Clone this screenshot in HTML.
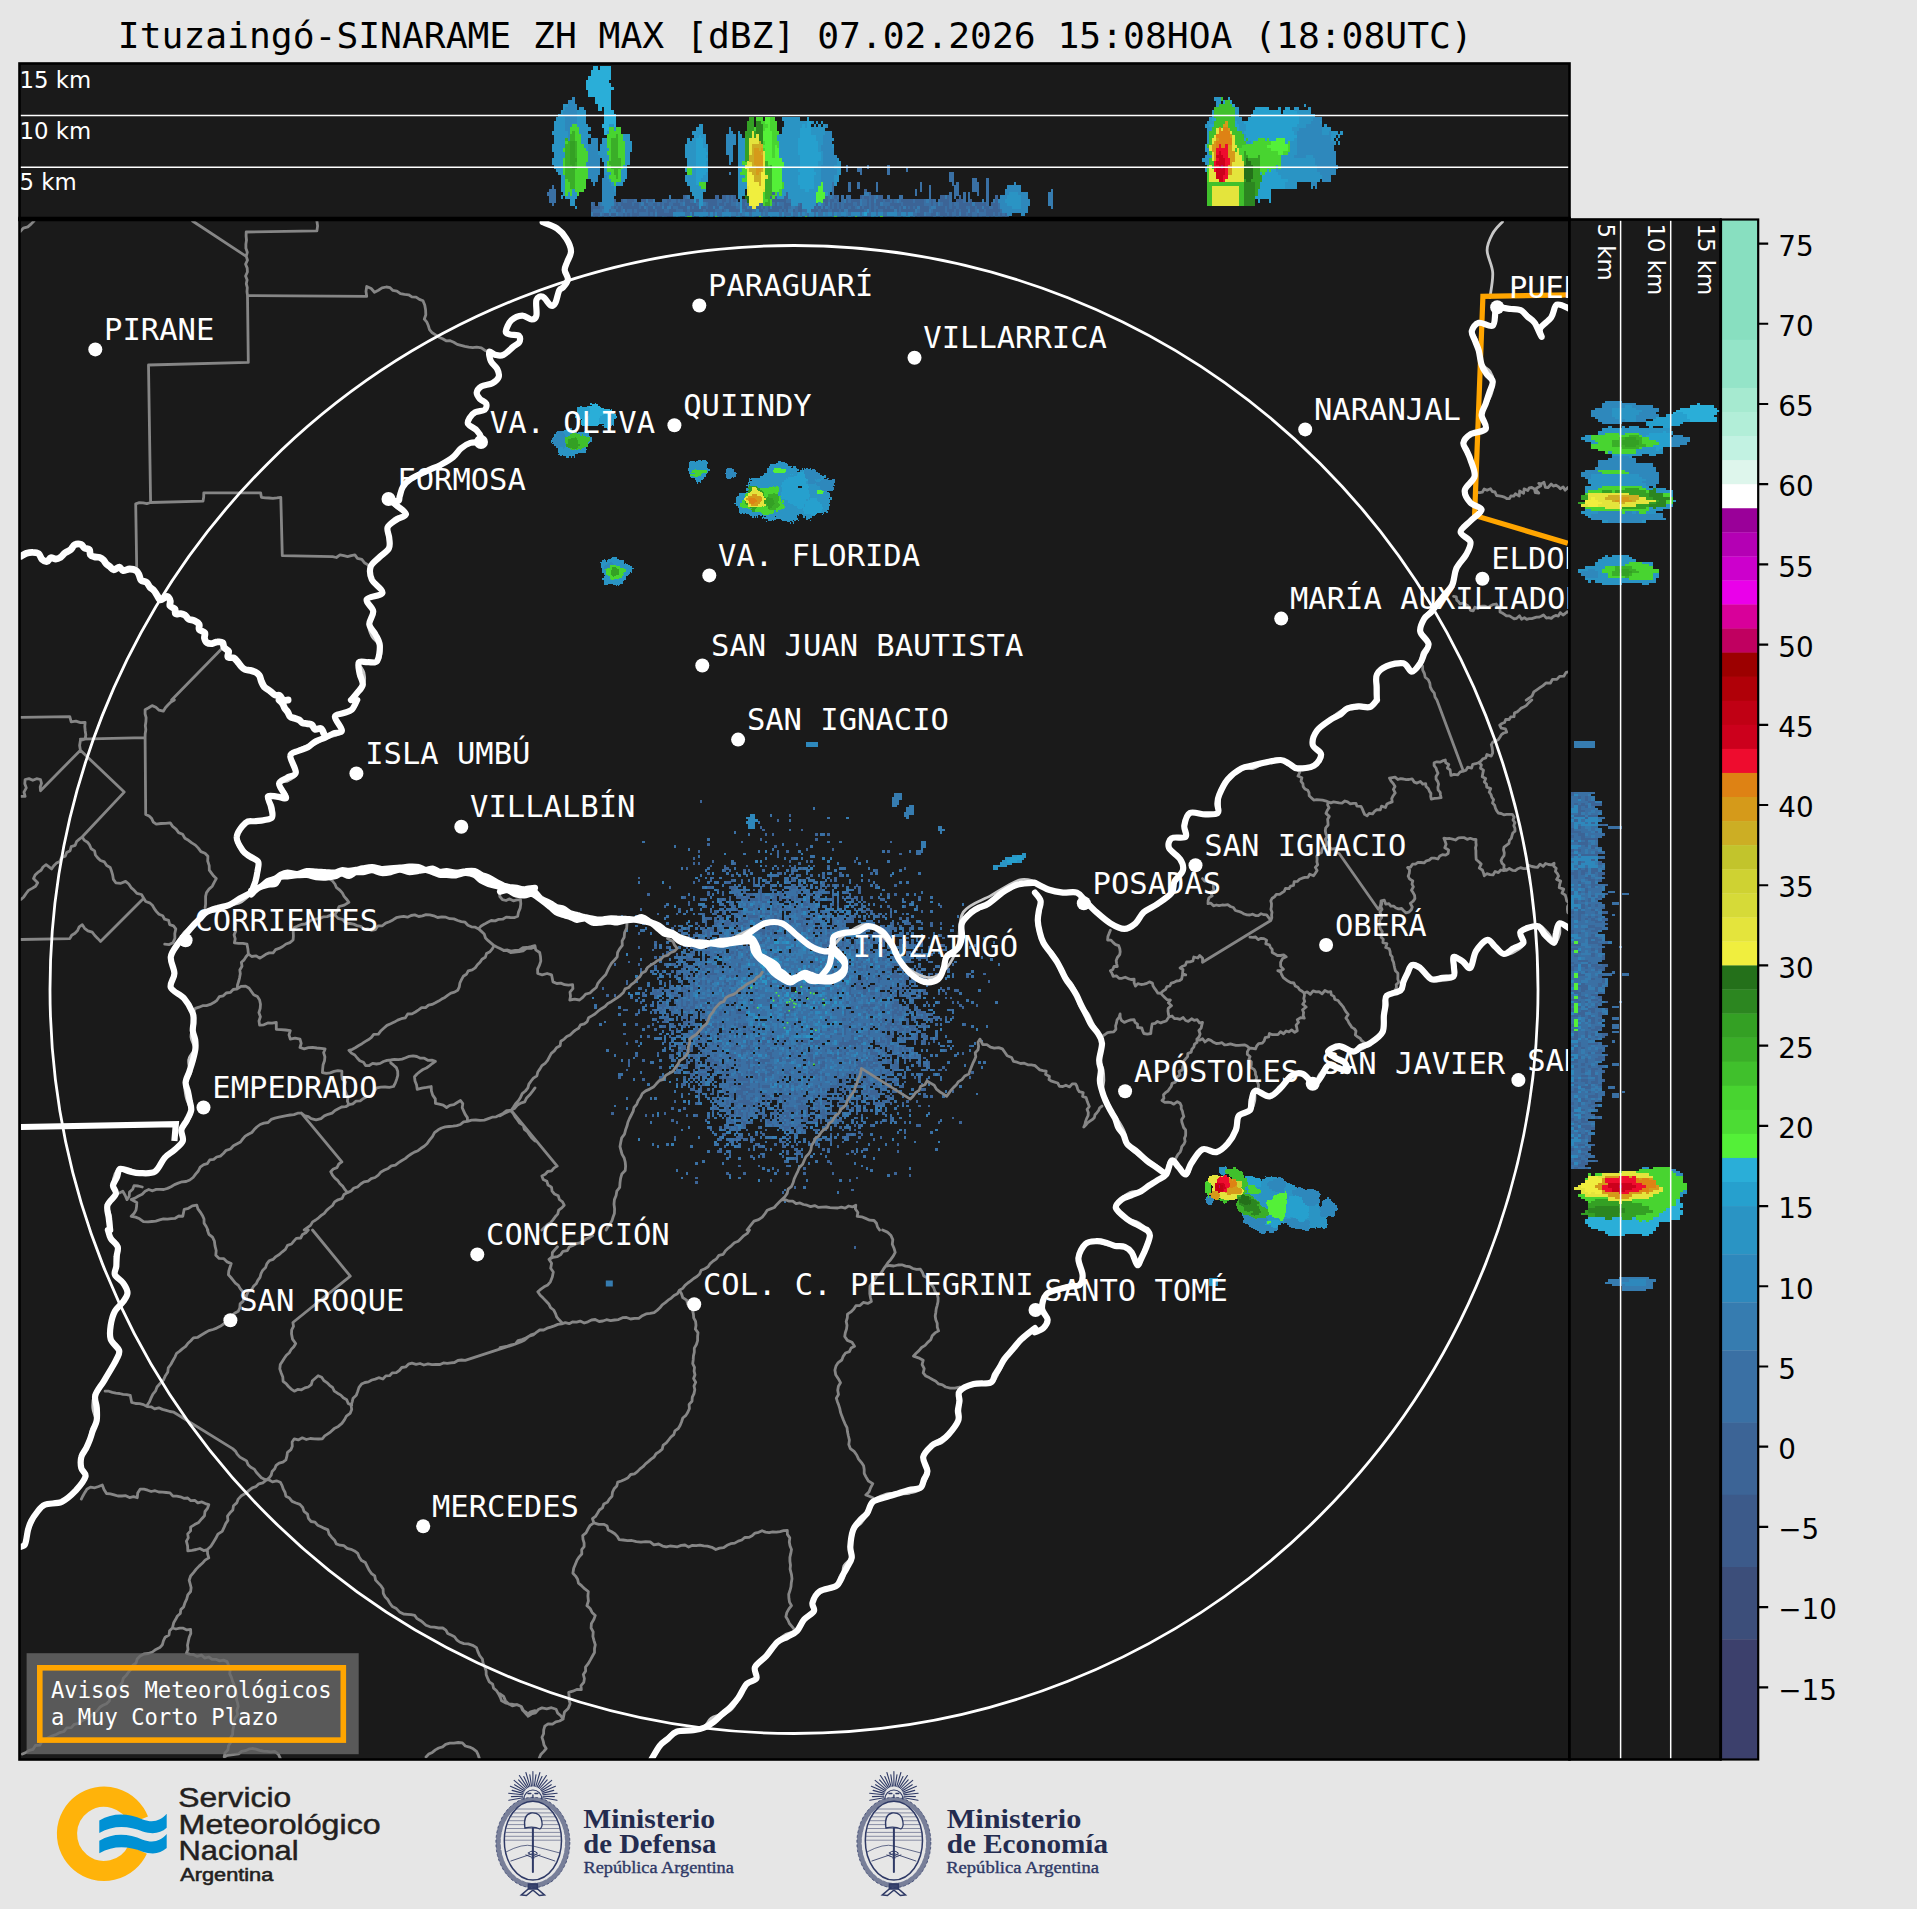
<!DOCTYPE html>
<html lang="es"><head><meta charset="utf-8"><title>Ituzaingó-SINARAME ZH MAX</title>
<style>html,body{margin:0;padding:0;background:#e6e6e6}body{width:1917px;height:1909px}svg{display:block}
.c{font-family:"DejaVu Sans Mono","Liberation Mono",monospace;font-size:30.5px;fill:#fff}.km{font-family:"DejaVu Sans","Liberation Sans",sans-serif;font-size:22.8px;fill:#fff}.tk{font-family:"DejaVu Sans","Liberation Sans",sans-serif;font-size:27.8px;fill:#000}
.ti{font-family:"DejaVu Sans Mono","Liberation Mono",monospace;font-size:36.3px;fill:#000}.lt{font-family:"DejaVu Sans Mono","Liberation Mono",monospace;font-size:22.2px;fill:#fff}
.g{fill:none;stroke:#868686;stroke-width:2.8;stroke-linejoin:round;stroke-linecap:round}
.w{fill:none;stroke:#fff;stroke-width:6.2;stroke-linejoin:round;stroke-linecap:round}
.W{fill:none;stroke:#fff;stroke-width:8;stroke-linejoin:round;stroke-linecap:round}
.lg{fill:none;stroke:#c8c8c8;stroke-width:2.8;stroke-linejoin:round;stroke-linecap:round}
.o{fill:none;stroke:#ffa500;stroke-width:5.2;stroke-linejoin:miter}
</style></head><body>
<svg width="1917" height="1909" viewBox="0 0 1917 1909">
<rect width="1917" height="1909" fill="#e6e6e6"/>
<defs><clipPath id="cm"><rect x="19.5" y="219.5" width="1550" height="1540"/></clipPath>
<clipPath id="ct"><rect x="19.5" y="63.5" width="1550" height="155"/></clipPath>
<clipPath id="cr"><rect x="1570.5" y="219.5" width="150" height="1540"/></clipPath></defs>
<text x="795.3" y="47.6" text-anchor="middle" class="ti">Ituzaingó-SINARAME ZH MAX [dBZ] 07.02.2026 15:08HOA (18:08UTC)</text>
<rect x="19.5" y="63.5" width="1550" height="155" fill="#1a1a1a"/>
<rect x="19.5" y="219.5" width="1550" height="1540" fill="#1a1a1a"/>
<rect x="1570.5" y="219.5" width="150" height="1540" fill="#1a1a1a"/>
<g clip-path="url(#ct)">
<g shape-rendering="crispEdges" fill="none" stroke-width="3.7"><path stroke="#3c6496" d="M864.3 190.5h2.3M772.3 193.9h2.3M786.1 193.9h2.3M868.9 193.9h2.3M682.6 197.3h2.3M714.8 197.3h4.6M721.7 197.3h4.6M728.6 197.3h2.3M733.2 197.3h2.3M770 197.3h2.3M774.6 197.3h2.3M783.8 197.3h4.6M825.2 197.3h2.3M834.4 197.3h2.3M859.7 197.3h2.3M864.3 197.3h4.6M871.2 197.3h2.3M878.1 197.3h4.6M940.2 197.3h4.6M947.1 197.3h2.3M958.6 197.3h2.3M995.4 197.3h2.3M613.6 200.7h2.3M620.5 200.7h2.3M627.4 200.7h6.9M641.2 200.7h4.6M648.1 200.7h4.6M666.5 200.7h4.6M675.7 200.7h2.3M680.3 200.7h2.3M684.9 200.7h4.6M696.4 200.7h2.3M703.3 200.7h13.8M721.7 200.7h4.6M728.6 200.7h2.3M733.2 200.7h2.3M742.4 200.7h4.6M772.3 200.7h13.8M822.9 200.7h4.6M829.8 200.7h4.6M836.7 200.7h2.3M845.9 200.7h2.3M850.5 200.7h9.2M866.6 200.7h2.3M871.2 200.7h2.3M875.8 200.7h6.9M885 200.7h4.6M891.9 200.7h2.3M901.1 200.7h11.5M914.9 200.7h9.2M931 200.7h2.3M940.2 200.7h9.2M956.3 200.7h6.9M970.1 200.7h2.3M995.4 200.7h2.3M592.9 204.1h2.3M615.9 204.1h2.3M620.5 204.1h11.5M634.3 204.1h4.6M643.5 204.1h4.6M652.7 204.1h4.6M659.6 204.1h2.3M664.2 204.1h4.6M673.4 204.1h6.9M684.9 204.1h11.5M707.9 204.1h9.2M719.4 204.1h4.6M726.3 204.1h4.6M742.4 204.1h2.3M747 204.1h2.3M760.8 204.1h2.3M774.6 204.1h2.3M783.8 204.1h6.9M799.9 204.1h2.3M816 204.1h2.3M825.2 204.1h2.3M829.8 204.1h2.3M834.4 204.1h2.3M839 204.1h2.3M843.6 204.1h9.2M857.4 204.1h2.3M866.6 204.1h2.3M871.2 204.1h2.3M875.8 204.1h4.6M889.6 204.1h11.5M903.4 204.1h20.7M931 204.1h2.3M935.6 204.1h2.3M942.5 204.1h6.9M951.7 204.1h2.3M958.6 204.1h13.8M974.7 204.1h11.5M990.8 204.1h6.9M590.6 207.5h9.2M613.6 207.5h2.3M618.2 207.5h2.3M622.8 207.5h16.1M641.2 207.5h2.3M648.1 207.5h4.6M655 207.5h6.9M664.2 207.5h2.3M671.1 207.5h2.3M678 207.5h9.2M689.5 207.5h2.3M694.1 207.5h4.6M701 207.5h4.6M707.9 207.5h4.6M714.8 207.5h4.6M724 207.5h11.5M742.4 207.5h4.6M756.2 207.5h4.6M763.1 207.5h2.3M767.7 207.5h2.3M772.3 207.5h9.2M783.8 207.5h4.6M797.6 207.5h4.6M813.7 207.5h2.3M818.3 207.5h2.3M822.9 207.5h2.3M829.8 207.5h2.3M834.4 207.5h2.3M839 207.5h2.3M843.6 207.5h4.6M850.5 207.5h4.6M859.7 207.5h2.3M864.3 207.5h4.6M871.2 207.5h2.3M878.1 207.5h6.9M887.3 207.5h2.3M894.2 207.5h4.6M901.1 207.5h2.3M905.7 207.5h2.3M910.3 207.5h2.3M914.9 207.5h2.3M919.5 207.5h9.2M935.6 207.5h9.2M947.1 207.5h2.3M951.7 207.5h4.6M958.6 207.5h6.9M970.1 207.5h4.6M977 207.5h4.6M983.9 207.5h4.6M993.1 207.5h4.6M590.6 210.9h2.3M615.9 210.9h4.6M625.1 210.9h2.3M632 210.9h2.3M636.6 210.9h9.2M648.1 210.9h6.9M657.3 210.9h6.9M668.8 210.9h6.9M682.6 210.9h4.6M689.5 210.9h13.8M705.6 210.9h9.2M721.7 210.9h2.3M728.6 210.9h11.5M744.7 210.9h6.9M758.5 210.9h4.6M767.7 210.9h11.5M781.5 210.9h2.3M786.1 210.9h2.3M793 210.9h2.3M797.6 210.9h4.6M811.4 210.9h6.9M820.6 210.9h6.9M832.1 210.9h6.9M841.3 210.9h2.3M848.2 210.9h16.1M871.2 210.9h2.3M875.8 210.9h2.3M882.7 210.9h11.5M896.5 210.9h2.3M901.1 210.9h13.8M919.5 210.9h9.2M933.3 210.9h11.5M947.1 210.9h6.9M956.3 210.9h2.3M960.9 210.9h6.9M970.1 210.9h4.6M979.3 210.9h4.6M986.2 210.9h13.8M592.9 214.3h6.9M604.4 214.3h4.6M611.3 214.3h4.6M622.8 214.3h2.3M627.4 214.3h2.3M632 214.3h6.9M648.1 214.3h2.3M652.7 214.3h2.3M657.3 214.3h16.1M691.8 214.3h2.3M917.2 214.3h6.9M931 214.3h4.6M940.2 214.3h6.9M949.4 214.3h2.3M956.3 214.3h2.3M960.9 214.3h4.6M967.8 214.3h4.6M977 214.3h2.3M986.2 214.3h6.9M995.4 214.3h2.3M1000 214.3h2.3M1004.6 214.3h2.3M590.6 217.7h2.3M595.2 217.7h2.3M602.1 217.7h2.3M609 217.7h2.3M615.9 217.7h4.6M622.8 217.7h2.3M627.4 217.7h2.3M632 217.7h4.6M638.9 217.7h16.1M657.3 217.7h4.6M666.5 217.7h6.9M694.1 217.7h2.3M712.5 217.7h2.3M914.9 217.7h2.3M919.5 217.7h13.8M935.6 217.7h4.6M942.5 217.7h2.3M947.1 217.7h4.6M954 217.7h2.3M958.6 217.7h9.2M970.1 217.7h2.3M977 217.7h2.3M981.6 217.7h4.6M988.5 217.7h2.3M993.1 217.7h2.3M1002.3 217.7h2.3M1006.9 217.7h2.3"/><path stroke="#3a70a4" d="M845.9 166.7h2.3M866.6 166.7h2.3M887.3 166.7h2.3M845.9 170.1h2.3M857.4 170.1h4.6M887.3 170.1h2.3M905.7 170.1h2.3M859.7 173.5h2.3M887.3 173.5h2.3M949.4 173.5h4.6M949.4 176.9h4.6M949.4 180.3h4.6M972.4 180.3h4.6M986.2 180.3h2.3M832.1 183.7h2.3M848.2 183.7h2.3M857.4 183.7h2.3M875.8 183.7h2.3M919.5 183.7h2.3M951.7 183.7h2.3M956.3 183.7h2.3M972.4 183.7h6.9M986.2 183.7h2.3M551.5 187.1h2.3M832.1 187.1h2.3M848.2 187.1h2.3M857.4 187.1h2.3M875.8 187.1h2.3M919.5 187.1h2.3M928.7 187.1h2.3M954 187.1h4.6M972.4 187.1h6.9M986.2 187.1h2.3M549.2 190.5h6.9M832.1 190.5h2.3M848.2 190.5h2.3M875.8 190.5h2.3M914.9 190.5h2.3M919.5 190.5h2.3M928.7 190.5h2.3M954 190.5h4.6M972.4 190.5h6.9M986.2 190.5h2.3M546.9 193.9h9.2M832.1 193.9h2.3M914.9 193.9h2.3M928.7 193.9h2.3M949.4 193.9h2.3M954 193.9h4.6M963.2 193.9h2.3M967.8 193.9h2.3M977 193.9h2.3M986.2 193.9h2.3M549.2 197.3h6.9M684.9 197.3h2.3M726.3 197.3h2.3M730.9 197.3h2.3M827.5 197.3h2.3M832.1 197.3h2.3M836.7 197.3h2.3M841.3 197.3h2.3M845.9 197.3h4.6M862 197.3h2.3M868.9 197.3h2.3M873.5 197.3h2.3M887.3 197.3h2.3M898.8 197.3h4.6M928.7 197.3h2.3M949.4 197.3h2.3M954 197.3h2.3M963.2 197.3h2.3M967.8 197.3h2.3M986.2 197.3h2.3M549.2 200.7h6.9M622.8 200.7h4.6M634.3 200.7h2.3M661.9 200.7h4.6M671.1 200.7h4.6M678 200.7h2.3M682.6 200.7h2.3M689.5 200.7h4.6M717.1 200.7h4.6M726.3 200.7h2.3M730.9 200.7h2.3M735.5 200.7h2.3M786.1 200.7h4.6M827.5 200.7h2.3M834.4 200.7h2.3M841.3 200.7h2.3M848.2 200.7h2.3M862 200.7h4.6M868.9 200.7h2.3M882.7 200.7h2.3M889.6 200.7h2.3M894.2 200.7h2.3M898.8 200.7h2.3M912.6 200.7h2.3M924.1 200.7h2.3M928.7 200.7h2.3M933.3 200.7h2.3M937.9 200.7h2.3M949.4 200.7h2.3M963.2 200.7h2.3M967.8 200.7h2.3M986.2 200.7h2.3M551.5 204.1h2.3M590.6 204.1h2.3M597.5 204.1h2.3M613.6 204.1h2.3M618.2 204.1h2.3M632 204.1h2.3M638.9 204.1h2.3M648.1 204.1h4.6M657.3 204.1h2.3M661.9 204.1h2.3M668.8 204.1h4.6M680.3 204.1h2.3M696.4 204.1h2.3M705.6 204.1h2.3M717.1 204.1h2.3M724 204.1h2.3M730.9 204.1h4.6M737.8 204.1h2.3M744.7 204.1h2.3M758.5 204.1h2.3M772.3 204.1h2.3M779.2 204.1h4.6M797.6 204.1h2.3M822.9 204.1h2.3M832.1 204.1h2.3M836.7 204.1h2.3M841.3 204.1h2.3M852.8 204.1h4.6M862 204.1h4.6M868.9 204.1h2.3M873.5 204.1h2.3M882.7 204.1h6.9M901.1 204.1h2.3M924.1 204.1h6.9M933.3 204.1h2.3M940.2 204.1h2.3M949.4 204.1h2.3M954 204.1h4.6M986.2 204.1h2.3M997.7 204.1h2.3M599.8 207.5h4.6M611.3 207.5h2.3M615.9 207.5h2.3M620.5 207.5h2.3M638.9 207.5h2.3M645.8 207.5h2.3M673.4 207.5h4.6M691.8 207.5h2.3M705.6 207.5h2.3M721.7 207.5h2.3M735.5 207.5h4.6M749.3 207.5h2.3M760.8 207.5h2.3M765.4 207.5h2.3M781.5 207.5h2.3M788.4 207.5h2.3M795.3 207.5h2.3M816 207.5h2.3M827.5 207.5h2.3M832.1 207.5h2.3M836.7 207.5h2.3M841.3 207.5h2.3M848.2 207.5h2.3M855.1 207.5h2.3M862 207.5h2.3M868.9 207.5h2.3M873.5 207.5h4.6M885 207.5h2.3M889.6 207.5h4.6M898.8 207.5h2.3M908 207.5h2.3M912.6 207.5h2.3M928.7 207.5h2.3M944.8 207.5h2.3M949.4 207.5h2.3M956.3 207.5h2.3M965.5 207.5h4.6M974.7 207.5h2.3M988.5 207.5h4.6M997.7 207.5h2.3M592.9 210.9h9.2M609 210.9h2.3M620.5 210.9h2.3M627.4 210.9h4.6M634.3 210.9h2.3M645.8 210.9h2.3M655 210.9h2.3M664.2 210.9h4.6M675.7 210.9h6.9M687.2 210.9h2.3M703.3 210.9h2.3M714.8 210.9h6.9M724 210.9h2.3M742.4 210.9h2.3M751.6 210.9h4.6M763.1 210.9h4.6M779.2 210.9h2.3M783.8 210.9h2.3M795.3 210.9h2.3M802.2 210.9h4.6M818.3 210.9h2.3M827.5 210.9h4.6M839 210.9h2.3M864.3 210.9h2.3M868.9 210.9h2.3M873.5 210.9h2.3M878.1 210.9h4.6M898.8 210.9h2.3M917.2 210.9h2.3M931 210.9h2.3M944.8 210.9h2.3M954 210.9h2.3M958.6 210.9h2.3M974.7 210.9h2.3M983.9 210.9h2.3M1000 210.9h2.3M602.1 214.3h2.3M618.2 214.3h4.6M625.1 214.3h2.3M629.7 214.3h2.3M638.9 214.3h9.2M650.4 214.3h2.3M684.9 214.3h4.6M707.9 214.3h2.3M712.5 214.3h2.3M717.1 214.3h4.6M735.5 214.3h2.3M740.1 214.3h2.3M749.3 214.3h2.3M760.8 214.3h2.3M765.4 214.3h2.3M779.2 214.3h2.3M783.8 214.3h6.9M793 214.3h4.6M799.9 214.3h2.3M806.8 214.3h2.3M813.7 214.3h2.3M818.3 214.3h4.6M832.1 214.3h2.3M848.2 214.3h2.3M859.7 214.3h2.3M866.6 214.3h4.6M875.8 214.3h2.3M882.7 214.3h4.6M896.5 214.3h4.6M905.7 214.3h2.3M912.6 214.3h4.6M926.4 214.3h4.6M937.9 214.3h2.3M947.1 214.3h2.3M951.7 214.3h4.6M965.5 214.3h2.3M972.4 214.3h4.6M979.3 214.3h6.9M993.1 214.3h2.3M997.7 214.3h2.3M1002.3 214.3h2.3M592.9 217.7h2.3M599.8 217.7h2.3M606.7 217.7h2.3M613.6 217.7h2.3M620.5 217.7h2.3M625.1 217.7h2.3M629.7 217.7h2.3M636.6 217.7h2.3M664.2 217.7h2.3M680.3 217.7h4.6M696.4 217.7h2.3M705.6 217.7h2.3M730.9 217.7h4.6M742.4 217.7h2.3M756.2 217.7h2.3M767.7 217.7h2.3M783.8 217.7h2.3M793 217.7h2.3M802.2 217.7h2.3M813.7 217.7h2.3M841.3 217.7h2.3M852.8 217.7h2.3M862 217.7h9.2M878.1 217.7h2.3M882.7 217.7h11.5M901.1 217.7h2.3M910.3 217.7h2.3M917.2 217.7h2.3M944.8 217.7h2.3M951.7 217.7h2.3M967.8 217.7h2.3M979.3 217.7h2.3M990.8 217.7h2.3M997.7 217.7h4.6M1004.6 217.7h2.3"/><path stroke="#367cb0" d="M728.6 173.5h2.3M1050.6 190.5h2.3M827.5 193.9h2.3M864.3 193.9h4.6M1048.3 193.9h4.6M668.8 197.3h2.3M687.2 197.3h2.3M829.8 197.3h2.3M875.8 197.3h2.3M944.8 197.3h2.3M1048.3 197.3h4.6M645.8 200.7h2.3M652.7 200.7h2.3M843.6 200.7h2.3M859.7 200.7h2.3M873.5 200.7h2.3M896.5 200.7h2.3M926.4 200.7h2.3M981.6 200.7h2.3M993.1 200.7h2.3M1048.3 200.7h4.6M599.8 204.1h2.3M641.2 204.1h2.3M682.6 204.1h2.3M703.3 204.1h2.3M735.5 204.1h2.3M776.9 204.1h2.3M820.6 204.1h2.3M827.5 204.1h2.3M859.7 204.1h2.3M880.4 204.1h2.3M937.9 204.1h2.3M972.4 204.1h2.3M1048.3 204.1h4.6M643.5 207.5h2.3M652.7 207.5h2.3M661.9 207.5h2.3M666.5 207.5h4.6M687.2 207.5h2.3M712.5 207.5h2.3M719.4 207.5h2.3M747 207.5h2.3M770 207.5h2.3M790.7 207.5h4.6M820.6 207.5h2.3M825.2 207.5h2.3M857.4 207.5h2.3M903.4 207.5h2.3M917.2 207.5h2.3M931 207.5h4.6M981.6 207.5h2.3M1050.6 207.5h2.3M602.1 210.9h2.3M611.3 210.9h4.6M622.8 210.9h2.3M726.3 210.9h2.3M788.4 210.9h4.6M843.6 210.9h4.6M894.2 210.9h2.3M914.9 210.9h2.3M928.7 210.9h2.3M967.8 210.9h2.3M977 210.9h2.3M590.6 214.3h2.3M599.8 214.3h2.3M609 214.3h2.3M615.9 214.3h2.3M655 214.3h2.3M730.9 214.3h4.6M737.8 214.3h2.3M742.4 214.3h2.3M763.1 214.3h2.3M804.5 214.3h2.3M825.2 214.3h2.3M836.7 214.3h4.6M845.9 214.3h2.3M924.1 214.3h2.3M935.6 214.3h2.3M958.6 214.3h2.3M597.5 217.7h2.3M604.4 217.7h2.3M611.3 217.7h2.3M655 217.7h2.3M661.9 217.7h2.3M744.7 217.7h2.3M829.8 217.7h2.3M845.9 217.7h2.3M933.3 217.7h2.3M940.2 217.7h2.3M956.3 217.7h2.3M972.4 217.7h4.6M986.2 217.7h2.3M995.4 217.7h2.3"/><path stroke="#2e88bc" d="M572.2 98.7h2.3M567.6 102.1h6.9M567.6 105.5h9.2M565.3 108.9h11.5M563 112.3h13.8M563 115.7h13.8M565.3 119.1h11.5M1312.8 119.1h9.2M565.3 122.5h11.5M1310.5 122.5h9.2M565.3 125.9h6.9M825.2 125.9h2.3M1305.9 125.9h16.1M565.3 129.3h4.6M728.6 129.3h2.3M1299 129.3h23M567.6 132.7h2.3M728.6 132.7h4.6M825.2 132.7h6.9M1296.7 132.7h25.3M1328.9 132.7h2.3M567.6 136.1h2.3M726.3 136.1h9.2M822.9 136.1h9.2M1296.7 136.1h34.5M567.6 139.5h2.3M590.6 139.5h6.9M726.3 139.5h9.2M822.9 139.5h9.2M1296.7 139.5h34.5M590.6 142.9h6.9M726.3 142.9h9.2M822.9 142.9h9.2M1296.7 142.9h36.8M588.3 146.3h9.2M726.3 146.3h6.9M820.6 146.3h11.5M1296.7 146.3h36.8M588.3 149.7h9.2M726.3 149.7h6.9M820.6 149.7h13.8M1296.7 149.7h36.8M588.3 153.1h9.2M726.3 153.1h6.9M822.9 153.1h11.5M1296.7 153.1h39.1M588.3 156.5h11.5M728.6 156.5h4.6M822.9 156.5h13.8M1294.4 156.5h11.5M1312.8 156.5h23M588.3 159.9h11.5M728.6 159.9h4.6M822.9 159.9h13.8M1315.1 159.9h20.7M586 163.3h13.8M728.6 163.3h2.3M822.9 163.3h13.8M1315.1 163.3h20.7M586 166.7h13.8M820.6 166.7h13.8M1317.4 166.7h20.7M588.3 170.1h11.5M820.6 170.1h16.1M1317.4 170.1h18.4M588.3 173.5h11.5M820.6 173.5h16.1M1319.7 173.5h16.1M588.3 176.9h9.2M604.4 176.9h2.3M820.6 176.9h13.8M1322 176.9h9.2M590.6 180.3h6.9M602.1 180.3h6.9M820.6 180.3h13.8M1322 180.3h9.2M592.9 183.7h2.3M602.1 183.7h9.2M822.9 183.7h9.2M1013.8 183.7h2.3M1310.5 183.7h6.9M602.1 187.1h11.5M822.9 187.1h9.2M1006.9 187.1h13.8M1315.1 187.1h2.3M602.1 190.5h11.5M822.9 190.5h9.2M1004.6 190.5h16.1M602.1 193.9h13.8M1004.6 193.9h4.6M1018.4 193.9h9.2M602.1 197.3h11.5M1000 197.3h6.9M1020.7 197.3h6.9M602.1 200.7h11.5M997.7 200.7h6.9M1020.7 200.7h9.2M602.1 204.1h11.5M1000 204.1h6.9M1020.7 204.1h9.2M604.4 207.5h6.9M1000 207.5h11.5M1020.7 207.5h6.9M604.4 210.9h4.6M756.2 210.9h2.3M866.6 210.9h2.3M1002.3 210.9h25.3M673.4 214.3h11.5M689.5 214.3h2.3M694.1 214.3h13.8M710.2 214.3h2.3M714.8 214.3h2.3M721.7 214.3h9.2M744.7 214.3h4.6M751.6 214.3h9.2M767.7 214.3h11.5M781.5 214.3h2.3M790.7 214.3h2.3M797.6 214.3h2.3M802.2 214.3h2.3M809.1 214.3h4.6M816 214.3h2.3M822.9 214.3h2.3M827.5 214.3h4.6M834.4 214.3h2.3M841.3 214.3h4.6M850.5 214.3h9.2M862 214.3h2.3M871.2 214.3h4.6M878.1 214.3h4.6M887.3 214.3h9.2M901.1 214.3h4.6M908 214.3h4.6M1006.9 214.3h4.6M1020.7 214.3h4.6M673.4 217.7h2.3M678 217.7h2.3M691.8 217.7h2.3M703.3 217.7h2.3M707.9 217.7h2.3M719.4 217.7h2.3M724 217.7h4.6M740.1 217.7h2.3M747 217.7h4.6M753.9 217.7h2.3M763.1 217.7h4.6M772.3 217.7h4.6M779.2 217.7h2.3M790.7 217.7h2.3M795.3 217.7h2.3M806.8 217.7h2.3M818.3 217.7h11.5M832.1 217.7h2.3M836.7 217.7h4.6M843.6 217.7h2.3M850.5 217.7h2.3M857.4 217.7h4.6M873.5 217.7h2.3M894.2 217.7h6.9M903.4 217.7h2.3M912.6 217.7h2.3"/><path stroke="#26a0ce" d="M1227.7 98.7h2.3M1223.1 102.1h2.3M1230 102.1h2.3M1232.3 105.5h2.3M1255.3 108.9h13.8M1278.3 108.9h2.3M1285.2 108.9h4.6M1253 112.3h27.6M1282.9 112.3h13.8M1250.7 115.7h48.3M806.8 119.1h2.3M1211.6 119.1h4.6M1248.4 119.1h50.6M806.8 122.5h4.6M1234.6 122.5h2.3M1243.8 122.5h55.2M802.2 125.9h2.3M806.8 125.9h4.6M1209.3 125.9h4.6M1234.6 125.9h4.6M1246.1 125.9h50.6M799.9 129.3h11.5M1236.9 129.3h2.3M1246.1 129.3h46M799.9 132.7h11.5M1243.8 132.7h50.6M698.7 136.1h2.3M799.9 136.1h16.1M1246.1 136.1h50.6M696.4 139.5h6.9M797.6 139.5h18.4M1243.8 139.5h2.3M1248.4 139.5h9.2M1264.5 139.5h2.3M1269.1 139.5h6.9M1285.2 139.5h9.2M696.4 142.9h6.9M797.6 142.9h20.7M1250.7 142.9h2.3M1285.2 142.9h2.3M696.4 146.3h6.9M797.6 146.3h20.7M696.4 149.7h9.2M797.6 149.7h20.7M696.4 153.1h11.5M797.6 153.1h23M696.4 156.5h9.2M799.9 156.5h20.7M696.4 159.9h11.5M799.9 159.9h20.7M696.4 163.3h9.2M799.9 163.3h18.4M696.4 166.7h9.2M799.9 166.7h18.4M696.4 170.1h11.5M797.6 170.1h16.1M1266.8 170.1h2.3M1271.4 170.1h4.6M696.4 173.5h9.2M799.9 173.5h16.1M1259.9 173.5h2.3M1264.5 173.5h13.8M696.4 176.9h6.9M797.6 176.9h16.1M1262.2 176.9h18.4M696.4 180.3h4.6M797.6 180.3h16.1M1262.2 180.3h25.3M696.4 183.7h2.3M797.6 183.7h16.1M1259.9 183.7h25.3M799.9 187.1h13.8M1259.9 187.1h25.3M804.5 190.5h4.6M1257.6 190.5h13.8M1257.6 193.9h13.8M1255.3 197.3h16.1M1257.6 200.7h2.3M1269.1 200.7h2.3M864.3 214.3h2.3M675.7 217.7h2.3M684.9 217.7h2.3M698.7 217.7h4.6M710.2 217.7h2.3M717.1 217.7h2.3M721.7 217.7h2.3M728.6 217.7h2.3M735.5 217.7h4.6M751.6 217.7h2.3M760.8 217.7h2.3M770 217.7h2.3M776.9 217.7h2.3M781.5 217.7h2.3M786.1 217.7h4.6M797.6 217.7h4.6M809.1 217.7h4.6M816 217.7h2.3M848.2 217.7h2.3M871.2 217.7h2.3M875.8 217.7h2.3M905.7 217.7h4.6"/><path stroke="#54f038" d="M765.4 119.1h4.6M765.4 122.5h4.6M767.7 125.9h2.3M765.4 129.3h4.6M763.1 132.7h9.2M763.1 136.1h9.2M763.1 139.5h9.2M1276 139.5h9.2M765.4 142.9h6.9M1271.4 142.9h13.8M763.1 146.3h9.2M774.6 146.3h2.3M1266.8 146.3h20.7M765.4 149.7h6.9M774.6 149.7h4.6M1271.4 149.7h16.1M765.4 153.1h6.9M774.6 153.1h4.6M1278.3 153.1h4.6M765.4 156.5h6.9M774.6 156.5h4.6M765.4 159.9h16.1M767.7 163.3h16.1M772.3 166.7h11.5M772.3 170.1h9.2M772.3 173.5h9.2M772.3 176.9h9.2M772.3 180.3h9.2M772.3 183.7h9.2M820.6 183.7h2.3M772.3 187.1h9.2M818.3 187.1h4.6M772.3 190.5h6.9M818.3 190.5h4.6M816 193.9h9.2M816 197.3h9.2M816 200.7h6.9M687.2 217.7h4.6M714.8 217.7h2.3M758.5 217.7h2.3M804.5 217.7h2.3M834.4 217.7h2.3M855.1 217.7h2.3M880.4 217.7h2.3"/><path stroke="#2aaed8" d="M592.9 68.1h4.6M599.8 68.1h11.5M590.6 71.5h20.7M590.6 74.9h20.7M588.3 78.3h23M586 81.7h23M586 85.1h25.3M586 88.5h27.6M588.3 91.9h23M588.3 95.3h23M595.2 98.7h16.1M595.2 102.1h16.1M597.5 105.5h13.8M597.5 108.9h4.6M604.4 108.9h6.9M604.4 112.3h9.2M604.4 115.7h11.5M604.4 119.1h11.5M604.4 122.5h11.5M602.1 125.9h6.9M613.6 125.9h2.3M604.4 129.3h4.6M604.4 132.7h2.3"/><path stroke="#2a94c4" d="M1213.9 98.7h6.9M1216.2 102.1h4.6M563 105.5h4.6M1216.2 105.5h2.3M1303.6 105.5h2.3M563 108.9h2.3M579.1 108.9h4.6M1234.6 108.9h4.6M1294.4 108.9h4.6M1308.2 108.9h2.3M560.7 112.3h2.3M576.8 112.3h9.2M1211.6 112.3h2.3M1234.6 112.3h4.6M1296.7 112.3h13.8M558.4 115.7h4.6M576.8 115.7h9.2M1211.6 115.7h2.3M1234.6 115.7h4.6M1299 115.7h16.1M556.1 119.1h9.2M576.8 119.1h9.2M781.5 119.1h18.4M1209.3 119.1h2.3M1234.6 119.1h6.9M1299 119.1h13.8M553.8 122.5h11.5M576.8 122.5h9.2M783.8 122.5h23M811.4 122.5h2.3M816 122.5h2.3M820.6 122.5h2.3M1207 122.5h6.9M1236.9 122.5h6.9M1299 122.5h11.5M1319.7 122.5h2.3M553.8 125.9h11.5M576.8 125.9h11.5M609 125.9h4.6M698.7 125.9h4.6M783.8 125.9h18.4M804.5 125.9h2.3M813.7 125.9h2.3M818.3 125.9h2.3M822.9 125.9h2.3M1204.7 125.9h4.6M1239.2 125.9h6.9M1296.7 125.9h9.2M1324.3 125.9h2.3M553.8 129.3h11.5M579.1 129.3h11.5M613.6 129.3h2.3M696.4 129.3h6.9M781.5 129.3h18.4M811.4 129.3h13.8M1207 129.3h4.6M1239.2 129.3h6.9M1292.1 129.3h6.9M1322 129.3h9.2M551.5 132.7h16.1M579.1 132.7h9.2M606.7 132.7h2.3M691.8 132.7h11.5M737.8 132.7h2.3M781.5 132.7h18.4M811.4 132.7h13.8M1207 132.7h2.3M1241.5 132.7h2.3M1294.4 132.7h2.3M1322 132.7h6.9M1331.2 132.7h6.9M1340.4 132.7h2.3M553.8 136.1h13.8M581.4 136.1h9.2M622.8 136.1h6.9M694.1 136.1h4.6M701 136.1h4.6M737.8 136.1h4.6M776.9 136.1h23M816 136.1h6.9M1207 136.1h2.3M1243.8 136.1h2.3M1331.2 136.1h4.6M1338.1 136.1h2.3M553.8 139.5h11.5M581.4 139.5h6.9M602.1 139.5h4.6M622.8 139.5h6.9M687.2 139.5h2.3M691.8 139.5h4.6M703.3 139.5h2.3M737.8 139.5h6.9M776.9 139.5h20.7M816 139.5h6.9M832.1 139.5h2.3M1207 139.5h2.3M1294.4 139.5h2.3M1331.2 139.5h2.3M1335.8 139.5h2.3M553.8 142.9h11.5M581.4 142.9h6.9M602.1 142.9h4.6M625.1 142.9h6.9M687.2 142.9h9.2M703.3 142.9h2.3M737.8 142.9h6.9M779.2 142.9h18.4M818.3 142.9h4.6M1207 142.9h2.3M1246.1 142.9h4.6M1289.8 142.9h6.9M1333.5 142.9h2.3M1338.1 142.9h2.3M551.5 146.3h13.8M583.7 146.3h4.6M599.8 146.3h6.9M625.1 146.3h6.9M684.9 146.3h11.5M703.3 146.3h4.6M737.8 146.3h6.9M779.2 146.3h18.4M818.3 146.3h2.3M832.1 146.3h2.3M1204.7 146.3h2.3M1289.8 146.3h6.9M551.5 149.7h11.5M586 149.7h2.3M599.8 149.7h9.2M625.1 149.7h6.9M684.9 149.7h11.5M705.6 149.7h2.3M737.8 149.7h6.9M779.2 149.7h18.4M818.3 149.7h2.3M1204.7 149.7h4.6M1289.8 149.7h6.9M553.8 153.1h11.5M597.5 153.1h9.2M625.1 153.1h4.6M684.9 153.1h11.5M737.8 153.1h6.9M779.2 153.1h18.4M820.6 153.1h2.3M1207 153.1h2.3M1287.5 153.1h9.2M553.8 156.5h11.5M599.8 156.5h9.2M625.1 156.5h4.6M684.9 156.5h11.5M705.6 156.5h2.3M737.8 156.5h6.9M779.2 156.5h20.7M820.6 156.5h2.3M1204.7 156.5h6.9M1280.6 156.5h13.8M1305.9 156.5h6.9M551.5 159.9h11.5M602.1 159.9h6.9M625.1 159.9h4.6M687.2 159.9h9.2M737.8 159.9h6.9M781.5 159.9h18.4M820.6 159.9h2.3M836.7 159.9h2.3M1202.4 159.9h6.9M1280.6 159.9h34.5M551.5 163.3h11.5M604.4 163.3h2.3M625.1 163.3h4.6M687.2 163.3h9.2M705.6 163.3h2.3M737.8 163.3h4.6M783.8 163.3h16.1M818.3 163.3h4.6M836.7 163.3h4.6M1204.7 163.3h4.6M1280.6 163.3h34.5M553.8 166.7h9.2M604.4 166.7h2.3M622.8 166.7h4.6M687.2 166.7h9.2M705.6 166.7h2.3M737.8 166.7h6.9M783.8 166.7h16.1M818.3 166.7h2.3M834.4 166.7h6.9M1276 166.7h2.3M1280.6 166.7h36.8M556.1 170.1h6.9M604.4 170.1h2.3M620.5 170.1h6.9M684.9 170.1h2.3M691.8 170.1h4.6M737.8 170.1h4.6M781.5 170.1h16.1M813.7 170.1h6.9M836.7 170.1h4.6M1204.7 170.1h2.3M1276 170.1h41.4M558.4 173.5h4.6M604.4 173.5h6.9M620.5 173.5h6.9M691.8 173.5h4.6M705.6 173.5h2.3M737.8 173.5h2.3M781.5 173.5h18.4M816 173.5h4.6M836.7 173.5h4.6M1278.3 173.5h41.4M560.7 176.9h4.6M606.7 176.9h2.3M620.5 176.9h6.9M684.9 176.9h11.5M703.3 176.9h4.6M737.8 176.9h6.9M781.5 176.9h16.1M813.7 176.9h6.9M834.4 176.9h4.6M1280.6 176.9h41.4M560.7 180.3h4.6M609 180.3h2.3M620.5 180.3h4.6M684.9 180.3h11.5M701 180.3h6.9M737.8 180.3h4.6M781.5 180.3h16.1M813.7 180.3h6.9M834.4 180.3h4.6M1287.5 180.3h32.2M560.7 183.7h4.6M611.3 183.7h2.3M615.9 183.7h6.9M687.2 183.7h9.2M737.8 183.7h9.2M783.8 183.7h13.8M813.7 183.7h6.9M834.4 183.7h2.3M1285.2 183.7h11.5M560.7 187.1h4.6M613.6 187.1h2.3M689.5 187.1h11.5M737.8 187.1h9.2M783.8 187.1h16.1M813.7 187.1h4.6M1285.2 187.1h11.5M1310.5 187.1h2.3M560.7 190.5h4.6M572.2 190.5h2.3M613.6 190.5h2.3M689.5 190.5h16.1M737.8 190.5h6.9M781.5 190.5h23M809.1 190.5h9.2M563 193.9h2.3M567.6 193.9h2.3M572.2 193.9h4.6M691.8 193.9h11.5M737.8 193.9h6.9M776.9 193.9h2.3M781.5 193.9h4.6M788.4 193.9h27.6M825.2 193.9h2.3M1009.2 193.9h9.2M560.7 197.3h2.3M565.3 197.3h11.5M694.1 197.3h9.2M737.8 197.3h4.6M776.9 197.3h6.9M788.4 197.3h27.6M1006.9 197.3h13.8M569.9 200.7h4.6M694.1 200.7h2.3M698.7 200.7h4.6M740.1 200.7h2.3M790.7 200.7h25.3M1004.6 200.7h16.1M569.9 204.1h4.6M698.7 204.1h4.6M740.1 204.1h2.3M790.7 204.1h6.9M802.2 204.1h13.8M818.3 204.1h2.3M1006.9 204.1h13.8M574.5 207.5h2.3M698.7 207.5h2.3M740.1 207.5h2.3M802.2 207.5h11.5M1011.5 207.5h9.2M740.1 210.9h2.3M806.8 210.9h4.6"/><path stroke="#48d430" d="M756.2 119.1h6.9M770 119.1h4.6M760.8 122.5h4.6M770 122.5h6.9M572.2 125.9h4.6M763.1 125.9h4.6M770 125.9h6.9M569.9 129.3h9.2M609 129.3h4.6M615.9 129.3h4.6M753.9 129.3h2.3M763.1 129.3h2.3M770 129.3h6.9M569.9 132.7h2.3M574.5 132.7h4.6M609 132.7h11.5M772.3 132.7h6.9M574.5 136.1h6.9M606.7 136.1h9.2M618.2 136.1h4.6M772.3 136.1h4.6M574.5 139.5h6.9M606.7 139.5h4.6M618.2 139.5h4.6M772.3 139.5h4.6M1257.6 139.5h6.9M1266.8 139.5h2.3M565.3 142.9h2.3M576.8 142.9h4.6M606.7 142.9h4.6M618.2 142.9h6.9M763.1 142.9h2.3M772.3 142.9h6.9M1253 142.9h18.4M1287.5 142.9h2.3M576.8 146.3h6.9M606.7 146.3h4.6M618.2 146.3h6.9M772.3 146.3h2.3M776.9 146.3h2.3M1241.5 146.3h25.3M1287.5 146.3h2.3M563 149.7h2.3M576.8 149.7h9.2M609 149.7h2.3M618.2 149.7h6.9M763.1 149.7h2.3M772.3 149.7h2.3M1239.2 149.7h32.2M1287.5 149.7h2.3M576.8 153.1h11.5M606.7 153.1h4.6M618.2 153.1h6.9M772.3 153.1h2.3M1239.2 153.1h4.6M1246.1 153.1h32.2M1282.9 153.1h4.6M576.8 156.5h11.5M609 156.5h2.3M618.2 156.5h6.9M772.3 156.5h2.3M1241.5 156.5h2.3M1248.4 156.5h9.2M1259.9 156.5h20.7M563 159.9h2.3M576.8 159.9h11.5M609 159.9h2.3M620.5 159.9h4.6M1241.5 159.9h2.3M1259.9 159.9h20.7M563 163.3h2.3M576.8 163.3h9.2M606.7 163.3h2.3M620.5 163.3h4.6M742.4 163.3h4.6M1259.9 163.3h20.7M563 166.7h2.3M576.8 166.7h9.2M606.7 166.7h4.6M620.5 166.7h2.3M767.7 166.7h2.3M1207 166.7h2.3M1259.9 166.7h16.1M1278.3 166.7h2.3M563 170.1h2.3M574.5 170.1h13.8M606.7 170.1h6.9M618.2 170.1h2.3M687.2 170.1h4.6M742.4 170.1h4.6M1207 170.1h2.3M1259.9 170.1h6.9M1269.1 170.1h2.3M563 173.5h2.3M574.5 173.5h13.8M611.3 173.5h2.3M618.2 173.5h2.3M687.2 173.5h4.6M740.1 173.5h6.9M1207 173.5h2.3M1262.2 173.5h2.3M574.5 176.9h13.8M609 176.9h6.9M618.2 176.9h2.3M744.7 176.9h2.3M1207 176.9h2.3M565.3 180.3h2.3M574.5 180.3h11.5M611.3 180.3h9.2M742.4 180.3h4.6M1207 180.3h2.3M565.3 183.7h4.6M574.5 183.7h11.5M613.6 183.7h2.3M698.7 183.7h6.9M781.5 183.7h2.3M565.3 187.1h4.6M574.5 187.1h11.5M701 187.1h4.6M781.5 187.1h2.3M565.3 190.5h6.9M574.5 190.5h9.2M779.2 190.5h2.3M565.3 193.9h2.3M569.9 193.9h2.3M576.8 193.9h2.3M763.1 193.9h2.3M774.6 193.9h2.3M779.2 193.9h2.3M763.1 197.3h2.3M772.3 197.3h2.3M763.1 200.7h4.6M770 200.7h2.3M763.1 204.1h2.3M770 204.1h2.3"/><path stroke="#3aae28" d="M572.2 132.7h2.3M569.9 136.1h4.6M615.9 136.1h2.3M565.3 139.5h2.3M569.9 139.5h4.6M611.3 139.5h6.9M567.6 142.9h2.3M574.5 142.9h2.3M611.3 142.9h6.9M565.3 146.3h4.6M574.5 146.3h2.3M611.3 146.3h6.9M565.3 149.7h4.6M574.5 149.7h2.3M611.3 149.7h6.9M565.3 153.1h4.6M574.5 153.1h2.3M611.3 153.1h6.9M565.3 156.5h4.6M574.5 156.5h2.3M611.3 156.5h6.9M565.3 159.9h4.6M611.3 159.9h9.2M565.3 163.3h4.6M574.5 163.3h2.3M609 163.3h11.5M765.4 163.3h2.3M565.3 166.7h6.9M574.5 166.7h2.3M611.3 166.7h9.2M765.4 166.7h2.3M770 166.7h2.3M565.3 170.1h9.2M613.6 170.1h4.6M765.4 170.1h6.9M565.3 173.5h9.2M613.6 173.5h4.6M765.4 173.5h6.9M565.3 176.9h9.2M615.9 176.9h2.3M767.7 176.9h4.6M567.6 180.3h6.9M765.4 180.3h6.9M569.9 183.7h4.6M765.4 183.7h6.9M569.9 187.1h4.6M765.4 187.1h6.9M765.4 190.5h6.9M765.4 193.9h6.9M765.4 197.3h4.6M767.7 200.7h2.3M765.4 204.1h4.6"/><path stroke="#34a024" d="M749.3 119.1h4.6M747 122.5h6.9M747 125.9h6.9M747 129.3h6.9M744.7 132.7h6.9M753.9 132.7h2.3M744.7 136.1h6.9M753.9 136.1h2.3M744.7 139.5h4.6M569.9 142.9h4.6M744.7 142.9h4.6M569.9 146.3h4.6M744.7 146.3h4.6M569.9 149.7h4.6M744.7 149.7h4.6M569.9 153.1h4.6M744.7 153.1h4.6M1243.8 153.1h2.3M569.9 156.5h4.6M744.7 156.5h4.6M1243.8 156.5h4.6M1257.6 156.5h2.3M569.9 159.9h6.9M744.7 159.9h4.6M1243.8 159.9h2.3M1248.4 159.9h11.5M569.9 163.3h4.6M1243.8 163.3h2.3M1250.7 163.3h9.2M572.2 166.7h2.3M1253 166.7h6.9M1253 170.1h6.9M1253 173.5h6.9M1253 176.9h9.2M1243.8 180.3h2.3M1250.7 180.3h11.5M1255.3 183.7h4.6M1255.3 187.1h4.6M1255.3 190.5h2.3M1255.3 193.9h2.3"/><path stroke="#2c8620" d="M756.2 122.5h4.6M756.2 125.9h6.9M756.2 129.3h6.9M756.2 132.7h6.9M758.5 136.1h4.6M758.5 139.5h4.6M760.8 142.9h2.3M1243.8 183.7h11.5M1243.8 187.1h11.5M1243.8 190.5h11.5M1243.8 193.9h11.5M1243.8 197.3h11.5M1243.8 200.7h11.5M1243.8 204.1h11.5"/><path stroke="#24701a" d="M1246.1 159.9h2.3M1246.1 163.3h4.6M1243.8 166.7h9.2M1243.8 170.1h9.2M1243.8 173.5h9.2M1243.8 176.9h9.2M1246.1 180.3h4.6M744.7 197.3h4.6M747 200.7h2.3"/><path stroke="#e4e43c" d="M1216.2 129.3h2.3M1220.8 129.3h2.3M751.6 132.7h2.3M1216.2 132.7h2.3M1230 132.7h2.3M751.6 136.1h2.3M756.2 136.1h2.3M1213.9 136.1h2.3M1232.3 136.1h2.3M749.3 139.5h9.2M1211.6 139.5h4.6M1232.3 139.5h2.3M749.3 142.9h9.2M1211.6 142.9h2.3M1232.3 142.9h2.3M749.3 146.3h2.3M1209.3 146.3h2.3M1232.3 146.3h4.6M749.3 149.7h2.3M1209.3 149.7h2.3M1232.3 149.7h2.3M1236.9 149.7h2.3M749.3 153.1h2.3M763.1 153.1h2.3M1211.6 153.1h2.3M1234.6 153.1h4.6M763.1 156.5h2.3M1211.6 156.5h2.3M1234.6 156.5h6.9M763.1 159.9h2.3M1211.6 159.9h2.3M1234.6 159.9h6.9M747 163.3h4.6M763.1 163.3h2.3M1232.3 163.3h11.5M744.7 166.7h4.6M763.1 166.7h2.3M1209.3 166.7h2.3M1232.3 166.7h11.5M747 170.1h2.3M763.1 170.1h2.3M1209.3 170.1h4.6M1232.3 170.1h11.5M1209.3 173.5h6.9M1232.3 173.5h11.5M765.4 176.9h2.3M1209.3 176.9h6.9M1227.7 176.9h16.1M1209.3 180.3h9.2M1225.4 180.3h18.4M747 187.1h2.3M1211.6 187.1h27.6M747 190.5h2.3M763.1 190.5h2.3M1211.6 190.5h27.6M747 193.9h2.3M1211.6 193.9h27.6M1211.6 197.3h27.6M1211.6 200.7h27.6M1211.6 204.1h27.6M751.6 207.5h4.6"/><path stroke="#f0ee3e" d="M749.3 166.7h2.3M747 173.5h4.6M760.8 173.5h4.6M747 176.9h6.9M760.8 176.9h4.6M747 180.3h6.9M760.8 180.3h4.6M747 183.7h11.5M760.8 183.7h4.6M749.3 187.1h16.1M749.3 190.5h13.8M749.3 193.9h13.8M749.3 197.3h13.8M749.3 200.7h13.8M749.3 204.1h9.2"/><path stroke="#ccae24" d="M758.5 142.9h2.3M751.6 146.3h11.5M751.6 149.7h2.3M758.5 149.7h2.3M751.6 153.1h2.3M760.8 153.1h2.3M749.3 156.5h4.6M749.3 159.9h4.6M751.6 163.3h2.3M751.6 166.7h4.6M749.3 170.1h6.9M760.8 170.1h2.3M751.6 173.5h4.6M758.5 173.5h2.3M753.9 176.9h6.9M753.9 180.3h6.9M758.5 183.7h2.3"/><path stroke="#d59a1a" d="M1225.4 122.5h2.3M1223.1 125.9h4.6M1227.7 129.3h2.3M1230 136.1h2.3M1216.2 139.5h2.3M1213.9 142.9h2.3M1211.6 146.3h4.6M1227.7 146.3h4.6M753.9 149.7h4.6M760.8 149.7h2.3M1211.6 149.7h4.6M1227.7 149.7h4.6M753.9 153.1h6.9M1213.9 153.1h2.3M1227.7 153.1h6.9M753.9 156.5h9.2M1213.9 156.5h2.3M1227.7 156.5h6.9M753.9 159.9h9.2M1213.9 159.9h2.3M1230 159.9h4.6M753.9 163.3h9.2M1230 163.3h2.3M756.2 166.7h6.9M1227.7 166.7h4.6M756.2 170.1h4.6M1227.7 170.1h4.6M756.2 173.5h2.3M1227.7 173.5h4.6"/><path stroke="#40c02c" d="M1220.8 98.7h2.3M1225.4 102.1h4.6M1218.5 105.5h13.8M1213.9 108.9h20.7M1213.9 112.3h20.7M1213.9 115.7h20.7M1216.2 119.1h18.4M1213.9 122.5h11.5M1227.7 122.5h6.9M1213.9 125.9h9.2M1227.7 125.9h6.9M1211.6 129.3h4.6M1230 129.3h6.9M1209.3 132.7h6.9M1232.3 132.7h9.2M1209.3 136.1h4.6M1234.6 136.1h9.2M1209.3 139.5h2.3M1234.6 139.5h9.2M1246.1 139.5h2.3M1209.3 142.9h2.3M1234.6 142.9h11.5M1207 146.3h2.3M1236.9 146.3h4.6M1234.6 149.7h2.3M1209.3 153.1h2.3M1209.3 159.9h2.3M1209.3 163.3h4.6M1211.6 166.7h2.3M1207 183.7h36.8M1207 187.1h4.6M1239.2 187.1h4.6M1207 190.5h4.6M1239.2 190.5h4.6M1207 193.9h4.6M1239.2 193.9h4.6M1207 197.3h4.6M1239.2 197.3h4.6M1207 200.7h4.6M1239.2 200.7h4.6M1207 204.1h4.6M1239.2 204.1h4.6"/><path stroke="#de8214" d="M1218.5 129.3h2.3M1223.1 129.3h4.6M1218.5 132.7h11.5M1216.2 136.1h13.8M1218.5 139.5h13.8M1216.2 142.9h16.1M1216.2 146.3h2.3M1220.8 146.3h4.6"/><path stroke="#ee0c2e" d="M1218.5 146.3h2.3M1225.4 146.3h2.3M1216.2 149.7h11.5M1216.2 153.1h2.3M1220.8 153.1h6.9M1223.1 156.5h4.6M1216.2 159.9h2.3M1225.4 159.9h4.6M1213.9 163.3h2.3M1225.4 163.3h4.6M1213.9 166.7h4.6M1225.4 166.7h2.3M1213.9 170.1h2.3M1225.4 170.1h2.3M1225.4 173.5h2.3M1223.1 176.9h4.6M1223.1 180.3h2.3"/><path stroke="#cc001c" d="M1218.5 153.1h2.3M1216.2 156.5h6.9M1218.5 159.9h6.9M1216.2 163.3h9.2M1218.5 166.7h2.3M1223.1 166.7h2.3M1216.2 170.1h9.2M1216.2 173.5h9.2M1216.2 176.9h6.9M1218.5 180.3h4.6"/><path stroke="#c00060" d="M1220.8 166.7h2.3"/></g>
<path d="M19.5 115.5H1569.5 M19.5 167.2H1569.5" stroke="#fff" stroke-width="1.5" fill="none"/>
</g>
<text class="km" x="19.5" y="87.9">15 km</text><text class="km" x="19.5" y="138.8">10 km</text><text class="km" x="19.5" y="190">5 km</text>
<g clip-path="url(#cm)">
<g shape-rendering="crispEdges" fill="none" stroke-width="2.7"><path stroke="#3a70a4" d="M812.8 808.4h2.4M769.6 815.6h2.4M827.2 818h2.4M788.8 820.4h2.4M757.6 822.8h2.4M788.8 830h2.4M733.6 832.4h2.4M748 834.8h2.4M820 834.8h4.8M707.2 839.6h2.4M642.4 842h2.4M764.8 842h2.4M827.2 842h2.4M839.2 842h2.4M781.6 844.4h2.4M673.6 846.8h2.4M810.4 846.8h2.4M688 849.2h2.4M772 849.2h2.4M757.6 851.6h2.4M798.4 851.6h2.4M882.4 851.6h2.4M908.8 851.6h2.4M916 851.6h7.2M743.2 854h2.4M769.6 854h2.4M916 854h4.8M697.6 856.4h2.4M810.4 856.4h4.8M764.8 858.8h2.4M784 858.8h2.4M793.6 858.8h4.8M800.8 858.8h2.4M856 858.8h2.4M731.2 861.2h2.4M865.6 861.2h2.4M887.2 861.2h2.4M731.2 863.6h2.4M836.8 863.6h2.4M858.4 863.6h2.4M774.4 866h2.4M808 866h2.4M680.8 868.4h2.4M707.2 868.4h2.4M733.6 868.4h2.4M772 868.4h2.4M793.6 868.4h2.4M798.4 868.4h2.4M803.2 868.4h4.8M827.2 868.4h2.4M839.2 868.4h7.2M868 868.4h2.4M704.8 870.8h2.4M721.6 870.8h2.4M786.4 870.8h2.4M791.2 870.8h2.4M796 870.8h2.4M805.6 870.8h4.8M834.4 870.8h2.4M872.8 870.8h2.4M899.2 870.8h2.4M726.4 873.2h2.4M736 873.2h2.4M743.2 873.2h2.4M750.4 873.2h2.4M784 873.2h2.4M805.6 873.2h2.4M822.4 873.2h2.4M827.2 873.2h4.8M875.2 873.2h2.4M918.4 873.2h2.4M700 875.6h2.4M738.4 875.6h2.4M745.6 875.6h2.4M767.2 875.6h12M788.8 875.6h2.4M796 875.6h2.4M817.6 875.6h2.4M841.6 875.6h2.4M846.4 875.6h2.4M889.6 875.6h2.4M704.8 878h2.4M709.6 878h2.4M719.2 878h2.4M752.8 878h2.4M757.6 878h2.4M784 878h4.8M793.6 878h4.8M808 878h2.4M822.4 878h2.4M827.2 878h2.4M733.6 880.4h2.4M748 880.4h2.4M757.6 880.4h2.4M784 880.4h4.8M803.2 880.4h2.4M808 880.4h7.2M824.8 880.4h2.4M848.8 880.4h2.4M860.8 880.4h2.4M637.6 882.8h2.4M707.2 882.8h2.4M714.4 882.8h4.8M724 882.8h2.4M740.8 882.8h2.4M757.6 882.8h2.4M767.2 882.8h2.4M786.4 882.8h4.8M798.4 882.8h2.4M812.8 882.8h4.8M848.8 882.8h2.4M872.8 882.8h2.4M899.2 882.8h2.4M906.4 882.8h2.4M721.6 885.2h2.4M733.6 885.2h2.4M738.4 885.2h2.4M755.2 885.2h4.8M772 885.2h4.8M779.2 885.2h2.4M791.2 885.2h2.4M798.4 885.2h2.4M810.4 885.2h2.4M822.4 885.2h2.4M834.4 885.2h2.4M870.4 885.2h2.4M702.4 887.6h2.4M712 887.6h2.4M736 887.6h2.4M743.2 887.6h2.4M760 887.6h2.4M769.6 887.6h2.4M784 887.6h7.2M796 887.6h2.4M803.2 887.6h2.4M810.4 887.6h2.4M815.2 887.6h2.4M834.4 887.6h2.4M846.4 887.6h2.4M875.2 887.6h2.4M733.6 890h14.4M772 890h2.4M781.6 890h2.4M791.2 890h7.2M800.8 890h4.8M808 890h2.4M822.4 890h2.4M832 890h2.4M848.8 890h4.8M882.4 890h2.4M716.8 892.4h2.4M731.2 892.4h9.6M757.6 892.4h2.4M772 892.4h2.4M784 892.4h12M798.4 892.4h2.4M803.2 892.4h7.2M817.6 892.4h9.6M832 892.4h2.4M841.6 892.4h4.8M920.8 892.4h2.4M688 894.8h2.4M712 894.8h2.4M733.6 894.8h2.4M738.4 894.8h2.4M752.8 894.8h7.2M762.4 894.8h2.4M769.6 894.8h4.8M776.8 894.8h2.4M781.6 894.8h2.4M786.4 894.8h12M800.8 894.8h2.4M805.6 894.8h4.8M815.2 894.8h4.8M832 894.8h4.8M848.8 894.8h2.4M880 894.8h2.4M906.4 894.8h2.4M913.6 894.8h2.4M680.8 897.2h2.4M692.8 897.2h2.4M709.6 897.2h2.4M743.2 897.2h2.4M755.2 897.2h4.8M762.4 897.2h2.4M772 897.2h2.4M781.6 897.2h4.8M788.8 897.2h2.4M793.6 897.2h2.4M805.6 897.2h2.4M812.8 897.2h4.8M824.8 897.2h2.4M836.8 897.2h2.4M846.4 897.2h2.4M877.6 897.2h2.4M887.2 897.2h2.4M930.4 897.2h2.4M704.8 899.6h2.4M721.6 899.6h2.4M740.8 899.6h2.4M745.6 899.6h2.4M757.6 899.6h2.4M762.4 899.6h7.2M793.6 899.6h2.4M798.4 899.6h2.4M805.6 899.6h4.8M815.2 899.6h2.4M820 899.6h2.4M829.6 899.6h2.4M836.8 899.6h2.4M844 899.6h2.4M901.6 899.6h2.4M918.4 899.6h2.4M712 902h2.4M719.2 902h2.4M728.8 902h4.8M736 902h4.8M743.2 902h9.6M755.2 902h2.4M760 902h2.4M769.6 902h9.6M786.4 902h2.4M798.4 902h2.4M805.6 902h4.8M832 902h2.4M836.8 902h2.4M846.4 902h2.4M851.2 902h2.4M858.4 902h2.4M884.8 902h2.4M901.6 902h4.8M911.2 902h2.4M666.4 904.4h2.4M697.6 904.4h2.4M719.2 904.4h4.8M731.2 904.4h2.4M740.8 904.4h2.4M748 904.4h2.4M755.2 904.4h7.2M764.8 904.4h4.8M772 904.4h4.8M779.2 904.4h2.4M793.6 904.4h2.4M798.4 904.4h2.4M808 904.4h7.2M848.8 904.4h2.4M856 904.4h2.4M860.8 904.4h2.4M868 904.4h2.4M872.8 904.4h2.4M908.8 904.4h2.4M937.6 904.4h2.4M961.6 904.4h2.4M702.4 906.8h2.4M712 906.8h2.4M731.2 906.8h2.4M740.8 906.8h4.8M748 906.8h4.8M755.2 906.8h2.4M760 906.8h2.4M764.8 906.8h4.8M774.4 906.8h2.4M779.2 906.8h2.4M786.4 906.8h2.4M791.2 906.8h2.4M796 906.8h4.8M803.2 906.8h2.4M808 906.8h7.2M817.6 906.8h2.4M822.4 906.8h4.8M836.8 906.8h2.4M851.2 906.8h2.4M863.2 906.8h2.4M880 906.8h2.4M916 906.8h2.4M690.4 909.2h2.4M700 909.2h2.4M709.6 909.2h2.4M719.2 909.2h4.8M726.4 909.2h9.6M752.8 909.2h4.8M764.8 909.2h2.4M776.8 909.2h4.8M786.4 909.2h14.4M810.4 909.2h2.4M815.2 909.2h2.4M829.6 909.2h2.4M839.2 909.2h2.4M844 909.2h2.4M858.4 909.2h4.8M916 909.2h2.4M678.4 911.6h2.4M685.6 911.6h2.4M716.8 911.6h2.4M724 911.6h2.4M728.8 911.6h2.4M740.8 911.6h2.4M755.2 911.6h2.4M764.8 911.6h4.8M772 911.6h4.8M791.2 911.6h4.8M798.4 911.6h4.8M805.6 911.6h4.8M822.4 911.6h7.2M834.4 911.6h2.4M839.2 911.6h2.4M860.8 911.6h2.4M889.6 911.6h2.4M894.4 911.6h2.4M930.4 911.6h2.4M683.2 914h2.4M692.8 914h2.4M700 914h2.4M712 914h2.4M724 914h2.4M731.2 914h7.2M740.8 914h2.4M748 914h4.8M755.2 914h4.8M762.4 914h2.4M776.8 914h4.8M784 914h2.4M788.8 914h4.8M796 914h4.8M805.6 914h2.4M810.4 914h7.2M827.2 914h2.4M836.8 914h2.4M848.8 914h2.4M853.6 914h4.8M870.4 914h2.4M880 914h2.4M884.8 914h2.4M906.4 914h2.4M620.8 916.4h2.4M635.2 916.4h2.4M666.4 916.4h2.4M702.4 916.4h2.4M716.8 916.4h2.4M726.4 916.4h4.8M733.6 916.4h9.6M745.6 916.4h2.4M757.6 916.4h2.4M764.8 916.4h2.4M769.6 916.4h4.8M776.8 916.4h4.8M786.4 916.4h4.8M796 916.4h4.8M803.2 916.4h9.6M815.2 916.4h2.4M822.4 916.4h4.8M839.2 916.4h4.8M848.8 916.4h4.8M858.4 916.4h2.4M868 916.4h2.4M872.8 916.4h4.8M911.2 916.4h2.4M956.8 916.4h2.4M664 918.8h2.4M702.4 918.8h2.4M719.2 918.8h2.4M743.2 918.8h2.4M750.4 918.8h9.6M767.2 918.8h7.2M776.8 918.8h2.4M784 918.8h4.8M791.2 918.8h2.4M798.4 918.8h4.8M815.2 918.8h2.4M820 918.8h2.4M827.2 918.8h2.4M832 918.8h4.8M839.2 918.8h4.8M846.4 918.8h4.8M872.8 918.8h2.4M702.4 921.2h2.4M714.4 921.2h2.4M719.2 921.2h2.4M724 921.2h2.4M728.8 921.2h2.4M733.6 921.2h2.4M738.4 921.2h4.8M748 921.2h2.4M752.8 921.2h16.8M772 921.2h2.4M776.8 921.2h2.4M781.6 921.2h4.8M803.2 921.2h7.2M815.2 921.2h4.8M822.4 921.2h2.4M834.4 921.2h2.4M839.2 921.2h2.4M844 921.2h2.4M858.4 921.2h2.4M865.6 921.2h7.2M892 921.2h2.4M901.6 921.2h7.2M916 921.2h4.8M642.4 923.6h2.4M666.4 923.6h2.4M685.6 923.6h2.4M716.8 923.6h4.8M731.2 923.6h2.4M736 923.6h2.4M743.2 923.6h7.2M755.2 923.6h7.2M764.8 923.6h24M791.2 923.6h4.8M803.2 923.6h2.4M808 923.6h4.8M820 923.6h2.4M834.4 923.6h12M863.2 923.6h2.4M870.4 923.6h4.8M904 923.6h2.4M635.2 926h2.4M659.2 926h2.4M678.4 926h4.8M688 926h2.4M712 926h7.2M721.6 926h2.4M728.8 926h7.2M738.4 926h2.4M745.6 926h4.8M772 926h4.8M779.2 926h12M793.6 926h2.4M798.4 926h2.4M808 926h4.8M817.6 926h2.4M824.8 926h4.8M836.8 926h4.8M844 926h2.4M858.4 926h4.8M868 926h2.4M880 926h2.4M889.6 926h2.4M952 926h2.4M644.8 928.4h2.4M661.6 928.4h4.8M680.8 928.4h2.4M688 928.4h2.4M695.2 928.4h2.4M700 928.4h2.4M712 928.4h2.4M716.8 928.4h7.2M743.2 928.4h2.4M752.8 928.4h2.4M757.6 928.4h2.4M764.8 928.4h2.4M769.6 928.4h7.2M781.6 928.4h12M796 928.4h7.2M805.6 928.4h4.8M817.6 928.4h2.4M822.4 928.4h4.8M834.4 928.4h2.4M839.2 928.4h9.6M860.8 928.4h2.4M868 928.4h7.2M880 928.4h2.4M884.8 928.4h4.8M901.6 928.4h2.4M911.2 928.4h2.4M918.4 928.4h4.8M940 928.4h2.4M640 930.8h4.8M666.4 930.8h2.4M702.4 930.8h4.8M709.6 930.8h2.4M719.2 930.8h2.4M724 930.8h2.4M728.8 930.8h4.8M740.8 930.8h16.8M764.8 930.8h7.2M774.4 930.8h2.4M781.6 930.8h2.4M788.8 930.8h14.4M805.6 930.8h2.4M810.4 930.8h2.4M815.2 930.8h2.4M820 930.8h4.8M829.6 930.8h7.2M846.4 930.8h4.8M853.6 930.8h2.4M858.4 930.8h4.8M865.6 930.8h4.8M882.4 930.8h9.6M894.4 930.8h2.4M901.6 930.8h2.4M949.6 930.8h2.4M649.6 933.2h2.4M668.8 933.2h2.4M676 933.2h2.4M683.2 933.2h4.8M704.8 933.2h2.4M712 933.2h7.2M728.8 933.2h2.4M733.6 933.2h2.4M750.4 933.2h12M764.8 933.2h2.4M781.6 933.2h2.4M786.4 933.2h4.8M805.6 933.2h2.4M810.4 933.2h2.4M815.2 933.2h2.4M822.4 933.2h2.4M827.2 933.2h4.8M846.4 933.2h2.4M858.4 933.2h7.2M877.6 933.2h4.8M899.2 933.2h2.4M906.4 933.2h2.4M911.2 933.2h2.4M932.8 933.2h2.4M695.2 935.6h2.4M700 935.6h2.4M709.6 935.6h2.4M719.2 935.6h7.2M728.8 935.6h2.4M736 935.6h2.4M750.4 935.6h2.4M760 935.6h4.8M767.2 935.6h16.8M791.2 935.6h7.2M803.2 935.6h2.4M808 935.6h4.8M817.6 935.6h2.4M822.4 935.6h4.8M839.2 935.6h7.2M858.4 935.6h2.4M872.8 935.6h4.8M882.4 935.6h9.6M894.4 935.6h2.4M899.2 935.6h2.4M937.6 935.6h2.4M690.4 938h4.8M700 938h4.8M719.2 938h2.4M724 938h2.4M728.8 938h2.4M738.4 938h4.8M748 938h7.2M762.4 938h2.4M774.4 938h4.8M784 938h4.8M791.2 938h4.8M803.2 938h2.4M815.2 938h2.4M820 938h9.6M832 938h4.8M839.2 938h2.4M844 938h2.4M851.2 938h2.4M858.4 938h7.2M870.4 938h2.4M875.2 938h2.4M906.4 938h2.4M916 938h2.4M983.2 938h2.4M680.8 940.4h2.4M688 940.4h2.4M692.8 940.4h2.4M697.6 940.4h2.4M702.4 940.4h2.4M724 940.4h2.4M728.8 940.4h4.8M740.8 940.4h9.6M755.2 940.4h4.8M764.8 940.4h2.4M769.6 940.4h4.8M781.6 940.4h2.4M786.4 940.4h7.2M796 940.4h2.4M800.8 940.4h2.4M805.6 940.4h2.4M810.4 940.4h2.4M817.6 940.4h2.4M822.4 940.4h2.4M827.2 940.4h2.4M832 940.4h4.8M853.6 940.4h2.4M858.4 940.4h2.4M865.6 940.4h4.8M875.2 940.4h7.2M884.8 940.4h2.4M899.2 940.4h2.4M904 940.4h2.4M911.2 940.4h2.4M916 940.4h2.4M666.4 942.8h2.4M695.2 942.8h2.4M714.4 942.8h2.4M731.2 942.8h2.4M736 942.8h9.6M757.6 942.8h2.4M762.4 942.8h2.4M767.2 942.8h7.2M791.2 942.8h4.8M800.8 942.8h4.8M808 942.8h7.2M817.6 942.8h2.4M822.4 942.8h4.8M829.6 942.8h2.4M836.8 942.8h4.8M844 942.8h4.8M865.6 942.8h2.4M875.2 942.8h2.4M882.4 942.8h2.4M887.2 942.8h2.4M904 942.8h2.4M992.8 942.8h2.4M654.4 945.2h2.4M659.2 945.2h2.4M700 945.2h2.4M704.8 945.2h7.2M721.6 945.2h2.4M726.4 945.2h2.4M738.4 945.2h4.8M755.2 945.2h4.8M764.8 945.2h4.8M774.4 945.2h16.8M803.2 945.2h2.4M808 945.2h2.4M812.8 945.2h7.2M827.2 945.2h4.8M836.8 945.2h4.8M844 945.2h4.8M851.2 945.2h2.4M856 945.2h2.4M868 945.2h2.4M877.6 945.2h7.2M906.4 945.2h2.4M911.2 945.2h2.4M920.8 945.2h2.4M940 945.2h2.4M659.2 947.6h2.4M668.8 947.6h2.4M678.4 947.6h2.4M692.8 947.6h2.4M712 947.6h4.8M719.2 947.6h7.2M728.8 947.6h7.2M738.4 947.6h2.4M743.2 947.6h2.4M748 947.6h2.4M752.8 947.6h2.4M757.6 947.6h9.6M774.4 947.6h2.4M779.2 947.6h7.2M791.2 947.6h9.6M808 947.6h2.4M822.4 947.6h4.8M829.6 947.6h2.4M841.6 947.6h4.8M848.8 947.6h2.4M856 947.6h7.2M865.6 947.6h7.2M877.6 947.6h4.8M887.2 947.6h2.4M894.4 947.6h9.6M906.4 947.6h7.2M944.8 947.6h2.4M968.8 947.6h2.4M673.6 950h2.4M683.2 950h2.4M688 950h2.4M695.2 950h2.4M700 950h26.4M728.8 950h7.2M743.2 950h7.2M755.2 950h2.4M760 950h2.4M764.8 950h2.4M781.6 950h2.4M786.4 950h2.4M791.2 950h7.2M805.6 950h4.8M815.2 950h4.8M822.4 950h7.2M832 950h16.8M858.4 950h2.4M863.2 950h2.4M872.8 950h4.8M880 950h7.2M892 950h4.8M899.2 950h7.2M916 950h2.4M920.8 950h2.4M928 950h2.4M944.8 950h2.4M683.2 952.4h2.4M692.8 952.4h2.4M697.6 952.4h2.4M702.4 952.4h2.4M709.6 952.4h4.8M716.8 952.4h2.4M728.8 952.4h2.4M733.6 952.4h2.4M740.8 952.4h4.8M752.8 952.4h4.8M760 952.4h2.4M767.2 952.4h4.8M776.8 952.4h2.4M781.6 952.4h2.4M786.4 952.4h2.4M791.2 952.4h2.4M796 952.4h2.4M805.6 952.4h2.4M812.8 952.4h4.8M820 952.4h16.8M839.2 952.4h2.4M846.4 952.4h2.4M851.2 952.4h4.8M865.6 952.4h4.8M875.2 952.4h2.4M882.4 952.4h2.4M887.2 952.4h2.4M894.4 952.4h2.4M899.2 952.4h2.4M908.8 952.4h2.4M913.6 952.4h2.4M928 952.4h2.4M932.8 952.4h2.4M937.6 952.4h2.4M666.4 954.8h2.4M685.6 954.8h7.2M697.6 954.8h2.4M707.2 954.8h7.2M721.6 954.8h7.2M731.2 954.8h4.8M743.2 954.8h2.4M748 954.8h2.4M755.2 954.8h4.8M762.4 954.8h7.2M772 954.8h2.4M776.8 954.8h2.4M781.6 954.8h4.8M788.8 954.8h2.4M793.6 954.8h2.4M803.2 954.8h9.6M815.2 954.8h12M832 954.8h4.8M839.2 954.8h2.4M851.2 954.8h12M868 954.8h7.2M880 954.8h2.4M884.8 954.8h2.4M894.4 954.8h4.8M906.4 954.8h2.4M911.2 954.8h4.8M923.2 954.8h2.4M930.4 954.8h2.4M944.8 954.8h2.4M659.2 957.2h2.4M673.6 957.2h12M688 957.2h4.8M702.4 957.2h2.4M712 957.2h2.4M721.6 957.2h2.4M726.4 957.2h2.4M731.2 957.2h2.4M736 957.2h2.4M743.2 957.2h4.8M752.8 957.2h2.4M772 957.2h2.4M779.2 957.2h2.4M786.4 957.2h2.4M791.2 957.2h4.8M798.4 957.2h2.4M803.2 957.2h4.8M812.8 957.2h2.4M817.6 957.2h2.4M829.6 957.2h4.8M836.8 957.2h7.2M853.6 957.2h2.4M860.8 957.2h2.4M868 957.2h7.2M877.6 957.2h7.2M889.6 957.2h4.8M899.2 957.2h2.4M904 957.2h2.4M908.8 957.2h4.8M916 957.2h2.4M980.8 957.2h2.4M640 959.6h2.4M668.8 959.6h2.4M678.4 959.6h4.8M695.2 959.6h2.4M702.4 959.6h2.4M707.2 959.6h7.2M721.6 959.6h2.4M728.8 959.6h12M743.2 959.6h2.4M750.4 959.6h12M764.8 959.6h2.4M769.6 959.6h2.4M779.2 959.6h4.8M788.8 959.6h2.4M796 959.6h9.6M808 959.6h7.2M817.6 959.6h4.8M824.8 959.6h4.8M832 959.6h14.4M853.6 959.6h2.4M858.4 959.6h7.2M880 959.6h2.4M884.8 959.6h2.4M892 959.6h4.8M899.2 959.6h2.4M904 959.6h7.2M925.6 959.6h2.4M990.4 959.6h2.4M659.2 962h2.4M676 962h4.8M683.2 962h2.4M695.2 962h12M712 962h2.4M721.6 962h7.2M731.2 962h16.8M750.4 962h7.2M767.2 962h9.6M781.6 962h12M798.4 962h2.4M803.2 962h4.8M815.2 962h4.8M822.4 962h4.8M829.6 962h2.4M834.4 962h2.4M844 962h4.8M851.2 962h4.8M858.4 962h2.4M865.6 962h2.4M872.8 962h2.4M877.6 962h7.2M887.2 962h4.8M896.8 962h9.6M908.8 962h2.4M930.4 962h2.4M954.4 962h2.4M649.6 964.4h2.4M666.4 964.4h2.4M678.4 964.4h2.4M683.2 964.4h4.8M695.2 964.4h2.4M700 964.4h4.8M721.6 964.4h2.4M728.8 964.4h7.2M740.8 964.4h4.8M755.2 964.4h2.4M762.4 964.4h2.4M769.6 964.4h9.6M781.6 964.4h2.4M788.8 964.4h28.8M820 964.4h4.8M827.2 964.4h12M841.6 964.4h7.2M856 964.4h2.4M860.8 964.4h9.6M875.2 964.4h12M889.6 964.4h2.4M896.8 964.4h7.2M997.6 964.4h2.4M666.4 966.8h2.4M676 966.8h2.4M685.6 966.8h7.2M697.6 966.8h2.4M702.4 966.8h2.4M724 966.8h4.8M731.2 966.8h7.2M748 966.8h12M767.2 966.8h4.8M774.4 966.8h16.8M793.6 966.8h2.4M798.4 966.8h4.8M805.6 966.8h2.4M810.4 966.8h2.4M815.2 966.8h2.4M822.4 966.8h4.8M839.2 966.8h9.6M851.2 966.8h2.4M856 966.8h2.4M860.8 966.8h2.4M868 966.8h2.4M872.8 966.8h2.4M887.2 966.8h7.2M899.2 966.8h7.2M913.6 966.8h2.4M935.2 966.8h4.8M654.4 969.2h2.4M683.2 969.2h2.4M692.8 969.2h2.4M700 969.2h2.4M704.8 969.2h2.4M709.6 969.2h2.4M714.4 969.2h9.6M726.4 969.2h4.8M736 969.2h4.8M743.2 969.2h4.8M750.4 969.2h4.8M757.6 969.2h4.8M764.8 969.2h4.8M781.6 969.2h2.4M786.4 969.2h2.4M791.2 969.2h7.2M800.8 969.2h2.4M805.6 969.2h2.4M810.4 969.2h4.8M820 969.2h2.4M824.8 969.2h2.4M829.6 969.2h2.4M836.8 969.2h4.8M844 969.2h2.4M851.2 969.2h7.2M863.2 969.2h2.4M868 969.2h7.2M877.6 969.2h9.6M908.8 969.2h4.8M920.8 969.2h4.8M640 971.6h2.4M649.6 971.6h2.4M656.8 971.6h2.4M678.4 971.6h12M692.8 971.6h2.4M697.6 971.6h4.8M704.8 971.6h2.4M709.6 971.6h2.4M719.2 971.6h2.4M724 971.6h4.8M731.2 971.6h7.2M740.8 971.6h7.2M750.4 971.6h4.8M757.6 971.6h4.8M764.8 971.6h2.4M769.6 971.6h7.2M779.2 971.6h2.4M788.8 971.6h2.4M793.6 971.6h7.2M810.4 971.6h4.8M817.6 971.6h2.4M829.6 971.6h2.4M836.8 971.6h2.4M848.8 971.6h2.4M858.4 971.6h2.4M863.2 971.6h2.4M868 971.6h7.2M880 971.6h2.4M884.8 971.6h2.4M889.6 971.6h2.4M901.6 971.6h2.4M908.8 971.6h2.4M947.2 971.6h2.4M971.2 971.6h2.4M640 974h2.4M652 974h2.4M659.2 974h2.4M668.8 974h2.4M683.2 974h2.4M688 974h2.4M702.4 974h2.4M707.2 974h2.4M716.8 974h28.8M748 974h2.4M752.8 974h2.4M757.6 974h2.4M762.4 974h2.4M772 974h7.2M793.6 974h2.4M798.4 974h2.4M815.2 974h4.8M822.4 974h7.2M832 974h4.8M844 974h14.4M860.8 974h4.8M870.4 974h4.8M877.6 974h4.8M884.8 974h2.4M906.4 974h9.6M918.4 974h4.8M928 974h2.4M940 974h2.4M952 974h2.4M966.4 974h2.4M661.6 976.4h2.4M668.8 976.4h2.4M673.6 976.4h2.4M685.6 976.4h2.4M702.4 976.4h4.8M709.6 976.4h12M728.8 976.4h2.4M733.6 976.4h2.4M738.4 976.4h9.6M750.4 976.4h2.4M755.2 976.4h4.8M767.2 976.4h2.4M774.4 976.4h4.8M781.6 976.4h2.4M791.2 976.4h2.4M796 976.4h2.4M808 976.4h4.8M817.6 976.4h2.4M822.4 976.4h2.4M832 976.4h2.4M836.8 976.4h9.6M853.6 976.4h2.4M865.6 976.4h7.2M880 976.4h7.2M901.6 976.4h2.4M906.4 976.4h2.4M923.2 976.4h2.4M952 976.4h2.4M971.2 976.4h2.4M676 978.8h2.4M688 978.8h2.4M692.8 978.8h9.6M704.8 978.8h12M724 978.8h2.4M738.4 978.8h2.4M745.6 978.8h2.4M752.8 978.8h2.4M757.6 978.8h2.4M762.4 978.8h4.8M769.6 978.8h7.2M779.2 978.8h2.4M786.4 978.8h4.8M796 978.8h2.4M800.8 978.8h2.4M805.6 978.8h4.8M815.2 978.8h7.2M824.8 978.8h2.4M829.6 978.8h4.8M839.2 978.8h2.4M844 978.8h4.8M851.2 978.8h7.2M870.4 978.8h7.2M882.4 978.8h4.8M894.4 978.8h2.4M901.6 978.8h2.4M918.4 978.8h4.8M944.8 978.8h2.4M635.2 981.2h2.4M659.2 981.2h2.4M668.8 981.2h2.4M678.4 981.2h4.8M688 981.2h4.8M695.2 981.2h2.4M702.4 981.2h2.4M709.6 981.2h2.4M714.4 981.2h9.6M728.8 981.2h4.8M736 981.2h2.4M743.2 981.2h4.8M755.2 981.2h2.4M767.2 981.2h4.8M776.8 981.2h2.4M784 981.2h2.4M788.8 981.2h2.4M798.4 981.2h2.4M805.6 981.2h2.4M812.8 981.2h7.2M829.6 981.2h2.4M836.8 981.2h2.4M851.2 981.2h7.2M863.2 981.2h2.4M868 981.2h9.6M880 981.2h19.2M901.6 981.2h2.4M908.8 981.2h7.2M918.4 981.2h2.4M928 981.2h2.4M935.2 981.2h2.4M647.2 983.6h2.4M659.2 983.6h2.4M690.4 983.6h2.4M702.4 983.6h2.4M707.2 983.6h2.4M719.2 983.6h2.4M724 983.6h2.4M731.2 983.6h2.4M748 983.6h2.4M757.6 983.6h7.2M767.2 983.6h2.4M772 983.6h9.6M784 983.6h2.4M791.2 983.6h2.4M796 983.6h2.4M800.8 983.6h2.4M805.6 983.6h4.8M812.8 983.6h2.4M817.6 983.6h12M839.2 983.6h4.8M848.8 983.6h4.8M858.4 983.6h2.4M863.2 983.6h7.2M875.2 983.6h16.8M894.4 983.6h2.4M901.6 983.6h4.8M908.8 983.6h2.4M923.2 983.6h2.4M647.2 986h2.4M671.2 986h2.4M678.4 986h2.4M683.2 986h2.4M688 986h4.8M695.2 986h2.4M700 986h14.4M716.8 986h2.4M721.6 986h2.4M726.4 986h4.8M733.6 986h2.4M738.4 986h2.4M748 986h2.4M752.8 986h2.4M764.8 986h4.8M784 986h4.8M793.6 986h19.2M815.2 986h9.6M829.6 986h4.8M841.6 986h9.6M853.6 986h2.4M860.8 986h7.2M877.6 986h2.4M882.4 986h2.4M887.2 986h2.4M894.4 986h2.4M899.2 986h2.4M911.2 986h7.2M925.6 986h2.4M637.6 988.4h2.4M652 988.4h2.4M668.8 988.4h9.6M685.6 988.4h2.4M702.4 988.4h2.4M707.2 988.4h2.4M714.4 988.4h2.4M721.6 988.4h7.2M736 988.4h2.4M740.8 988.4h2.4M745.6 988.4h2.4M750.4 988.4h4.8M757.6 988.4h2.4M762.4 988.4h2.4M769.6 988.4h2.4M774.4 988.4h4.8M788.8 988.4h2.4M800.8 988.4h2.4M824.8 988.4h2.4M834.4 988.4h2.4M839.2 988.4h2.4M846.4 988.4h2.4M851.2 988.4h2.4M865.6 988.4h4.8M880 988.4h2.4M884.8 988.4h4.8M899.2 988.4h2.4M644.8 990.8h2.4M652 990.8h2.4M656.8 990.8h2.4M666.4 990.8h2.4M676 990.8h4.8M683.2 990.8h2.4M690.4 990.8h2.4M700 990.8h7.2M709.6 990.8h9.6M724 990.8h4.8M733.6 990.8h9.6M745.6 990.8h4.8M752.8 990.8h2.4M757.6 990.8h7.2M774.4 990.8h2.4M779.2 990.8h2.4M786.4 990.8h2.4M796 990.8h4.8M803.2 990.8h2.4M808 990.8h9.6M822.4 990.8h7.2M832 990.8h4.8M839.2 990.8h2.4M846.4 990.8h2.4M851.2 990.8h12M870.4 990.8h4.8M877.6 990.8h2.4M884.8 990.8h2.4M889.6 990.8h2.4M906.4 990.8h2.4M911.2 990.8h4.8M920.8 990.8h2.4M978.4 990.8h2.4M649.6 993.2h2.4M666.4 993.2h4.8M673.6 993.2h4.8M685.6 993.2h2.4M690.4 993.2h2.4M700 993.2h2.4M704.8 993.2h7.2M719.2 993.2h2.4M726.4 993.2h7.2M736 993.2h2.4M740.8 993.2h4.8M752.8 993.2h2.4M757.6 993.2h16.8M781.6 993.2h4.8M788.8 993.2h4.8M796 993.2h2.4M803.2 993.2h7.2M812.8 993.2h2.4M817.6 993.2h4.8M827.2 993.2h9.6M844 993.2h2.4M851.2 993.2h7.2M860.8 993.2h2.4M865.6 993.2h4.8M875.2 993.2h4.8M882.4 993.2h4.8M899.2 993.2h2.4M904 993.2h2.4M908.8 993.2h7.2M925.6 993.2h2.4M959.2 993.2h2.4M644.8 995.6h2.4M666.4 995.6h2.4M671.2 995.6h2.4M678.4 995.6h2.4M685.6 995.6h2.4M690.4 995.6h2.4M700 995.6h7.2M709.6 995.6h2.4M714.4 995.6h7.2M724 995.6h4.8M738.4 995.6h2.4M745.6 995.6h2.4M750.4 995.6h9.6M764.8 995.6h7.2M774.4 995.6h4.8M781.6 995.6h2.4M788.8 995.6h2.4M793.6 995.6h2.4M800.8 995.6h9.6M812.8 995.6h2.4M824.8 995.6h4.8M832 995.6h2.4M836.8 995.6h2.4M844 995.6h2.4M865.6 995.6h14.4M882.4 995.6h4.8M894.4 995.6h2.4M901.6 995.6h9.6M637.6 998h2.4M654.4 998h2.4M661.6 998h2.4M671.2 998h2.4M680.8 998h2.4M685.6 998h2.4M690.4 998h2.4M697.6 998h2.4M704.8 998h2.4M709.6 998h2.4M716.8 998h7.2M726.4 998h9.6M743.2 998h2.4M748 998h2.4M752.8 998h2.4M762.4 998h4.8M776.8 998h2.4M784 998h4.8M791.2 998h2.4M796 998h9.6M808 998h2.4M812.8 998h2.4M817.6 998h7.2M827.2 998h4.8M836.8 998h2.4M844 998h2.4M848.8 998h4.8M858.4 998h9.6M870.4 998h2.4M875.2 998h2.4M880 998h4.8M889.6 998h4.8M908.8 998h2.4M913.6 998h4.8M932.8 998h2.4M635.2 1000.4h2.4M642.4 1000.4h2.4M659.2 1000.4h2.4M666.4 1000.4h2.4M673.6 1000.4h2.4M678.4 1000.4h2.4M683.2 1000.4h4.8M690.4 1000.4h2.4M695.2 1000.4h4.8M707.2 1000.4h4.8M714.4 1000.4h4.8M721.6 1000.4h14.4M738.4 1000.4h4.8M755.2 1000.4h12M769.6 1000.4h2.4M774.4 1000.4h2.4M781.6 1000.4h2.4M788.8 1000.4h4.8M803.2 1000.4h4.8M810.4 1000.4h2.4M817.6 1000.4h2.4M824.8 1000.4h4.8M832 1000.4h2.4M836.8 1000.4h4.8M844 1000.4h2.4M848.8 1000.4h4.8M856 1000.4h4.8M863.2 1000.4h2.4M877.6 1000.4h2.4M892 1000.4h4.8M901.6 1000.4h2.4M911.2 1000.4h2.4M966.4 1000.4h2.4M652 1002.8h2.4M656.8 1002.8h2.4M661.6 1002.8h2.4M676 1002.8h4.8M683.2 1002.8h2.4M690.4 1002.8h2.4M697.6 1002.8h7.2M714.4 1002.8h7.2M724 1002.8h4.8M731.2 1002.8h2.4M748 1002.8h2.4M755.2 1002.8h14.4M772 1002.8h4.8M784 1002.8h2.4M788.8 1002.8h9.6M800.8 1002.8h2.4M805.6 1002.8h4.8M815.2 1002.8h2.4M820 1002.8h2.4M829.6 1002.8h4.8M836.8 1002.8h2.4M841.6 1002.8h4.8M851.2 1002.8h7.2M863.2 1002.8h2.4M870.4 1002.8h7.2M880 1002.8h4.8M889.6 1002.8h4.8M904 1002.8h2.4M908.8 1002.8h4.8M971.2 1002.8h2.4M995.2 1002.8h2.4M594.4 1005.2h2.4M644.8 1005.2h2.4M652 1005.2h2.4M656.8 1005.2h2.4M666.4 1005.2h2.4M678.4 1005.2h2.4M683.2 1005.2h2.4M688 1005.2h4.8M695.2 1005.2h4.8M707.2 1005.2h2.4M712 1005.2h2.4M719.2 1005.2h2.4M724 1005.2h2.4M728.8 1005.2h2.4M738.4 1005.2h2.4M748 1005.2h9.6M762.4 1005.2h7.2M776.8 1005.2h4.8M784 1005.2h2.4M788.8 1005.2h4.8M800.8 1005.2h2.4M810.4 1005.2h12M824.8 1005.2h7.2M844 1005.2h2.4M848.8 1005.2h14.4M868 1005.2h2.4M875.2 1005.2h4.8M887.2 1005.2h4.8M899.2 1005.2h2.4M923.2 1005.2h2.4M928 1005.2h2.4M932.8 1005.2h2.4M594.4 1007.6h2.4M618.4 1007.6h2.4M642.4 1007.6h2.4M656.8 1007.6h4.8M664 1007.6h7.2M673.6 1007.6h2.4M678.4 1007.6h4.8M685.6 1007.6h4.8M697.6 1007.6h4.8M709.6 1007.6h9.6M721.6 1007.6h12M738.4 1007.6h2.4M750.4 1007.6h2.4M755.2 1007.6h2.4M760 1007.6h2.4M772 1007.6h4.8M781.6 1007.6h16.8M800.8 1007.6h7.2M820 1007.6h2.4M824.8 1007.6h4.8M832 1007.6h4.8M839.2 1007.6h2.4M853.6 1007.6h2.4M858.4 1007.6h2.4M863.2 1007.6h4.8M870.4 1007.6h2.4M877.6 1007.6h2.4M887.2 1007.6h4.8M894.4 1007.6h2.4M899.2 1007.6h2.4M904 1007.6h4.8M916 1007.6h2.4M642.4 1010h4.8M654.4 1010h4.8M661.6 1010h4.8M673.6 1010h2.4M690.4 1010h4.8M697.6 1010h2.4M704.8 1010h2.4M712 1010h9.6M724 1010h7.2M733.6 1010h2.4M740.8 1010h7.2M750.4 1010h9.6M762.4 1010h2.4M772 1010h4.8M781.6 1010h9.6M793.6 1010h2.4M800.8 1010h2.4M805.6 1010h4.8M812.8 1010h14.4M829.6 1010h2.4M834.4 1010h7.2M846.4 1010h2.4M851.2 1010h14.4M868 1010h2.4M875.2 1010h2.4M882.4 1010h4.8M892 1010h2.4M899.2 1010h2.4M904 1010h2.4M908.8 1010h2.4M913.6 1010h2.4M928 1010h2.4M947.2 1010h2.4M952 1010h2.4M637.6 1012.4h2.4M649.6 1012.4h2.4M659.2 1012.4h4.8M671.2 1012.4h9.6M685.6 1012.4h2.4M692.8 1012.4h4.8M700 1012.4h2.4M704.8 1012.4h2.4M716.8 1012.4h2.4M721.6 1012.4h2.4M731.2 1012.4h4.8M750.4 1012.4h7.2M760 1012.4h7.2M769.6 1012.4h4.8M779.2 1012.4h4.8M788.8 1012.4h4.8M798.4 1012.4h2.4M803.2 1012.4h7.2M812.8 1012.4h2.4M822.4 1012.4h2.4M829.6 1012.4h12M846.4 1012.4h2.4M853.6 1012.4h9.6M865.6 1012.4h2.4M870.4 1012.4h4.8M877.6 1012.4h2.4M884.8 1012.4h2.4M889.6 1012.4h2.4M896.8 1012.4h2.4M901.6 1012.4h4.8M908.8 1012.4h4.8M916 1012.4h2.4M923.2 1012.4h2.4M952 1012.4h2.4M618.4 1014.8h2.4M661.6 1014.8h2.4M678.4 1014.8h2.4M685.6 1014.8h2.4M695.2 1014.8h2.4M700 1014.8h2.4M704.8 1014.8h7.2M714.4 1014.8h4.8M721.6 1014.8h7.2M731.2 1014.8h14.4M755.2 1014.8h2.4M760 1014.8h7.2M772 1014.8h4.8M788.8 1014.8h2.4M796 1014.8h12M810.4 1014.8h4.8M817.6 1014.8h7.2M832 1014.8h9.6M846.4 1014.8h12M860.8 1014.8h2.4M870.4 1014.8h7.2M882.4 1014.8h9.6M894.4 1014.8h2.4M901.6 1014.8h2.4M906.4 1014.8h2.4M916 1014.8h4.8M925.6 1014.8h4.8M659.2 1017.2h4.8M666.4 1017.2h2.4M676 1017.2h2.4M680.8 1017.2h2.4M690.4 1017.2h2.4M695.2 1017.2h2.4M700 1017.2h4.8M707.2 1017.2h2.4M712 1017.2h2.4M716.8 1017.2h21.6M740.8 1017.2h7.2M750.4 1017.2h2.4M757.6 1017.2h2.4M774.4 1017.2h2.4M781.6 1017.2h2.4M786.4 1017.2h7.2M798.4 1017.2h4.8M805.6 1017.2h7.2M824.8 1017.2h2.4M836.8 1017.2h16.8M856 1017.2h4.8M863.2 1017.2h2.4M868 1017.2h2.4M877.6 1017.2h2.4M882.4 1017.2h7.2M894.4 1017.2h7.2M913.6 1017.2h2.4M920.8 1017.2h2.4M925.6 1017.2h2.4M937.6 1017.2h2.4M652 1019.6h2.4M671.2 1019.6h2.4M676 1019.6h2.4M692.8 1019.6h2.4M700 1019.6h2.4M704.8 1019.6h16.8M724 1019.6h2.4M728.8 1019.6h4.8M736 1019.6h9.6M752.8 1019.6h2.4M769.6 1019.6h7.2M779.2 1019.6h2.4M784 1019.6h2.4M800.8 1019.6h2.4M805.6 1019.6h2.4M812.8 1019.6h4.8M820 1019.6h2.4M827.2 1019.6h14.4M846.4 1019.6h2.4M858.4 1019.6h12M880 1019.6h2.4M887.2 1019.6h4.8M894.4 1019.6h4.8M904 1019.6h2.4M913.6 1019.6h2.4M923.2 1019.6h2.4M935.2 1019.6h2.4M944.8 1019.6h2.4M604 1022h2.4M656.8 1022h2.4M666.4 1022h2.4M690.4 1022h2.4M709.6 1022h2.4M714.4 1022h2.4M719.2 1022h2.4M724 1022h12M738.4 1022h9.6M755.2 1022h2.4M762.4 1022h2.4M767.2 1022h2.4M772 1022h9.6M786.4 1022h12M805.6 1022h2.4M810.4 1022h2.4M815.2 1022h2.4M820 1022h12M841.6 1022h7.2M853.6 1022h16.8M872.8 1022h4.8M884.8 1022h4.8M899.2 1022h2.4M916 1022h2.4M944.8 1022h4.8M599.2 1024.4h2.4M623.2 1024.4h2.4M668.8 1024.4h2.4M678.4 1024.4h2.4M685.6 1024.4h2.4M692.8 1024.4h7.2M704.8 1024.4h2.4M716.8 1024.4h2.4M721.6 1024.4h2.4M726.4 1024.4h7.2M736 1024.4h2.4M740.8 1024.4h2.4M752.8 1024.4h4.8M760 1024.4h2.4M764.8 1024.4h7.2M776.8 1024.4h2.4M784 1024.4h2.4M788.8 1024.4h4.8M796 1024.4h4.8M803.2 1024.4h2.4M808 1024.4h4.8M822.4 1024.4h2.4M841.6 1024.4h7.2M851.2 1024.4h7.2M860.8 1024.4h2.4M868 1024.4h2.4M872.8 1024.4h4.8M882.4 1024.4h2.4M896.8 1024.4h4.8M940 1024.4h2.4M961.6 1024.4h2.4M659.2 1026.8h2.4M668.8 1026.8h4.8M680.8 1026.8h2.4M688 1026.8h2.4M695.2 1026.8h2.4M702.4 1026.8h4.8M709.6 1026.8h2.4M716.8 1026.8h4.8M726.4 1026.8h4.8M736 1026.8h2.4M745.6 1026.8h7.2M757.6 1026.8h2.4M762.4 1026.8h2.4M769.6 1026.8h4.8M776.8 1026.8h2.4M781.6 1026.8h7.2M798.4 1026.8h2.4M810.4 1026.8h7.2M820 1026.8h2.4M829.6 1026.8h4.8M836.8 1026.8h2.4M841.6 1026.8h2.4M856 1026.8h7.2M865.6 1026.8h4.8M875.2 1026.8h9.6M889.6 1026.8h2.4M894.4 1026.8h2.4M901.6 1026.8h4.8M918.4 1026.8h2.4M923.2 1026.8h2.4M971.2 1026.8h2.4M985.6 1026.8h2.4M642.4 1029.2h2.4M668.8 1029.2h2.4M700 1029.2h4.8M709.6 1029.2h2.4M714.4 1029.2h4.8M724 1029.2h4.8M733.6 1029.2h2.4M740.8 1029.2h7.2M755.2 1029.2h2.4M760 1029.2h2.4M772 1029.2h2.4M776.8 1029.2h7.2M786.4 1029.2h2.4M791.2 1029.2h2.4M796 1029.2h2.4M800.8 1029.2h2.4M805.6 1029.2h4.8M815.2 1029.2h2.4M820 1029.2h2.4M829.6 1029.2h7.2M839.2 1029.2h2.4M846.4 1029.2h2.4M858.4 1029.2h2.4M868 1029.2h2.4M872.8 1029.2h2.4M880 1029.2h7.2M889.6 1029.2h2.4M894.4 1029.2h4.8M904 1029.2h2.4M908.8 1029.2h2.4M913.6 1029.2h2.4M923.2 1029.2h2.4M661.6 1031.6h2.4M676 1031.6h4.8M700 1031.6h4.8M707.2 1031.6h2.4M712 1031.6h7.2M726.4 1031.6h2.4M736 1031.6h7.2M745.6 1031.6h4.8M755.2 1031.6h2.4M762.4 1031.6h2.4M767.2 1031.6h4.8M774.4 1031.6h12M788.8 1031.6h7.2M798.4 1031.6h2.4M803.2 1031.6h7.2M822.4 1031.6h12M836.8 1031.6h4.8M846.4 1031.6h4.8M863.2 1031.6h4.8M870.4 1031.6h4.8M877.6 1031.6h2.4M884.8 1031.6h2.4M889.6 1031.6h2.4M904 1031.6h2.4M908.8 1031.6h2.4M916 1031.6h4.8M935.2 1031.6h2.4M659.2 1034h2.4M671.2 1034h2.4M683.2 1034h4.8M690.4 1034h4.8M712 1034h4.8M719.2 1034h2.4M724 1034h7.2M733.6 1034h2.4M745.6 1034h4.8M752.8 1034h2.4M767.2 1034h4.8M774.4 1034h7.2M788.8 1034h7.2M798.4 1034h2.4M805.6 1034h2.4M815.2 1034h4.8M824.8 1034h4.8M834.4 1034h2.4M846.4 1034h12M860.8 1034h7.2M870.4 1034h16.8M892 1034h2.4M896.8 1034h2.4M901.6 1034h4.8M913.6 1034h4.8M935.2 1034h2.4M640 1036.4h2.4M664 1036.4h2.4M676 1036.4h4.8M683.2 1036.4h16.8M709.6 1036.4h4.8M721.6 1036.4h2.4M726.4 1036.4h2.4M731.2 1036.4h2.4M743.2 1036.4h2.4M748 1036.4h2.4M752.8 1036.4h2.4M762.4 1036.4h7.2M772 1036.4h4.8M784 1036.4h2.4M788.8 1036.4h2.4M812.8 1036.4h4.8M820 1036.4h4.8M832 1036.4h9.6M844 1036.4h7.2M853.6 1036.4h4.8M868 1036.4h16.8M904 1036.4h2.4M911.2 1036.4h4.8M920.8 1036.4h2.4M925.6 1036.4h2.4M935.2 1036.4h2.4M944.8 1036.4h2.4M654.4 1038.8h7.2M671.2 1038.8h2.4M680.8 1038.8h2.4M688 1038.8h2.4M692.8 1038.8h2.4M700 1038.8h4.8M719.2 1038.8h4.8M726.4 1038.8h24M760 1038.8h2.4M764.8 1038.8h2.4M769.6 1038.8h2.4M774.4 1038.8h2.4M779.2 1038.8h7.2M793.6 1038.8h2.4M798.4 1038.8h12M820 1038.8h21.6M844 1038.8h7.2M863.2 1038.8h2.4M868 1038.8h2.4M875.2 1038.8h2.4M882.4 1038.8h4.8M899.2 1038.8h2.4M904 1038.8h2.4M908.8 1038.8h7.2M923.2 1038.8h2.4M671.2 1041.2h2.4M683.2 1041.2h2.4M702.4 1041.2h2.4M712 1041.2h2.4M721.6 1041.2h7.2M733.6 1041.2h9.6M748 1041.2h2.4M752.8 1041.2h4.8M769.6 1041.2h2.4M779.2 1041.2h2.4M786.4 1041.2h4.8M793.6 1041.2h2.4M798.4 1041.2h2.4M820 1041.2h7.2M829.6 1041.2h4.8M836.8 1041.2h4.8M846.4 1041.2h2.4M858.4 1041.2h2.4M863.2 1041.2h4.8M870.4 1041.2h2.4M875.2 1041.2h2.4M884.8 1041.2h2.4M889.6 1041.2h2.4M896.8 1041.2h9.6M947.2 1041.2h4.8M980.8 1041.2h2.4M661.6 1043.6h2.4M668.8 1043.6h2.4M676 1043.6h4.8M690.4 1043.6h2.4M695.2 1043.6h2.4M702.4 1043.6h2.4M709.6 1043.6h2.4M714.4 1043.6h2.4M724 1043.6h2.4M728.8 1043.6h7.2M740.8 1043.6h4.8M748 1043.6h2.4M760 1043.6h2.4M764.8 1043.6h9.6M776.8 1043.6h2.4M784 1043.6h2.4M788.8 1043.6h2.4M796 1043.6h2.4M800.8 1043.6h2.4M805.6 1043.6h2.4M812.8 1043.6h2.4M817.6 1043.6h4.8M829.6 1043.6h2.4M836.8 1043.6h2.4M856 1043.6h2.4M865.6 1043.6h4.8M880 1043.6h7.2M894.4 1043.6h4.8M920.8 1043.6h2.4M937.6 1043.6h2.4M973.6 1043.6h2.4M637.6 1046h2.4M673.6 1046h2.4M690.4 1046h2.4M695.2 1046h2.4M709.6 1046h7.2M719.2 1046h4.8M726.4 1046h2.4M731.2 1046h2.4M745.6 1046h2.4M750.4 1046h2.4M755.2 1046h12M769.6 1046h7.2M779.2 1046h2.4M784 1046h9.6M798.4 1046h2.4M803.2 1046h7.2M817.6 1046h4.8M824.8 1046h14.4M841.6 1046h2.4M851.2 1046h2.4M856 1046h4.8M863.2 1046h4.8M880 1046h4.8M887.2 1046h2.4M894.4 1046h2.4M899.2 1046h2.4M940 1046h4.8M947.2 1046h2.4M952 1046h2.4M971.2 1046h2.4M664 1048.4h2.4M688 1048.4h2.4M700 1048.4h2.4M704.8 1048.4h2.4M709.6 1048.4h9.6M724 1048.4h7.2M736 1048.4h4.8M743.2 1048.4h2.4M750.4 1048.4h2.4M760 1048.4h7.2M784 1048.4h4.8M793.6 1048.4h2.4M798.4 1048.4h2.4M803.2 1048.4h2.4M812.8 1048.4h2.4M822.4 1048.4h7.2M841.6 1048.4h2.4M848.8 1048.4h2.4M856 1048.4h4.8M863.2 1048.4h4.8M875.2 1048.4h2.4M882.4 1048.4h2.4M889.6 1048.4h2.4M894.4 1048.4h4.8M901.6 1048.4h2.4M906.4 1048.4h4.8M949.6 1048.4h2.4M606.4 1050.8h2.4M661.6 1050.8h4.8M702.4 1050.8h9.6M716.8 1050.8h4.8M728.8 1050.8h12M745.6 1050.8h4.8M755.2 1050.8h2.4M760 1050.8h4.8M767.2 1050.8h4.8M774.4 1050.8h7.2M784 1050.8h2.4M791.2 1050.8h4.8M798.4 1050.8h4.8M812.8 1050.8h4.8M820 1050.8h4.8M834.4 1050.8h2.4M841.6 1050.8h4.8M853.6 1050.8h7.2M865.6 1050.8h4.8M872.8 1050.8h2.4M880 1050.8h2.4M887.2 1050.8h2.4M894.4 1050.8h4.8M901.6 1050.8h4.8M920.8 1050.8h2.4M925.6 1050.8h2.4M942.4 1050.8h2.4M968.8 1050.8h2.4M635.2 1053.2h2.4M683.2 1053.2h2.4M697.6 1053.2h2.4M704.8 1053.2h2.4M709.6 1053.2h16.8M731.2 1053.2h2.4M736 1053.2h4.8M743.2 1053.2h2.4M748 1053.2h2.4M757.6 1053.2h9.6M772 1053.2h7.2M781.6 1053.2h4.8M793.6 1053.2h7.2M805.6 1053.2h9.6M817.6 1053.2h2.4M822.4 1053.2h4.8M834.4 1053.2h2.4M839.2 1053.2h4.8M848.8 1053.2h7.2M858.4 1053.2h7.2M880 1053.2h4.8M892 1053.2h4.8M899.2 1053.2h2.4M904 1053.2h2.4M908.8 1053.2h2.4M913.6 1053.2h2.4M956.8 1053.2h2.4M973.6 1053.2h2.4M613.6 1055.6h2.4M656.8 1055.6h2.4M683.2 1055.6h2.4M695.2 1055.6h7.2M704.8 1055.6h2.4M709.6 1055.6h4.8M716.8 1055.6h2.4M721.6 1055.6h9.6M736 1055.6h2.4M740.8 1055.6h2.4M745.6 1055.6h4.8M755.2 1055.6h2.4M762.4 1055.6h2.4M767.2 1055.6h2.4M772 1055.6h9.6M784 1055.6h4.8M791.2 1055.6h7.2M800.8 1055.6h7.2M815.2 1055.6h4.8M822.4 1055.6h4.8M832 1055.6h2.4M836.8 1055.6h2.4M841.6 1055.6h9.6M856 1055.6h7.2M865.6 1055.6h9.6M887.2 1055.6h2.4M911.2 1055.6h2.4M916 1055.6h4.8M930.4 1055.6h2.4M935.2 1055.6h2.4M954.4 1055.6h2.4M632.8 1058h2.4M683.2 1058h2.4M688 1058h2.4M707.2 1058h2.4M712 1058h7.2M721.6 1058h7.2M733.6 1058h7.2M757.6 1058h4.8M764.8 1058h4.8M774.4 1058h4.8M784 1058h2.4M788.8 1058h4.8M796 1058h7.2M805.6 1058h4.8M824.8 1058h7.2M841.6 1058h4.8M848.8 1058h7.2M863.2 1058h2.4M870.4 1058h2.4M875.2 1058h7.2M889.6 1058h2.4M901.6 1058h4.8M908.8 1058h12M620.8 1060.4h2.4M659.2 1060.4h2.4M671.2 1060.4h2.4M678.4 1060.4h2.4M697.6 1060.4h2.4M714.4 1060.4h4.8M724 1060.4h2.4M728.8 1060.4h4.8M736 1060.4h2.4M740.8 1060.4h4.8M750.4 1060.4h2.4M757.6 1060.4h2.4M769.6 1060.4h4.8M781.6 1060.4h4.8M791.2 1060.4h2.4M796 1060.4h7.2M808 1060.4h2.4M812.8 1060.4h2.4M817.6 1060.4h7.2M827.2 1060.4h2.4M832 1060.4h12M851.2 1060.4h4.8M868 1060.4h4.8M882.4 1060.4h4.8M918.4 1060.4h2.4M925.6 1060.4h2.4M649.6 1062.8h4.8M688 1062.8h2.4M700 1062.8h2.4M704.8 1062.8h2.4M712 1062.8h2.4M719.2 1062.8h2.4M724 1062.8h9.6M736 1062.8h9.6M750.4 1062.8h2.4M760 1062.8h2.4M767.2 1062.8h7.2M776.8 1062.8h2.4M786.4 1062.8h2.4M796 1062.8h12M810.4 1062.8h4.8M820 1062.8h2.4M824.8 1062.8h7.2M834.4 1062.8h4.8M846.4 1062.8h2.4M860.8 1062.8h2.4M865.6 1062.8h2.4M875.2 1062.8h4.8M882.4 1062.8h4.8M896.8 1062.8h2.4M904 1062.8h2.4M918.4 1062.8h2.4M923.2 1062.8h4.8M947.2 1062.8h2.4M978.4 1062.8h2.4M983.2 1062.8h2.4M678.4 1065.2h2.4M697.6 1065.2h2.4M702.4 1065.2h4.8M709.6 1065.2h2.4M719.2 1065.2h7.2M728.8 1065.2h4.8M736 1065.2h2.4M740.8 1065.2h7.2M755.2 1065.2h2.4M760 1065.2h7.2M772 1065.2h9.6M784 1065.2h12M800.8 1065.2h2.4M805.6 1065.2h2.4M810.4 1065.2h2.4M815.2 1065.2h4.8M827.2 1065.2h7.2M836.8 1065.2h16.8M856 1065.2h2.4M865.6 1065.2h2.4M870.4 1065.2h2.4M877.6 1065.2h4.8M889.6 1065.2h2.4M911.2 1065.2h2.4M925.6 1065.2h2.4M964 1065.2h2.4M683.2 1067.6h4.8M697.6 1067.6h2.4M704.8 1067.6h2.4M714.4 1067.6h2.4M721.6 1067.6h4.8M733.6 1067.6h14.4M750.4 1067.6h2.4M755.2 1067.6h2.4M760 1067.6h4.8M767.2 1067.6h4.8M776.8 1067.6h16.8M798.4 1067.6h2.4M810.4 1067.6h9.6M822.4 1067.6h2.4M827.2 1067.6h2.4M834.4 1067.6h7.2M844 1067.6h4.8M851.2 1067.6h4.8M858.4 1067.6h2.4M863.2 1067.6h7.2M872.8 1067.6h12M889.6 1067.6h2.4M906.4 1067.6h2.4M925.6 1067.6h4.8M980.8 1067.6h2.4M676 1070h4.8M697.6 1070h2.4M716.8 1070h2.4M728.8 1070h7.2M738.4 1070h9.6M750.4 1070h2.4M755.2 1070h2.4M760 1070h2.4M764.8 1070h2.4M774.4 1070h7.2M784 1070h4.8M791.2 1070h14.4M808 1070h2.4M812.8 1070h2.4M820 1070h2.4M824.8 1070h9.6M836.8 1070h2.4M841.6 1070h2.4M848.8 1070h2.4M863.2 1070h7.2M877.6 1070h2.4M882.4 1070h7.2M894.4 1070h9.6M906.4 1070h2.4M920.8 1070h4.8M930.4 1070h4.8M640 1072.4h2.4M668.8 1072.4h2.4M673.6 1072.4h2.4M678.4 1072.4h2.4M685.6 1072.4h2.4M700 1072.4h7.2M714.4 1072.4h2.4M719.2 1072.4h4.8M728.8 1072.4h4.8M740.8 1072.4h4.8M748 1072.4h2.4M757.6 1072.4h7.2M767.2 1072.4h2.4M774.4 1072.4h2.4M779.2 1072.4h2.4M788.8 1072.4h2.4M793.6 1072.4h4.8M800.8 1072.4h2.4M810.4 1072.4h2.4M817.6 1072.4h2.4M822.4 1072.4h14.4M839.2 1072.4h12M853.6 1072.4h9.6M865.6 1072.4h14.4M882.4 1072.4h4.8M889.6 1072.4h2.4M904 1072.4h2.4M618.4 1074.8h4.8M661.6 1074.8h2.4M692.8 1074.8h2.4M712 1074.8h4.8M724 1074.8h2.4M733.6 1074.8h4.8M743.2 1074.8h9.6M764.8 1074.8h2.4M774.4 1074.8h9.6M786.4 1074.8h2.4M791.2 1074.8h12M805.6 1074.8h4.8M815.2 1074.8h2.4M820 1074.8h2.4M829.6 1074.8h7.2M839.2 1074.8h2.4M844 1074.8h2.4M858.4 1074.8h4.8M865.6 1074.8h2.4M870.4 1074.8h9.6M887.2 1074.8h4.8M896.8 1074.8h4.8M911.2 1074.8h2.4M916 1074.8h4.8M697.6 1077.2h2.4M702.4 1077.2h4.8M712 1077.2h2.4M721.6 1077.2h2.4M728.8 1077.2h9.6M743.2 1077.2h2.4M748 1077.2h2.4M752.8 1077.2h2.4M757.6 1077.2h4.8M764.8 1077.2h7.2M774.4 1077.2h4.8M781.6 1077.2h2.4M786.4 1077.2h2.4M791.2 1077.2h9.6M808 1077.2h2.4M815.2 1077.2h4.8M822.4 1077.2h2.4M827.2 1077.2h7.2M836.8 1077.2h7.2M846.4 1077.2h2.4M851.2 1077.2h2.4M856 1077.2h2.4M868 1077.2h7.2M882.4 1077.2h4.8M894.4 1077.2h2.4M904 1077.2h2.4M918.4 1077.2h2.4M928 1077.2h2.4M940 1077.2h2.4M632.8 1079.6h2.4M661.6 1079.6h2.4M676 1079.6h2.4M683.2 1079.6h2.4M688 1079.6h2.4M692.8 1079.6h2.4M697.6 1079.6h2.4M702.4 1079.6h2.4M707.2 1079.6h2.4M712 1079.6h2.4M736 1079.6h2.4M752.8 1079.6h9.6M767.2 1079.6h2.4M772 1079.6h9.6M784 1079.6h2.4M796 1079.6h2.4M803.2 1079.6h4.8M812.8 1079.6h4.8M822.4 1079.6h2.4M827.2 1079.6h9.6M848.8 1079.6h2.4M856 1079.6h4.8M868 1079.6h2.4M872.8 1079.6h4.8M894.4 1079.6h4.8M940 1079.6h2.4M683.2 1082h2.4M695.2 1082h2.4M709.6 1082h2.4M714.4 1082h2.4M721.6 1082h2.4M726.4 1082h9.6M738.4 1082h9.6M757.6 1082h7.2M767.2 1082h9.6M779.2 1082h2.4M784 1082h2.4M793.6 1082h7.2M803.2 1082h2.4M810.4 1082h14.4M832 1082h4.8M846.4 1082h2.4M856 1082h4.8M863.2 1082h2.4M870.4 1082h4.8M877.6 1082h4.8M892 1082h2.4M918.4 1082h2.4M647.2 1084.4h2.4M676 1084.4h2.4M688 1084.4h2.4M697.6 1084.4h2.4M712 1084.4h2.4M719.2 1084.4h9.6M750.4 1084.4h7.2M760 1084.4h9.6M776.8 1084.4h9.6M791.2 1084.4h2.4M798.4 1084.4h2.4M803.2 1084.4h2.4M808 1084.4h2.4M812.8 1084.4h7.2M822.4 1084.4h7.2M832 1084.4h4.8M839.2 1084.4h2.4M844 1084.4h2.4M863.2 1084.4h4.8M875.2 1084.4h4.8M887.2 1084.4h4.8M901.6 1084.4h2.4M928 1084.4h2.4M680.8 1086.8h2.4M688 1086.8h2.4M714.4 1086.8h2.4M719.2 1086.8h9.6M731.2 1086.8h7.2M745.6 1086.8h12M760 1086.8h2.4M784 1086.8h2.4M793.6 1086.8h2.4M800.8 1086.8h7.2M810.4 1086.8h4.8M820 1086.8h9.6M836.8 1086.8h2.4M846.4 1086.8h2.4M868 1086.8h2.4M872.8 1086.8h2.4M877.6 1086.8h4.8M884.8 1086.8h2.4M889.6 1086.8h2.4M959.2 1086.8h2.4M697.6 1089.2h2.4M712 1089.2h2.4M721.6 1089.2h2.4M726.4 1089.2h7.2M736 1089.2h4.8M750.4 1089.2h2.4M755.2 1089.2h4.8M762.4 1089.2h16.8M781.6 1089.2h2.4M786.4 1089.2h4.8M793.6 1089.2h2.4M798.4 1089.2h2.4M803.2 1089.2h2.4M812.8 1089.2h4.8M824.8 1089.2h2.4M841.6 1089.2h2.4M848.8 1089.2h2.4M853.6 1089.2h2.4M868 1089.2h2.4M872.8 1089.2h2.4M880 1089.2h7.2M894.4 1089.2h2.4M911.2 1089.2h2.4M673.6 1091.6h2.4M697.6 1091.6h2.4M721.6 1091.6h2.4M728.8 1091.6h7.2M743.2 1091.6h2.4M755.2 1091.6h2.4M767.2 1091.6h7.2M776.8 1091.6h12M791.2 1091.6h2.4M796 1091.6h4.8M803.2 1091.6h2.4M815.2 1091.6h4.8M822.4 1091.6h2.4M853.6 1091.6h4.8M860.8 1091.6h2.4M868 1091.6h2.4M887.2 1091.6h2.4M899.2 1091.6h2.4M944.8 1091.6h2.4M688 1094h2.4M702.4 1094h4.8M724 1094h2.4M743.2 1094h2.4M748 1094h12M767.2 1094h4.8M784 1094h2.4M791.2 1094h2.4M798.4 1094h7.2M810.4 1094h7.2M820 1094h7.2M829.6 1094h9.6M844 1094h2.4M863.2 1094h4.8M877.6 1094h7.2M911.2 1094h2.4M918.4 1094h2.4M976 1094h2.4M680.8 1096.4h2.4M704.8 1096.4h2.4M716.8 1096.4h2.4M728.8 1096.4h2.4M738.4 1096.4h2.4M745.6 1096.4h7.2M755.2 1096.4h7.2M779.2 1096.4h2.4M788.8 1096.4h14.4M805.6 1096.4h7.2M815.2 1096.4h2.4M820 1096.4h2.4M832 1096.4h2.4M836.8 1096.4h2.4M846.4 1096.4h4.8M856 1096.4h2.4M863.2 1096.4h2.4M870.4 1096.4h4.8M877.6 1096.4h2.4M901.6 1096.4h2.4M925.6 1096.4h2.4M942.4 1096.4h2.4M625.6 1098.8h2.4M649.6 1098.8h2.4M654.4 1098.8h2.4M697.6 1098.8h2.4M707.2 1098.8h2.4M712 1098.8h2.4M719.2 1098.8h4.8M726.4 1098.8h7.2M736 1098.8h7.2M745.6 1098.8h4.8M752.8 1098.8h2.4M757.6 1098.8h2.4M762.4 1098.8h2.4M767.2 1098.8h2.4M772 1098.8h2.4M779.2 1098.8h2.4M784 1098.8h4.8M791.2 1098.8h2.4M796 1098.8h2.4M805.6 1098.8h4.8M817.6 1098.8h2.4M832 1098.8h2.4M836.8 1098.8h7.2M848.8 1098.8h9.6M875.2 1098.8h2.4M889.6 1098.8h4.8M908.8 1098.8h2.4M697.6 1101.2h2.4M709.6 1101.2h2.4M714.4 1101.2h2.4M719.2 1101.2h2.4M724 1101.2h2.4M728.8 1101.2h2.4M733.6 1101.2h4.8M750.4 1101.2h4.8M760 1101.2h2.4M786.4 1101.2h9.6M800.8 1101.2h7.2M817.6 1101.2h2.4M829.6 1101.2h2.4M844 1101.2h2.4M848.8 1101.2h2.4M860.8 1101.2h2.4M872.8 1101.2h2.4M884.8 1101.2h2.4M894.4 1101.2h2.4M688 1103.6h2.4M697.6 1103.6h2.4M712 1103.6h2.4M716.8 1103.6h9.6M728.8 1103.6h2.4M738.4 1103.6h4.8M752.8 1103.6h2.4M760 1103.6h4.8M776.8 1103.6h2.4M784 1103.6h2.4M788.8 1103.6h12M803.2 1103.6h2.4M812.8 1103.6h4.8M824.8 1103.6h2.4M829.6 1103.6h2.4M851.2 1103.6h2.4M856 1103.6h2.4M872.8 1103.6h2.4M882.4 1103.6h2.4M613.6 1106h2.4M712 1106h2.4M719.2 1106h4.8M726.4 1106h4.8M736 1106h4.8M748 1106h2.4M774.4 1106h4.8M781.6 1106h12M796 1106h2.4M805.6 1106h4.8M812.8 1106h2.4M820 1106h4.8M836.8 1106h2.4M841.6 1106h2.4M846.4 1106h2.4M856 1106h4.8M875.2 1106h9.6M896.8 1106h2.4M901.6 1106h2.4M906.4 1106h2.4M625.6 1108.4h2.4M709.6 1108.4h4.8M716.8 1108.4h2.4M724 1108.4h2.4M733.6 1108.4h2.4M738.4 1108.4h2.4M745.6 1108.4h2.4M750.4 1108.4h2.4M755.2 1108.4h2.4M762.4 1108.4h2.4M767.2 1108.4h2.4M784 1108.4h2.4M793.6 1108.4h4.8M815.2 1108.4h2.4M820 1108.4h4.8M827.2 1108.4h2.4M839.2 1108.4h2.4M856 1108.4h2.4M884.8 1108.4h2.4M894.4 1108.4h2.4M678.4 1110.8h2.4M719.2 1110.8h7.2M728.8 1110.8h2.4M736 1110.8h2.4M743.2 1110.8h4.8M750.4 1110.8h2.4M755.2 1110.8h2.4M762.4 1110.8h2.4M779.2 1110.8h2.4M784 1110.8h4.8M796 1110.8h4.8M820 1110.8h2.4M824.8 1110.8h2.4M829.6 1110.8h2.4M848.8 1110.8h4.8M856 1110.8h4.8M870.4 1110.8h2.4M875.2 1110.8h2.4M884.8 1110.8h2.4M707.2 1113.2h2.4M712 1113.2h2.4M716.8 1113.2h2.4M726.4 1113.2h4.8M736 1113.2h2.4M743.2 1113.2h2.4M748 1113.2h7.2M762.4 1113.2h2.4M769.6 1113.2h2.4M776.8 1113.2h2.4M781.6 1113.2h2.4M788.8 1113.2h2.4M793.6 1113.2h2.4M810.4 1113.2h4.8M824.8 1113.2h2.4M834.4 1113.2h2.4M841.6 1113.2h2.4M846.4 1113.2h4.8M875.2 1113.2h2.4M896.8 1113.2h2.4M928 1113.2h2.4M656.8 1115.6h2.4M692.8 1115.6h2.4M707.2 1115.6h2.4M712 1115.6h2.4M719.2 1115.6h2.4M733.6 1115.6h7.2M743.2 1115.6h2.4M748 1115.6h9.6M769.6 1115.6h2.4M774.4 1115.6h2.4M779.2 1115.6h2.4M788.8 1115.6h2.4M793.6 1115.6h7.2M805.6 1115.6h4.8M815.2 1115.6h2.4M820 1115.6h2.4M841.6 1115.6h4.8M884.8 1115.6h2.4M889.6 1115.6h2.4M714.4 1118h2.4M721.6 1118h2.4M740.8 1118h4.8M748 1118h2.4M752.8 1118h2.4M762.4 1118h2.4M776.8 1118h2.4M781.6 1118h2.4M815.2 1118h7.2M824.8 1118h2.4M839.2 1118h2.4M844 1118h2.4M853.6 1118h2.4M865.6 1118h2.4M892 1118h2.4M899.2 1118h2.4M726.4 1120.4h2.4M731.2 1120.4h2.4M736 1120.4h4.8M743.2 1120.4h4.8M764.8 1120.4h2.4M772 1120.4h4.8M779.2 1120.4h2.4M786.4 1120.4h2.4M793.6 1120.4h9.6M824.8 1120.4h2.4M829.6 1120.4h2.4M834.4 1120.4h2.4M851.2 1120.4h2.4M860.8 1120.4h2.4M882.4 1120.4h2.4M892 1120.4h2.4M940 1120.4h2.4M649.6 1122.8h2.4M726.4 1122.8h4.8M733.6 1122.8h2.4M740.8 1122.8h2.4M745.6 1122.8h4.8M764.8 1122.8h2.4M772 1122.8h4.8M786.4 1122.8h4.8M793.6 1122.8h7.2M805.6 1122.8h9.6M827.2 1122.8h2.4M832 1122.8h7.2M841.6 1122.8h2.4M851.2 1122.8h2.4M856 1122.8h2.4M863.2 1122.8h2.4M875.2 1122.8h2.4M894.4 1122.8h2.4M908.8 1122.8h2.4M724 1125.2h4.8M740.8 1125.2h2.4M764.8 1125.2h7.2M774.4 1125.2h7.2M784 1125.2h4.8M791.2 1125.2h7.2M803.2 1125.2h2.4M846.4 1125.2h2.4M860.8 1125.2h2.4M872.8 1125.2h2.4M688 1127.6h2.4M707.2 1127.6h4.8M726.4 1127.6h2.4M731.2 1127.6h4.8M740.8 1127.6h4.8M760 1127.6h2.4M779.2 1127.6h4.8M788.8 1127.6h2.4M793.6 1127.6h2.4M798.4 1127.6h2.4M822.4 1127.6h2.4M829.6 1127.6h2.4M844 1127.6h7.2M858.4 1127.6h2.4M680.8 1130h2.4M721.6 1130h4.8M728.8 1130h7.2M738.4 1130h2.4M786.4 1130h4.8M796 1130h7.2M812.8 1130h2.4M817.6 1130h2.4M822.4 1130h2.4M829.6 1130h2.4M899.2 1130h2.4M904 1130h2.4M712 1132.4h2.4M736 1132.4h2.4M791.2 1132.4h2.4M803.2 1132.4h2.4M815.2 1132.4h2.4M896.8 1132.4h2.4M930.4 1132.4h2.4M714.4 1134.8h2.4M738.4 1134.8h4.8M748 1134.8h2.4M786.4 1134.8h2.4M793.6 1134.8h4.8M817.6 1134.8h2.4M836.8 1134.8h2.4M851.2 1134.8h2.4M870.4 1134.8h2.4M697.6 1137.2h2.4M719.2 1137.2h2.4M760 1137.2h2.4M764.8 1137.2h7.2M784 1137.2h2.4M793.6 1137.2h2.4M815.2 1137.2h2.4M822.4 1137.2h2.4M829.6 1137.2h2.4M834.4 1137.2h2.4M844 1137.2h2.4M904 1137.2h2.4M673.6 1139.6h2.4M716.8 1139.6h2.4M726.4 1139.6h7.2M736 1139.6h4.8M750.4 1139.6h2.4M779.2 1139.6h2.4M786.4 1139.6h2.4M793.6 1139.6h2.4M803.2 1139.6h2.4M815.2 1139.6h7.2M827.2 1139.6h2.4M844 1139.6h4.8M731.2 1142h2.4M764.8 1142h2.4M793.6 1142h2.4M798.4 1142h2.4M803.2 1142h2.4M815.2 1142h2.4M913.6 1142h2.4M652 1144.4h2.4M666.4 1144.4h2.4M714.4 1144.4h4.8M731.2 1144.4h2.4M738.4 1144.4h2.4M757.6 1144.4h2.4M786.4 1144.4h2.4M808 1144.4h2.4M817.6 1144.4h2.4M829.6 1144.4h2.4M868 1144.4h2.4M884.8 1144.4h2.4M656.8 1146.8h2.4M690.4 1146.8h2.4M736 1146.8h4.8M752.8 1146.8h2.4M762.4 1146.8h2.4M817.6 1146.8h2.4M719.2 1149.2h2.4M752.8 1149.2h2.4M769.6 1149.2h2.4M796 1149.2h2.4M800.8 1149.2h2.4M856 1149.2h2.4M865.6 1149.2h2.4M877.6 1149.2h2.4M935.2 1149.2h2.4M707.2 1151.6h2.4M726.4 1151.6h4.8M781.6 1151.6h2.4M827.2 1151.6h2.4M856 1151.6h2.4M860.8 1151.6h2.4M724 1154h2.4M762.4 1154h2.4M793.6 1154h4.8M820 1154h2.4M728.8 1156.4h2.4M757.6 1156.4h2.4M800.8 1156.4h2.4M810.4 1156.4h2.4M824.8 1156.4h2.4M863.2 1156.4h2.4M726.4 1158.8h2.4M738.4 1158.8h2.4M752.8 1158.8h2.4M788.8 1158.8h4.8M796 1158.8h2.4M872.8 1158.8h2.4M702.4 1161.2h2.4M786.4 1161.2h2.4M815.2 1161.2h2.4M695.2 1163.6h2.4M721.6 1163.6h2.4M808 1163.6h2.4M853.6 1163.6h2.4M788.8 1166h2.4M860.8 1166h2.4M762.4 1168.4h2.4M772 1168.4h2.4M865.6 1168.4h2.4M908.8 1168.4h2.4M676 1170.8h2.4M767.2 1170.8h2.4M870.4 1170.8h2.4M685.6 1173.2h2.4M774.4 1173.2h2.4M728.8 1175.6h2.4M887.2 1175.6h2.4M680.8 1178h2.4M738.4 1178h2.4M805.6 1180.4h2.4M839.2 1180.4h2.4M803.2 1187.6h2.4M784 1190h2.4M836.8 1192.4h2.4M784 1202h2.4"/><path stroke="#367cb0" d="M894.4 794h7.2M894.4 796.4h7.2M892 798.8h9.6M892 801.2h7.2M892 803.6h7.2M892 806h4.8M908.8 806h4.8M906.4 808.4h7.2M906.4 810.8h7.2M904 813.2h9.6M904 815.6h4.8M846.4 818h2.4M906.4 818h2.4M937.6 827.6h4.8M937.6 830h7.2M940 832.4h2.4M920.8 842h4.8M920.8 844.4h4.8M920.8 846.8h4.8M920.8 849.2h2.4M764.8 851.6h2.4M724 854h2.4M800.8 854h2.4M822.4 858.8h2.4M829.6 858.8h2.4M755.2 861.2h2.4M760 861.2h2.4M827.2 861.2h2.4M760 866h2.4M810.4 868.4h2.4M712 873.2h2.4M769.6 873.2h2.4M892 873.2h2.4M860.8 875.6h2.4M695.2 878h2.4M762.4 880.4h2.4M798.4 880.4h2.4M661.6 882.8h2.4M776.8 882.8h2.4M784 882.8h2.4M803.2 882.8h2.4M820 882.8h2.4M704.8 887.6h2.4M877.6 887.6h2.4M714.4 890h2.4M748 890h2.4M805.6 890h2.4M846.4 890h2.4M728.8 892.4h2.4M776.8 892.4h2.4M812.8 892.4h2.4M836.8 892.4h2.4M740.8 894.8h2.4M764.8 894.8h4.8M836.8 894.8h2.4M769.6 897.2h2.4M786.4 897.2h2.4M803.2 897.2h2.4M808 897.2h2.4M817.6 897.2h2.4M716.8 899.6h2.4M822.4 899.6h4.8M716.8 902h2.4M726.4 902h2.4M740.8 902h2.4M752.8 902h2.4M757.6 902h2.4M788.8 902h2.4M793.6 902h4.8M812.8 902h2.4M848.8 902h2.4M930.4 902h2.4M700 904.4h4.8M738.4 904.4h2.4M743.2 904.4h2.4M752.8 904.4h2.4M762.4 904.4h2.4M776.8 904.4h2.4M781.6 904.4h2.4M788.8 904.4h2.4M815.2 904.4h2.4M829.6 904.4h2.4M911.2 904.4h2.4M673.6 906.8h2.4M738.4 906.8h2.4M762.4 906.8h2.4M784 906.8h2.4M788.8 906.8h2.4M800.8 906.8h2.4M805.6 906.8h2.4M815.2 906.8h2.4M901.6 906.8h2.4M745.6 909.2h2.4M762.4 909.2h2.4M769.6 909.2h2.4M812.8 909.2h2.4M824.8 909.2h4.8M832 909.2h2.4M836.8 909.2h2.4M913.6 909.2h2.4M743.2 911.6h12M757.6 911.6h2.4M762.4 911.6h2.4M769.6 911.6h2.4M779.2 911.6h2.4M784 911.6h2.4M815.2 911.6h2.4M846.4 911.6h4.8M856 911.6h2.4M743.2 914h2.4M769.6 914h2.4M774.4 914h2.4M793.6 914h2.4M800.8 914h2.4M829.6 914h2.4M846.4 914h2.4M762.4 916.4h2.4M767.2 916.4h2.4M784 916.4h2.4M791.2 916.4h4.8M827.2 916.4h2.4M832 916.4h2.4M836.8 916.4h2.4M844 916.4h2.4M863.2 916.4h2.4M738.4 918.8h2.4M745.6 918.8h2.4M764.8 918.8h2.4M793.6 918.8h4.8M812.8 918.8h2.4M817.6 918.8h2.4M884.8 918.8h2.4M688 921.2h2.4M721.6 921.2h2.4M774.4 921.2h2.4M786.4 921.2h2.4M793.6 921.2h2.4M810.4 921.2h2.4M820 921.2h2.4M827.2 921.2h2.4M836.8 921.2h2.4M750.4 923.6h2.4M796 923.6h4.8M822.4 923.6h4.8M860.8 923.6h2.4M690.4 926h2.4M719.2 926h2.4M740.8 926h2.4M752.8 926h2.4M791.2 926h2.4M796 926h2.4M822.4 926h2.4M887.2 926h2.4M683.2 928.4h2.4M707.2 928.4h2.4M731.2 928.4h2.4M745.6 928.4h7.2M760 928.4h2.4M779.2 928.4h2.4M793.6 928.4h2.4M810.4 928.4h2.4M829.6 928.4h2.4M899.2 928.4h2.4M625.6 930.8h2.4M721.6 930.8h2.4M726.4 930.8h2.4M733.6 930.8h2.4M786.4 930.8h2.4M824.8 930.8h2.4M836.8 930.8h7.2M856 930.8h2.4M877.6 930.8h2.4M709.6 933.2h2.4M724 933.2h4.8M736 933.2h4.8M769.6 933.2h2.4M803.2 933.2h2.4M817.6 933.2h2.4M824.8 933.2h2.4M841.6 933.2h2.4M853.6 933.2h2.4M884.8 933.2h2.4M697.6 935.6h2.4M702.4 935.6h4.8M726.4 935.6h2.4M755.2 935.6h4.8M764.8 935.6h2.4M786.4 935.6h4.8M798.4 935.6h4.8M805.6 935.6h2.4M812.8 935.6h2.4M829.6 935.6h2.4M836.8 935.6h2.4M846.4 935.6h9.6M865.6 935.6h2.4M896.8 935.6h2.4M920.8 935.6h2.4M712 938h4.8M733.6 938h2.4M743.2 938h2.4M755.2 938h7.2M772 938h2.4M781.6 938h2.4M788.8 938h2.4M798.4 938h2.4M808 938h4.8M817.6 938h2.4M829.6 938h2.4M865.6 938h2.4M877.6 938h2.4M668.8 940.4h2.4M683.2 940.4h2.4M721.6 940.4h2.4M738.4 940.4h2.4M752.8 940.4h2.4M760 940.4h2.4M767.2 940.4h2.4M776.8 940.4h4.8M784 940.4h2.4M798.4 940.4h2.4M803.2 940.4h2.4M815.2 940.4h2.4M824.8 940.4h2.4M836.8 940.4h4.8M846.4 940.4h2.4M856 940.4h2.4M680.8 942.8h2.4M702.4 942.8h2.4M709.6 942.8h2.4M728.8 942.8h2.4M745.6 942.8h4.8M752.8 942.8h2.4M764.8 942.8h2.4M779.2 942.8h2.4M788.8 942.8h2.4M796 942.8h2.4M815.2 942.8h2.4M820 942.8h2.4M848.8 942.8h2.4M856 942.8h4.8M863.2 942.8h2.4M868 942.8h2.4M918.4 942.8h2.4M712 945.2h4.8M731.2 945.2h7.2M752.8 945.2h2.4M760 945.2h4.8M769.6 945.2h4.8M798.4 945.2h4.8M820 945.2h2.4M860.8 945.2h2.4M870.4 945.2h2.4M887.2 945.2h2.4M901.6 945.2h2.4M918.4 945.2h2.4M697.6 947.6h2.4M709.6 947.6h2.4M716.8 947.6h2.4M726.4 947.6h2.4M740.8 947.6h2.4M767.2 947.6h7.2M800.8 947.6h2.4M805.6 947.6h2.4M810.4 947.6h7.2M820 947.6h2.4M851.2 947.6h2.4M668.8 950h2.4M697.6 950h2.4M736 950h2.4M750.4 950h4.8M774.4 950h2.4M784 950h2.4M798.4 950h4.8M829.6 950h2.4M848.8 950h2.4M868 950h2.4M680.8 952.4h2.4M714.4 952.4h2.4M719.2 952.4h2.4M724 952.4h2.4M738.4 952.4h2.4M745.6 952.4h2.4M750.4 952.4h2.4M757.6 952.4h2.4M772 952.4h2.4M784 952.4h2.4M793.6 952.4h2.4M798.4 952.4h7.2M808 952.4h2.4M817.6 952.4h2.4M836.8 952.4h2.4M848.8 952.4h2.4M858.4 952.4h2.4M877.6 952.4h4.8M889.6 952.4h2.4M625.6 954.8h2.4M702.4 954.8h2.4M738.4 954.8h2.4M752.8 954.8h2.4M760 954.8h2.4M769.6 954.8h2.4M779.2 954.8h2.4M786.4 954.8h2.4M791.2 954.8h2.4M796 954.8h7.2M812.8 954.8h2.4M829.6 954.8h2.4M836.8 954.8h2.4M846.4 954.8h2.4M875.2 954.8h4.8M887.2 954.8h2.4M916 954.8h2.4M925.6 954.8h2.4M714.4 957.2h2.4M724 957.2h2.4M738.4 957.2h4.8M750.4 957.2h2.4M757.6 957.2h2.4M762.4 957.2h4.8M769.6 957.2h2.4M774.4 957.2h4.8M781.6 957.2h2.4M788.8 957.2h2.4M796 957.2h2.4M800.8 957.2h2.4M808 957.2h4.8M815.2 957.2h2.4M820 957.2h9.6M846.4 957.2h7.2M858.4 957.2h2.4M875.2 957.2h2.4M901.6 957.2h2.4M918.4 957.2h2.4M697.6 959.6h2.4M716.8 959.6h2.4M724 959.6h4.8M745.6 959.6h4.8M762.4 959.6h2.4M767.2 959.6h2.4M784 959.6h2.4M791.2 959.6h4.8M805.6 959.6h2.4M829.6 959.6h2.4M846.4 959.6h2.4M872.8 959.6h4.8M887.2 959.6h2.4M901.6 959.6h2.4M680.8 962h2.4M709.6 962h2.4M714.4 962h2.4M728.8 962h2.4M748 962h2.4M757.6 962h9.6M793.6 962h4.8M808 962h2.4M827.2 962h2.4M832 962h2.4M839.2 962h4.8M856 962h2.4M863.2 962h2.4M868 962h2.4M884.8 962h2.4M892 962h4.8M944.8 962h2.4M668.8 964.4h2.4M692.8 964.4h2.4M697.6 964.4h2.4M712 964.4h4.8M736 964.4h2.4M745.6 964.4h2.4M750.4 964.4h2.4M757.6 964.4h2.4M764.8 964.4h4.8M779.2 964.4h2.4M784 964.4h4.8M839.2 964.4h2.4M887.2 964.4h2.4M918.4 964.4h2.4M673.6 966.8h2.4M716.8 966.8h2.4M740.8 966.8h7.2M764.8 966.8h2.4M772 966.8h2.4M791.2 966.8h2.4M796 966.8h2.4M812.8 966.8h2.4M817.6 966.8h2.4M829.6 966.8h2.4M836.8 966.8h2.4M858.4 966.8h2.4M863.2 966.8h2.4M875.2 966.8h2.4M884.8 966.8h2.4M688 969.2h2.4M707.2 969.2h2.4M724 969.2h2.4M731.2 969.2h2.4M740.8 969.2h2.4M755.2 969.2h2.4M772 969.2h9.6M788.8 969.2h2.4M817.6 969.2h2.4M832 969.2h4.8M841.6 969.2h2.4M848.8 969.2h2.4M875.2 969.2h2.4M896.8 969.2h2.4M664 971.6h2.4M702.4 971.6h2.4M714.4 971.6h4.8M728.8 971.6h2.4M748 971.6h2.4M755.2 971.6h2.4M762.4 971.6h2.4M767.2 971.6h2.4M781.6 971.6h7.2M791.2 971.6h2.4M803.2 971.6h7.2M815.2 971.6h2.4M820 971.6h7.2M834.4 971.6h2.4M839.2 971.6h2.4M844 971.6h4.8M851.2 971.6h2.4M856 971.6h2.4M860.8 971.6h2.4M865.6 971.6h2.4M877.6 971.6h2.4M887.2 971.6h2.4M654.4 974h2.4M697.6 974h2.4M745.6 974h2.4M764.8 974h2.4M784 974h2.4M820 974h2.4M829.6 974h2.4M836.8 974h4.8M858.4 974h2.4M865.6 974h2.4M875.2 974h2.4M889.6 974h2.4M899.2 974h2.4M904 974h2.4M635.2 976.4h2.4M659.2 976.4h2.4M695.2 976.4h2.4M721.6 976.4h4.8M752.8 976.4h2.4M769.6 976.4h4.8M779.2 976.4h2.4M800.8 976.4h2.4M805.6 976.4h2.4M812.8 976.4h4.8M824.8 976.4h2.4M829.6 976.4h2.4M834.4 976.4h2.4M848.8 976.4h4.8M856 976.4h2.4M863.2 976.4h2.4M872.8 976.4h2.4M887.2 976.4h2.4M940 976.4h2.4M947.2 976.4h2.4M678.4 978.8h2.4M685.6 978.8h2.4M702.4 978.8h2.4M721.6 978.8h2.4M726.4 978.8h2.4M731.2 978.8h2.4M736 978.8h2.4M740.8 978.8h2.4M750.4 978.8h2.4M781.6 978.8h2.4M798.4 978.8h2.4M803.2 978.8h2.4M810.4 978.8h4.8M822.4 978.8h2.4M827.2 978.8h2.4M834.4 978.8h4.8M841.6 978.8h2.4M899.2 978.8h2.4M928 978.8h4.8M697.6 981.2h2.4M707.2 981.2h2.4M726.4 981.2h2.4M738.4 981.2h2.4M748 981.2h7.2M757.6 981.2h4.8M779.2 981.2h2.4M791.2 981.2h7.2M800.8 981.2h2.4M824.8 981.2h2.4M834.4 981.2h2.4M839.2 981.2h2.4M848.8 981.2h2.4M695.2 983.6h2.4M712 983.6h4.8M721.6 983.6h2.4M728.8 983.6h2.4M736 983.6h7.2M745.6 983.6h2.4M750.4 983.6h2.4M781.6 983.6h2.4M786.4 983.6h4.8M793.6 983.6h2.4M798.4 983.6h2.4M803.2 983.6h2.4M810.4 983.6h2.4M829.6 983.6h2.4M834.4 983.6h4.8M892 983.6h2.4M899.2 983.6h2.4M664 986h2.4M676 986h2.4M685.6 986h2.4M714.4 986h2.4M736 986h2.4M743.2 986h4.8M755.2 986h9.6M772 986h4.8M788.8 986h2.4M834.4 986h2.4M839.2 986h2.4M880 986h2.4M892 986h2.4M678.4 988.4h2.4M690.4 988.4h2.4M700 988.4h2.4M712 988.4h2.4M719.2 988.4h2.4M728.8 988.4h7.2M743.2 988.4h2.4M760 988.4h2.4M764.8 988.4h4.8M772 988.4h2.4M803.2 988.4h4.8M810.4 988.4h7.2M820 988.4h2.4M832 988.4h2.4M836.8 988.4h2.4M841.6 988.4h4.8M853.6 988.4h2.4M875.2 988.4h4.8M695.2 990.8h2.4M707.2 990.8h2.4M731.2 990.8h2.4M743.2 990.8h2.4M750.4 990.8h2.4M767.2 990.8h7.2M776.8 990.8h2.4M781.6 990.8h4.8M788.8 990.8h2.4M800.8 990.8h2.4M817.6 990.8h4.8M829.6 990.8h2.4M844 990.8h2.4M894.4 990.8h2.4M918.4 990.8h2.4M937.6 990.8h2.4M628 993.2h2.4M635.2 993.2h4.8M661.6 993.2h2.4M692.8 993.2h4.8M702.4 993.2h2.4M714.4 993.2h4.8M733.6 993.2h2.4M748 993.2h2.4M755.2 993.2h2.4M774.4 993.2h7.2M793.6 993.2h2.4M810.4 993.2h2.4M824.8 993.2h2.4M839.2 993.2h2.4M858.4 993.2h2.4M892 993.2h2.4M630.4 995.6h2.4M656.8 995.6h4.8M668.8 995.6h2.4M692.8 995.6h2.4M707.2 995.6h2.4M712 995.6h2.4M736 995.6h2.4M740.8 995.6h4.8M748 995.6h2.4M760 995.6h4.8M772 995.6h2.4M779.2 995.6h2.4M796 995.6h2.4M810.4 995.6h2.4M815.2 995.6h2.4M822.4 995.6h2.4M829.6 995.6h2.4M834.4 995.6h2.4M841.6 995.6h2.4M846.4 995.6h4.8M853.6 995.6h2.4M863.2 995.6h2.4M889.6 995.6h2.4M918.4 995.6h2.4M592 998h2.4M656.8 998h2.4M668.8 998h2.4M683.2 998h2.4M695.2 998h2.4M700 998h4.8M724 998h2.4M738.4 998h2.4M745.6 998h2.4M750.4 998h2.4M755.2 998h2.4M760 998h2.4M767.2 998h2.4M779.2 998h2.4M810.4 998h2.4M815.2 998h2.4M832 998h2.4M841.6 998h2.4M846.4 998h2.4M856 998h2.4M923.2 998h2.4M676 1000.4h2.4M688 1000.4h2.4M743.2 1000.4h4.8M800.8 1000.4h2.4M808 1000.4h2.4M812.8 1000.4h4.8M820 1000.4h4.8M834.4 1000.4h2.4M841.6 1000.4h2.4M846.4 1000.4h2.4M860.8 1000.4h2.4M865.6 1000.4h2.4M887.2 1000.4h2.4M896.8 1000.4h2.4M908.8 1000.4h2.4M666.4 1002.8h2.4M709.6 1002.8h4.8M738.4 1002.8h4.8M745.6 1002.8h2.4M776.8 1002.8h2.4M781.6 1002.8h2.4M786.4 1002.8h2.4M798.4 1002.8h2.4M810.4 1002.8h2.4M848.8 1002.8h2.4M858.4 1002.8h4.8M865.6 1002.8h2.4M877.6 1002.8h2.4M884.8 1002.8h4.8M935.2 1002.8h2.4M721.6 1005.2h2.4M736 1005.2h2.4M743.2 1005.2h4.8M781.6 1005.2h2.4M793.6 1005.2h4.8M803.2 1005.2h2.4M808 1005.2h2.4M834.4 1005.2h9.6M846.4 1005.2h2.4M880 1005.2h2.4M695.2 1007.6h2.4M702.4 1007.6h2.4M707.2 1007.6h2.4M719.2 1007.6h2.4M743.2 1007.6h2.4M748 1007.6h2.4M762.4 1007.6h7.2M776.8 1007.6h4.8M798.4 1007.6h2.4M808 1007.6h2.4M822.4 1007.6h2.4M829.6 1007.6h2.4M844 1007.6h2.4M872.8 1007.6h4.8M884.8 1007.6h2.4M676 1010h2.4M731.2 1010h2.4M748 1010h2.4M760 1010h2.4M764.8 1010h7.2M776.8 1010h2.4M796 1010h4.8M803.2 1010h2.4M827.2 1010h2.4M841.6 1010h2.4M848.8 1010h2.4M872.8 1010h2.4M877.6 1010h2.4M889.6 1010h2.4M930.4 1010h2.4M664 1012.4h2.4M683.2 1012.4h2.4M690.4 1012.4h2.4M707.2 1012.4h9.6M726.4 1012.4h2.4M757.6 1012.4h2.4M767.2 1012.4h2.4M774.4 1012.4h4.8M784 1012.4h2.4M793.6 1012.4h4.8M800.8 1012.4h2.4M810.4 1012.4h2.4M820 1012.4h2.4M827.2 1012.4h2.4M863.2 1012.4h2.4M880 1012.4h2.4M932.8 1012.4h2.4M712 1014.8h2.4M767.2 1014.8h2.4M776.8 1014.8h2.4M781.6 1014.8h2.4M791.2 1014.8h2.4M808 1014.8h2.4M815.2 1014.8h2.4M824.8 1014.8h7.2M841.6 1014.8h2.4M865.6 1014.8h4.8M880 1014.8h2.4M904 1014.8h2.4M911.2 1014.8h2.4M920.8 1014.8h2.4M748 1017.2h2.4M760 1017.2h9.6M779.2 1017.2h2.4M793.6 1017.2h4.8M812.8 1017.2h7.2M822.4 1017.2h2.4M832 1017.2h4.8M853.6 1017.2h2.4M860.8 1017.2h2.4M875.2 1017.2h2.4M880 1017.2h2.4M889.6 1017.2h2.4M901.6 1017.2h2.4M668.8 1019.6h2.4M721.6 1019.6h2.4M726.4 1019.6h2.4M745.6 1019.6h7.2M757.6 1019.6h2.4M767.2 1019.6h2.4M781.6 1019.6h2.4M786.4 1019.6h9.6M803.2 1019.6h2.4M808 1019.6h4.8M817.6 1019.6h2.4M822.4 1019.6h2.4M851.2 1019.6h2.4M872.8 1019.6h2.4M877.6 1019.6h2.4M899.2 1019.6h4.8M928 1019.6h2.4M949.6 1019.6h2.4M707.2 1022h2.4M712 1022h2.4M716.8 1022h2.4M736 1022h2.4M748 1022h2.4M752.8 1022h2.4M757.6 1022h4.8M764.8 1022h2.4M769.6 1022h2.4M784 1022h2.4M800.8 1022h2.4M808 1022h2.4M812.8 1022h2.4M832 1022h2.4M836.8 1022h4.8M848.8 1022h2.4M880 1022h2.4M925.6 1022h2.4M748 1024.4h2.4M772 1024.4h4.8M779.2 1024.4h2.4M786.4 1024.4h2.4M805.6 1024.4h2.4M812.8 1024.4h2.4M817.6 1024.4h4.8M824.8 1024.4h2.4M834.4 1024.4h4.8M858.4 1024.4h2.4M865.6 1024.4h2.4M877.6 1024.4h2.4M884.8 1024.4h2.4M892 1024.4h2.4M916 1024.4h2.4M712 1026.8h2.4M721.6 1026.8h2.4M731.2 1026.8h4.8M755.2 1026.8h2.4M767.2 1026.8h2.4M774.4 1026.8h2.4M779.2 1026.8h2.4M788.8 1026.8h2.4M793.6 1026.8h4.8M803.2 1026.8h2.4M808 1026.8h2.4M817.6 1026.8h2.4M827.2 1026.8h2.4M834.4 1026.8h2.4M839.2 1026.8h2.4M851.2 1026.8h4.8M863.2 1026.8h2.4M906.4 1026.8h2.4M928 1026.8h2.4M680.8 1029.2h2.4M692.8 1029.2h2.4M707.2 1029.2h2.4M738.4 1029.2h2.4M750.4 1029.2h4.8M764.8 1029.2h4.8M774.4 1029.2h2.4M784 1029.2h2.4M793.6 1029.2h2.4M798.4 1029.2h2.4M812.8 1029.2h2.4M822.4 1029.2h4.8M841.6 1029.2h2.4M848.8 1029.2h2.4M863.2 1029.2h4.8M877.6 1029.2h2.4M892 1029.2h2.4M940 1029.2h2.4M976 1029.2h2.4M690.4 1031.6h2.4M731.2 1031.6h2.4M757.6 1031.6h4.8M764.8 1031.6h2.4M796 1031.6h2.4M815.2 1031.6h2.4M841.6 1031.6h2.4M853.6 1031.6h2.4M860.8 1031.6h2.4M875.2 1031.6h2.4M901.6 1031.6h2.4M666.4 1034h2.4M704.8 1034h2.4M709.6 1034h2.4M721.6 1034h2.4M738.4 1034h4.8M750.4 1034h2.4M755.2 1034h2.4M760 1034h2.4M764.8 1034h2.4M772 1034h2.4M781.6 1034h4.8M800.8 1034h4.8M808 1034h2.4M822.4 1034h2.4M829.6 1034h4.8M841.6 1034h2.4M908.8 1034h4.8M714.4 1036.4h2.4M728.8 1036.4h2.4M738.4 1036.4h2.4M750.4 1036.4h2.4M757.6 1036.4h2.4M779.2 1036.4h2.4M786.4 1036.4h2.4M791.2 1036.4h2.4M800.8 1036.4h2.4M824.8 1036.4h4.8M841.6 1036.4h2.4M860.8 1036.4h2.4M865.6 1036.4h2.4M664 1038.8h2.4M673.6 1038.8h2.4M683.2 1038.8h2.4M695.2 1038.8h2.4M707.2 1038.8h2.4M714.4 1038.8h2.4M724 1038.8h2.4M750.4 1038.8h4.8M788.8 1038.8h4.8M796 1038.8h2.4M812.8 1038.8h2.4M817.6 1038.8h2.4M856 1038.8h2.4M870.4 1038.8h2.4M877.6 1038.8h2.4M896.8 1038.8h2.4M932.8 1038.8h2.4M692.8 1041.2h2.4M714.4 1041.2h4.8M774.4 1041.2h2.4M791.2 1041.2h2.4M808 1041.2h2.4M844 1041.2h2.4M877.6 1041.2h2.4M640 1043.6h2.4M673.6 1043.6h2.4M680.8 1043.6h2.4M692.8 1043.6h2.4M707.2 1043.6h2.4M721.6 1043.6h2.4M738.4 1043.6h2.4M752.8 1043.6h4.8M786.4 1043.6h2.4M791.2 1043.6h4.8M803.2 1043.6h2.4M808 1043.6h2.4M827.2 1043.6h2.4M832 1043.6h2.4M860.8 1043.6h2.4M889.6 1043.6h4.8M724 1046h2.4M728.8 1046h2.4M743.2 1046h2.4M752.8 1046h2.4M767.2 1046h2.4M776.8 1046h2.4M796 1046h2.4M800.8 1046h2.4M868 1046h4.8M896.8 1046h2.4M668.8 1048.4h2.4M678.4 1048.4h2.4M721.6 1048.4h2.4M740.8 1048.4h2.4M769.6 1048.4h7.2M779.2 1048.4h2.4M791.2 1048.4h2.4M800.8 1048.4h2.4M805.6 1048.4h2.4M810.4 1048.4h2.4M815.2 1048.4h2.4M820 1048.4h2.4M839.2 1048.4h2.4M846.4 1048.4h2.4M911.2 1048.4h2.4M724 1050.8h2.4M752.8 1050.8h2.4M781.6 1050.8h2.4M786.4 1050.8h2.4M796 1050.8h2.4M805.6 1050.8h2.4M817.6 1050.8h2.4M827.2 1050.8h4.8M836.8 1050.8h2.4M848.8 1050.8h4.8M863.2 1050.8h2.4M875.2 1050.8h4.8M908.8 1050.8h2.4M940 1050.8h2.4M678.4 1053.2h2.4M745.6 1053.2h2.4M750.4 1053.2h2.4M755.2 1053.2h2.4M779.2 1053.2h2.4M786.4 1053.2h4.8M820 1053.2h2.4M827.2 1053.2h2.4M832 1053.2h2.4M846.4 1053.2h2.4M868 1053.2h2.4M877.6 1053.2h2.4M896.8 1053.2h2.4M911.2 1053.2h2.4M916 1053.2h2.4M678.4 1055.6h2.4M688 1055.6h2.4M719.2 1055.6h2.4M743.2 1055.6h2.4M752.8 1055.6h2.4M812.8 1055.6h2.4M851.2 1055.6h2.4M863.2 1055.6h2.4M882.4 1055.6h2.4M901.6 1055.6h2.4M908.8 1055.6h2.4M676 1058h2.4M697.6 1058h2.4M743.2 1058h2.4M748 1058h2.4M762.4 1058h2.4M781.6 1058h2.4M803.2 1058h2.4M812.8 1058h2.4M839.2 1058h2.4M846.4 1058h2.4M858.4 1058h2.4M896.8 1058h2.4M695.2 1060.4h2.4M719.2 1060.4h2.4M726.4 1060.4h2.4M745.6 1060.4h2.4M774.4 1060.4h2.4M793.6 1060.4h2.4M824.8 1060.4h2.4M829.6 1060.4h2.4M848.8 1060.4h2.4M863.2 1060.4h2.4M889.6 1060.4h2.4M896.8 1060.4h2.4M764.8 1062.8h2.4M774.4 1062.8h2.4M779.2 1062.8h7.2M788.8 1062.8h2.4M793.6 1062.8h2.4M832 1062.8h2.4M841.6 1062.8h4.8M853.6 1062.8h2.4M872.8 1062.8h2.4M671.2 1065.2h2.4M680.8 1065.2h2.4M700 1065.2h2.4M750.4 1065.2h4.8M781.6 1065.2h2.4M796 1065.2h2.4M808 1065.2h2.4M824.8 1065.2h2.4M834.4 1065.2h2.4M853.6 1065.2h2.4M668.8 1067.6h2.4M774.4 1067.6h2.4M796 1067.6h2.4M805.6 1067.6h2.4M824.8 1067.6h2.4M832 1067.6h2.4M841.6 1067.6h2.4M724 1070h2.4M748 1070h2.4M757.6 1070h2.4M762.4 1070h2.4M772 1070h2.4M805.6 1070h2.4M822.4 1070h2.4M834.4 1070h2.4M844 1070h4.8M851.2 1070h2.4M856 1070h2.4M870.4 1070h2.4M875.2 1070h2.4M683.2 1072.4h2.4M695.2 1072.4h2.4M716.8 1072.4h2.4M733.6 1072.4h2.4M738.4 1072.4h2.4M764.8 1072.4h2.4M776.8 1072.4h2.4M781.6 1072.4h2.4M791.2 1072.4h2.4M803.2 1072.4h4.8M820 1072.4h2.4M707.2 1074.8h2.4M731.2 1074.8h2.4M740.8 1074.8h2.4M757.6 1074.8h2.4M772 1074.8h2.4M784 1074.8h2.4M824.8 1074.8h4.8M841.6 1074.8h2.4M892 1074.8h2.4M935.2 1074.8h2.4M709.6 1077.2h2.4M772 1077.2h2.4M805.6 1077.2h2.4M820 1077.2h2.4M858.4 1077.2h4.8M880 1077.2h2.4M664 1079.6h2.4M750.4 1079.6h2.4M769.6 1079.6h2.4M786.4 1079.6h2.4M791.2 1079.6h2.4M810.4 1079.6h2.4M820 1079.6h2.4M853.6 1079.6h2.4M870.4 1079.6h2.4M668.8 1082h2.4M685.6 1082h2.4M700 1082h2.4M704.8 1082h4.8M750.4 1082h2.4M755.2 1082h2.4M764.8 1082h2.4M788.8 1082h2.4M800.8 1082h2.4M805.6 1082h2.4M824.8 1082h4.8M704.8 1084.4h4.8M740.8 1084.4h2.4M769.6 1084.4h2.4M786.4 1084.4h2.4M800.8 1084.4h2.4M810.4 1084.4h2.4M829.6 1084.4h2.4M880 1084.4h2.4M896.8 1084.4h2.4M676 1086.8h2.4M769.6 1086.8h2.4M774.4 1086.8h2.4M786.4 1086.8h2.4M791.2 1086.8h2.4M796 1086.8h4.8M817.6 1086.8h2.4M851.2 1086.8h2.4M860.8 1086.8h4.8M733.6 1089.2h2.4M760 1089.2h2.4M784 1089.2h2.4M796 1089.2h2.4M805.6 1089.2h2.4M820 1089.2h2.4M863.2 1089.2h2.4M870.4 1089.2h2.4M719.2 1091.6h2.4M745.6 1091.6h2.4M762.4 1091.6h4.8M774.4 1091.6h2.4M808 1091.6h7.2M820 1091.6h2.4M824.8 1091.6h2.4M848.8 1091.6h2.4M776.8 1094h2.4M786.4 1094h2.4M851.2 1094h2.4M908.8 1094h2.4M695.2 1096.4h2.4M769.6 1096.4h4.8M851.2 1096.4h2.4M858.4 1096.4h2.4M724 1098.8h2.4M755.2 1098.8h2.4M793.6 1098.8h2.4M810.4 1098.8h2.4M820 1098.8h2.4M827.2 1098.8h2.4M865.6 1098.8h2.4M872.8 1098.8h2.4M683.2 1101.2h2.4M688 1101.2h2.4M755.2 1101.2h2.4M779.2 1101.2h2.4M810.4 1101.2h2.4M820 1101.2h2.4M863.2 1101.2h2.4M877.6 1101.2h2.4M700 1103.6h2.4M767.2 1103.6h2.4M820 1103.6h2.4M740.8 1106h2.4M760 1106h2.4M793.6 1106h2.4M829.6 1106h2.4M731.2 1108.4h2.4M752.8 1108.4h2.4M769.6 1108.4h4.8M812.8 1108.4h2.4M824.8 1108.4h2.4M863.2 1108.4h2.4M875.2 1108.4h2.4M880 1108.4h2.4M740.8 1110.8h2.4M803.2 1110.8h2.4M877.6 1110.8h2.4M656.8 1113.2h2.4M796 1113.2h2.4M803.2 1113.2h2.4M844 1113.2h2.4M784 1115.6h2.4M791.2 1115.6h2.4M803.2 1115.6h2.4M817.6 1115.6h2.4M846.4 1115.6h2.4M908.8 1115.6h2.4M925.6 1115.6h2.4M728.8 1118h2.4M733.6 1118h2.4M755.2 1118h2.4M791.2 1118h2.4M829.6 1118h2.4M860.8 1118h2.4M733.6 1120.4h2.4M750.4 1120.4h2.4M784 1120.4h2.4M707.2 1122.8h2.4M781.6 1122.8h2.4M791.2 1122.8h2.4M815.2 1122.8h2.4M889.6 1122.8h2.4M736 1125.2h4.8M815.2 1125.2h2.4M738.4 1127.6h2.4M810.4 1127.6h2.4M719.2 1130h2.4M776.8 1130h2.4M781.6 1130h2.4M935.2 1130h2.4M726.4 1132.4h4.8M755.2 1132.4h2.4M784 1132.4h2.4M788.8 1132.4h2.4M798.4 1132.4h2.4M733.6 1134.8h2.4M721.6 1137.2h2.4M772 1137.2h4.8M781.6 1137.2h2.4M796 1137.2h2.4M824.8 1137.2h2.4M637.6 1139.6h2.4M892 1139.6h2.4M714.4 1142h2.4M788.8 1142h2.4M937.6 1142h2.4M671.2 1144.4h2.4M726.4 1144.4h2.4M733.6 1146.8h2.4M779.2 1154h2.4M812.8 1154h2.4M786.4 1158.8h2.4M798.4 1166h2.4M728.8 1178h2.4M757.6 1180.4h2.4"/><path stroke="#2e88bc" d="M805.6 743.6h12M805.6 746h12M750.4 815.6h4.8M745.6 818h9.6M748 820.4h9.6M745.6 822.8h9.6M748 825.2h7.2M748 827.6h7.2M803.2 899.6h2.4M767.2 902h2.4M750.4 904.4h2.4M800.8 904.4h2.4M817.6 904.4h2.4M769.6 906.8h2.4M846.4 906.8h2.4M743.2 909.2h2.4M760 909.2h2.4M803.2 911.6h2.4M841.6 911.6h2.4M752.8 914h2.4M803.2 914h2.4M760 916.4h2.4M817.6 916.4h4.8M726.4 918.8h2.4M750.4 921.2h2.4M769.6 921.2h2.4M752.8 923.6h2.4M812.8 926h2.4M728.8 928.4h2.4M740.8 928.4h2.4M776.8 930.8h4.8M808 930.8h2.4M748 933.2h2.4M793.6 933.2h4.8M800.8 933.2h2.4M832 933.2h4.8M752.8 935.6h2.4M767.2 938h2.4M779.2 938h2.4M796 938h2.4M709.6 940.4h4.8M704.8 942.8h2.4M716.8 942.8h2.4M781.6 942.8h4.8M798.4 942.8h2.4M716.8 945.2h2.4M791.2 945.2h2.4M796 945.2h2.4M776.8 947.6h2.4M786.4 947.6h4.8M803.2 947.6h2.4M817.6 947.6h2.4M832 947.6h2.4M762.4 950h2.4M772 950h2.4M779.2 950h2.4M803.2 950h2.4M860.8 950h2.4M762.4 952.4h4.8M774.4 952.4h2.4M810.4 952.4h2.4M844 952.4h2.4M740.8 954.8h2.4M750.4 954.8h2.4M848.8 954.8h2.4M716.8 957.2h2.4M728.8 957.2h2.4M760 957.2h2.4M719.2 959.6h2.4M776.8 959.6h2.4M786.4 959.6h2.4M822.4 959.6h2.4M851.2 959.6h2.4M865.6 959.6h4.8M707.2 962h2.4M776.8 962h4.8M875.2 962h2.4M752.8 964.4h2.4M760 964.4h2.4M851.2 964.4h2.4M870.4 964.4h2.4M760 966.8h2.4M803.2 966.8h2.4M808 966.8h2.4M820 966.8h2.4M832 966.8h2.4M877.6 966.8h2.4M695.2 969.2h2.4M762.4 969.2h2.4M769.6 969.2h2.4M784 969.2h2.4M803.2 969.2h2.4M815.2 969.2h2.4M822.4 969.2h2.4M800.8 971.6h2.4M827.2 971.6h2.4M755.2 974h2.4M767.2 974h4.8M781.6 974h2.4M791.2 974h2.4M803.2 974h2.4M812.8 974h2.4M762.4 976.4h2.4M784 976.4h7.2M798.4 976.4h2.4M803.2 976.4h2.4M827.2 976.4h2.4M719.2 978.8h2.4M728.8 978.8h2.4M733.6 978.8h2.4M743.2 978.8h2.4M748 978.8h2.4M755.2 978.8h2.4M767.2 978.8h2.4M784 978.8h2.4M791.2 978.8h4.8M848.8 978.8h2.4M865.6 978.8h2.4M889.6 978.8h2.4M772 981.2h4.8M808 981.2h2.4M844 981.2h2.4M716.8 983.6h2.4M743.2 983.6h2.4M755.2 983.6h2.4M815.2 983.6h2.4M846.4 983.6h2.4M697.6 986h2.4M824.8 986h4.8M836.8 986h2.4M738.4 988.4h2.4M755.2 988.4h2.4M781.6 988.4h2.4M796 988.4h2.4M817.6 988.4h2.4M822.4 988.4h2.4M829.6 988.4h2.4M697.6 990.8h2.4M719.2 990.8h2.4M764.8 990.8h2.4M805.6 990.8h2.4M841.6 990.8h2.4M868 990.8h2.4M875.2 990.8h2.4M721.6 993.2h2.4M822.4 993.2h2.4M846.4 993.2h2.4M695.2 995.6h2.4M721.6 995.6h2.4M784 995.6h2.4M791.2 995.6h2.4M817.6 995.6h2.4M839.2 995.6h2.4M860.8 995.6h2.4M740.8 998h2.4M757.6 998h2.4M772 998h2.4M781.6 998h2.4M788.8 998h2.4M793.6 998h2.4M824.8 998h2.4M834.4 998h2.4M887.2 998h2.4M772 1000.4h2.4M779.2 1000.4h2.4M784 1000.4h4.8M796 1000.4h2.4M870.4 1000.4h4.8M880 1000.4h2.4M704.8 1002.8h2.4M743.2 1002.8h2.4M750.4 1002.8h2.4M769.6 1002.8h2.4M779.2 1002.8h2.4M817.6 1002.8h2.4M827.2 1002.8h2.4M839.2 1002.8h2.4M868 1002.8h2.4M700 1005.2h2.4M716.8 1005.2h2.4M757.6 1005.2h2.4M772 1005.2h2.4M805.6 1005.2h2.4M822.4 1005.2h2.4M832 1005.2h2.4M884.8 1005.2h2.4M736 1007.6h2.4M740.8 1007.6h2.4M757.6 1007.6h2.4M815.2 1007.6h2.4M841.6 1007.6h2.4M856 1007.6h2.4M779.2 1010h2.4M745.6 1012.4h2.4M815.2 1012.4h4.8M841.6 1012.4h2.4M887.2 1012.4h2.4M748 1014.8h7.2M779.2 1014.8h2.4M786.4 1014.8h2.4M793.6 1014.8h2.4M858.4 1014.8h2.4M877.6 1014.8h2.4M709.6 1017.2h2.4M752.8 1017.2h2.4M772 1017.2h2.4M776.8 1017.2h2.4M803.2 1017.2h2.4M829.6 1017.2h2.4M865.6 1017.2h2.4M872.8 1017.2h2.4M750.4 1022h2.4M803.2 1022h2.4M700 1024.4h2.4M707.2 1024.4h4.8M750.4 1024.4h2.4M757.6 1024.4h2.4M781.6 1024.4h2.4M800.8 1024.4h2.4M815.2 1024.4h2.4M829.6 1024.4h2.4M870.4 1024.4h2.4M700 1026.8h2.4M764.8 1026.8h2.4M822.4 1026.8h4.8M721.6 1029.2h2.4M788.8 1029.2h2.4M803.2 1029.2h2.4M817.6 1029.2h2.4M704.8 1031.6h2.4M817.6 1031.6h2.4M834.4 1031.6h2.4M858.4 1031.6h2.4M762.4 1034h2.4M786.4 1034h2.4M812.8 1034h2.4M820 1034h2.4M733.6 1036.4h2.4M745.6 1036.4h2.4M755.2 1036.4h2.4M776.8 1036.4h2.4M781.6 1036.4h2.4M793.6 1036.4h7.2M803.2 1036.4h2.4M810.4 1036.4h2.4M817.6 1036.4h2.4M858.4 1036.4h2.4M709.6 1038.8h2.4M762.4 1038.8h2.4M815.2 1038.8h2.4M853.6 1038.8h2.4M719.2 1041.2h2.4M743.2 1041.2h2.4M760 1041.2h2.4M767.2 1041.2h2.4M810.4 1041.2h2.4M834.4 1041.2h2.4M726.4 1043.6h2.4M824.8 1043.6h2.4M834.4 1043.6h2.4M863.2 1043.6h2.4M740.8 1046h2.4M810.4 1046h2.4M815.2 1046h2.4M848.8 1046h2.4M755.2 1048.4h2.4M781.6 1048.4h2.4M726.4 1050.8h2.4M733.6 1053.2h2.4M803.2 1053.2h2.4M815.2 1053.2h2.4M829.6 1053.2h2.4M836.8 1053.2h2.4M856 1053.2h2.4M738.4 1055.6h2.4M757.6 1055.6h4.8M764.8 1055.6h2.4M853.6 1055.6h2.4M740.8 1058h2.4M750.4 1058h2.4M786.4 1058h2.4M836.8 1058h2.4M865.6 1058h2.4M755.2 1060.4h2.4M776.8 1060.4h2.4M860.8 1060.4h2.4M791.2 1062.8h2.4M808 1062.8h2.4M817.6 1062.8h2.4M848.8 1062.8h2.4M757.6 1065.2h2.4M798.4 1065.2h2.4M803.2 1067.6h2.4M829.6 1067.6h2.4M839.2 1070h2.4M755.2 1072.4h2.4M800.8 1077.2h2.4M812.8 1077.2h2.4M764.8 1079.6h2.4M800.8 1079.6h2.4M774.4 1084.4h2.4M772 1086.8h2.4M779.2 1086.8h2.4M808 1086.8h2.4M791.2 1089.2h2.4M800.8 1089.2h2.4"/><path stroke="#2a94c4" d="M1021.6 854h4.8M1012 856.4h4.8M1021.6 856.4h4.8M1004.8 858.8h4.8M1021.6 858.8h2.4M1002.4 861.2h4.8M1016.8 861.2h4.8M1000 863.6h12M992.8 866h14.4M992.8 868.4h4.8M805.6 938h2.4M774.4 942.8h4.8M786.4 942.8h2.4M810.4 945.2h2.4M757.6 950h2.4M776.8 950h2.4M834.4 957.2h2.4M772 959.6h4.8M815.2 959.6h2.4M820 962h2.4M836.8 962h2.4M748 964.4h2.4M824.8 964.4h2.4M762.4 966.8h2.4M798.4 969.2h2.4M779.2 974h2.4M808 974h2.4M760 976.4h2.4M760 978.8h2.4M776.8 978.8h2.4M740.8 981.2h2.4M762.4 981.2h4.8M803.2 981.2h2.4M827.2 981.2h2.4M846.4 981.2h2.4M764.8 983.6h2.4M740.8 986h2.4M750.4 986h2.4M776.8 986h2.4M786.4 993.2h2.4M800.8 993.2h2.4M786.4 995.6h2.4M820 995.6h2.4M812.8 1002.8h2.4M824.8 1002.8h2.4M834.4 1002.8h2.4M760 1005.2h2.4M774.4 1005.2h2.4M798.4 1005.2h2.4M810.4 1007.6h2.4M748 1012.4h2.4M824.8 1012.4h2.4M769.6 1014.8h2.4M755.2 1017.2h2.4M820 1017.2h2.4M796 1019.6h2.4M817.6 1022h2.4M834.4 1022h2.4M762.4 1024.4h2.4M805.6 1026.8h2.4M786.4 1031.6h2.4M810.4 1031.6h2.4M805.6 1036.4h4.8M776.8 1038.8h2.4"/><path stroke="#3c6496" d="M700 801.2h2.4M788.8 815.6h2.4M776.8 820.4h2.4M760 827.6h2.4M762.4 830h2.4M800.8 830h2.4M764.8 834.8h2.4M772 834.8h2.4M815.2 834.8h2.4M827.2 834.8h2.4M760 839.6h2.4M815.2 839.6h2.4M740.8 842h2.4M889.6 842h2.4M707.2 844.4h2.4M796 844.4h2.4M774.4 846.8h2.4M805.6 849.2h2.4M832 849.2h2.4M697.6 851.6h2.4M776.8 851.6h2.4M786.4 851.6h2.4M887.2 851.6h2.4M776.8 854h2.4M899.2 854h2.4M776.8 856.4h2.4M692.8 858.8h2.4M791.2 858.8h2.4M712 861.2h2.4M788.8 861.2h2.4M805.6 861.2h2.4M810.4 861.2h2.4M853.6 861.2h2.4M692.8 863.6h2.4M697.6 863.6h2.4M733.6 863.6h2.4M798.4 863.6h2.4M709.6 866h2.4M724 866h2.4M745.6 866h2.4M764.8 866h2.4M781.6 866h2.4M788.8 866h2.4M793.6 866h2.4M812.8 866h2.4M827.2 866h2.4M685.6 868.4h2.4M724 868.4h4.8M776.8 868.4h2.4M791.2 868.4h2.4M800.8 868.4h2.4M904 868.4h2.4M724 870.8h2.4M728.8 870.8h2.4M743.2 870.8h2.4M748 870.8h2.4M762.4 870.8h2.4M793.6 870.8h2.4M875.2 870.8h2.4M707.2 873.2h2.4M776.8 873.2h4.8M791.2 873.2h2.4M839.2 873.2h2.4M870.4 873.2h2.4M731.2 875.6h2.4M798.4 875.6h2.4M810.4 875.6h2.4M822.4 875.6h2.4M839.2 875.6h2.4M637.6 878h2.4M712 878h2.4M760 878h2.4M769.6 878h2.4M791.2 878h2.4M805.6 878h2.4M834.4 878h2.4M697.6 880.4h2.4M709.6 880.4h2.4M731.2 880.4h2.4M740.8 880.4h2.4M752.8 880.4h2.4M764.8 880.4h2.4M769.6 880.4h2.4M791.2 880.4h4.8M800.8 880.4h2.4M829.6 880.4h2.4M834.4 880.4h2.4M868 880.4h2.4M692.8 882.8h2.4M726.4 882.8h4.8M752.8 882.8h2.4M764.8 882.8h2.4M822.4 882.8h2.4M752.8 885.2h2.4M762.4 885.2h2.4M769.6 885.2h2.4M793.6 885.2h2.4M800.8 885.2h2.4M805.6 885.2h2.4M820 885.2h2.4M827.2 885.2h2.4M832 885.2h2.4M836.8 885.2h2.4M841.6 885.2h2.4M856 885.2h2.4M875.2 885.2h2.4M894.4 885.2h2.4M668.8 887.6h2.4M707.2 887.6h4.8M728.8 887.6h7.2M791.2 887.6h4.8M800.8 887.6h2.4M820 887.6h2.4M824.8 887.6h2.4M853.6 887.6h2.4M858.4 887.6h2.4M716.8 890h2.4M731.2 890h2.4M752.8 890h2.4M757.6 890h4.8M769.6 890h2.4M774.4 890h2.4M788.8 890h2.4M798.4 890h2.4M817.6 890h4.8M858.4 890h2.4M707.2 892.4h2.4M721.6 892.4h2.4M743.2 892.4h2.4M760 892.4h2.4M779.2 892.4h2.4M796 892.4h2.4M815.2 892.4h2.4M827.2 892.4h2.4M846.4 892.4h2.4M858.4 892.4h2.4M647.2 894.8h2.4M707.2 894.8h2.4M721.6 894.8h2.4M736 894.8h2.4M745.6 894.8h7.2M760 894.8h2.4M774.4 894.8h2.4M779.2 894.8h2.4M810.4 894.8h2.4M820 894.8h2.4M887.2 894.8h2.4M894.4 894.8h2.4M683.2 897.2h2.4M728.8 897.2h2.4M736 897.2h7.2M745.6 897.2h4.8M760 897.2h2.4M764.8 897.2h4.8M774.4 897.2h2.4M779.2 897.2h2.4M791.2 897.2h2.4M796 897.2h2.4M832 897.2h2.4M841.6 897.2h2.4M848.8 897.2h2.4M853.6 897.2h4.8M860.8 897.2h2.4M870.4 897.2h2.4M918.4 897.2h2.4M692.8 899.6h2.4M700 899.6h4.8M719.2 899.6h2.4M724 899.6h2.4M728.8 899.6h2.4M743.2 899.6h2.4M750.4 899.6h7.2M760 899.6h2.4M772 899.6h4.8M779.2 899.6h2.4M786.4 899.6h2.4M791.2 899.6h2.4M796 899.6h2.4M800.8 899.6h2.4M817.6 899.6h2.4M827.2 899.6h2.4M832 899.6h2.4M851.2 899.6h2.4M856 899.6h2.4M860.8 899.6h2.4M880 899.6h4.8M688 902h2.4M762.4 902h4.8M784 902h2.4M803.2 902h2.4M817.6 902h2.4M863.2 902h2.4M688 904.4h2.4M728.8 904.4h2.4M745.6 904.4h2.4M791.2 904.4h2.4M803.2 904.4h4.8M832 904.4h2.4M836.8 904.4h2.4M853.6 904.4h2.4M664 906.8h2.4M704.8 906.8h2.4M724 906.8h2.4M733.6 906.8h2.4M745.6 906.8h2.4M752.8 906.8h2.4M757.6 906.8h2.4M772 906.8h2.4M776.8 906.8h2.4M829.6 906.8h2.4M844 906.8h2.4M860.8 906.8h2.4M887.2 906.8h2.4M904 906.8h2.4M940 906.8h2.4M640 909.2h2.4M678.4 909.2h2.4M736 909.2h2.4M748 909.2h4.8M772 909.2h4.8M781.6 909.2h4.8M800.8 909.2h7.2M853.6 909.2h2.4M865.6 909.2h4.8M889.6 909.2h2.4M709.6 911.6h2.4M714.4 911.6h2.4M721.6 911.6h2.4M738.4 911.6h2.4M760 911.6h2.4M776.8 911.6h2.4M796 911.6h2.4M820 911.6h2.4M863.2 911.6h2.4M870.4 911.6h2.4M920.8 911.6h2.4M656.8 914h2.4M676 914h2.4M697.6 914h2.4M702.4 914h2.4M714.4 914h2.4M721.6 914h2.4M738.4 914h2.4M745.6 914h2.4M760 914h2.4M764.8 914h4.8M772 914h2.4M817.6 914h2.4M822.4 914h2.4M844 914h2.4M865.6 914h2.4M872.8 914h2.4M877.6 914h2.4M889.6 914h2.4M901.6 914h2.4M719.2 916.4h2.4M748 916.4h9.6M774.4 916.4h2.4M800.8 916.4h2.4M829.6 916.4h2.4M853.6 916.4h2.4M877.6 916.4h2.4M882.4 916.4h2.4M889.6 916.4h2.4M704.8 918.8h7.2M714.4 918.8h2.4M721.6 918.8h2.4M733.6 918.8h2.4M740.8 918.8h2.4M748 918.8h2.4M762.4 918.8h2.4M774.4 918.8h2.4M779.2 918.8h2.4M803.2 918.8h2.4M810.4 918.8h2.4M824.8 918.8h2.4M836.8 918.8h2.4M851.2 918.8h2.4M863.2 918.8h2.4M899.2 918.8h2.4M906.4 918.8h2.4M704.8 921.2h2.4M716.8 921.2h2.4M726.4 921.2h2.4M743.2 921.2h4.8M779.2 921.2h2.4M788.8 921.2h4.8M796 921.2h7.2M812.8 921.2h2.4M832 921.2h2.4M841.6 921.2h2.4M846.4 921.2h7.2M877.6 921.2h2.4M695.2 923.6h2.4M704.8 923.6h2.4M714.4 923.6h2.4M724 923.6h7.2M733.6 923.6h2.4M738.4 923.6h4.8M762.4 923.6h2.4M788.8 923.6h2.4M800.8 923.6h2.4M812.8 923.6h2.4M832 923.6h2.4M889.6 923.6h4.8M896.8 923.6h2.4M906.4 923.6h4.8M920.8 923.6h2.4M930.4 923.6h2.4M940 923.6h2.4M673.6 926h2.4M697.6 926h2.4M704.8 926h2.4M724 926h4.8M743.2 926h2.4M755.2 926h2.4M760 926h2.4M764.8 926h7.2M776.8 926h2.4M800.8 926h7.2M815.2 926h2.4M820 926h2.4M829.6 926h4.8M841.6 926h2.4M863.2 926h4.8M882.4 926h2.4M892 926h2.4M899.2 926h2.4M911.2 926h2.4M930.4 926h2.4M656.8 928.4h2.4M671.2 928.4h2.4M685.6 928.4h2.4M702.4 928.4h2.4M709.6 928.4h2.4M736 928.4h4.8M755.2 928.4h2.4M767.2 928.4h2.4M776.8 928.4h2.4M803.2 928.4h2.4M812.8 928.4h2.4M836.8 928.4h2.4M882.4 928.4h2.4M889.6 928.4h7.2M908.8 928.4h2.4M656.8 930.8h2.4M678.4 930.8h4.8M688 930.8h2.4M707.2 930.8h2.4M712 930.8h2.4M716.8 930.8h2.4M736 930.8h2.4M757.6 930.8h7.2M772 930.8h2.4M803.2 930.8h2.4M812.8 930.8h2.4M817.6 930.8h2.4M827.2 930.8h2.4M851.2 930.8h2.4M863.2 930.8h2.4M875.2 930.8h2.4M880 930.8h2.4M908.8 930.8h2.4M952 930.8h2.4M637.6 933.2h2.4M661.6 933.2h2.4M680.8 933.2h2.4M695.2 933.2h2.4M702.4 933.2h2.4M707.2 933.2h2.4M721.6 933.2h2.4M740.8 933.2h7.2M762.4 933.2h2.4M767.2 933.2h2.4M772 933.2h2.4M776.8 933.2h4.8M791.2 933.2h2.4M798.4 933.2h2.4M808 933.2h2.4M836.8 933.2h2.4M844 933.2h2.4M848.8 933.2h4.8M872.8 933.2h4.8M882.4 933.2h2.4M887.2 933.2h4.8M901.6 933.2h2.4M680.8 935.6h2.4M688 935.6h2.4M692.8 935.6h2.4M707.2 935.6h2.4M731.2 935.6h2.4M738.4 935.6h9.6M784 935.6h2.4M820 935.6h2.4M827.2 935.6h2.4M832 935.6h4.8M856 935.6h2.4M863.2 935.6h2.4M868 935.6h4.8M940 935.6h2.4M688 938h2.4M697.6 938h2.4M707.2 938h2.4M721.6 938h2.4M726.4 938h2.4M736 938h2.4M745.6 938h2.4M764.8 938h2.4M769.6 938h2.4M812.8 938h2.4M836.8 938h2.4M880 938h4.8M928 938h2.4M942.4 938h2.4M685.6 940.4h2.4M695.2 940.4h2.4M704.8 940.4h2.4M736 940.4h2.4M750.4 940.4h2.4M762.4 940.4h2.4M808 940.4h2.4M812.8 940.4h2.4M820 940.4h2.4M829.6 940.4h2.4M844 940.4h2.4M848.8 940.4h2.4M863.2 940.4h2.4M870.4 940.4h2.4M882.4 940.4h2.4M887.2 940.4h2.4M654.4 942.8h2.4M692.8 942.8h2.4M707.2 942.8h2.4M712 942.8h2.4M724 942.8h4.8M733.6 942.8h2.4M755.2 942.8h2.4M760 942.8h2.4M805.6 942.8h2.4M827.2 942.8h2.4M832 942.8h2.4M841.6 942.8h2.4M853.6 942.8h2.4M860.8 942.8h2.4M870.4 942.8h4.8M889.6 942.8h2.4M899.2 942.8h2.4M906.4 942.8h2.4M911.2 942.8h2.4M920.8 942.8h2.4M683.2 945.2h4.8M690.4 945.2h2.4M702.4 945.2h2.4M719.2 945.2h2.4M745.6 945.2h2.4M750.4 945.2h2.4M793.6 945.2h2.4M822.4 945.2h4.8M832 945.2h2.4M841.6 945.2h2.4M848.8 945.2h2.4M853.6 945.2h2.4M858.4 945.2h2.4M863.2 945.2h4.8M899.2 945.2h2.4M904 945.2h2.4M908.8 945.2h2.4M913.6 945.2h2.4M942.4 945.2h2.4M973.6 945.2h2.4M637.6 947.6h2.4M654.4 947.6h2.4M666.4 947.6h2.4M685.6 947.6h2.4M690.4 947.6h2.4M695.2 947.6h2.4M700 947.6h4.8M707.2 947.6h2.4M736 947.6h2.4M745.6 947.6h2.4M750.4 947.6h2.4M755.2 947.6h2.4M834.4 947.6h2.4M839.2 947.6h2.4M853.6 947.6h2.4M863.2 947.6h2.4M892 947.6h2.4M928 947.6h2.4M652 950h2.4M671.2 950h2.4M692.8 950h2.4M738.4 950h4.8M767.2 950h2.4M851.2 950h4.8M865.6 950h2.4M877.6 950h2.4M889.6 950h2.4M935.2 950h2.4M942.4 950h2.4M666.4 952.4h2.4M690.4 952.4h2.4M704.8 952.4h4.8M721.6 952.4h2.4M731.2 952.4h2.4M736 952.4h2.4M748 952.4h2.4M863.2 952.4h2.4M870.4 952.4h2.4M884.8 952.4h2.4M892 952.4h2.4M896.8 952.4h2.4M901.6 952.4h2.4M906.4 952.4h2.4M920.8 952.4h2.4M947.2 952.4h2.4M661.6 954.8h2.4M676 954.8h2.4M680.8 954.8h2.4M692.8 954.8h2.4M714.4 954.8h2.4M719.2 954.8h2.4M728.8 954.8h2.4M736 954.8h2.4M745.6 954.8h2.4M774.4 954.8h2.4M827.2 954.8h2.4M863.2 954.8h2.4M882.4 954.8h2.4M918.4 954.8h2.4M928 954.8h2.4M654.4 957.2h2.4M685.6 957.2h2.4M709.6 957.2h2.4M733.6 957.2h2.4M748 957.2h2.4M767.2 957.2h2.4M784 957.2h2.4M856 957.2h2.4M863.2 957.2h4.8M884.8 957.2h2.4M894.4 957.2h2.4M906.4 957.2h2.4M920.8 957.2h7.2M659.2 959.6h2.4M685.6 959.6h9.6M740.8 959.6h2.4M856 959.6h2.4M870.4 959.6h2.4M877.6 959.6h2.4M882.4 959.6h2.4M896.8 959.6h2.4M918.4 959.6h2.4M628 962h2.4M812.8 962h2.4M848.8 962h2.4M860.8 962h2.4M870.4 962h2.4M906.4 962h2.4M911.2 962h2.4M928 962h2.4M613.6 964.4h2.4M637.6 964.4h2.4M664 964.4h2.4M671.2 964.4h4.8M707.2 964.4h4.8M726.4 964.4h2.4M738.4 964.4h2.4M817.6 964.4h2.4M853.6 964.4h2.4M858.4 964.4h2.4M872.8 964.4h2.4M892 964.4h4.8M952 964.4h2.4M654.4 966.8h2.4M683.2 966.8h2.4M692.8 966.8h2.4M700 966.8h2.4M704.8 966.8h12M719.2 966.8h2.4M738.4 966.8h2.4M827.2 966.8h2.4M848.8 966.8h2.4M853.6 966.8h2.4M865.6 966.8h2.4M880 966.8h4.8M918.4 966.8h2.4M640 969.2h2.4M644.8 969.2h2.4M680.8 969.2h2.4M690.4 969.2h2.4M702.4 969.2h2.4M712 969.2h2.4M733.6 969.2h2.4M808 969.2h2.4M846.4 969.2h2.4M858.4 969.2h4.8M865.6 969.2h2.4M887.2 969.2h4.8M899.2 969.2h2.4M904 969.2h2.4M916 969.2h2.4M932.8 969.2h2.4M942.4 969.2h2.4M947.2 969.2h2.4M652 971.6h2.4M661.6 971.6h2.4M671.2 971.6h2.4M676 971.6h2.4M712 971.6h2.4M738.4 971.6h2.4M832 971.6h2.4M875.2 971.6h2.4M894.4 971.6h2.4M906.4 971.6h2.4M916 971.6h4.8M666.4 974h2.4M676 974h4.8M685.6 974h2.4M690.4 974h2.4M695.2 974h2.4M700 974h2.4M709.6 974h7.2M786.4 974h2.4M800.8 974h2.4M810.4 974h2.4M882.4 974h2.4M887.2 974h2.4M892 974h7.2M901.6 974h2.4M916 974h2.4M930.4 974h2.4M935.2 974h2.4M968.8 974h2.4M983.2 974h2.4M676 976.4h2.4M683.2 976.4h2.4M690.4 976.4h2.4M697.6 976.4h4.8M707.2 976.4h2.4M726.4 976.4h2.4M731.2 976.4h2.4M764.8 976.4h2.4M846.4 976.4h2.4M860.8 976.4h2.4M875.2 976.4h2.4M889.6 976.4h12M904 976.4h2.4M913.6 976.4h4.8M928 976.4h2.4M937.6 976.4h2.4M966.4 976.4h2.4M656.8 978.8h2.4M683.2 978.8h2.4M690.4 978.8h2.4M716.8 978.8h2.4M860.8 978.8h4.8M868 978.8h2.4M877.6 978.8h4.8M892 978.8h2.4M896.8 978.8h2.4M904 978.8h4.8M911.2 978.8h7.2M923.2 978.8h2.4M625.6 981.2h2.4M700 981.2h2.4M704.8 981.2h2.4M712 981.2h2.4M724 981.2h2.4M733.6 981.2h2.4M786.4 981.2h2.4M810.4 981.2h2.4M832 981.2h2.4M858.4 981.2h4.8M865.6 981.2h2.4M877.6 981.2h2.4M899.2 981.2h2.4M904 981.2h2.4M920.8 981.2h4.8M988 981.2h2.4M625.6 983.6h2.4M664 983.6h2.4M668.8 983.6h2.4M680.8 983.6h2.4M692.8 983.6h2.4M697.6 983.6h4.8M704.8 983.6h2.4M709.6 983.6h2.4M726.4 983.6h2.4M733.6 983.6h2.4M769.6 983.6h2.4M844 983.6h2.4M856 983.6h2.4M913.6 983.6h2.4M668.8 986h2.4M692.8 986h2.4M719.2 986h2.4M724 986h2.4M731.2 986h2.4M779.2 986h2.4M791.2 986h2.4M812.8 986h2.4M856 986h4.8M870.4 986h7.2M884.8 986h2.4M889.6 986h2.4M901.6 986h7.2M601.6 988.4h2.4M640 988.4h2.4M659.2 988.4h4.8M680.8 988.4h4.8M688 988.4h2.4M692.8 988.4h4.8M704.8 988.4h2.4M709.6 988.4h2.4M716.8 988.4h2.4M784 988.4h2.4M798.4 988.4h2.4M827.2 988.4h2.4M848.8 988.4h2.4M856 988.4h7.2M870.4 988.4h4.8M882.4 988.4h2.4M892 988.4h7.2M904 988.4h2.4M908.8 988.4h2.4M940 988.4h2.4M947.2 988.4h2.4M654.4 990.8h2.4M659.2 990.8h2.4M664 990.8h2.4M668.8 990.8h2.4M673.6 990.8h2.4M680.8 990.8h2.4M685.6 990.8h2.4M692.8 990.8h2.4M721.6 990.8h2.4M728.8 990.8h2.4M755.2 990.8h2.4M836.8 990.8h2.4M848.8 990.8h2.4M863.2 990.8h4.8M892 990.8h2.4M899.2 990.8h4.8M916 990.8h2.4M923.2 990.8h2.4M942.4 990.8h2.4M954.4 990.8h4.8M642.4 993.2h2.4M652 993.2h9.6M671.2 993.2h2.4M683.2 993.2h2.4M688 993.2h2.4M724 993.2h2.4M848.8 993.2h2.4M863.2 993.2h2.4M870.4 993.2h4.8M880 993.2h2.4M887.2 993.2h2.4M894.4 993.2h2.4M906.4 993.2h2.4M918.4 993.2h2.4M923.2 993.2h2.4M937.6 993.2h2.4M944.8 993.2h2.4M606.4 995.6h2.4M613.6 995.6h2.4M642.4 995.6h2.4M654.4 995.6h2.4M673.6 995.6h4.8M683.2 995.6h2.4M688 995.6h2.4M697.6 995.6h2.4M728.8 995.6h7.2M798.4 995.6h2.4M851.2 995.6h2.4M856 995.6h4.8M880 995.6h2.4M887.2 995.6h2.4M892 995.6h2.4M899.2 995.6h2.4M916 995.6h2.4M630.4 998h2.4M678.4 998h2.4M688 998h2.4M692.8 998h2.4M707.2 998h2.4M712 998h4.8M736 998h2.4M774.4 998h2.4M853.6 998h2.4M868 998h2.4M877.6 998h2.4M884.8 998h2.4M906.4 998h2.4M911.2 998h2.4M918.4 998h2.4M944.8 998h2.4M949.6 998h2.4M668.8 1000.4h2.4M680.8 1000.4h2.4M692.8 1000.4h2.4M700 1000.4h7.2M712 1000.4h2.4M719.2 1000.4h2.4M736 1000.4h2.4M748 1000.4h2.4M752.8 1000.4h2.4M767.2 1000.4h2.4M776.8 1000.4h2.4M853.6 1000.4h2.4M868 1000.4h2.4M875.2 1000.4h2.4M640 1002.8h2.4M664 1002.8h2.4M673.6 1002.8h2.4M680.8 1002.8h2.4M685.6 1002.8h4.8M692.8 1002.8h4.8M721.6 1002.8h2.4M728.8 1002.8h2.4M736 1002.8h2.4M752.8 1002.8h2.4M846.4 1002.8h2.4M894.4 1002.8h4.8M925.6 1002.8h2.4M937.6 1002.8h2.4M952 1002.8h2.4M956.8 1002.8h2.4M649.6 1005.2h2.4M659.2 1005.2h7.2M676 1005.2h2.4M680.8 1005.2h2.4M685.6 1005.2h2.4M692.8 1005.2h2.4M702.4 1005.2h4.8M709.6 1005.2h2.4M714.4 1005.2h2.4M733.6 1005.2h2.4M863.2 1005.2h4.8M870.4 1005.2h4.8M882.4 1005.2h2.4M892 1005.2h7.2M906.4 1005.2h2.4M913.6 1005.2h2.4M959.2 1005.2h2.4M976 1005.2h2.4M661.6 1007.6h2.4M671.2 1007.6h2.4M676 1007.6h2.4M683.2 1007.6h2.4M690.4 1007.6h4.8M704.8 1007.6h2.4M733.6 1007.6h2.4M752.8 1007.6h2.4M817.6 1007.6h2.4M851.2 1007.6h2.4M860.8 1007.6h2.4M868 1007.6h2.4M880 1007.6h4.8M892 1007.6h2.4M896.8 1007.6h2.4M901.6 1007.6h2.4M913.6 1007.6h2.4M961.6 1007.6h2.4M623.2 1010h4.8M637.6 1010h2.4M652 1010h2.4M659.2 1010h2.4M668.8 1010h4.8M678.4 1010h2.4M683.2 1010h7.2M702.4 1010h2.4M707.2 1010h4.8M721.6 1010h2.4M736 1010h2.4M791.2 1010h2.4M810.4 1010h2.4M844 1010h2.4M865.6 1010h2.4M870.4 1010h2.4M880 1010h2.4M887.2 1010h2.4M894.4 1010h4.8M901.6 1010h2.4M906.4 1010h2.4M916 1010h4.8M949.6 1010h2.4M654.4 1012.4h2.4M688 1012.4h2.4M719.2 1012.4h2.4M728.8 1012.4h2.4M736 1012.4h9.6M786.4 1012.4h2.4M844 1012.4h2.4M848.8 1012.4h2.4M868 1012.4h2.4M875.2 1012.4h2.4M892 1012.4h4.8M899.2 1012.4h2.4M918.4 1012.4h4.8M635.2 1014.8h2.4M666.4 1014.8h2.4M671.2 1014.8h2.4M683.2 1014.8h2.4M692.8 1014.8h2.4M702.4 1014.8h2.4M719.2 1014.8h2.4M728.8 1014.8h2.4M784 1014.8h2.4M844 1014.8h2.4M863.2 1014.8h2.4M892 1014.8h2.4M896.8 1014.8h4.8M923.2 1014.8h2.4M930.4 1014.8h2.4M664 1017.2h2.4M683.2 1017.2h4.8M692.8 1017.2h2.4M704.8 1017.2h2.4M714.4 1017.2h2.4M738.4 1017.2h2.4M784 1017.2h2.4M827.2 1017.2h2.4M892 1017.2h2.4M904 1017.2h2.4M911.2 1017.2h2.4M916 1017.2h4.8M923.2 1017.2h2.4M932.8 1017.2h4.8M944.8 1017.2h2.4M952 1017.2h2.4M654.4 1019.6h2.4M664 1019.6h4.8M680.8 1019.6h2.4M685.6 1019.6h2.4M690.4 1019.6h2.4M733.6 1019.6h2.4M798.4 1019.6h2.4M841.6 1019.6h4.8M848.8 1019.6h2.4M853.6 1019.6h4.8M870.4 1019.6h2.4M875.2 1019.6h2.4M882.4 1019.6h2.4M906.4 1019.6h2.4M911.2 1019.6h2.4M925.6 1019.6h2.4M930.4 1019.6h2.4M940 1019.6h2.4M661.6 1022h4.8M683.2 1022h7.2M692.8 1022h2.4M851.2 1022h2.4M870.4 1022h2.4M877.6 1022h2.4M882.4 1022h2.4M889.6 1022h2.4M894.4 1022h4.8M906.4 1022h2.4M913.6 1022h2.4M930.4 1022h2.4M635.2 1024.4h2.4M652 1024.4h2.4M671.2 1024.4h2.4M683.2 1024.4h2.4M690.4 1024.4h2.4M712 1024.4h4.8M719.2 1024.4h2.4M724 1024.4h2.4M733.6 1024.4h2.4M738.4 1024.4h2.4M743.2 1024.4h4.8M848.8 1024.4h2.4M863.2 1024.4h2.4M880 1024.4h2.4M887.2 1024.4h4.8M894.4 1024.4h2.4M906.4 1024.4h2.4M920.8 1024.4h4.8M935.2 1024.4h2.4M964 1024.4h2.4M647.2 1026.8h2.4M661.6 1026.8h4.8M673.6 1026.8h2.4M683.2 1026.8h2.4M707.2 1026.8h2.4M714.4 1026.8h2.4M724 1026.8h2.4M738.4 1026.8h4.8M760 1026.8h2.4M791.2 1026.8h2.4M844 1026.8h4.8M870.4 1026.8h2.4M884.8 1026.8h4.8M892 1026.8h2.4M896.8 1026.8h4.8M908.8 1026.8h7.2M920.8 1026.8h2.4M925.6 1026.8h2.4M654.4 1029.2h2.4M676 1029.2h2.4M695.2 1029.2h4.8M704.8 1029.2h2.4M712 1029.2h2.4M728.8 1029.2h2.4M748 1029.2h2.4M769.6 1029.2h2.4M827.2 1029.2h2.4M836.8 1029.2h2.4M844 1029.2h2.4M851.2 1029.2h7.2M887.2 1029.2h2.4M899.2 1029.2h4.8M906.4 1029.2h2.4M911.2 1029.2h2.4M916 1029.2h2.4M671.2 1031.6h2.4M688 1031.6h2.4M692.8 1031.6h4.8M709.6 1031.6h2.4M721.6 1031.6h4.8M733.6 1031.6h2.4M743.2 1031.6h2.4M750.4 1031.6h2.4M800.8 1031.6h2.4M812.8 1031.6h2.4M820 1031.6h2.4M844 1031.6h2.4M851.2 1031.6h2.4M868 1031.6h2.4M880 1031.6h2.4M892 1031.6h2.4M896.8 1031.6h4.8M906.4 1031.6h2.4M623.2 1034h2.4M680.8 1034h2.4M688 1034h2.4M695.2 1034h2.4M700 1034h4.8M707.2 1034h2.4M731.2 1034h2.4M836.8 1034h4.8M844 1034h2.4M858.4 1034h2.4M868 1034h2.4M889.6 1034h2.4M920.8 1034h4.8M647.2 1036.4h2.4M668.8 1036.4h2.4M702.4 1036.4h4.8M716.8 1036.4h4.8M724 1036.4h2.4M736 1036.4h2.4M740.8 1036.4h2.4M760 1036.4h2.4M769.6 1036.4h2.4M829.6 1036.4h2.4M851.2 1036.4h2.4M863.2 1036.4h2.4M884.8 1036.4h9.6M899.2 1036.4h2.4M916 1036.4h2.4M923.2 1036.4h2.4M690.4 1038.8h2.4M704.8 1038.8h2.4M712 1038.8h2.4M755.2 1038.8h4.8M767.2 1038.8h2.4M786.4 1038.8h2.4M841.6 1038.8h2.4M851.2 1038.8h2.4M858.4 1038.8h4.8M865.6 1038.8h2.4M872.8 1038.8h2.4M880 1038.8h2.4M887.2 1038.8h4.8M901.6 1038.8h2.4M906.4 1038.8h2.4M916 1038.8h2.4M925.6 1038.8h2.4M930.4 1038.8h2.4M935.2 1038.8h2.4M635.2 1041.2h2.4M664 1041.2h2.4M695.2 1041.2h7.2M704.8 1041.2h2.4M731.2 1041.2h2.4M745.6 1041.2h2.4M750.4 1041.2h2.4M762.4 1041.2h4.8M772 1041.2h2.4M781.6 1041.2h2.4M803.2 1041.2h4.8M812.8 1041.2h7.2M841.6 1041.2h2.4M848.8 1041.2h9.6M860.8 1041.2h2.4M868 1041.2h2.4M880 1041.2h4.8M887.2 1041.2h2.4M913.6 1041.2h2.4M920.8 1041.2h4.8M932.8 1041.2h2.4M625.6 1043.6h2.4M685.6 1043.6h4.8M712 1043.6h2.4M716.8 1043.6h4.8M745.6 1043.6h2.4M750.4 1043.6h2.4M757.6 1043.6h2.4M762.4 1043.6h2.4M779.2 1043.6h2.4M798.4 1043.6h2.4M810.4 1043.6h2.4M815.2 1043.6h2.4M839.2 1043.6h16.8M858.4 1043.6h2.4M875.2 1043.6h4.8M887.2 1043.6h2.4M913.6 1043.6h2.4M923.2 1043.6h2.4M928 1043.6h2.4M668.8 1046h4.8M678.4 1046h7.2M697.6 1046h2.4M702.4 1046h2.4M707.2 1046h2.4M733.6 1046h7.2M748 1046h2.4M781.6 1046h2.4M793.6 1046h2.4M812.8 1046h2.4M822.4 1046h2.4M839.2 1046h2.4M844 1046h4.8M853.6 1046h2.4M860.8 1046h2.4M884.8 1046h2.4M889.6 1046h4.8M901.6 1046h4.8M968.8 1046h2.4M680.8 1048.4h4.8M690.4 1048.4h2.4M697.6 1048.4h2.4M707.2 1048.4h2.4M719.2 1048.4h2.4M731.2 1048.4h4.8M745.6 1048.4h4.8M752.8 1048.4h2.4M767.2 1048.4h2.4M776.8 1048.4h2.4M796 1048.4h2.4M829.6 1048.4h7.2M851.2 1048.4h2.4M860.8 1048.4h2.4M870.4 1048.4h2.4M877.6 1048.4h2.4M887.2 1048.4h2.4M892 1048.4h2.4M899.2 1048.4h2.4M904 1048.4h2.4M671.2 1050.8h2.4M678.4 1050.8h4.8M685.6 1050.8h2.4M690.4 1050.8h2.4M700 1050.8h2.4M740.8 1050.8h4.8M750.4 1050.8h2.4M757.6 1050.8h2.4M764.8 1050.8h2.4M772 1050.8h2.4M788.8 1050.8h2.4M803.2 1050.8h2.4M810.4 1050.8h2.4M824.8 1050.8h2.4M832 1050.8h2.4M839.2 1050.8h2.4M846.4 1050.8h2.4M860.8 1050.8h2.4M870.4 1050.8h2.4M882.4 1050.8h2.4M892 1050.8h2.4M899.2 1050.8h2.4M906.4 1050.8h2.4M911.2 1050.8h2.4M944.8 1050.8h2.4M656.8 1053.2h2.4M676 1053.2h2.4M702.4 1053.2h2.4M707.2 1053.2h2.4M728.8 1053.2h2.4M740.8 1053.2h2.4M767.2 1053.2h4.8M791.2 1053.2h2.4M844 1053.2h2.4M865.6 1053.2h2.4M870.4 1053.2h7.2M884.8 1053.2h2.4M961.6 1053.2h2.4M635.2 1055.6h2.4M668.8 1055.6h4.8M685.6 1055.6h2.4M690.4 1055.6h4.8M702.4 1055.6h2.4M714.4 1055.6h2.4M731.2 1055.6h4.8M750.4 1055.6h2.4M769.6 1055.6h2.4M781.6 1055.6h2.4M808 1055.6h4.8M820 1055.6h2.4M827.2 1055.6h4.8M834.4 1055.6h2.4M839.2 1055.6h2.4M875.2 1055.6h2.4M880 1055.6h2.4M884.8 1055.6h2.4M889.6 1055.6h2.4M896.8 1055.6h4.8M904 1055.6h4.8M913.6 1055.6h2.4M668.8 1058h4.8M692.8 1058h4.8M709.6 1058h2.4M719.2 1058h2.4M731.2 1058h2.4M745.6 1058h2.4M752.8 1058h4.8M769.6 1058h4.8M779.2 1058h2.4M793.6 1058h2.4M810.4 1058h2.4M815.2 1058h9.6M832 1058h4.8M856 1058h2.4M860.8 1058h2.4M868 1058h2.4M872.8 1058h2.4M884.8 1058h2.4M906.4 1058h2.4M923.2 1058h2.4M628 1060.4h2.4M642.4 1060.4h2.4M673.6 1060.4h2.4M685.6 1060.4h2.4M690.4 1060.4h2.4M704.8 1060.4h9.6M738.4 1060.4h2.4M748 1060.4h2.4M752.8 1060.4h2.4M760 1060.4h9.6M779.2 1060.4h2.4M786.4 1060.4h4.8M805.6 1060.4h2.4M810.4 1060.4h2.4M815.2 1060.4h2.4M844 1060.4h4.8M858.4 1060.4h2.4M865.6 1060.4h2.4M872.8 1060.4h4.8M887.2 1060.4h2.4M894.4 1060.4h2.4M904 1060.4h2.4M908.8 1060.4h2.4M628 1062.8h2.4M685.6 1062.8h2.4M695.2 1062.8h2.4M709.6 1062.8h2.4M714.4 1062.8h4.8M733.6 1062.8h2.4M745.6 1062.8h4.8M752.8 1062.8h4.8M762.4 1062.8h2.4M815.2 1062.8h2.4M822.4 1062.8h2.4M851.2 1062.8h2.4M856 1062.8h4.8M863.2 1062.8h2.4M868 1062.8h4.8M880 1062.8h2.4M887.2 1062.8h4.8M894.4 1062.8h2.4M916 1062.8h2.4M928 1062.8h2.4M628 1065.2h2.4M676 1065.2h2.4M683.2 1065.2h4.8M695.2 1065.2h2.4M712 1065.2h2.4M716.8 1065.2h2.4M726.4 1065.2h2.4M738.4 1065.2h2.4M748 1065.2h2.4M767.2 1065.2h4.8M820 1065.2h4.8M858.4 1065.2h7.2M868 1065.2h2.4M872.8 1065.2h4.8M892 1065.2h7.2M918.4 1065.2h2.4M923.2 1065.2h2.4M928 1065.2h2.4M659.2 1067.6h2.4M676 1067.6h2.4M680.8 1067.6h2.4M695.2 1067.6h2.4M707.2 1067.6h2.4M712 1067.6h2.4M716.8 1067.6h4.8M726.4 1067.6h4.8M748 1067.6h2.4M752.8 1067.6h2.4M757.6 1067.6h2.4M764.8 1067.6h2.4M772 1067.6h2.4M800.8 1067.6h2.4M808 1067.6h2.4M820 1067.6h2.4M848.8 1067.6h2.4M856 1067.6h2.4M860.8 1067.6h2.4M870.4 1067.6h2.4M892 1067.6h7.2M942.4 1067.6h2.4M625.6 1070h2.4M680.8 1070h2.4M692.8 1070h2.4M700 1070h12M714.4 1070h2.4M719.2 1070h2.4M752.8 1070h2.4M767.2 1070h4.8M788.8 1070h2.4M810.4 1070h2.4M815.2 1070h4.8M853.6 1070h2.4M858.4 1070h4.8M872.8 1070h2.4M880 1070h2.4M892 1070h2.4M908.8 1070h2.4M925.6 1070h2.4M937.6 1070h4.8M944.8 1070h2.4M676 1072.4h2.4M688 1072.4h2.4M692.8 1072.4h2.4M697.6 1072.4h2.4M724 1072.4h4.8M736 1072.4h2.4M745.6 1072.4h2.4M750.4 1072.4h4.8M769.6 1072.4h4.8M784 1072.4h4.8M808 1072.4h2.4M812.8 1072.4h4.8M836.8 1072.4h2.4M851.2 1072.4h2.4M863.2 1072.4h2.4M880 1072.4h2.4M887.2 1072.4h2.4M892 1072.4h2.4M971.2 1072.4h2.4M690.4 1074.8h2.4M697.6 1074.8h9.6M721.6 1074.8h2.4M728.8 1074.8h2.4M738.4 1074.8h2.4M752.8 1074.8h4.8M760 1074.8h4.8M767.2 1074.8h4.8M788.8 1074.8h2.4M803.2 1074.8h2.4M810.4 1074.8h4.8M817.6 1074.8h2.4M822.4 1074.8h2.4M836.8 1074.8h2.4M846.4 1074.8h2.4M851.2 1074.8h2.4M856 1074.8h2.4M863.2 1074.8h2.4M868 1074.8h2.4M880 1074.8h2.4M884.8 1074.8h2.4M904 1074.8h2.4M920.8 1074.8h2.4M932.8 1074.8h2.4M937.6 1074.8h2.4M618.4 1077.2h2.4M659.2 1077.2h4.8M683.2 1077.2h2.4M690.4 1077.2h2.4M695.2 1077.2h2.4M719.2 1077.2h2.4M724 1077.2h4.8M738.4 1077.2h4.8M755.2 1077.2h2.4M762.4 1077.2h2.4M779.2 1077.2h2.4M824.8 1077.2h2.4M844 1077.2h2.4M865.6 1077.2h2.4M901.6 1077.2h2.4M913.6 1077.2h2.4M968.8 1077.2h2.4M642.4 1079.6h2.4M709.6 1079.6h2.4M721.6 1079.6h2.4M726.4 1079.6h7.2M738.4 1079.6h12M762.4 1079.6h2.4M793.6 1079.6h2.4M817.6 1079.6h2.4M824.8 1079.6h2.4M836.8 1079.6h2.4M841.6 1079.6h4.8M860.8 1079.6h7.2M877.6 1079.6h2.4M884.8 1079.6h9.6M918.4 1079.6h2.4M925.6 1079.6h2.4M690.4 1082h2.4M702.4 1082h2.4M736 1082h2.4M748 1082h2.4M752.8 1082h2.4M781.6 1082h2.4M791.2 1082h2.4M808 1082h2.4M829.6 1082h2.4M836.8 1082h2.4M841.6 1082h4.8M848.8 1082h2.4M865.6 1082h4.8M875.2 1082h2.4M884.8 1082h2.4M894.4 1082h4.8M904 1082h2.4M680.8 1084.4h4.8M702.4 1084.4h2.4M728.8 1084.4h4.8M736 1084.4h2.4M743.2 1084.4h7.2M757.6 1084.4h2.4M772 1084.4h2.4M788.8 1084.4h2.4M793.6 1084.4h4.8M820 1084.4h2.4M836.8 1084.4h2.4M841.6 1084.4h2.4M853.6 1084.4h4.8M860.8 1084.4h2.4M868 1084.4h4.8M894.4 1084.4h2.4M920.8 1084.4h2.4M692.8 1086.8h2.4M700 1086.8h2.4M728.8 1086.8h2.4M738.4 1086.8h7.2M757.6 1086.8h2.4M762.4 1086.8h7.2M776.8 1086.8h2.4M781.6 1086.8h2.4M788.8 1086.8h2.4M815.2 1086.8h2.4M829.6 1086.8h7.2M841.6 1086.8h4.8M848.8 1086.8h2.4M853.6 1086.8h7.2M865.6 1086.8h2.4M875.2 1086.8h2.4M882.4 1086.8h2.4M887.2 1086.8h2.4M899.2 1086.8h4.8M690.4 1089.2h4.8M700 1089.2h2.4M707.2 1089.2h2.4M724 1089.2h2.4M740.8 1089.2h9.6M752.8 1089.2h2.4M779.2 1089.2h2.4M808 1089.2h4.8M817.6 1089.2h2.4M822.4 1089.2h2.4M827.2 1089.2h2.4M834.4 1089.2h2.4M839.2 1089.2h2.4M846.4 1089.2h2.4M865.6 1089.2h2.4M920.8 1089.2h4.8M695.2 1091.6h2.4M700 1091.6h2.4M712 1091.6h2.4M716.8 1091.6h2.4M724 1091.6h2.4M736 1091.6h7.2M748 1091.6h7.2M757.6 1091.6h2.4M788.8 1091.6h2.4M793.6 1091.6h2.4M800.8 1091.6h2.4M834.4 1091.6h2.4M841.6 1091.6h4.8M851.2 1091.6h2.4M863.2 1091.6h4.8M870.4 1091.6h7.2M880 1091.6h2.4M892 1091.6h4.8M952 1091.6h2.4M680.8 1094h2.4M697.6 1094h2.4M709.6 1094h4.8M716.8 1094h2.4M726.4 1094h7.2M736 1094h7.2M745.6 1094h2.4M760 1094h7.2M772 1094h2.4M781.6 1094h2.4M793.6 1094h4.8M808 1094h2.4M817.6 1094h2.4M827.2 1094h2.4M839.2 1094h2.4M848.8 1094h2.4M860.8 1094h2.4M868 1094h9.6M889.6 1094h2.4M901.6 1094h2.4M923.2 1094h2.4M697.6 1096.4h2.4M721.6 1096.4h2.4M731.2 1096.4h2.4M736 1096.4h2.4M740.8 1096.4h4.8M752.8 1096.4h2.4M764.8 1096.4h4.8M781.6 1096.4h7.2M812.8 1096.4h2.4M822.4 1096.4h4.8M841.6 1096.4h2.4M868 1096.4h2.4M875.2 1096.4h2.4M884.8 1096.4h4.8M892 1096.4h2.4M923.2 1096.4h2.4M930.4 1096.4h2.4M714.4 1098.8h2.4M743.2 1098.8h2.4M750.4 1098.8h2.4M760 1098.8h2.4M764.8 1098.8h2.4M769.6 1098.8h2.4M774.4 1098.8h4.8M781.6 1098.8h2.4M788.8 1098.8h2.4M798.4 1098.8h7.2M812.8 1098.8h2.4M829.6 1098.8h2.4M834.4 1098.8h2.4M846.4 1098.8h2.4M858.4 1098.8h2.4M863.2 1098.8h2.4M868 1098.8h4.8M887.2 1098.8h2.4M673.6 1101.2h2.4M716.8 1101.2h2.4M726.4 1101.2h2.4M731.2 1101.2h2.4M738.4 1101.2h12M757.6 1101.2h2.4M764.8 1101.2h2.4M769.6 1101.2h2.4M776.8 1101.2h2.4M781.6 1101.2h2.4M796 1101.2h4.8M815.2 1101.2h2.4M822.4 1101.2h4.8M839.2 1101.2h4.8M856 1101.2h2.4M882.4 1101.2h2.4M887.2 1101.2h2.4M906.4 1101.2h2.4M916 1101.2h2.4M695.2 1103.6h2.4M726.4 1103.6h2.4M733.6 1103.6h4.8M743.2 1103.6h9.6M755.2 1103.6h2.4M764.8 1103.6h2.4M781.6 1103.6h2.4M786.4 1103.6h2.4M800.8 1103.6h2.4M817.6 1103.6h2.4M822.4 1103.6h2.4M827.2 1103.6h2.4M836.8 1103.6h2.4M865.6 1103.6h4.8M875.2 1103.6h7.2M889.6 1103.6h2.4M901.6 1103.6h2.4M714.4 1106h2.4M724 1106h2.4M733.6 1106h2.4M745.6 1106h2.4M750.4 1106h2.4M755.2 1106h4.8M764.8 1106h4.8M798.4 1106h7.2M815.2 1106h4.8M832 1106h2.4M839.2 1106h2.4M853.6 1106h2.4M863.2 1106h2.4M918.4 1106h2.4M928 1106h2.4M671.2 1108.4h2.4M683.2 1108.4h2.4M714.4 1108.4h2.4M726.4 1108.4h2.4M736 1108.4h2.4M740.8 1108.4h4.8M748 1108.4h2.4M776.8 1108.4h2.4M781.6 1108.4h2.4M786.4 1108.4h7.2M798.4 1108.4h9.6M810.4 1108.4h2.4M817.6 1108.4h2.4M829.6 1108.4h2.4M846.4 1108.4h2.4M851.2 1108.4h2.4M858.4 1108.4h2.4M712 1110.8h2.4M726.4 1110.8h2.4M733.6 1110.8h2.4M738.4 1110.8h2.4M748 1110.8h2.4M752.8 1110.8h2.4M757.6 1110.8h2.4M774.4 1110.8h2.4M788.8 1110.8h7.2M805.6 1110.8h2.4M815.2 1110.8h2.4M822.4 1110.8h2.4M839.2 1110.8h2.4M863.2 1110.8h4.8M880 1110.8h2.4M908.8 1110.8h2.4M611.2 1113.2h2.4M664 1113.2h2.4M733.6 1113.2h2.4M738.4 1113.2h4.8M745.6 1113.2h2.4M757.6 1113.2h4.8M772 1113.2h4.8M784 1113.2h4.8M798.4 1113.2h2.4M805.6 1113.2h2.4M820 1113.2h4.8M827.2 1113.2h7.2M856 1113.2h2.4M882.4 1113.2h2.4M644.8 1115.6h2.4M652 1115.6h2.4M685.6 1115.6h2.4M695.2 1115.6h2.4M724 1115.6h2.4M728.8 1115.6h4.8M740.8 1115.6h2.4M745.6 1115.6h2.4M762.4 1115.6h4.8M781.6 1115.6h2.4M786.4 1115.6h2.4M800.8 1115.6h2.4M822.4 1115.6h4.8M834.4 1115.6h4.8M860.8 1115.6h2.4M707.2 1118h2.4M726.4 1118h2.4M745.6 1118h2.4M769.6 1118h2.4M774.4 1118h2.4M779.2 1118h2.4M784 1118h7.2M793.6 1118h7.2M803.2 1118h4.8M810.4 1118h2.4M822.4 1118h2.4M832 1118h4.8M856 1118h2.4M889.6 1118h2.4M952 1118h2.4M671.2 1120.4h2.4M704.8 1120.4h2.4M728.8 1120.4h2.4M740.8 1120.4h2.4M760 1120.4h2.4M767.2 1120.4h2.4M781.6 1120.4h2.4M788.8 1120.4h2.4M803.2 1120.4h4.8M812.8 1120.4h4.8M820 1120.4h2.4M827.2 1120.4h2.4M836.8 1120.4h4.8M884.8 1120.4h2.4M889.6 1120.4h2.4M676 1122.8h2.4M731.2 1122.8h2.4M743.2 1122.8h2.4M750.4 1122.8h2.4M767.2 1122.8h4.8M776.8 1122.8h2.4M784 1122.8h2.4M820 1122.8h2.4M829.6 1122.8h2.4M880 1122.8h2.4M904 1122.8h2.4M937.6 1122.8h2.4M959.2 1122.8h2.4M733.6 1125.2h2.4M743.2 1125.2h2.4M772 1125.2h2.4M781.6 1125.2h2.4M788.8 1125.2h2.4M798.4 1125.2h4.8M824.8 1125.2h2.4M834.4 1125.2h2.4M853.6 1125.2h2.4M858.4 1125.2h2.4M870.4 1125.2h2.4M916 1125.2h4.8M719.2 1127.6h2.4M724 1127.6h2.4M728.8 1127.6h2.4M736 1127.6h2.4M757.6 1127.6h2.4M784 1127.6h4.8M796 1127.6h2.4M800.8 1127.6h2.4M805.6 1127.6h2.4M824.8 1127.6h2.4M839.2 1127.6h2.4M709.6 1130h2.4M736 1130h2.4M745.6 1130h2.4M764.8 1130h2.4M784 1130h2.4M791.2 1130h2.4M803.2 1130h2.4M815.2 1130h2.4M824.8 1130h2.4M841.6 1130h2.4M848.8 1130h2.4M853.6 1130h2.4M760 1132.4h2.4M796 1132.4h2.4M800.8 1132.4h2.4M858.4 1132.4h2.4M904 1132.4h2.4M721.6 1134.8h4.8M755.2 1134.8h2.4M762.4 1134.8h2.4M829.6 1134.8h2.4M846.4 1134.8h4.8M853.6 1134.8h2.4M860.8 1134.8h2.4M673.6 1137.2h2.4M736 1137.2h7.2M750.4 1137.2h2.4M788.8 1137.2h2.4M841.6 1137.2h2.4M846.4 1137.2h2.4M858.4 1137.2h2.4M880 1137.2h2.4M719.2 1139.6h2.4M733.6 1139.6h2.4M743.2 1139.6h4.8M752.8 1139.6h2.4M812.8 1139.6h2.4M824.8 1139.6h2.4M829.6 1139.6h2.4M872.8 1139.6h2.4M728.8 1142h2.4M736 1142h2.4M750.4 1142h2.4M779.2 1142h7.2M808 1142h2.4M829.6 1142h2.4M841.6 1142h2.4M856 1142h2.4M755.2 1144.4h2.4M774.4 1144.4h2.4M781.6 1144.4h2.4M796 1144.4h2.4M810.4 1144.4h2.4M815.2 1144.4h2.4M896.8 1144.4h2.4M724 1146.8h2.4M757.6 1146.8h4.8M781.6 1146.8h4.8M791.2 1146.8h2.4M836.8 1146.8h2.4M748 1149.2h2.4M764.8 1149.2h2.4M793.6 1149.2h2.4M822.4 1149.2h2.4M827.2 1149.2h2.4M863.2 1149.2h2.4M716.8 1151.6h4.8M786.4 1151.6h2.4M796 1151.6h4.8M851.2 1151.6h2.4M896.8 1151.6h2.4M728.8 1154h2.4M760 1154h2.4M786.4 1154h2.4M798.4 1154h4.8M846.4 1154h2.4M853.6 1154h2.4M750.4 1156.4h2.4M762.4 1156.4h2.4M781.6 1156.4h2.4M796 1156.4h2.4M793.6 1158.8h2.4M784 1161.2h2.4M796 1161.2h2.4M827.2 1161.2h2.4M829.6 1163.6h2.4M738.4 1166h2.4M757.6 1166h2.4M786.4 1166h2.4M803.2 1168.4h2.4M776.8 1170.8h2.4M726.4 1173.2h2.4M743.2 1173.2h2.4M786.4 1173.2h2.4M803.2 1173.2h2.4M832 1173.2h2.4M894.4 1173.2h2.4M908.8 1175.6h2.4M695.2 1178h2.4M856 1178h2.4M769.6 1180.4h2.4M848.8 1180.4h2.4M695.2 1182.8h2.4M793.6 1187.6h2.4M851.2 1190h2.4M781.6 1192.4h2.4M853.6 1247.6h2.4"/><path stroke="#26a0ce" d="M1016.8 856.4h4.8M1009.6 858.8h12M1007.2 861.2h9.6"/></g><path fill="#54f038" d="M795 991h1.6v1.6h-1.6zM813.1 992.8h1.6v1.6h-1.6zM777.9 994.9h1.6v1.6h-1.6zM789.6 998.4h1.6v1.6h-1.6zM822.6 998.7h1.6v1.6h-1.6zM775.6 992h1.6v1.6h-1.6zM750.6 986.8h1.6v1.6h-1.6zM793.4 1006.3h1.6v1.6h-1.6zM783.7 1026.9h1.6v1.6h-1.6zM771.7 965.3h1.6v1.6h-1.6zM777.7 963.9h1.6v1.6h-1.6zM788.4 1010h1.6v1.6h-1.6zM786.7 1022h1.6v1.6h-1.6zM807 998h1.6v1.6h-1.6zM793.2 1002.6h1.6v1.6h-1.6zM823.7 1004h1.6v1.6h-1.6zM786.2 1001.6h1.6v1.6h-1.6zM772.8 999.8h1.6v1.6h-1.6zM809.8 992.1h1.6v1.6h-1.6zM815 1029.4h1.6v1.6h-1.6zM791.6 999.9h1.6v1.6h-1.6zM788.7 1001h1.6v1.6h-1.6zM756.9 1006.9h1.6v1.6h-1.6zM800.5 986.1h1.6v1.6h-1.6zM813.1 1063.6h1.6v1.6h-1.6zM795 1003.2h1.6v1.6h-1.6z"/><g shape-rendering="crispEdges" fill="none" stroke-width="1.5"><path stroke="#2aaed8" d="M590.4 404h1.2M595.2 404h1.2M591.6 405.2h6M589.2 406.4h10.8M589.2 407.6h12M590.4 408.8h13.2M590.4 410h19.2M610.8 410h1.2M590.4 411.2h20.4M590.4 412.4h22.8M590.4 413.6h14.4M606 413.6h8.4M576 414.8h2.4M589.2 414.8h14.4M607.2 414.8h1.2M614.4 414.8h1.2M576 416h3.6M588 416h14.4M614.4 416h1.2M574.8 417.2h4.8M586.8 417.2h13.2M615.6 417.2h1.2M578.4 418.4h3.6M585.6 418.4h13.2M578.4 419.6h2.4M582 419.6h2.4M585.6 419.6h13.2M580.8 420.8h18M613.2 420.8h1.2M580.8 422h18M580.8 423.2h21.6M580.8 424.4h18M582 425.6h15.6"/><path stroke="#26a0ce" d="M579.6 406.4h2.4M586.8 406.4h2.4M577.2 407.6h12M577.2 408.8h13.2M577.2 410h13.2M577.2 411.2h13.2M576 412.4h14.4M576 413.6h14.4M604.8 413.6h1.2M578.4 414.8h10.8M603.6 414.8h3.6M608.4 414.8h6M579.6 416h8.4M602.4 416h12M579.6 417.2h7.2M600 417.2h15.6M582 418.4h3.6M598.8 418.4h16.8M584.4 419.6h1.2M598.8 419.6h15.6M598.8 420.8h14.4M598.8 422h15.6M602.4 423.2h12M603.6 424.4h10.8M602.4 425.6h9.6M613.2 425.6h1.2M603.6 426.8h7.2M607.2 428h2.4M802.8 471.2h1.2M798 472.4h6M798 473.6h6M789.6 474.8h1.2M792 474.8h1.2M796.8 474.8h8.4M794.4 476h10.8M788.4 477.2h16.8M786 478.4h1.2M788.4 478.4h18M786 479.6h21.6M783.6 480.8h24M782.4 482h24M782.4 483.2h24M782.4 484.4h25.2M781.2 485.6h26.4M781.2 486.8h16.8M801.6 486.8h7.2M782.4 488h14.4M802.8 488h6M782.4 489.2h25.2M782.4 490.4h26.4M782.4 491.6h26.4M781.2 492.8h27.6M780 494h30M781.2 495.2h28.8M781.2 496.4h28.8M781.2 497.6h27.6M781.2 498.8h27.6M810 498.8h7.2M784.8 500h21.6M807.6 500h9.6M788.4 501.2h30M788.4 502.4h31.2M789.6 503.6h30M793.2 504.8h10.8M805.2 504.8h16.8M794.4 506h9.6M805.2 506h16.8M796.8 507.2h26.4M798 508.4h3.6M802.8 508.4h20.4M802.8 509.6h19.2M802.8 510.8h19.2M804 512h16.8M804 513.2h13.2M811.2 514.4h4.8M813.6 515.6h1.2"/><path stroke="#2a94c4" d="M567.6 428h1.2M566.4 429.2h6M564 430.4h9.6M562.8 431.6h12M584.4 431.6h1.2M562.8 432.8h14.4M578.4 432.8h9.6M564 434h8.4M577.2 434h12M554.4 435.2h1.2M565.2 435.2h4.8M579.6 435.2h2.4M583.2 435.2h6M554.4 436.4h1.2M566.4 436.4h1.2M585.6 436.4h4.8M553.2 437.6h1.2M590.4 437.6h1.2M590.4 438.8h1.2M590.4 440h1.2M550.8 441.2h2.4M589.2 441.2h2.4M550.8 442.4h1.2M588 442.4h2.4M552 443.6h1.2M588 443.6h1.2M565.2 446h1.2M560.4 447.2h2.4M565.2 447.2h2.4M584.4 447.2h1.2M558 448.4h4.8M564 448.4h6M582 448.4h3.6M558 449.6h13.2M574.8 449.6h1.2M578.4 449.6h1.2M580.8 449.6h6M558 450.8h27.6M558 452h27.6M559.2 453.2h19.2M558 454.4h16.8M560.4 455.6h1.2M562.8 455.6h12M566.4 456.8h2.4M571.2 456.8h1.2M573.6 456.8h1.2M698.4 460.4h2.4M702 460.4h3.6M690 461.6h4.8M696 461.6h10.8M777.6 461.6h3.6M688.8 462.8h19.2M777.6 462.8h7.2M690 464h16.8M776.4 464h10.8M688.8 465.2h18M770.4 465.2h18M688.8 466.4h18M769.2 466.4h22.8M793.2 466.4h2.4M688.8 467.6h18M769.2 467.6h21.6M793.2 467.6h2.4M687.6 468.8h20.4M766.8 468.8h7.2M781.2 468.8h15.6M801.6 468.8h1.2M804 468.8h1.2M806.4 468.8h1.2M810 468.8h1.2M687.6 470h7.2M696 470h14.4M768 470h6M786 470h8.4M796.8 470h2.4M804 470h1.2M808.8 470h2.4M688.8 471.2h3.6M706.8 471.2h1.2M766.8 471.2h6M786 471.2h10.8M800.4 471.2h2.4M688.8 472.4h2.4M706.8 472.4h1.2M766.8 472.4h7.2M784.8 472.4h13.2M688.8 473.6h6M702 473.6h4.8M764.4 473.6h33.6M700.8 474.8h4.8M764.4 474.8h25.2M790.8 474.8h1.2M793.2 474.8h3.6M690 476h3.6M698.4 476h7.2M763.2 476h31.2M819.6 476h2.4M824.4 476h1.2M691.2 477.2h13.2M759.6 477.2h28.8M820.8 477.2h4.8M694.8 478.4h9.6M748.8 478.4h1.2M751.2 478.4h34.8M787.2 478.4h1.2M820.8 478.4h3.6M694.8 479.6h8.4M748.8 479.6h37.2M814.8 479.6h1.2M817.2 479.6h6M696 480.8h4.8M748.8 480.8h1.2M752.4 480.8h31.2M814.8 480.8h6M697.2 482h1.2M699.6 482h1.2M748.8 482h33.6M806.4 482h1.2M816 482h3.6M697.2 483.2h1.2M747.6 483.2h1.2M750 483.2h32.4M806.4 483.2h1.2M814.8 483.2h1.2M747.6 484.4h34.8M807.6 484.4h8.4M746.4 485.6h2.4M750 485.6h31.2M807.6 485.6h9.6M747.6 486.8h1.2M757.2 486.8h15.6M774 486.8h2.4M777.6 486.8h3.6M808.8 486.8h10.8M758.4 488h10.8M776.4 488h1.2M778.8 488h3.6M808.8 488h10.8M746.4 489.2h2.4M778.8 489.2h3.6M807.6 489.2h13.2M746.4 490.4h1.2M778.8 490.4h3.6M808.8 490.4h8.4M822 490.4h1.2M826.8 490.4h1.2M778.8 491.6h3.6M808.8 491.6h8.4M824.4 491.6h2.4M746.4 492.8h1.2M777.6 492.8h3.6M808.8 492.8h8.4M823.2 492.8h6M739.2 494h7.2M777.6 494h2.4M810 494h20.4M739.2 495.2h6M777.6 495.2h3.6M810 495.2h20.4M736.8 496.4h8.4M810 496.4h20.4M735.6 497.6h9.6M780 497.6h1.2M808.8 497.6h22.8M735.6 498.8h8.4M808.8 498.8h1.2M817.2 498.8h12M830.4 498.8h1.2M735.6 500h9.6M781.2 500h3.6M806.4 500h1.2M817.2 500h13.2M735.6 501.2h6M781.2 501.2h1.2M783.6 501.2h4.8M818.4 501.2h12M735.6 502.4h6M783.6 502.4h4.8M819.6 502.4h10.8M734.4 503.6h6M782.4 503.6h7.2M819.6 503.6h9.6M735.6 504.8h4.8M783.6 504.8h9.6M804 504.8h1.2M822 504.8h8.4M738 506h2.4M783.6 506h10.8M804 506h1.2M822 506h7.2M738 507.2h3.6M784.8 507.2h12M823.2 507.2h6M739.2 508.4h8.4M750 508.4h1.2M783.6 508.4h14.4M801.6 508.4h1.2M823.2 508.4h6M739.2 509.6h10.8M781.2 509.6h21.6M822 509.6h7.2M739.2 510.8h13.2M774 510.8h2.4M777.6 510.8h25.2M822 510.8h4.8M739.2 512h21.6M774 512h30M820.8 512h3.6M825.6 512h2.4M740.4 513.2h1.2M742.8 513.2h2.4M746.4 513.2h15.6M772.8 513.2h31.2M823.2 513.2h1.2M748.8 514.4h14.4M769.2 514.4h30M801.6 514.4h9.6M822 514.4h1.2M750 515.6h8.4M759.6 515.6h2.4M763.2 515.6h33.6M798 515.6h1.2M802.8 515.6h10.8M752.4 516.8h1.2M754.8 516.8h1.2M757.2 516.8h1.2M763.2 516.8h1.2M765.6 516.8h9.6M776.4 516.8h20.4M802.8 516.8h2.4M806.4 516.8h6M762 518h1.2M764.4 518h32.4M806.4 518h3.6M768 519.2h8.4M781.2 519.2h16.8M806.4 519.2h1.2M768 520.4h3.6M772.8 520.4h1.2M782.4 520.4h10.8M794.4 520.4h1.2M798 520.4h1.2M810 520.4h1.2M765.6 521.6h1.2M787.2 521.6h2.4M792 521.6h2.4M789.6 522.8h1.2M793.2 522.8h1.2M612 557.6h4.8M610.8 558.8h6M603.6 560h1.2M608.4 560h10.8M602.4 561.2h3.6M607.2 561.2h16.8M600 562.4h9.6M612 562.4h12M601.2 563.6h7.2M613.2 563.6h10.8M625.2 563.6h1.2M601.2 564.8h6M614.4 564.8h13.2M601.2 566h3.6M615.6 566h14.4M601.2 567.2h2.4M620.4 567.2h12M602.4 568.4h1.2M624 568.4h9.6M602.4 569.6h2.4M626.4 569.6h6M602.4 570.8h2.4M626.4 570.8h6M602.4 572h3.6M624 572h6M631.2 572h1.2M603.6 573.2h2.4M622.8 573.2h7.2M603.6 574.4h2.4M624 574.4h4.8M604.8 575.6h3.6M622.8 575.6h4.8M603.6 576.8h6M621.6 576.8h4.8M604.8 578h4.8M619.2 578h7.2M602.4 579.2h8.4M614.4 579.2h12M603.6 580.4h20.4M603.6 581.6h19.2M603.6 582.8h19.2M603.6 584h4.8M613.2 584h7.2M615.6 585.2h1.2M618 585.2h1.2"/><path stroke="#2e88bc" d="M556.8 431.6h6M555.6 432.8h7.2M555.6 434h8.4M555.6 435.2h9.6M555.6 436.4h10.8M554.4 437.6h10.8M552 438.8h13.2M552 440h13.2M553.2 441.2h12M553.2 442.4h12M553.2 443.6h13.2M554.4 444.8h12M555.6 446h9.6M555.6 447.2h4.8M562.8 447.2h2.4M562.8 448.4h1.2M727.2 468.8h4.8M726 470h8.4M805.2 470h3.6M812.4 470h2.4M726 471.2h8.4M804 471.2h12M726 472.4h9.6M804 472.4h14.4M724.8 473.6h12M804 473.6h15.6M726 474.8h9.6M805.2 474.8h14.4M726 476h9.6M805.2 476h14.4M726 477.2h6M733.2 477.2h1.2M805.2 477.2h15.6M727.2 478.4h3.6M806.4 478.4h14.4M826.8 478.4h2.4M807.6 479.6h7.2M816 479.6h1.2M823.2 479.6h4.8M831.6 479.6h3.6M807.6 480.8h7.2M820.8 480.8h14.4M807.6 482h8.4M819.6 482h15.6M807.6 483.2h7.2M816 483.2h18M816 484.4h18M817.2 485.6h18M819.6 486.8h13.2M819.6 488h14.4M820.8 489.2h13.2M823.2 490.4h3.6M828 490.4h4.8M609.6 562.4h2.4M608.4 563.6h4.8M607.2 564.8h7.2M604.8 566h4.8M603.6 567.2h6M603.6 568.4h3.6M604.8 570.8h1.2"/><path stroke="#40c02c" d="M572.4 434h4.8M570 435.2h9.6M582 435.2h1.2M567.6 436.4h18M565.2 437.6h9.6M576 437.6h14.4M565.2 438.8h6M577.2 438.8h13.2M565.2 440h2.4M577.2 440h13.2M565.2 441.2h2.4M578.4 441.2h10.8M565.2 442.4h2.4M578.4 442.4h9.6M566.4 443.6h1.2M578.4 443.6h9.6M579.6 444.8h8.4M578.4 446h9.6M578.4 447.2h6M570 448.4h2.4M577.2 448.4h4.8M571.2 449.6h3.6M576 449.6h2.4M579.6 449.6h1.2"/><path stroke="#34a024" d="M574.8 437.6h1.2M571.2 438.8h6M567.6 440h9.6M567.6 441.2h10.8M567.6 442.4h10.8M567.6 443.6h10.8M566.4 444.8h13.2M566.4 446h12M567.6 447.2h10.8M572.4 448.4h4.8M748.8 485.6h1.2M748.8 486.8h8.4M747.6 488h4.8M756 488h2.4M748.8 489.2h3.6M757.2 489.2h2.4M747.6 490.4h4.8M758.4 490.4h3.6M747.6 491.6h3.6M759.6 491.6h3.6M747.6 492.8h2.4M762 492.8h2.4M763.2 494h1.2M763.2 495.2h1.2M764.4 497.6h1.2M766.8 497.6h2.4M765.6 498.8h7.2M764.4 500h9.6M745.2 501.2h1.2M764.4 501.2h9.6M745.2 502.4h1.2M764.4 502.4h9.6M745.2 503.6h2.4M764.4 503.6h1.2M766.8 503.6h8.4M746.4 504.8h1.2M766.8 504.8h7.2M762 506h1.2M766.8 506h6M750 507.2h7.2M768 507.2h3.6M752.4 508.4h3.6M768 508.4h2.4M751.2 509.6h3.6M752.4 510.8h2.4M612 567.2h3.6M612 568.4h4.8M612 569.6h7.2M610.8 570.8h8.4M610.8 572h8.4M610.8 573.2h8.4M610.8 574.4h8.4M612 575.6h3.6M613.2 576.8h1.2"/><path stroke="#48d430" d="M694.8 470h1.2M692.4 471.2h14.4M691.2 472.4h15.6M694.8 473.6h7.2M690 474.8h10.8M693.6 476h4.8M772.8 486.8h1.2M776.4 486.8h1.2M769.2 488h7.2M777.6 488h1.2M759.6 489.2h19.2M762 490.4h16.8M763.2 491.6h15.6M764.4 492.8h13.2M746.4 494h1.2M764.4 494h8.4M775.2 494h2.4M745.2 495.2h2.4M764.4 495.2h3.6M745.2 496.4h1.2M764.4 496.4h3.6M778.8 496.4h2.4M765.6 497.6h1.2M778.8 497.6h1.2M778.8 498.8h2.4M778.8 500h2.4M741.6 501.2h3.6M777.6 501.2h3.6M782.4 501.2h1.2M741.6 502.4h3.6M777.6 502.4h6M740.4 503.6h4.8M778.8 503.6h3.6M740.4 504.8h6M780 504.8h3.6M740.4 506h7.2M764.4 506h1.2M778.8 506h4.8M741.6 507.2h8.4M757.2 507.2h10.8M777.6 507.2h7.2M747.6 508.4h2.4M751.2 508.4h1.2M756 508.4h12M776.4 508.4h7.2M750 509.6h1.2M754.8 509.6h14.4M776.4 509.6h4.8M754.8 510.8h19.2M776.4 510.8h1.2M760.8 512h13.2M762 513.2h10.8M763.2 514.4h6M609.6 566h6M609.6 567.2h2.4M615.6 567.2h4.8M607.2 568.4h4.8M616.8 568.4h7.2M604.8 569.6h7.2M619.2 569.6h7.2M606 570.8h4.8M619.2 570.8h7.2M606 572h4.8M619.2 572h4.8M606 573.2h4.8M619.2 573.2h3.6M606 574.4h4.8M619.2 574.4h4.8M608.4 575.6h3.6M615.6 575.6h7.2M609.6 576.8h3.6M614.4 576.8h7.2M609.6 578h9.6M610.8 579.2h3.6"/><path stroke="#54f038" d="M774 468.8h7.2M774 470h12M772.8 471.2h13.2M774 472.4h10.8M817.2 490.4h4.8M817.2 491.6h7.2M817.2 492.8h6"/><path stroke="#3aae28" d="M772.8 494h2.4M768 495.2h9.6M768 496.4h10.8M769.2 497.6h9.6M772.8 498.8h6M774 500h4.8M774 501.2h3.6M774 502.4h3.6M765.6 503.6h1.2M775.2 503.6h3.6M765.6 504.8h1.2M774 504.8h6M765.6 506h1.2M772.8 506h6M771.6 507.2h6M770.4 508.4h6M769.2 509.6h7.2"/><path stroke="#e4e43c" d="M752.4 488h3.6M752.4 489.2h4.8M752.4 490.4h6M751.2 491.6h8.4M750 492.8h12M747.6 494h15.6M747.6 495.2h4.8M757.2 495.2h6M746.4 496.4h1.2M760.8 496.4h3.6M745.2 497.6h2.4M762 497.6h2.4M744 498.8h2.4M762 498.8h3.6M745.2 500h2.4M762 500h2.4M746.4 501.2h2.4M760.8 501.2h3.6M746.4 502.4h2.4M759.6 502.4h4.8M747.6 503.6h1.2M759.6 503.6h4.8M747.6 504.8h3.6M758.4 504.8h7.2M747.6 506h14.4M763.2 506h1.2"/><path stroke="#d59a1a" d="M752.4 495.2h4.8M747.6 496.4h13.2M747.6 497.6h14.4M746.4 498.8h2.4M754.8 498.8h7.2M747.6 500h2.4M756 500h6M757.2 501.2h3.6M754.8 502.4h4.8M748.8 503.6h2.4M753.6 503.6h6M751.2 504.8h7.2"/><path stroke="#de8214" d="M748.8 498.8h6M750 500h6M748.8 501.2h8.4M748.8 502.4h6M751.2 503.6h2.4"/></g><g shape-rendering="crispEdges" fill="none" stroke-width="1.5"><path stroke="#2a94c4" d="M1225 1167h1.2M1219 1168.2h8.4M1219 1169.4h7.2M1219 1170.6h6M1219 1171.8h6M1220.2 1173h6M1221.4 1174.2h3.6M1222.6 1175.4h1.2M1264.6 1176.6h1.2M1270.6 1176.6h1.2M1265.8 1177.8h10.8M1264.6 1179h12M1262.2 1180.2h10.8M1261 1181.4h8.4M1261 1182.6h7.2M1286.2 1182.6h1.2M1261 1183.8h6M1286.2 1183.8h3.6M1247.8 1185h1.2M1261 1185h6M1286.2 1185h6M1246.6 1186.2h1.2M1261 1186.2h8.4M1286.2 1186.2h8.4M1245.4 1187.4h2.4M1256.2 1187.4h13.2M1285 1187.4h12M1245.4 1188.6h2.4M1257.4 1188.6h12M1283.8 1188.6h13.2M1245.4 1189.8h3.6M1259.8 1189.8h12M1283.8 1189.8h12M1246.6 1191h1.2M1261 1191h14.4M1283.8 1191h8.4M1246.6 1192.2h1.2M1261 1192.2h19.2M1283.8 1192.2h1.2M1286.2 1192.2h6M1245.4 1193.4h4.8M1258.6 1193.4h20.4M1287.4 1193.4h4.8M1250.2 1194.6h26.4M1287.4 1194.6h6M1251.4 1195.8h22.8M1287.4 1195.8h6M1252.6 1197h20.4M1287.4 1197h1.2M1253.8 1198.2h19.2M1287.4 1198.2h1.2M1256.2 1199.4h15.6M1286.2 1199.4h1.2M1257.4 1200.6h9.6M1258.6 1201.8h8.4M1259.8 1203h6M1259.8 1204.2h7.2M1316.2 1204.2h2.4M1261 1205.4h6M1315 1205.4h3.6M1262.2 1206.6h6M1309 1206.6h9.6M1264.6 1207.8h3.6M1309 1207.8h9.6M1265.8 1209h2.4M1309 1209h10.8M1309 1210.2h10.8M1309 1211.4h12M1307.8 1212.6h12M1309 1213.8h10.8M1268.2 1215h3.6M1309 1215h10.8M1265.8 1216.2h6M1307.8 1216.2h13.2M1267 1217.4h7.2M1283.8 1217.4h3.6M1289.8 1217.4h3.6M1309 1217.4h18M1267 1218.6h12M1283.8 1218.6h7.2M1306.6 1218.6h19.2M1268.2 1219.8h12M1282.6 1219.8h1.2M1305.4 1219.8h21.6M1279 1221h4.8M1309 1221h18M1280.2 1222.2h6M1310.2 1222.2h16.8M1280.2 1223.4h1.2M1282.6 1223.4h1.2M1310.2 1223.4h16.8M1309 1224.6h19.2M1310.2 1225.8h16.8M1307.8 1227h8.4M1317.4 1227h3.6M1322.2 1227h1.2M1324.6 1227h2.4M1309 1228.2h1.2M1315 1228.2h1.2M1323.4 1228.2h1.2"/><path stroke="#2e88bc" d="M1277.8 1177.8h3.6M1276.6 1179h6M1273 1180.2h10.8M1269.4 1181.4h16.8M1268.2 1182.6h18M1267 1183.8h19.2M1267 1185h19.2M1269.4 1186.2h16.8M1269.4 1187.4h15.6M1298.2 1187.4h2.4M1269.4 1188.6h14.4M1297 1188.6h6M1271.8 1189.8h12M1295.8 1189.8h9.6M1306.6 1189.8h7.2M1275.4 1191h8.4M1292.2 1191h24M1280.2 1192.2h3.6M1292.2 1192.2h26.4M1292.2 1193.4h27.6M1293.4 1194.6h27.6M1293.4 1195.8h1.2M1295.8 1195.8h24M1207 1197h1.2M1209.4 1197h1.2M1299.4 1197h19.2M1205.8 1198.2h7.2M1301.8 1198.2h16.8M1327 1198.2h2.4M1204.6 1199.4h9.6M1301.8 1199.4h18M1324.6 1199.4h6M1205.8 1200.6h8.4M1303 1200.6h16.8M1323.4 1200.6h7.2M1205.8 1201.8h7.2M1303 1201.8h16.8M1322.2 1201.8h9.6M1207 1203h4.8M1303 1203h15.6M1322.2 1203h10.8M1208.2 1204.2h3.6M1305.4 1204.2h10.8M1322.2 1204.2h13.2M1306.6 1205.4h8.4M1322.2 1205.4h14.4M1318.6 1206.6h1.2M1321 1206.6h15.6M1318.6 1207.8h18M1319.8 1209h18M1319.8 1210.2h16.8M1321 1211.4h14.4M1319.8 1212.6h15.6M1241.8 1213.8h1.2M1319.8 1213.8h15.6M1241.8 1215h7.2M1319.8 1215h15.6M1243 1216.2h8.4M1321 1216.2h7.2M1330.6 1216.2h3.6M1243 1217.4h9.6M1265.8 1217.4h1.2M1244.2 1218.6h10.8M1257.4 1218.6h9.6M1291 1218.6h4.8M1244.2 1219.8h24M1283.8 1219.8h14.4M1243 1221h25.2M1283.8 1221h15.6M1304.2 1221h4.8M1243 1222.2h22.8M1286.2 1222.2h24M1245.4 1223.4h20.4M1287.4 1223.4h22.8M1247.8 1224.6h16.8M1287.4 1224.6h21.6M1249 1225.8h21.6M1288.6 1225.8h21.6M1251.4 1227h21.6M1276.6 1227h1.2M1291 1227h16.8M1252.6 1228.2h25.2M1294.6 1228.2h14.4M1255 1229.4h22.8M1301.8 1229.4h7.2M1257.4 1230.6h19.2M1305.4 1230.6h3.6M1258.6 1231.8h7.2M1269.4 1231.8h4.8M1261 1233h3.6"/><path stroke="#26a0ce" d="M1245.4 1176.6h7.2M1245.4 1177.8h9.6M1246.6 1179h13.2M1246.6 1180.2h14.4M1246.6 1181.4h14.4M1247.8 1182.6h13.2M1247.8 1183.8h13.2M1249 1185h12M1255 1186.2h6M1294.6 1195.8h1.2M1288.6 1197h10.8M1288.6 1198.2h13.2M1287.4 1199.4h14.4M1287.4 1200.6h15.6M1287.4 1201.8h15.6M1287.4 1203h15.6M1286.2 1204.2h19.2M1286.2 1205.4h20.4M1286.2 1206.6h22.8M1286.2 1207.8h22.8M1286.2 1209h22.8M1286.2 1210.2h22.8M1286.2 1211.4h22.8M1286.2 1212.6h21.6M1285 1213.8h24M1285 1215h24M1285 1216.2h22.8M1287.4 1217.4h2.4M1293.4 1217.4h15.6M1295.8 1218.6h10.8M1298.2 1219.8h7.2M1268.2 1221h10.8M1299.4 1221h4.8M1265.8 1222.2h1.2M1270.6 1222.2h9.6M1265.8 1223.4h1.2M1269.4 1223.4h10.8M1264.6 1224.6h16.8M1270.6 1225.8h7.2M1273 1227h3.6"/><path stroke="#54f038" d="M1285 1192.2h1.2M1279 1193.4h8.4M1276.6 1194.6h10.8M1274.2 1195.8h13.2M1273 1197h14.4M1273 1198.2h14.4M1271.8 1199.4h14.4M1267 1200.6h20.4M1267 1201.8h20.4M1265.8 1203h21.6M1267 1204.2h19.2M1267 1205.4h19.2M1268.2 1206.6h18M1268.2 1207.8h18M1268.2 1209h18M1268.2 1210.2h18M1268.2 1211.4h18M1269.4 1212.6h16.8M1269.4 1213.8h15.6M1271.8 1215h13.2M1271.8 1216.2h13.2M1274.2 1217.4h9.6M1279 1218.6h4.8M1280.2 1219.8h2.4M1267 1222.2h3.6M1267 1223.4h2.4"/><path stroke="#48d430" d="M1205.8 1181.4h2.4M1204.6 1182.6h4.8M1204.6 1183.8h6M1204.6 1185h6M1204.6 1186.2h6M1247.8 1186.2h7.2M1204.6 1187.4h6M1247.8 1187.4h8.4M1204.6 1188.6h6M1247.8 1188.6h9.6M1204.6 1189.8h6M1249 1189.8h10.8M1204.6 1191h6M1247.8 1191h13.2M1204.6 1192.2h6M1247.8 1192.2h13.2M1207 1193.4h2.4M1250.2 1193.4h8.4M1207 1194.6h2.4M1208.2 1195.8h1.2M1208.2 1197h1.2"/><path stroke="#3aae28" d="M1244.2 1194.6h6M1237 1195.8h3.6M1245.4 1195.8h6M1235.8 1197h4.8M1249 1197h3.6M1237 1198.2h1.2M1251.4 1198.2h2.4M1253.8 1199.4h2.4M1238.2 1200.6h1.2M1256.2 1200.6h1.2M1237 1201.8h2.4M1257.4 1201.8h1.2M1237 1203h2.4M1258.6 1203h1.2M1235.8 1204.2h3.6M1257.4 1204.2h2.4M1235.8 1205.4h4.8M1257.4 1205.4h3.6M1237 1206.6h6M1258.6 1206.6h3.6M1237 1207.8h7.2M1258.6 1207.8h6M1238.2 1209h6M1258.6 1209h7.2M1238.2 1210.2h6M1259.8 1210.2h8.4M1239.4 1211.4h7.2M1250.2 1211.4h2.4M1261 1211.4h7.2M1240.6 1212.6h12M1261 1212.6h8.4M1243 1213.8h8.4M1258.6 1213.8h10.8M1249 1215h4.8M1255 1215h13.2M1251.4 1216.2h14.4M1252.6 1217.4h13.2M1255 1218.6h2.4"/><path stroke="#2c8620" d="M1241.8 1194.6h2.4M1238.2 1198.2h2.4M1249 1198.2h2.4M1238.2 1199.4h1.2M1249 1199.4h4.8M1251.4 1200.6h4.8M1251.4 1201.8h6M1239.4 1203h2.4M1251.4 1203h7.2M1239.4 1204.2h4.8M1247.8 1204.2h1.2M1250.2 1204.2h7.2M1240.6 1205.4h16.8M1243 1206.6h15.6M1244.2 1207.8h14.4M1244.2 1209h14.4M1244.2 1210.2h15.6M1246.6 1211.4h3.6M1252.6 1211.4h8.4M1252.6 1212.6h8.4M1251.4 1213.8h7.2M1253.8 1215h1.2"/><path stroke="#24701a" d="M1240.6 1195.8h4.8M1240.6 1197h8.4M1240.6 1198.2h8.4M1239.4 1199.4h9.6M1239.4 1200.6h12M1239.4 1201.8h12M1241.8 1203h9.6M1244.2 1204.2h3.6M1249 1204.2h1.2"/><path stroke="#40c02c" d="M1233.4 1168.2h2.4M1226.2 1169.4h12M1225 1170.6h14.4M1225 1171.8h16.8M1226.2 1173h16.8M1228.6 1174.2h14.4M1228.6 1175.4h15.6M1229.8 1176.6h14.4M1232.2 1177.8h12M1234.6 1179h12M1235.8 1180.2h10.8M1241.8 1181.4h4.8M1241.8 1182.6h6M1241.8 1183.8h6M1241.8 1185h6M1241.8 1186.2h4.8M1240.6 1187.4h4.8M1241.8 1188.6h3.6M1243 1189.8h2.4M1244.2 1191h2.4M1243 1192.2h3.6M1243 1193.4h2.4M1220.2 1198.2h1.2M1217.8 1199.4h6M1220.2 1200.6h8.4M1222.6 1201.8h4.8M1223.8 1203h1.2"/><path stroke="#e4e43c" d="M1211.8 1175.4h6M1209.4 1176.6h10.8M1221.4 1176.6h1.2M1209.4 1177.8h9.6M1228.6 1177.8h1.2M1208.2 1179h9.6M1208.2 1180.2h8.4M1208.2 1181.4h8.4M1209.4 1182.6h7.2M1210.6 1183.8h4.8M1211.8 1185h3.6M1213 1186.2h2.4M1213 1187.4h2.4M1211.8 1188.6h3.6M1240.6 1188.6h1.2M1211.8 1189.8h3.6M1241.8 1189.8h1.2M1211.8 1191h3.6M1241.8 1191h2.4M1220.2 1192.2h4.8M1241.8 1192.2h1.2M1219 1193.4h8.4M1240.6 1193.4h2.4M1220.2 1194.6h7.2M1231 1194.6h10.8M1220.2 1195.8h16.8M1219 1197h16.8M1221.4 1198.2h15.6M1223.8 1199.4h10.8"/><path stroke="#cfd232" d="M1235.8 1181.4h6M1237 1182.6h4.8M1237 1183.8h4.8M1237 1185h4.8M1237 1186.2h4.8M1238.2 1187.4h2.4"/><path stroke="#d59a1a" d="M1228.6 1179h1.2M1232.2 1180.2h1.2M1235.8 1185h1.2M1234.6 1186.2h2.4M1228.6 1187.4h1.2M1233.4 1187.4h4.8M1227.4 1188.6h13.2M1227.4 1189.8h14.4M1215.4 1191h2.4M1227.4 1191h14.4M1211.8 1192.2h6M1225 1192.2h16.8M1209.4 1193.4h9.6M1227.4 1193.4h13.2M1209.4 1194.6h10.8M1227.4 1194.6h3.6M1210.6 1195.8h9.6M1210.6 1197h8.4M1213 1198.2h6M1215.4 1199.4h2.4"/><path stroke="#de8214" d="M1229.8 1179h1.2M1228.6 1180.2h3.6M1233.4 1180.2h2.4M1228.6 1181.4h7.2M1228.6 1182.6h8.4M1229.8 1183.8h7.2M1229.8 1185h6M1229.8 1186.2h4.8M1229.8 1187.4h3.6"/><path stroke="#ee0c2e" d="M1223.8 1175.4h3.6M1220.2 1176.6h1.2M1222.6 1176.6h4.8M1219 1177.8h9.6M1217.8 1179h10.8M1216.6 1180.2h12M1216.6 1181.4h12M1217.8 1182.6h10.8M1223.8 1183.8h6M1225 1185h4.8M1225 1186.2h4.8M1226.2 1187.4h2.4M1226.2 1188.6h1.2M1223.8 1189.8h3.6M1222.6 1191h4.8"/><path stroke="#cc001c" d="M1216.6 1182.6h1.2M1215.4 1183.8h8.4M1215.4 1185h2.4M1221.4 1185h3.6M1222.6 1186.2h2.4M1222.6 1187.4h3.6M1215.4 1188.6h1.2M1222.6 1188.6h3.6M1215.4 1189.8h1.2M1222.6 1189.8h1.2M1217.8 1191h4.8M1217.8 1192.2h2.4"/><path stroke="#c00014" d="M1217.8 1185h3.6M1215.4 1186.2h3.6M1220.2 1186.2h2.4M1215.4 1187.4h3.6M1220.2 1187.4h2.4M1216.6 1188.6h6M1216.6 1189.8h6"/><path stroke="#c00060" d="M1219 1186.2h1.2M1219 1187.4h1.2"/></g><rect x="605.8" y="1280.5" width="7" height="6" fill="#367cb0"/><rect x="1209" y="1278" width="9" height="8" fill="#2a94c4"/>
<path class="g" d="M20.4 231.4 L23.3 228.1 L27.8 226.9 L31 224.1 L34 221 M192.5 221 L246.2 256.3 M316.9 221 L317.6 225.9 L316.9 230.9 L246.2 232 L246.1 236 L246.5 240.1 L245.9 244.1 L245.9 248.2 L247.3 252.3 L246.2 256.3 L247.5 260.2 L245.6 264.2 L247.2 268.1 L247.4 272 L245.6 276 L247.1 279.9 L246.3 283.8 L247.3 287.7 L247 291.7 L247.5 295.6 L248.3 362.4 L148.5 365 L150.6 502.5 L146.9 503.7 L143.1 502.8 L139.3 502.6 L135.7 503.8 L136.7 566.7 M247.5 295.6 L366.7 296.4 L366 291.4 L366.7 286.4 L371.2 288.5 L374.5 292.2 L378.4 290.2 L382 287.9 L386.3 287 L390.1 287.7 L392.9 290.4 L396.9 291.2 L400.4 293.6 L404.5 294.4 L408.6 294.8 L411.9 296.9 L416.1 297.2 L419.4 299.4 L423 300.8 L424.8 305.3 L425.6 310 L425.8 314.7 L424.3 319.2 L426.9 322.2 L428.4 325.8 L429.5 329.6 L432.2 332.8 L435.6 334.9 L438.9 337.2 L442.6 338.8 L446.1 340.8 L450.2 340.7 L453.8 342.3 L457.2 344.4 L461 345.4 L464.8 346.4 L468.7 347.2 L472.7 347.7 L476.7 347.2 L481.4 347.8 L485.3 350.6 L489.8 351.9 M150.6 502.5 L203 501.2 L203.7 497 L203.8 492.8 L260.6 492.8 L261.4 497.3 L265.3 497.9 L269.1 498 L273 498.4 L276.9 497.9 L280.8 497.3 L282.3 555.7 L332.6 556.7 L336.4 557.5 L340 554.9 L343.8 555.7 L347.6 556.6 L351.2 555.6 L354.9 554.9 L357.4 558.3 L361.8 559.4 L364.4 562.7 L367.9 564.9 L370.6 568 M223.9 646.6 L171.6 700 M1420.2 663.3 L1422.6 666.2 L1422.7 670.2 L1424.4 673.5 L1425.2 677.2 L1428.3 679.8 L1429.8 683.1 L1430.3 687 L1432 690.3 L1434.3 693.2 L1435 697 L1436.9 700.1 M1570 671.7 L1566.1 672.4 L1563.8 676.2 L1559.6 676.4 L1556.9 679.4 L1552.5 679.3 L1550.3 683.2 L1545.9 683 L1543 685.6 L1539.9 687.7 L1536.8 689.8 L1533.8 691.9 L1532.2 695.8 L1529.3 698 L1526.2 700.1 M20.9 717.3 L69.8 716.7 L71.2 721.8 L75.9 721.1 L80.5 722.6 L85.1 722.3 L84.8 726.5 L85.2 730.7 L85.8 734.9 L85.1 739.1 L80.4 740.5 L79.6 745.4 L80.4 750.2 M80.4 739.1 L145.1 737.7 M174.4 700 L170.9 702 L168.1 704.8 L165.4 707.7 L163.3 711.2 L159.1 710.2 L155.9 707.2 L152.1 705.6 L148.7 707.8 L145.1 709.8 L145.1 713.8 L146.1 717.7 L145.9 721.7 L145.3 725.7 L145.8 729.7 L145.2 733.7 L145.1 737.7 L145.7 814.4 L149.1 816 L151.7 818.6 L153.3 822.1 L156.3 824.2 L160.9 823.5 L165.6 823.3 L170.2 822.8 L172.6 826.4 L176.1 829.1 L178.6 832.6 L182.6 834.2 L184.9 838.2 L188.5 840.3 L191.8 842.9 L195.4 845.1 L198.3 848.1 L200.9 851.6 L205 853.2 L207.9 856.3 L207.7 861 L209.2 865.6 L209.3 870.2 L211.5 873.2 L213.7 876.1 L216.3 878.6 L214.2 882.4 L212.3 886.2 L209 889.1 L206.5 892.6 L205.6 896.4 L205.6 900.2 L205.6 904.1 L205.1 907.9 M80.4 750.2 L124.2 792.1 L82.3 836.8 L79.4 839.1 L76.6 841.5 L75.2 845.3 L71.2 846.6 L70.1 850.7 L66.7 852.5 L65.2 856.2 L61.4 857.7 L59.9 861.4 L56.4 863.1 L53.8 865.8 L51.6 868.9 L46.1 864.7 L43 867 L41.1 870.3 L37.8 872.4 L35.1 875 L33.5 878.6 L37.7 882.8 L35.6 886.3 L32.1 888.4 L28.5 890.4 L26.1 893.5 L23.8 896.9 L20.9 899.6 M80.4 750.2 L40.5 790.7 L40.2 787 L41.5 783.3 L40.5 779.5 L36.6 778.7 L32.8 780.3 L29 778.6 L25.1 779.5 L24.8 783.7 L26.3 787.9 L24 792.1 L25.1 796.3 L20.9 796.3 M82.3 836.8 L84.1 840.1 L87.5 842.2 L89.7 845.2 L91.2 848.8 L94.6 850.9 L95.4 855 L97.7 857.9 L100.5 860.5 L104.4 861.9 L106.7 865.5 L110.2 867.5 L111.6 871.3 L112.7 875.2 L113.4 879.4 L115.8 882.8 L120.9 883.3 L125.6 881.4 L128.8 884 L131.1 887.6 L134.2 890.3 L136.9 893.4 L141.5 894.5 L143.7 898.2 L145.7 901.5 L149.6 902.8 L152.4 905.2 L154.3 908.6 L156.5 911.6 L159 914.3 L162.7 915.8 L164.6 919.2 L168.6 920.3 L169.7 924.6 L173.5 925.9 L175.8 928.9 L174.8 933.5 L174.9 938.3 L173 942.8 L169 944.6 L164.7 944.2 M143.7 898.2 L100.5 941.4 L97.7 938.4 L94.8 935.5 L92.2 932.2 L87.9 930.8 L84.6 928.3 L82.3 924.7 L79.2 926.9 L77.6 930.5 L75 933.3 L71.7 935.3 L69.8 938.6 L20.9 939.5 M329.3 878.6 L332.5 881 L334.9 884 L336.5 887.7 L339.7 890 L342.3 892.9 L344.1 896.4 L346.6 899.2 L348.9 902.3 L344.3 905.1 L339.1 906.5 L337.3 910.8 L334.9 914.9 L338.1 918.4 L342.9 919.7 L346.1 923.3 L349.9 923.5 L353.6 924.1 L357 925.6 L360.7 926.3 L363.7 929.4 L367.7 928.8 L371.2 930.3 L375.3 929.6 L378 925.8 L382.4 925.8 L385.6 923.1 L389.4 921.7 L392.9 919.9 L396.3 917.7 L400 916.8 L403.7 916.4 L407.5 917.2 L411.1 915.5 L414.8 914.9 L418.7 916.5 L422.4 915.9 L426 914.6 L429.8 914.9 L433.8 915.8 L437.6 917.5 L441.9 916.8 L445.9 917.2 L449.8 918.7 L453.9 918.9 L457.7 920.5 L461.3 921.6 L465.1 922.2 L467.9 925.3 L471.4 926.8 L475.3 927.2 L478.6 928.9 L481.4 931.4 L484.2 934 L485.5 938 L488.2 940.7 L491.1 943.1 L494 945.6 L492.3 948.9 L490 951.7 L486.5 953.5 L485.3 957.3 L482 959.3 L480 962.3 L477.4 964.8 L475.2 967.9 L472.2 969.9 L468.2 970.9 L466.4 974.3 L463.3 976.3 L461.5 979.6 L459.9 983 L459.3 986.9 L457.7 990.3 L454.5 992.1 L450.9 993.1 L447.9 995.1 L444.9 997.4 L441.7 999.1 L438.6 1001.1 L435.4 1002.8 L432.1 1004.4 L428.5 1005.2 L425.6 1007.6 L421.6 1007.6 L418.6 1009.8 L415.4 1012 L412 1013.9 L407.7 1014 L405.2 1017.9 L401.3 1018.7 L397.7 1020.1 L394.3 1022.1 L390.7 1023.8 L387 1025.4 L384 1028 L381 1030.7 L378.4 1034.1 L373.7 1034.4 L371.2 1037.7 L368.2 1039.8 L365 1041.6 L362 1043.7 L358.8 1045.5 L355.7 1047.5 L352.5 1049.3 L348.9 1050.3 L351.4 1053.1 L354.8 1055 L357.2 1058 L359.8 1060.8 L363.5 1062.3 L365.6 1065.6 L369.3 1065.5 L372.6 1063.3 L376.5 1064 L380.2 1063.4 L383.5 1061.5 L387 1060.4 L390.7 1060 L394.5 1059.4 L398.4 1059.6 L402.1 1059.1 L405.7 1057.8 L409.3 1056.3 L413.1 1055.8 L416.8 1056.5 L420.4 1058.2 L424.3 1058.2 L427.8 1060.3 L431.8 1060.1 L435.4 1061.4 L432.3 1063.5 L429.4 1065.8 L426.4 1068 L422.9 1069.5 L419.9 1071.6 L417 1074 L414.5 1076.8 L415 1081 L416.6 1085.1 L417.2 1089.3 L421.8 1088.1 L426.5 1087.4 L431.2 1086.5 L431.4 1090.9 L432.7 1095.1 L435.3 1098.9 L435.4 1103.3 L439.3 1104.1 L443.2 1105.1 L446.6 1107.5 L449.8 1105.3 L453.9 1104.7 L457.2 1102.5 L460.5 1100.5 L462.8 1103.6 L462.2 1107.7 L463.7 1111.1 L465.2 1114.4 L467.4 1117.6 L467.5 1121.4 M235.8 923.3 L235.4 927.2 L235.7 931.1 L234.1 934.9 L235.2 938.9 L234.4 942.8 L238.6 943.3 L242.9 943.4 L247 944.2 L247.9 949.1 L248.4 954 L251.7 956.5 L256.2 955.8 L259.6 958.2 L262.8 956.4 L265.8 954.3 L269.2 952.9 L273.1 952.8 L275.6 949.6 L279.1 948.4 L282.7 946.5 L286 944 L289.9 942.6 L293.1 940 L293.4 935.8 L293.2 931.6 L294.4 927.5 L297.9 925.9 L301.3 924.5 L305.2 924 L308.5 922 L311.6 919.8 L315.4 919.1 L319.4 918.7 L323.1 916.9 L327.1 916.6 L330.9 915.1 L334.9 914.9 M248.4 954 L246 956.7 L244.1 959.9 L241.4 962.3 L242 966.3 L239.8 969.9 L240.3 973.8 L239.6 977.6 L238.7 981.3 L237.5 985 L237.2 988.9 L233.2 989.5 L230.3 992.4 L226.2 993 L223.3 995.8 L219.3 996.7 L216.9 1000.3 L213.8 1002.6 L210.3 1004.4 L206.5 1005.6 L202.6 1005.7 L199 1007.2 L195.4 1008.4 L192.6 1012.6 M237.2 988.9 L241 986.3 L245.6 986.1 L249.1 988.2 L251.4 991.5 L253.7 994.8 L257.4 996.6 L259.6 1000 L260.5 1004.2 L260.2 1008.4 L258.9 1012.6 L260.4 1016.8 L259 1021 L259.6 1025.1 L263.8 1024.8 L267.8 1022.9 L272.1 1023.1 L276.3 1022.4 L276.3 1029.3 L281 1029.7 L285.6 1030 L290.3 1030.7 L289 1034.9 L290.3 1039.1 L295.1 1038.1 L300 1039.1 L301.2 1043.3 L300 1047.5 L304.2 1048.8 L308.4 1047.7 L312.6 1047.4 L316.8 1048 L321 1048.3 L325.1 1048.9 L323.6 1052.7 L324.9 1056.9 L324.5 1060.8 L323.1 1064.7 L322.7 1068.6 L322.4 1072.6 L326.3 1073.4 L330.2 1072.9 L334.1 1071.4 L337.9 1070.7 L341.9 1071.2 L341.8 1075.1 L342.2 1078.9 L345.4 1082.1 L344.4 1086.2 L344.9 1090 L346.2 1093.6 L348 1097.1 L347.4 1101.1 L348.9 1104.7 L352.8 1103.8 L356 1101.2 L360.2 1100.8 L363.5 1098.4 L367.1 1096.6 L371.2 1096.3 L373.6 1091.9 L376.8 1087.9 L380.9 1087.2 L385.1 1087 L389.4 1087.3 L393.5 1086.5 L395.4 1082.9 L396.7 1079.2 L397.8 1075.3 L397.7 1071.2 L396.3 1067.6 L393.6 1065.2 L390.7 1062.8 M478.6 928.9 L481.2 925.9 L484.5 924.1 L487.8 922.2 L491.2 920.5 L495.2 920.9 L498.8 919.3 L502.7 919.2 L506.2 917.1 L510.2 917.5 L514.1 917.7 L517.7 916.3 L518.5 912.1 L520.2 908.1 L520.8 903.9 L520.5 899.6 L516.9 899.9 L513.3 900.8 L509.6 898.9 L506 900.5 L502.4 899.6 L499.8 896.5 L499.6 892.6 M494 945.6 L497.3 947.2 L500.6 948.7 L503.7 950.5 L507.6 950.7 L510.7 952.6 L514.9 952 L519.1 951.7 L523.1 950.8 L526.8 948.1 L531.1 948.3 L535 947 M535 1087.9 L532.4 1091.4 L529.7 1094.8 L526.6 1097.9 L524.7 1101.9 L520.7 1103.1 L517.2 1105.3 L514.4 1108.5 L510.7 1110.3 L506.6 1110.6 L503.4 1113.2 L499.8 1114.9 L496.2 1116.8 L492.1 1117.2 L488.4 1118.6 L484.3 1120.1 L480.1 1120.3 L475.8 1120 L471.6 1120.2 L467.5 1121.4 L463.6 1121.9 L460.4 1124.5 L456.8 1125.6 L453 1126.2 L449.1 1126.5 L445.3 1126.9 L441.6 1128 L438.2 1129.8 L434.5 1132.6 L432.4 1136.6 L429.5 1140.1 L427 1143.8 L424.2 1146.3 L421 1148.3 L418 1150.7 L414.4 1152.1 L411.2 1154 L408.1 1156.2 L405.2 1158.6 L401.9 1160.5 L398.6 1162.7 L395.4 1165.1 L391.3 1165.9 L388.2 1168.4 L384.5 1170.1 L381 1171.9 L378.3 1175.1 L375.1 1177.5 L371.2 1178.6 L368.1 1181.1 L363.9 1181.8 L360.7 1184 L357.8 1186.8 L353.9 1188 L351.1 1191 L347.5 1192.6 L343.9 1194.5 L342.1 1198.5 L338 1199.8 L334.6 1201.9 L332.5 1205.5 L329.3 1208 L326.6 1210.4 L324.3 1213.3 L321.3 1215.4 L318.6 1217.8 L315.7 1220 L312.6 1221.9 L310.5 1225.4 L307.4 1227.7 L304.2 1230 M510.7 1110.3 L513.1 1113.4 L515.1 1116.8 L517.5 1119.9 L519.7 1123.1 L523.3 1125.3 L524.4 1129.4 L527.6 1131.9 L529.7 1135.2 L532.1 1138.3 L535 1141 M348.9 1104.7 L345.7 1106.7 L341.6 1107 L338.3 1108.7 L335 1110.5 L332.1 1113.1 L328.1 1114.3 L324.3 1115.9 L321 1118.6 L316.1 1119.9 L311.2 1118.6 L308.1 1116.5 L304.4 1115.5 L301.4 1113.1 L297.6 1113.2 L294 1114.6 L290.2 1115 L286.5 1115.7 L282.8 1116.4 L279.1 1117.2 L275 1118.1 L271.2 1119.4 L268.1 1122.5 L263.9 1123.1 L260.1 1124.5 L256.8 1127 L254.2 1129.6 L251.8 1132.5 L248.4 1134.2 L245.2 1136.1 L242.8 1138.9 L240.5 1142 L237.2 1143.8 L233.4 1145.8 L230.5 1149 L226.2 1150.3 L223.3 1153.5 L220.4 1156.1 L216.6 1157 L213.7 1159.4 L209.7 1159.9 L207.4 1163.6 L203.7 1164.7 L200.2 1167.1 L198.3 1171 L195.6 1174.1 L193.1 1177.5 L189.8 1180 L186.1 1181.5 L182 1181.8 L178.2 1183.1 L174.5 1184.6 L171.1 1186.8 L167.5 1188.4 L163.8 1189.5 L160 1189.3 L156.2 1189.4 L152.6 1190.8 L148.7 1189.5 L145.1 1191.2 L142.2 1194.2 L138.5 1196 L135 1198.1 L131.2 1199.6 L136.8 1202.4 L136.6 1206.3 L136 1210.1 L134 1213.5 L131.2 1216.3 L135.6 1217.1 L139.6 1218.8 L143.4 1221.6 L147.9 1221.9 L151.8 1221.5 L155.8 1221.1 L159.6 1219.9 L163.4 1218.9 L167.5 1219.1 L171.3 1218.6 L175.2 1218.3 L178.8 1216 L182.8 1216.3 L184.2 1209.3 L188.5 1208.3 L192.3 1205.9 L196.8 1205.2 L197.9 1208.9 L200.3 1212.1 L202.4 1215.4 L204 1219 L204.1 1223.2 L206.2 1226.5 L207.9 1230 M301.4 1113.1 L341.9 1161.9 L338.8 1164 L337 1167.6 L333.3 1169 L330.7 1171.7 L332.5 1175.2 L334.9 1178.2 L337.9 1180.7 L340 1183.8 L342.9 1186.4 L345 1189.7 L347.5 1192.6 M115.8 1194 L119.4 1192.9 L122.8 1191.2 L125.1 1195.3 L127 1199.6 L129.2 1196.3 L129.5 1192.1 L132.7 1189.3 L134 1185.6 L138.2 1186 L142.3 1187 M500 948.4 L503.5 950.3 L507.5 950 L511.2 951.2 L515.2 950.5 L519.3 950.2 L522.9 947.7 L527 947.5 L531 946.7 L534.9 945.6 L535.7 949.8 L539.7 952.5 L540.5 956.8 L540.8 961.1 L539.5 965.2 L537.6 969.2 L537.7 973.5 L542.2 974.8 L547.1 973.5 L551.6 974.9 L553 981.9 L556.8 983.5 L560.8 983.1 L564.6 984.7 L568.5 985.2 L572.6 984.7 L572.9 988.7 L570 992.1 L570.5 996.2 L569.8 1000 L574.7 999.2 L579.5 1000 L582.8 997.4 L585.6 994.2 L590 993 L593 990.1 L596.3 987.5 L597.7 983.6 L600.2 980.4 L603 977.4 L605.8 974.5 L607.5 970.7 L609.4 966.9 L611.5 963.2 L614.5 960 L617.2 956.8 L617.6 952.5 L619.6 948.8 L622.3 945.4 L622.1 940.9 L624.2 937.2 L624.6 932.5 L626.7 928.1 L627 923.3 M500 1115.9 L503.6 1113.7 L507.4 1112 L511.2 1110.3 L513.5 1107 L515.6 1103.7 L518.4 1100.7 L520.5 1097.4 L522.2 1093.6 L525.4 1091 L527.9 1087.9 L528.9 1084.1 L531.1 1081 L533.4 1078.1 L536.9 1075.8 L537.8 1072 L540 1068.9 L541.9 1065.6 L545.1 1063.3 L547.6 1060.4 L549.4 1056.9 L551.3 1053.4 L554.3 1050.9 L556.5 1047.7 L560.1 1045.7 L560.8 1041.3 L564.2 1039.1 L566.8 1036.6 L570.1 1034.9 L572.7 1032.4 L575.4 1030.1 L578.6 1028.2 L580.5 1024.9 L584.3 1023.8 L587.2 1021.6 L588.6 1017.7 L591.8 1015.9 L594.9 1014 L598 1011.2 L601.4 1008.7 L605 1006.5 L607.9 1003.4 L611.6 1001.4 L614.7 999.3 L617.8 997.4 L620.7 995.1 L623.4 992.5 L625.1 988.9 L628.8 987.5 L631.2 984.7 L634.4 982.4 L636.9 979.3 L639.9 976.6 L642 973.1 L645.6 971.2 L647.5 967.5 L650.7 965.1 L654.1 963.3 L657.1 960.7 L660.8 959.4 L663.5 956.3 L667.5 955.4 L670.4 952.7 L674.4 951.3 L677.2 948.4 L674.6 945.2 L673 941.4 L667.5 938.6 M511.2 1110.3 L557.2 1166.1 L554.1 1167.9 L551.6 1170.8 L547.7 1171.5 L545.2 1174.3 L541.9 1175.9 L543.2 1179.5 L546.9 1181.3 L548 1185 L551.5 1187.1 L552.1 1191.2 L554.5 1194 L558.3 1195.8 L559.4 1199.5 L562.5 1201.8 L564.2 1205.2 L561.8 1207.9 L558.7 1210.2 L557.7 1214.1 L555.2 1216.8 L553 1219.8 L550.7 1222.6 L547.4 1224.7 L544.7 1227.4 L541.9 1230 M762.3 972.1 L760.3 975.4 L756.9 977.2 L754.6 980.2 L751.2 981.9 L746.7 984.2 L742.8 987.5 L739.3 989.5 L736.4 992.6 L732.9 994.7 L728.9 995.8 L725.7 997.9 L723.9 1001.5 L720.1 1002.9 L717.5 1005.6 L714.9 1008.4 L712.8 1012.2 L709.9 1015.6 L708.4 1019.8 L706.5 1023.8 L703.6 1026.2 L701.1 1029.1 L698.6 1031.9 L696 1034.7 L692.7 1036.7 L689.8 1039.1 L689.6 1043.3 L688.2 1047.4 L688.4 1051.7 L686.3 1055.3 L683.5 1058.3 L679.8 1060.7 L677.9 1064.5 L675.3 1067.7 L673 1071.2 L669.4 1073.3 L665.7 1075.4 L663.4 1079.3 L659.2 1080.7 L656.3 1083.8 L653.4 1087.1 L649.7 1089.1 L645.7 1090.9 L642.3 1093.5 L640.6 1097.2 L638.2 1100.5 L636.7 1104.3 L634 1107.5 L633.1 1111.4 L631.3 1115 L629.5 1118.5 L627.9 1122.2 L627 1126.1 L625.6 1129.8 L624.5 1134.1 L621.7 1137.8 L620.8 1142.1 L620 1146.6 L621 1150.5 L622.1 1154.4 L624.2 1158 L625.2 1162 L625.6 1166.1 L625.2 1170.6 L621.8 1174.1 L620.6 1178.4 L620 1182.8 L619.7 1187.4 L616.8 1191.1 L616.1 1195.5 L614.4 1199.6 L614 1204.2 L614.6 1208.9 L614.4 1213.5 L613.1 1217 L612 1220.6 L610.1 1223.8 L607.9 1226.8 L606.1 1230 M1035 1065.6 L1031.4 1064.9 L1027.8 1064.8 L1024.3 1063.2 L1020.6 1063.5 L1017.1 1062.2 L1013.5 1061.4 L1011.6 1057.5 L1007.2 1055.8 L1004.8 1052.3 L1002.4 1048.9 L998.6 1047.6 L994.3 1048.2 L990.5 1047.2 L986.9 1044.7 L982.8 1044.7 L980 1039.1 L978 1042.3 L978.6 1046.2 L978 1049.8 L975.2 1052.8 L975.8 1056.7 L974.5 1060 L972.8 1063.4 L971.4 1066.9 L970 1070.4 L968.9 1074 L964.7 1076 L961.9 1079.6 L958.5 1081.6 L956.4 1084.8 L953.6 1087.4 L951.1 1090.2 L948.8 1093.3 L946.6 1096.3 L943.2 1093.9 L939.6 1091.7 L936.4 1089.1 L934.2 1085.2 L930.6 1083.1 L927 1081 L924.9 1084.7 L920.7 1086.3 L919.1 1090.4 L915.5 1092.7 L913.1 1096.2 L910.3 1099.1 L861.4 1068.4 L860.8 1072.3 L859.8 1076.1 L857.8 1079.5 L857 1083.4 L855.3 1086.9 L854.5 1090.7 L851.9 1094 L849.6 1097.3 L847.4 1100.7 L846.1 1104.7 L843.5 1107.3 L840.5 1109.5 L839.1 1113.1 L836 1115.2 L833.8 1118.1 L832.1 1121.4 L828.8 1123.7 L827.2 1127.7 L823.6 1129.7 L820.9 1132.6 L818.9 1136.1 L815.4 1138.2 L813.8 1142 L811.6 1145.6 L810.9 1149.9 L809 1153.6 L805.9 1156.7 L804.2 1160.5 L802.6 1164.3 L799.4 1167.4 L797.8 1171.3 L796 1175 L794.2 1178.8 L793.1 1182.8 L791.4 1186.6 L788.1 1189.2 L787.2 1193.4 L784.9 1196.7 L781.9 1199.6 L779.3 1202.1 L776.7 1204.7 L774.3 1207.5 L770.7 1208.9 L767.2 1210.3 L765.1 1213.5 L762.3 1217.1 L758.6 1219.6 L754 1221.1 L751.2 1224.7 L747 1230 M781.9 1199.6 L785.6 1199.8 L789.1 1201.2 L792.8 1201.1 L796.1 1203.6 L800 1202.9 L803.4 1204.5 L807 1205.2 L810.7 1206.6 L814.7 1205.6 L818.4 1207.4 L822.3 1207.1 L826.2 1207 L830 1207.6 L833.8 1207.8 L837.7 1208 L841.3 1207.1 L845.2 1208.1 L848.6 1206 L852.4 1206.9 L855.8 1205.2 L855.4 1209 L857.9 1212.5 L857.2 1216.3 L861.6 1216.8 L865.6 1218.4 L869.6 1220.2 L874 1220.5 L876.5 1223.3 L877.5 1227 L879.6 1230 M207.4 1230 L208.9 1234.3 L212.5 1237.2 L214.4 1241.2 L215 1245.9 L216.2 1250.5 L215.8 1255.2 L219.1 1258.4 L223.9 1258.7 L227.2 1261.9 L231.2 1263.6 L230 1267.3 L228.8 1271 L228.4 1274.8 L230.9 1277.5 L233.2 1280.3 L235.4 1283.1 L238.4 1285.4 L240.2 1288.6 L242.5 1291.3 L243.8 1294.9 L246.6 1297.3 M308.3 1230 L305.8 1232.7 L302.5 1234.4 L300.7 1238 L296.3 1238.4 L293.8 1241.1 L291.5 1244 L287.5 1245.4 L285.4 1249.3 L282.3 1251.8 L279.3 1254.5 L275.9 1256.6 L273 1259.4 L269.1 1260.8 L266.8 1263.9 L265.6 1267.5 L262.8 1270.2 L261 1273.6 L260 1277.4 L257.8 1280.4 L256.2 1283.8 L253.5 1286.3 L251.7 1289.6 L248.2 1291.4 L246.8 1295 L243.8 1297.3 L243.2 1301.1 L240.1 1303.9 L239.8 1307.8 L238.2 1311.3 L234.6 1313.3 L231.8 1316 L229.8 1319.7 L226.3 1321.3 L223.4 1324.2 L220.2 1326.3 L216.7 1328.1 L213 1329.5 L208.8 1330.6 L205.1 1332.8 L201.4 1335 L197.8 1337.3 L193.4 1337.9 L190.8 1340.7 L188 1343.2 L185.7 1346.4 L182.6 1348.6 L179.7 1351.1 L176.6 1353.3 L174.9 1357.1 L172.8 1360.8 L170.8 1364.5 L168.3 1367.9 L167.7 1372.2 L165.4 1375.7 L163.4 1380.1 L160.1 1383.5 L157 1387 L155.6 1390.9 L152.9 1394.1 L151.1 1397.9 L149.5 1401.7 L147.1 1405.2 M312.5 1230 L350.3 1276.2 L292.9 1322.5 L293.5 1326.4 L291.7 1329.9 L291.5 1333.7 L292.5 1339.1 L295.7 1343.5 L293.8 1346.7 L291.2 1349.4 L289.3 1352.7 L286.4 1355.2 L284.3 1358.2 L282.3 1361.4 L280.3 1364.5 L279.8 1368.9 L281.2 1373 L282.8 1377.1 L283.1 1381.3 L286.1 1383.6 L288.5 1386.5 L291.2 1389.1 L294.3 1391.2 L297.6 1389.4 L301.5 1389.8 L304.8 1387.9 L308.3 1387 L311.3 1384.6 L312.4 1380.7 L315.3 1378.2 L318.1 1375.7 L321.7 1377.3 L323.8 1380.5 L326.9 1382.6 L329.6 1385.3 L332.6 1387.5 L334.3 1391.1 L337.5 1393.2 L340.8 1395.1 L343.3 1397.8 L346.7 1399.7 L348.2 1403.5 L351.7 1405.2 M105.1 1391.2 L108.8 1391.2 L112.3 1392.4 L115.9 1393.1 L119.5 1393.5 L123.1 1394.4 L126.7 1394.7 L130.3 1395.4 L131.7 1402.4 L135.6 1403.5 L139.6 1403.7 L143.5 1404.6 L147.1 1406.6 L151.1 1406.8 L154.6 1408.9 L158.8 1407.8 L162.4 1409.4 L166.2 1410.4 L169.9 1411.5 L173.8 1412.2 L232.6 1448.6 L235.4 1451.1 L237.4 1454.4 L239.9 1457.1 L243.2 1459 L246.6 1460.9 L248.1 1464.7 L250.8 1467.2 L254.2 1469.1 L256.3 1472.3 L258.8 1475 L261.4 1477.7 L264.9 1479.4 M535 1333.7 L530.9 1334.8 L527.6 1337.4 L524.4 1340.2 L520.7 1342 L516.8 1343.5 L512.9 1344.9 L465.2 1360.3 L461.5 1360 L457.9 1360.5 L454.5 1362.5 L450.9 1362.9 L447.2 1363.4 L443.5 1362.9 L440 1364.5 L436 1364.5 L432 1364.6 L428 1363.9 L423.9 1365 L420 1363.5 L416 1364.3 L412 1363.1 L408.4 1364.2 L405.7 1366.9 L401.8 1367.5 L399.3 1370.5 L396.3 1372.6 L392.2 1372.9 L389.6 1375.7 L385.8 1375.9 L382.9 1379 L378.7 1377.7 L375.3 1379.1 L371.8 1380 L368.5 1381.9 L364.9 1382.5 L361.5 1384.1 L359 1387.4 L357.7 1391.4 L356.3 1395.3 L353.1 1398.2 L352.2 1401.8 L351.1 1405.5 L351.7 1409.4 L350.1 1413.4 L346.4 1416.1 L344.4 1419.9 L341.9 1423.4 L338.3 1426.4 L334.2 1428.6 L330.7 1431.8 L327.8 1433.9 L324.7 1435.9 L322.3 1438.8 L318.3 1439 L314.3 1438.9 L310.3 1438.5 L306.3 1439.5 L302.3 1437.8 L298.3 1439.9 L294.3 1438.8 L292.1 1442 L292.3 1446.2 L290.9 1449.6 L287.5 1452.3 L286.9 1456.2 L285.9 1459.8 L282.9 1462.1 L279.1 1463.1 L276.1 1465.4 L274.7 1468.8 L272.1 1471.5 L271.2 1475.1 L269.1 1478 L265.9 1480.3 L262.8 1482.8 L258.9 1483.8 L256 1486.6 L252.2 1487.8 L248.7 1490.6 L245.4 1493.6 L241.4 1495.8 L238.2 1499.1 L236.7 1502.9 L233.5 1505.8 L232.8 1510.1 L229.8 1513.1 L227.5 1516.2 L227.9 1520.4 L225.7 1523.6 L224.2 1527.1 L222.2 1531.4 L217.9 1534.1 L215.8 1538.3 L213.4 1542.3 L210.9 1546.3 L207.4 1549.5 L207.6 1553.8 L208.8 1557.9 L205.1 1560.1 L202.3 1563.3 L199.1 1566.1 L196.2 1569.1 L193.5 1572.6 L190.6 1576 L189.2 1580.3 L190.2 1584 L191.1 1587.7 L190.6 1591.5 L187.8 1594.9 L186.7 1599.1 L184.9 1602.9 L183.6 1607 L180.8 1609.6 L180.3 1613.5 L177.4 1616 L175.7 1619.3 L173.8 1622.4 L172.4 1628 M81.3 1499.1 L83 1495.7 L84.9 1492.4 L86.9 1489.2 L90.4 1487.1 L94.8 1487.8 L98.6 1486.5 L102.3 1485 L104 1489.4 L106.5 1493.5 L110.4 1493.9 L114.2 1494.9 L117.9 1496 L121.9 1496 L125.8 1495.7 L129.5 1497.6 L133.5 1496.7 L137.3 1497.7 L137.7 1493.1 L140.1 1489.2 L143.9 1489.1 L147.6 1490.2 L151.2 1491.5 L155.1 1490.7 L158.8 1492 L162.6 1492.1 L166.3 1492.5 L170 1492.9 L172.9 1496.1 L176.7 1496.1 L180.4 1496.8 L183.8 1498.3 L187.7 1498 L190.8 1500.7 L194.7 1500.3 L197.8 1502.9 L201.9 1501.9 L205.3 1503.6 L208.8 1504.7 L207.5 1508.4 L205 1511.5 L204.5 1515.7 L201.8 1518.7 L198.7 1522.4 L194.6 1524.6 L190.6 1527.1 L190.6 1530.9 L187.7 1533.9 L188.3 1537.9 L186.4 1541.1 L187.6 1545.9 L187.8 1550.9 L192 1550.3 L196.2 1549.5 L199.9 1548.5 L203.7 1550.6 L207.4 1549.5 M264.9 1479.4 L268.8 1479.8 L272.4 1481.9 L276.5 1480.8 L280.3 1482.2 L282.1 1485.6 L283.3 1489.2 L285.1 1492.5 L285.9 1496.3 L289.5 1498.1 L292.1 1501.4 L296 1503 L299.9 1504.4 L302.7 1507.5 L304 1511.4 L307.5 1514.1 L308.4 1518.3 L311.1 1521.5 L315 1522.2 L317.6 1525.2 L321.1 1526.7 L324.4 1528.4 L327.9 1529.9 L329 1534 L331.6 1537.2 L334.6 1540.2 L336.3 1543.9 L340 1545.2 L344 1545.7 L347.1 1548.4 L351 1549.3 L354.5 1550.9 L357.8 1553.4 L359.3 1557.3 L361.6 1560.6 L365.4 1562.6 L367.2 1566.3 L369 1570 L371.3 1573.3 L374.7 1575.9 L375.6 1580.1 L378.4 1583.1 L381.1 1585.9 L383.1 1589.1 L383.3 1593.3 L385 1596.7 L387.7 1599.5 L389.6 1602.8 L392.3 1606.5 L396.4 1608.6 L399.5 1611.9 L403.6 1614 L407.3 1614.3 L411.1 1614.7 L414.8 1615.4 L416.9 1618.6 L420.3 1620.4 L423.2 1622.7 L426 1625.2 L430.1 1626.8 L434.3 1627.2 L438.5 1628 L442.8 1628 L445.9 1630.1 L447.7 1633.5 L451.1 1635.1 L454.5 1636.7 L456.7 1639.8 L459.6 1642 L463.8 1643.6 L468.3 1643.9 L472.6 1645.3 L476.5 1647.6 L477.9 1651.6 L479.6 1655.5 L482.4 1659 L483.1 1663.3 L484.9 1667.2 L486.1 1670.9 L486.2 1674.8 L487.7 1678.4 L489.3 1681.9 L492.6 1684.2 L493.6 1688.1 L496.6 1690.7 L498.6 1693.9 L500.3 1697.3 L501.7 1700.9 L505.3 1702.9 L509.3 1703.8 L513.4 1704.5 L517.5 1704.9 L521.3 1706.5 L523.6 1711 L526.9 1714.9 L530.5 1711.8 L535 1710.7 M172.4 1628 L176 1629 L179.7 1628.1 L183.3 1628.2 L186.9 1629.9 L190.6 1629.4 L190.8 1633.5 L189.2 1637.3 L188.3 1641.3 L187.5 1645.2 L188 1649.4 L186.4 1653.2 L190 1654.3 L193.8 1654.7 L197.3 1656.4 L201.4 1655.1 L204.6 1658.1 L208.7 1657 L212.1 1659.3 L215.9 1659.3 L219.5 1660.9 L223.5 1660.1 L227 1661.6 L228.6 1665.4 L230.3 1669.2 L229.7 1673.6 L231.4 1677.3 L232.6 1681.2 L234.1 1684.7 L235 1688.3 L236 1691.8 L236.6 1695.5 L236.5 1699.3 L237.6 1702.8 L238.2 1706.5 L236.9 1710.4 L237.7 1714.7 L235 1718.3 L233.8 1722.2 L233.6 1726.4 L232.8 1730.4 L232.6 1734.5 L230.4 1737.9 L230.8 1742.3 L228.5 1745.7 L228 1749.8 L225 1752.9 L224.2 1756.9 M172.4 1628 L169.6 1630.8 L169 1635.1 L165.2 1637.2 L163.5 1640.7 L162.4 1644.7 L159.8 1647.6 L155.9 1649.4 L152.4 1652 L148.3 1653.5 L143.9 1654 L140.1 1656 L137.2 1658.9 L136.1 1663 L132.7 1665.5 L131 1669.3 L128.4 1672.3 L126.1 1675.6 L123.3 1678.3 L122.3 1682.2 L120.2 1685.4 L117.6 1688.2 L114.2 1690.5 L113.2 1694.4 L110.2 1696.9 L109.3 1701 L106.5 1703.7 L103 1705.3 L99.8 1707.3 L97.4 1710.5 L94.5 1713 L91.5 1715.4 L88.3 1717.5 L85 1719.3 L81.5 1720.9 L78.5 1723.3 L74.3 1724.3 L71.3 1727.6 L66.8 1727.9 L63.9 1731.5 L59.8 1732.6 L56.1 1734.5 L52.4 1735.9 L48.8 1737.5 L45.4 1739.5 L42 1741.4 L39.8 1745.2 L35.4 1745.5 L33.1 1749.3 L29.2 1750.3 L26 1752.4 L22.4 1754.1 M426 1756.9 L428.8 1754.1 L432.3 1752.4 L435.4 1749.9 L438.7 1748 L442.6 1746.8 L445.6 1744.3 L449.8 1743.1 L454 1743.2 L458.2 1742.5 L462.4 1742.9 L465.3 1746 L469.5 1747.1 L473.2 1748.8 L476.5 1751.3 L478.1 1754.7 L479.3 1758.3 M224.2 1756.9 L227.6 1755.3 L231.3 1754.9 L234.9 1754.3 L238.6 1753.8 L241.6 1751.3 L245.3 1750.7 L248.6 1749.2 L252.2 1748.5 L256 1749.1 L259.6 1750.3 L263.3 1751.1 L267.1 1751.4 L270.8 1751.9 L274.7 1751.3 L278.3 1754.1 L280.3 1758.3 M749.4 1230 L747.3 1233.4 L743.9 1235.6 L741 1238.4 L738.2 1241.2 L734.4 1242.8 L731.5 1245.6 L728.4 1248.1 L725.5 1250.8 L723.2 1254.3 L718.9 1255.4 L716.5 1258.8 L713.2 1261 L710.2 1263.6 L708.1 1266.8 L704.9 1268.8 L701.2 1270.2 L699.6 1274 L696.9 1276.5 L693.7 1278.5 L690.8 1280.9 L687.8 1283 L685 1285.4 L682.7 1288.4 L679.4 1290.3 L677.4 1293.7 L674 1295.5 L671.3 1298.1 L668.1 1300.2 L665.3 1302.6 L662.2 1304.8 L659.9 1307.8 L657.1 1310.4 L654.1 1312.7 L650.1 1313.4 L646 1313.9 L642.3 1315.7 L638.8 1318.3 L634.5 1318.3 L630.6 1319 L626.5 1317.5 L622.5 1317.7 L618.5 1319.6 L614.5 1320 L610.6 1320.7 L606.5 1319.7 L602.9 1321 L599.1 1321.5 L595.2 1319.5 L591.5 1320 L587.9 1321.8 L584.2 1323 L580.2 1321.1 L576.6 1322.2 L572.8 1321.8 L569.2 1323.7 L565.3 1322.6 L561.7 1323.9 L557.8 1324.4 L554.3 1325.9 L550.7 1327.1 L547.1 1328.2 L543.7 1330 L539.7 1330 L536.4 1332.3 L533.3 1335 L529.3 1336.1 L525.8 1338 L522 1339.5 L518 1340.5 L515.3 1344.1 L511.2 1344.9 L507.5 1346.1 L503.8 1346.9 L500 1347.7 M679.4 1290.3 L681.5 1293.8 L682.8 1297.7 L686.6 1300.2 L687.8 1304.3 L689.9 1307.4 L692.5 1310.3 L693.4 1314.1 L693.7 1317.9 L695.6 1321.4 L696 1325.2 L695.4 1329.2 L698 1332.6 L697.6 1336.5 L697.6 1340.6 L696.4 1344.5 L694.3 1348.1 L694.3 1352.2 L693.4 1356.1 L693.2 1359.9 L692.7 1363.6 L694.5 1367.3 L694.1 1371.1 L695 1374.8 L693.6 1378.6 L695.7 1382.2 L694 1386 L694.8 1389.8 L694 1393.6 L692.3 1397.2 L692 1401.2 L689.1 1404.4 L689.4 1408.6 L687.8 1412.2 L685.9 1415.4 L682.8 1418 L681.6 1421.7 L680.2 1425.2 L678.3 1428.5 L674.9 1430.8 L673.8 1434.6 L670.9 1437 L668.6 1440 L666.3 1442.9 L663.2 1445.1 L662.2 1449.2 L659.3 1451.6 L656 1453.7 L654.1 1457 L651.1 1459.1 L648.3 1461.6 L645.5 1463.9 L643 1466.7 L640 1468.9 L637.4 1471.6 L634.5 1473.8 L630.7 1474.5 L628.1 1477.7 L624.7 1479.4 L621.3 1481 L617.7 1482.2 L616.8 1486 L614.1 1488.8 L612.5 1492.2 L612 1496.2 L609.3 1499.1 L607.4 1502.3 L603.8 1504 L602.5 1507.8 L599.4 1510 L597.5 1513.2 L595.5 1516.4 L592.5 1518.7 L593.9 1522.9 L590.2 1525.3 L588 1529 L586 1532.8 L582.7 1535.5 L583 1539.3 L584.1 1542.9 L584.1 1546.7 L581.7 1549.7 L581.8 1554 L579.2 1556.9 L577.1 1560 L575.7 1563.5 L573.7 1568.3 L572.9 1573.3 L575.6 1576.1 L577.6 1579.3 L578.5 1583.1 L581.8 1585.9 L584.9 1588.9 L588.3 1591.5 L587.9 1596.2 L588.4 1601 L586.9 1605.6 L590.1 1608.5 L592.1 1612.4 L595.3 1615.4 L593.8 1619.6 L591.4 1623.4 L591.1 1628 L593.2 1631.9 L592.9 1636.5 L594 1640.6 L595.3 1644.8 L594.5 1648.6 L594.5 1652.5 L592.5 1656 L590.4 1659.9 L588.2 1663.7 L585.5 1667.2 L585.6 1671.1 L583.3 1674.5 L584.4 1678.6 L583.8 1682.4 L581 1685.7 L581.3 1689.6 L576.8 1689.5 L572.8 1691.2 L568.7 1692.4 L569.1 1696.2 L569.1 1700 L570.1 1703.7 L568.2 1708.5 L564.5 1712.1 L563.1 1719.1 L559.6 1721 L555.8 1721.9 L552.5 1724.2 L548.1 1723.8 L544.8 1726.1 L543.7 1729.8 L543.6 1733.7 L542 1737.3 L543.2 1741.1 L544 1745.1 L546.2 1748.5 L543.6 1751.6 L540.8 1754.5 L539.2 1758.3 M557.5 1246.8 L554.9 1249.6 L552.4 1252.5 L552.1 1256.9 L549 1259.4 L551.6 1263.2 L550.7 1268.2 L553.3 1272 L552.3 1277.1 L550.4 1281.8 L547.8 1284.9 L544.1 1286.8 L540.9 1289.1 L537.8 1291.7 L540.2 1295.2 L543.2 1298.1 L546.2 1301.2 L549 1304.3 L550.6 1307.7 L553.7 1310 L555.4 1313.3 L556.7 1317 L559.1 1319.8 L561.7 1322.5 M549 1259.4 L553 1257.3 L557.5 1256.6 L560.7 1254.6 L563 1251.3 L567.3 1250.7 L569.3 1247 L572.9 1245.4 L576.1 1243.7 L579.7 1242.8 L583.1 1241.4 L586 1239.1 L589.4 1237.6 L592.5 1235.6 M593.9 1522.9 L598.7 1524.3 L603.7 1524.3 L607.1 1526 L608.2 1530 L611.7 1531.7 L614.8 1533.7 L617.3 1536.4 L619.1 1539.7 L623.3 1540 L627.5 1540.6 L631.7 1540.5 L636.3 1541.7 L641 1542.1 L645.7 1541.7 L650.2 1541.8 L653.9 1544.8 L658.6 1544 L662.6 1546.1 L666.3 1546.9 L670 1546 L673.8 1546.3 L677.5 1546.8 L681.2 1545.4 L685 1545 L688.7 1547.1 L692.5 1545.3 L696.2 1545.6 L699.9 1545.1 L703.7 1545.9 L707.4 1546.1 L711.8 1547.3 L715.8 1549.5 L719.5 1548.1 L723.7 1547.7 L727 1545.3 L730.7 1543.7 L734.7 1543.1 L738.2 1541.1 L741.8 1540 L744.7 1537.5 L748.8 1537.4 L752.1 1535.8 L755 1533.1 L758.7 1532.3 L762.1 1530.7 L765.5 1532.1 L769.1 1532.7 L772.7 1531.9 L776.4 1532.2 L780 1531.6 L783.6 1530.7 L787.3 1530.4 L787.4 1534.4 L789.8 1537.9 L789.3 1542 L790 1545.8 L791.5 1549.5 L790.8 1553.4 L789.9 1557.3 L789.9 1561.2 L790.5 1565.2 L790.1 1569.1 L791.5 1574.7 L792 1578.8 L791.3 1582.7 L791 1586.7 L790 1590.5 L788.7 1594.3 L788.9 1598.3 L789.5 1602.1 L791.5 1605.6 L788.9 1608.9 L786.8 1612.6 L785.9 1616.8 L787.9 1620 L789.4 1623.5 L791.9 1626.4 L794.3 1629.4 M882.6 1230 L887.3 1232.1 L891 1235.6 L892.8 1239.6 L892.3 1244.2 L894 1248.2 L895.2 1252.4 L893.2 1256.2 L890.6 1259.7 L887.7 1262.9 L885.4 1266.4 L889.5 1265.5 L893.8 1266 L898 1265 L901.9 1264.8 L905.5 1266.1 L909.3 1266.6 L912.8 1268.5 L916.5 1269.4 L920.4 1269.2 L922.5 1272.4 L923.8 1276.1 L927.6 1278.1 L928.4 1282.1 L931.4 1284.7 L933.7 1287.7 L935 1291.4 L937.2 1294.5 L938.1 1298.1 L938 1301.7 L937.2 1305.3 L936.2 1308.9 L935.8 1312.5 L935.2 1316 L935.8 1319.7 L937.2 1323.3 L937.3 1327.3 L938.6 1330.9 L935 1332.9 L932.2 1335.7 L930.7 1339.8 L927.7 1342.4 L925.1 1345.4 L921.6 1347.5 L919 1350.6 L916.1 1353.2 L913.4 1356.1 L918.5 1357.8 L923.2 1360.3 L922.1 1364.5 L924.2 1368.7 L923.2 1372.9 L925.8 1376 L929.2 1377.6 L932.5 1379.5 L935.8 1381.2 L938.6 1383.9 L942.5 1384.9 L945.6 1387 L950.3 1388.1 L955 1388.1 L959.6 1387 M885.4 1266.4 L883 1269.9 L880.8 1273.5 L876.9 1275.6 L874.8 1279.3 L872.5 1282.7 L870 1286.1 L869.8 1290 L869.8 1293.8 L870.5 1297.7 L871.4 1301.5 L867.7 1303.4 L863.3 1302.4 L860 1305.5 L855.9 1305.7 L853.8 1309.1 L850.9 1311.9 L847.5 1314.1 L847.3 1317.8 L846.2 1321.5 L847 1325.4 L846.5 1329.1 L845.3 1332.8 L844.7 1336.5 L847.4 1340.4 L852 1342.3 L854.5 1346.3 L851.1 1348 L849.4 1351.7 L845.5 1353 L843.3 1356.1 L841.8 1360 L838.2 1362.6 L836 1366 L834.9 1370.1 L835.7 1374.8 L838.3 1378.7 L840.5 1382.7 L838.4 1386.3 L837.7 1390.3 L838.5 1394.6 L836.3 1398.2 L837.4 1401.7 L838.7 1405.1 L839.8 1408.6 L840.5 1412.2 L841.9 1416.1 L843.4 1420 L845 1423.8 L847 1427.6 L847.5 1431.8 L848.4 1436 L849.4 1440.1 L848.8 1444.6 L850.3 1448.6 L854.1 1451.4 L856.7 1455 L858.6 1459.2 L861.5 1462.6 L863.6 1465.8 L864.2 1469.5 L864.2 1473.3 L865.8 1476.6 L868.4 1481 L872.8 1483.6 L870.7 1487.6 L869.1 1491.7 L865.8 1494.9 L869.3 1496.2 L872.8 1497.7 M500 1693.8 L503.6 1696.4 L505.4 1700.6 L508.4 1703.7 L512.3 1705.8 L517 1704.6 L521 1706.5 L522.6 1710.2 L526.4 1712.5 L528 1716.3 L531.4 1714 L535.5 1712.9 L538.3 1709.5 L542 1707.9 L546.7 1708.8 L551.5 1707.7 L556.1 1709.3 L557.7 1713.1 L560.8 1715.8 L563.1 1719.1 M1297.3 769.8 L1299.9 772 L1298 776 L1301.9 777.7 L1301 781.3 L1302.9 783.7 L1303.2 786.7 L1304.9 788.9 L1307.8 790.3 L1309 792.7 L1309.2 795.8 L1311.3 797.7 L1313.7 800.1 L1316.7 799.7 L1319.6 799.9 L1322.6 800.1 L1325.3 800.8 L1328.1 801.9 L1330.8 802.8 L1333.6 801.9 L1336.4 802.4 L1339.2 802.9 L1342 803.1 L1344.9 801 L1347.6 801.8 L1350.3 803.8 L1353.2 803.4 L1356 803.3 L1356.9 806.2 L1361 806.3 L1362.3 808.9 L1363.4 811.6 L1364.6 814.4 L1367.1 815.8 L1369.1 813.4 L1372.6 813.9 L1374.5 811.3 L1376.8 809.6 L1380.3 809.9 L1381.5 806.1 L1385.5 807.5 L1386.9 804 L1389.5 802.8 L1392.2 801.9 L1391.7 798.6 L1393.2 795.7 L1395.2 792.9 L1393.4 789.4 L1395 786.5 L1393.3 783.6 L1391.1 781.1 L1389.5 778.1 L1392.3 777.6 L1395.1 777.1 L1397.8 779.5 L1400.6 778.6 L1403.4 779 L1406.2 779.7 L1409 779.5 L1412.1 778.8 L1414.3 782.1 L1417 783.1 L1420.4 781.4 L1422.7 784.2 L1425.7 783.7 L1426 786.5 L1428.3 788.6 L1429.3 791.1 L1430.9 793.4 L1430.7 796.4 L1431.3 799.1 L1434.5 798.4 L1437.8 798.1 L1441.1 797.7 L1440.5 795 L1440.2 792.3 L1438.1 789.9 L1437.9 787.2 L1438.6 784.2 L1437.8 781.6 L1436.1 779.1 L1436 776.4 L1438 773.2 L1436.8 770.6 L1436 768 L1434.1 765.6 L1434.1 762.8 L1436.8 761.8 L1439.9 762.2 L1442.5 760.9 L1445.3 760 L1445.7 762.7 L1448.8 764.5 L1447.3 768 L1450.1 769.8 L1450.5 772.6 L1450.9 775.4 L1454 774.4 L1457.7 774.9 L1460.2 771.9 L1463.4 771.2 L1466.1 770.1 L1467.7 767.2 L1471.6 768.1 L1472.7 764.3 L1475.7 763.7 L1478.4 762.7 L1480.9 761.2 L1482.8 758.9 L1485.7 758 L1486.9 754.5 L1491.2 756.1 L1492.7 753 L1492.5 750.2 L1492.1 747.4 L1491.3 744.7 L1492.9 742.1 L1495.7 741 L1498.2 739.7 L1499.9 737.2 L1501.4 734.6 L1503.7 733 L1506.7 732.1 L1505.4 728.8 L1501.2 728.2 L1499.7 725.1 L1501.9 723.5 L1504.6 722.5 L1505.7 719.4 L1509.2 719.5 L1510.7 716.9 L1514 716.7 L1514.5 712.8 L1517.2 711.9 L1519.3 710 L1521.3 708.1 L1523.8 707 L1526.2 705.6 L1528.8 702.6 L1531.8 700 M1436.9 700 L1463.4 771.2 M1478.8 762.8 L1481.4 764.8 L1480.5 768.2 L1483.5 770.1 L1482.8 773.4 L1482.2 776.7 L1485.7 778.4 L1484.3 782 L1486.5 784.1 L1486.7 787.1 L1490.7 788.6 L1489.2 792.2 L1491 794.5 L1491.8 797.3 L1493.6 799.6 L1492.5 803.1 L1494.7 805.3 L1495.4 808.1 L1496.6 810.6 L1498.3 813 L1501.1 813.5 L1503.8 814.8 L1506.6 814.3 L1509.4 814.4 L1512.3 814.4 L1514.1 817 L1513 820 L1514.9 822.6 L1513.8 825.6 L1514.9 828.3 L1515 831.2 L1512.8 833 L1512 835.7 L1511.3 838.4 L1509.4 840.4 L1509 843.4 L1506.7 845.1 L1504 847.1 L1503.5 849.8 L1504.3 852.9 L1504 855.7 L1502.2 858 L1501.1 860.5 L1502 863.2 L1504.1 865.3 L1503.8 868.6 L1506.7 870.2 M1328.1 801.9 L1327.6 804.8 L1329 807.7 L1327.2 810.5 L1326 813.4 L1329.3 816.4 L1327.6 819.2 L1327.9 822.1 L1328.1 825 L1325.7 827.8 L1325.3 830.7 L1325.8 833.6 L1327.2 836.6 L1325.3 839.4 L1326.7 842.3 L1326.3 845.5 L1323.4 847 L1321.9 849.4 L1321.5 852.6 L1318.3 853.9 L1316.9 856.3 L1317.1 859.1 L1316.9 861.9 L1317.7 864.8 L1315.3 867.4 L1317.1 870.4 L1315.5 873 L1313.6 875.8 L1309.7 874.2 L1308 877.3 L1304.9 877.4 L1302.2 878.2 L1299.5 879.3 L1297.3 881.4 L1294.2 881.6 L1293.5 885.5 L1290.6 886.1 L1289 888.7 L1285.5 888.3 L1284.2 891.4 L1281.9 892.8 L1279.6 894.4 L1276.3 894.4 L1274.6 896.7 L1272.2 898.2 L1270.8 900.9 L1271.5 903.7 L1271.4 906.5 L1270.9 909.3 L1272 912.2 L1271.6 914.9 L1271.8 917.7 L1270.8 920.5 M1326.7 842.3 L1329.4 843.4 L1329.7 847.3 L1331.8 849.2 L1336.2 848.4 L1336.2 852.6 L1339.2 853.5 L1378.3 909.3 L1380 906.8 L1380.8 904 L1381.1 900.9 L1384.3 900.2 L1385.7 904.1 L1388.9 903.6 L1390.8 906.1 L1393.7 906.2 L1395.9 908 L1398.5 908.9 L1401.6 908.5 L1403.7 910.7 L1405.8 912.8 L1409 912.1 L1411.3 909.8 L1412.3 907 L1410.3 903.3 L1413.2 901.1 L1414.9 898.6 L1414.6 895.4 L1413.2 892.8 L1411.5 890.2 L1413.4 886.8 L1412 884.1 L1412.8 881 L1409.5 878.8 L1408.2 876.2 L1409.3 873 L1409.6 869.9 L1407.6 867.5 L1410.5 867.1 L1412.5 864.2 L1415.5 864.1 L1417.9 862.4 L1421 862.5 L1424.1 862.9 L1426.4 860.8 L1429.2 860.1 L1431.5 858.1 L1434.6 858.2 L1437.9 859 L1439.8 855.9 L1442.4 854.7 L1445.6 855.1 L1448.1 853.5 L1448.6 850 L1444.8 847.8 L1446.1 844.2 L1445.1 841.1 L1443.9 838.2 L1446.8 838.7 L1449.7 838.5 L1452.6 839.2 L1455.5 840 L1458.5 837.9 L1461.4 837.6 L1464.4 837.7 L1467.2 839.4 L1470.2 838.3 L1473.1 839.3 L1476 839.5 L1475.9 842.3 L1476.2 845.1 L1475.5 847.9 L1475.9 850.7 L1475.9 853.5 L1476 856.3 L1476.2 859.5 L1478.8 861.7 L1481.2 864 L1479.3 868.1 L1482.4 870 L1483.5 872.9 L1484.3 875.8 L1486.8 873.7 L1490 874.7 L1493 874.9 L1495.1 871.5 L1498.4 872.6 L1500.7 870 L1503.8 870.7 L1506.7 870.2 L1509.3 868.5 L1512.4 870.3 L1515.3 870.6 L1517.9 868.7 L1520.5 867.7 L1523.5 868.7 L1526.4 868.5 L1528.8 865.3 L1531.8 866.5 L1534.7 867 L1537.6 867.3 L1540 864.1 L1543.2 866.4 L1545.6 863.5 L1548.6 864.5 L1551.5 864.9 L1554.1 863.3 L1553.7 866.2 L1556.2 868.3 L1555.4 871.3 L1557.4 873.6 L1558.6 876.1 L1556.6 879.4 L1560.7 881.1 L1559.7 884.2 L1559.2 887.7 L1563.7 889.1 L1562 893.1 L1565.2 895 L1566.1 897.9 L1566.7 900.9 L1569.1 903.4 L1567.5 906.6 L1567.4 909.5 L1567.7 912.4 L1570.5 914.7 L1570 917.7 M1381.1 900.9 L1381.8 903.7 L1380.8 906.5 L1382 909.3 L1379.9 912.1 L1381.2 914.9 L1381.7 917.7 L1379.6 920.5 L1380 923.3 L1379.7 926.1 L1380.4 928.9 L1382.3 931.6 L1381.5 934.4 L1381.1 937.2 L1383.3 939.2 L1382.9 942.7 L1386.9 943.6 L1385.7 947.5 L1389.2 948.8 L1390.1 951.5 L1390.4 954.6 L1392.2 956.8 L1392.3 959.7 L1393.6 962.4 L1394.1 965.2 L1394.7 968 L1395.4 970.8 L1397.9 973.2 L1397.9 976.1 L1397.8 979.1 L1398.9 982.3 L1396.2 984.6 L1396.5 987.7 L1395 990.3 M1270.8 920.5 L1268.7 917.7 L1266.6 914.9 L1263.9 914.7 L1261.1 913.7 L1258.3 915.6 L1255.5 915.6 L1252.7 914.2 L1249.9 915 L1247.1 914.9 L1244.1 914 L1241.4 912.4 L1238.5 911.3 L1235.4 910.5 L1233.4 907.5 L1230.4 906.5 L1227.8 904.7 L1224.9 905.1 L1222.1 905 L1219.1 905.7 L1216.4 905 L1213.5 905.8 L1210.9 903.2 L1208 903.7 L1208.1 900.7 L1208.9 897.9 L1212.2 895.9 L1210.6 892.4 L1213.8 890.3 L1213.3 887.1 L1213.6 884.2 L1211.3 881.9 L1208.3 881 L1204.7 881.1 L1202.5 878.6 M1270.8 920.5 L1202.5 962.3 L1202.6 958.3 L1199.7 955.4 L1197.9 958 L1193.8 957 L1192.9 960.9 L1190 961.8 L1186.6 962 L1185.3 965.3 L1182.6 966.3 L1180.1 967.9 L1183 969.5 L1182.5 973.7 L1185.7 974.9 L1182.4 974.9 L1181.7 979 L1179.5 980.6 L1176.5 981 L1174 982.4 L1171.2 983.1 L1169.8 986 L1166.9 986.7 L1165.5 989.6 L1163 990.9 L1161 992.9 L1157.8 993.1 L1156.3 990.7 L1154.6 988.4 L1153.1 986.1 L1152.4 983.1 L1149.4 981.9 L1146.8 983.4 L1144 984.1 L1141.1 984.5 L1137.8 983.6 L1135.5 986.1 L1134.1 982.7 L1134.1 979.1 L1131 979.5 L1128.1 978.6 L1125.2 977.2 L1122 978.3 L1119 978.3 L1116.3 975.8 L1113.1 976.3 L1112 973.4 L1110.4 970.7 L1112.8 969.6 L1114.1 966.3 L1117.3 966.5 L1116.6 963.5 L1116.2 960.5 L1117.4 957.5 L1119.7 954.7 L1120.2 951.7 L1119.8 948.7 L1118.7 945.6 L1115.7 944.7 L1113.3 942.6 L1111 940.1 L1107.6 940 L1107.9 936.6 L1109.1 933.4 L1110.4 930.3 M1249.9 937.2 L1252.7 937.3 L1255.6 937 L1258.1 939.6 L1261.1 938.3 L1263.9 938.6 L1266.6 940.1 L1265.8 943.8 L1269.4 944.8 L1270.4 947.3 L1272.2 949.4 L1272.2 952.6 L1274.9 953.9 L1277.4 955.5 L1280.5 955.5 L1283.7 954.9 L1286.2 956.8 L1282.5 958.6 L1280.6 962.3 L1280.7 966.4 L1283.4 969.3 L1280.8 970.7 L1277.8 970.7 L1280.6 971.9 L1281.8 974.9 L1283.3 977.7 L1285.6 979.4 L1287.9 981.1 L1290.5 982.5 L1293.9 983 L1295.2 985.9 L1297.9 987.3 L1299.6 989.7 L1302.1 991.2 L1304.3 993.1 L1307.2 991.8 L1310.3 994.3 L1313.1 990.8 L1316.1 991.8 L1319 991.6 L1322.1 993.9 L1324.9 990.5 L1327.9 992.1 L1330.8 991.7 L1331.3 994.9 L1334 996.4 L1334.8 999.4 L1338.1 1000.5 L1339.8 1002.8 L1341.7 1005 L1343.4 1007.2 L1344.8 1009.8 L1346.3 1012.2 L1348.2 1014.4 L1345.9 1018.1 L1347.7 1020.3 L1348.8 1022.8 L1350.4 1025.1 L1351.9 1027.4 L1354.5 1028.9 L1356 1031.1 L1355.3 1035 L1357.4 1036.8 L1360.1 1038.2 L1361.5 1040.5 L1364 1042.3 L1366.6 1044 L1369.9 1043.3 M1304.3 993.1 L1304.4 995.8 L1303.8 998.6 L1304.7 1001.4 L1302.7 1004.2 L1306.2 1007 L1302.5 1009.8 L1303.6 1012.6 L1303.2 1015.4 L1304.3 1018.2 L1300.6 1017.7 L1297.3 1019.6 L1298.5 1022.4 L1296.1 1025.1 L1296.8 1027.9 L1297.3 1030.7 L1294.7 1032.3 L1291.6 1029.9 L1289 1031.8 L1286.1 1031 L1283.6 1033.7 L1280.5 1031.7 L1278 1034.6 L1275.2 1034.6 L1272.4 1034.7 L1269.4 1033.5 L1268.7 1036.9 L1265.2 1037.7 L1264.2 1040.8 L1262.3 1043.1 L1258.6 1043.7 L1256.7 1046 L1255.5 1048.9 L1252.6 1048.3 L1249.6 1048 L1247.1 1046.1 L1244.4 1044.8 L1241.6 1045.1 L1238.7 1045.4 L1235.8 1045.3 L1233.1 1044.7 L1230.4 1043.8 L1227.4 1044.6 L1224.5 1044.9 L1222 1042.7 L1219.1 1043.3 L1216.2 1043.5 L1213.5 1042.3 L1210.9 1040.4 L1208.2 1039.4 L1205 1042 L1202.6 1038.7 L1199.6 1040.2 L1196.9 1039.1 L1199.1 1036.7 L1200.1 1034 L1198.9 1030.5 L1201.1 1028.1 L1201.8 1025.2 L1202.5 1022.4 L1199.5 1022.9 L1197.2 1019.7 L1194.2 1020.4 L1191.6 1018.8 L1188.3 1021.3 L1185.6 1020.5 L1183.2 1017.5 L1180 1019.4 L1177.3 1018.6 L1174.4 1018.6 L1172 1016 L1169 1016.8 L1168.4 1013.9 L1168 1011.1 L1168.2 1008.3 L1171.5 1005.7 L1168.4 1002.7 L1170.4 1000 L1167.2 999.7 L1165 997.8 L1162.9 995.6 L1160.9 993.3 L1157.8 993.1 M1169 1016.8 L1166.2 1021 L1163.4 1021.8 L1160.8 1022.9 L1157.5 1021.4 L1155.1 1023.4 L1152.2 1023.8 L1151.6 1027 L1151.1 1030.2 L1150.8 1033.5 L1147.3 1034.1 L1143.8 1033.5 L1142.7 1030.9 L1141.8 1028 L1137.6 1027.5 L1137.5 1024.1 L1135 1022.4 L1134.1 1019.6 L1130.7 1019.9 L1127.4 1021 L1124.3 1022.4 L1121.4 1020.3 L1120.2 1017.4 L1120.1 1014 L1119.2 1017 L1117.1 1019.8 L1116.5 1022.9 L1115.6 1025.9 L1115.9 1029.3 L1113.7 1031.8 L1110.6 1032.2 L1107.5 1032.6 L1105 1034.5 L1102.4 1036.1 L1099.2 1036.3 M1196.9 1039.1 L1197 1042.4 L1194.5 1044.2 L1193.8 1047.1 L1191.8 1049.2 L1191.2 1052.1 L1187.8 1053.5 L1187.6 1056.6 L1185.6 1058.8 L1183.7 1061 L1183.9 1064.2 L1182.7 1066.8 L1182.5 1069.9 L1179 1071.3 L1180.1 1075 L1177.3 1076.8 L1176.2 1079.4 L1175.3 1082.2 L1172 1083.4 L1171.3 1086.4 L1169.6 1088.6 L1168 1091 L1165.5 1092.7 L1163.5 1094.8 L1163.9 1098.4 L1162 1100.5 L1164.8 1102.4 L1167.9 1102.2 L1170.9 1102.6 L1173.8 1104.2 L1177.3 1101.7 L1180.1 1103.3 L1181.3 1105.8 L1181.2 1108.6 L1182.4 1111.1 L1182.9 1113.8 L1183.8 1116.4 L1181.6 1119.6 L1181.9 1122.3 L1182.8 1124.9 L1183.6 1127.5 L1185.6 1129.9 L1185.7 1132.6 L1185.6 1135.6 L1184.5 1138.3 L1185.1 1141.5 L1183.9 1144.2 L1181.8 1146.6 L1181.2 1149.4 L1180.1 1152.1 L1177.8 1154.6 L1176.2 1157.6 L1174.5 1160.5 M1247.1 1046.1 L1249.3 1048.3 L1247.4 1051.6 L1247.3 1054.4 L1250.1 1056.5 L1248.8 1059.6 L1251.3 1061.8 L1251.3 1064.6 L1250.8 1067.5 L1254.1 1069.4 L1255.4 1071.9 L1255.5 1074.7 L1256.7 1077.2 L1255.9 1080.2 L1257.7 1082.5 L1258.5 1085.1 L1258.3 1087.9 L1258.3 1090.7 M1035 1065.6 L1037.4 1067.8 L1039.8 1069.9 L1043 1070.6 L1046.2 1071.2 L1045.6 1074.5 L1049.4 1076.3 L1049 1079.6 L1051.6 1081.2 L1054.7 1082.1 L1057.7 1083 L1059.5 1086.4 L1062.9 1086.5 L1065.9 1085.2 L1069.6 1086.9 L1072.2 1083.9 L1075.5 1083.8 L1076.9 1086.3 L1077.7 1089.2 L1079.3 1091.7 L1083.2 1092.6 L1082.6 1096.4 L1086.1 1097.6 L1087 1100.5 L1088 1103.3 L1089.3 1106.5 L1087.1 1109.4 L1088.3 1112.6 L1088.1 1115.7 L1086.6 1118.6 L1085.6 1121.4 L1085 1124.3 L1083.8 1127 L1085.8 1125 L1087.5 1122.9 L1089.9 1121.2 L1092.2 1119.6 L1094.3 1117.7 L1095 1114.7 L1096.9 1112.7 L1098.6 1110.5 L1099.7 1107.8 L1102 1106.1 M1474.6 493.1 L1477.1 492.4 L1479.8 492.7 L1482.3 492.2 L1484.2 489 L1487.1 490.3 L1490.5 488.8 L1492.3 491.5 L1495 492 L1496.5 495.5 L1499.2 495.8 L1501.8 496.3 L1504.4 497.1 L1506.7 498.5 L1509.5 498.6 L1510.9 495.9 L1513.8 496.1 L1515.4 493.7 L1519.3 496.1 L1519.6 491 L1523.6 493.4 L1524.1 488.8 L1527.8 490.6 L1529.2 487.8 L1531.8 487.5 L1534.4 488.9 L1535.3 492.6 L1538.8 493.1 L1536.3 490.6 L1536.5 488.2 L1540.9 485.7 L1538.8 483.3 L1541.2 483.9 L1544 482.3 L1545.4 487.4 L1547.9 487.7 L1551.2 484 L1553.3 486.1 L1556 485.2 L1558.2 486.6 L1560.3 488.7 L1563.2 486.9 L1565 490.2 L1568.1 487.4 L1570 490.3 M1453.6 596.3 L1456.3 596.9 L1456.7 600.2 L1458.6 601.7 L1459.9 603.9 L1464 602.8 L1465.7 604.5 L1467.8 605.8 L1469.4 607.6 L1470.4 610.3 L1473.2 610.8 L1474.9 607.2 L1477.9 608.6 L1480 606.3 L1482.5 606.1 L1485.2 606.2 L1488.2 607.6 L1490.4 605.9 L1492.7 604.7 L1496.2 604 L1497.6 606.5 L1500 607.3 L1500 611.9 L1502.3 613 L1504.4 614.4 L1506.4 615.9 L1509.5 615.9 L1511.8 617.4 L1514.1 618.8 L1516.7 618.3 L1519.5 615.8 L1521.6 619.2 L1524.4 617.6 L1526.7 619.3 L1529.3 618.7 L1531.8 618.6 L1534.1 617.9 L1536.5 617.2 L1538.9 617.2 L1541.2 616.3 L1543.5 614.9 L1546.4 618.2 L1548.7 617.7 L1551.3 618.4 L1553.4 616.5 L1555.7 615.4 L1558.3 616.1 L1560.2 612.6 L1563 615 L1565.2 613.5 L1567.4 611.7 L1570 613.1"/>
<path class="lg" d="M1502.5 221.8 C1500.9 223.7 1495.3 228.7 1492.7 233.5 C1490.2 238.2 1487.1 243.7 1487.1 250.2 C1487.1 256.7 1492.3 264.7 1492.7 272.6 C1493.2 280.5 1490.4 293.5 1489.9 297.7 M728.9 940 C732.6 938.2 744.7 931.9 751.2 928.9 C757.7 925.8 762.3 922.8 767.9 921.9 C773.5 921 778.2 919.8 784.7 923.3 C791.2 926.8 800 938.2 807 942.8 C814 947.5 820.5 952.3 826.5 951.2 C832.6 950 836.3 940.3 843.3 935.8 C850.3 931.4 860.5 923 868.4 924.7 C876.3 926.3 884.2 938.4 890.7 945.6 C897.2 952.8 901 962.6 907.5 967.9 C914 973.3 923.3 977.7 929.8 977.7 C936.3 977.7 941.9 973.3 946.6 967.9 C951.2 962.6 954.9 954.9 957.7 945.6 C960.5 936.3 957.7 920.5 963.3 912.1 C968.9 903.7 981.9 900.7 991.2 895.4 C1000.5 890 1011.8 882.3 1019.1 880 C1026.4 877.7 1032.4 881.2 1035 881.4"/>
<path class="o" d="M1567.8 294.9 L1482.9 296.3 L1474.6 515.4 L1567.8 543.3"/>
<path class="lg" style="stroke-width:4.5" d="M387.6 498.6 C389.2 499.9 393.7 503.9 396.7 506.5 C399.8 509.1 406.2 512.2 406 514.3 C405.8 516.4 398.5 516.7 395.4 518.9 C392.4 521.1 388.7 524.2 387.6 527.4 C386.6 530.5 388.9 534.3 389.1 537.8 C389.3 541.3 390.6 545.2 388.9 548.3 C387.3 551.5 382.1 553.7 379 556.8 C376 559.8 371.8 562.8 370.6 566.7 C369.4 570.5 370 575.4 371.9 579.8 C373.9 584.1 383.3 589.6 382.4 592.9 C381.5 596.1 368.2 596.4 366.7 599.4 C365.2 602.5 372.8 607.1 373.2 611.2 C373.7 615.4 369.4 620.2 369.3 624.3 C369.2 628.4 370.8 632.3 372.6 635.8 C374.3 639.3 379 641.1 379.8 645.3 C380.5 649.5 380.7 658.1 377.2 661 C373.7 663.8 361.2 660.3 358.8 662.3 C356.5 664.3 362.4 669.3 363.1 673 C363.7 676.7 364.8 680 362.8 684.5 C360.7 689 352.9 697.4 351 700 M1570 308.8 C1567.8 308.1 1560 303.3 1556.9 304.7 C1553.8 306.1 1554.1 313.3 1551.3 317.2 C1548.5 321.2 1541.8 325.1 1540.2 328.4 C1538.5 331.6 1542.5 337.7 1541.6 336.8 C1540.6 335.8 1538.1 327.2 1534.6 322.8 C1531.1 318.4 1524.8 312.6 1520.6 310.2 C1516.4 307.9 1513.2 309.3 1509.5 308.8 C1505.7 308.4 1500.6 307 1498.3 307.5 C1496 307.9 1496.4 308.6 1495.5 311.6 C1494.6 314.7 1495.5 323.7 1492.7 325.6 C1489.9 327.5 1482.3 321.9 1478.8 322.8 C1475.3 323.7 1472.3 328.2 1471.8 331.2 C1471.3 334.2 1474.8 337.5 1475.9 340.7 C1477.1 344 1477.8 346.7 1478.8 350.7 C1479.7 354.7 1479.8 361.2 1481.6 364.7 C1483.3 368.2 1487.3 368.9 1489.2 371.7 C1491 374.5 1492.4 377.8 1492.7 381.4 C1493 385 1492 389.4 1490.8 393.1 C1489.7 396.8 1487.3 400.1 1485.7 403.7 C1484.2 407.4 1481.6 410.7 1481.6 414.9 C1481.6 419.1 1487.6 425.6 1485.7 428.9 C1483.9 432.1 1474.1 432.1 1470.4 434.4 C1466.7 436.8 1463.4 438.6 1463.4 442.8 C1463.4 447 1468.5 454 1470.4 459.6 C1472.2 465.1 1475.5 471.2 1474.6 476.3 C1473.6 481.4 1465.5 485.8 1464.8 490.3 C1464.1 494.7 1467.6 499.6 1470.4 502.8 C1473.2 506.1 1481.6 506.8 1481.6 509.8 C1481.6 512.8 1473.9 517.2 1470.4 521 C1466.9 524.7 1460.6 528.6 1460.6 532.1 C1460.6 535.6 1469.5 538.2 1470.4 541.9 C1471.3 545.6 1468.5 550 1466.2 554.5 C1463.9 558.9 1458.8 563.3 1456.4 568.4 C1454.1 573.5 1454.2 580.7 1452.2 585.2 C1450.3 589.6 1447.4 591.9 1444.8 595.1 C1442.3 598.4 1440.3 600.8 1436.9 604.7 C1433.5 608.6 1427.1 614.2 1424.3 618.6 C1421.5 623.1 1419.5 627 1420.2 631.2 C1420.8 635.4 1428.1 640.1 1428.5 643.8 C1429 647.4 1424.4 649.7 1423 652.9 C1421.6 656.2 1422 660.2 1420.2 663.3 C1418.3 666.4 1414.6 671.7 1411.8 671.7 C1409 671.7 1407.6 664.2 1403.4 663.3 C1399.2 662.4 1391.1 664.2 1386.7 666.1 C1382.2 668 1378.5 670.9 1376.9 674.5 C1375.3 678 1377.2 683 1377.2 687.3 C1377.2 691.6 1376.9 698 1376.9 700.1 M357.2 700 C356.3 701.6 355.4 707 351.7 709.8 C347.9 712.6 336.5 713.3 334.9 716.7 C333.3 720.2 343.5 727.2 341.9 730.7 C340.3 734.2 329.9 735.5 325.1 737.7 C320.4 739.9 317.5 741.9 313.6 743.8 C309.6 745.7 305.4 747.1 301.6 749.1 C297.7 751.1 291.2 751.9 290.3 755.8 C289.3 759.7 296.2 768.6 295.8 772.6 C295.5 776.5 291.2 777.6 288.4 779.5 C285.6 781.3 279.5 780.7 279.1 783.7 C278.7 786.8 287.9 795.6 286.1 797.7 C284.2 799.8 270.3 794.8 267.9 796.3 C265.6 797.7 271.4 802.9 272.1 806.3 C272.8 809.8 274.3 814.8 272.1 817.2 C269.9 819.7 263.5 820 259.1 821 C254.6 821.9 249.3 820.2 245.6 822.8 C241.9 825.4 237.1 832.1 236.7 836.8 C236.2 841.4 239.2 846.5 242.8 850.7 C246.4 854.9 256.1 856.8 258.2 861.9 C260.3 867 256.5 876.3 255.4 881.4 C254.2 886.5 251.9 890.7 251.2 892.6 M251.2 892.6 C249.5 894 244.9 898.9 241.2 901 C237.5 903.1 232.7 903.6 228.9 905.1 C225 906.6 221.9 908.9 218.1 910 C214.4 911.2 210.8 909.4 206.5 912.1 C202.3 914.8 196.2 922.5 192.6 926.1 C188.9 929.6 186.8 930.7 184.5 933.5 C182.2 936.3 180.9 938.9 178.6 942.8 C176.3 946.7 171.5 951.7 170.8 956.8 C170.1 961.9 174.4 968.4 174.4 973.5 C174.4 978.6 169.2 983.3 170.8 987.5 C172.4 991.7 180.6 994.4 184.2 998.6 C187.8 1002.8 191 1008.2 192.6 1012.6 C194.2 1016.9 193.9 1020.6 193.8 1024.7 C193.7 1028.7 191.7 1032.9 191.9 1037 C192.2 1041 195.7 1045.1 195.4 1048.9 C195 1052.6 190.5 1055.5 189.7 1059.3 C188.8 1063.1 190.9 1067.8 190.2 1071.6 C189.5 1075.4 186.2 1078.2 185.6 1082.4 C185 1086.5 186 1092 186.9 1096.6 C187.8 1101.3 191.1 1106.3 191.2 1110.3 C191.2 1114.3 188.9 1117.3 187.3 1120.5 C185.6 1123.8 182.2 1126.4 181.4 1129.8 C180.7 1133.2 184 1137.6 182.8 1141 C181.6 1144.3 177.2 1147 174.2 1149.8 C171.1 1152.6 167.9 1154.1 164.7 1157.7 C161.5 1161.4 159.1 1169.1 154.9 1171.7 C150.7 1174.2 145.4 1173.5 139.5 1173.1 C133.7 1172.6 124.4 1166.8 120 1168.9 C115.6 1171 113.7 1181.4 113 1185.6 C112.3 1189.8 116.8 1190.7 115.8 1194 C114.9 1197.3 108.4 1201.3 107.5 1205.2 C106.5 1209.1 109.5 1213.3 109.9 1217.5 C110.4 1221.6 110.2 1227.9 110.2 1230 M542.7 222.1 C545.1 223.1 552.9 225.6 556.9 228.4 C560.8 231.1 564 234.8 566.3 238.6 C568.7 242.4 570.9 247.2 571 251.1 C571.2 255.1 568.1 259 567.1 262.1 C566 265.3 564.6 267.1 564.7 270 C564.9 272.9 568.1 276.6 567.9 279.4 C567.6 282.3 564.6 285.5 563.2 287.3 C561.7 289.1 560.5 287.8 559.2 290.4 C557.9 293.1 556.7 300.5 555.3 303 C553.9 305.5 552.7 306.4 550.6 305.4 C548.5 304.3 545.1 297.6 542.7 296.7 C540.4 295.8 537.5 296.7 536.4 299.9 C535.4 303 537.2 312.3 536.4 315.6 C535.7 318.9 534.1 319.5 531.7 319.5 C529.4 319.5 525.7 315.5 522.3 315.6 C518.9 315.7 514.1 317.7 511.3 320.3 C508.6 322.9 506.1 328.9 505.8 331.3 C505.5 333.7 507.5 333.7 509.7 334.4 C512 335.2 517.6 334.7 519.2 336 C520.7 337.3 520.2 340.5 519.2 342.3 C518.1 344.1 515.5 344.9 512.9 347 C510.3 349.1 506.3 353.6 503.4 354.9 C500.6 356.2 497.9 355.4 495.6 354.9 C493.2 354.3 490.1 350.7 489.3 351.7 C488.5 352.8 489.6 358.3 490.9 361.2 C492.2 364 495.8 366.4 497.2 369 C498.5 371.6 499.5 374.5 498.7 376.9 C497.9 379.2 495.3 381.6 492.4 383.2 C489.6 384.7 484.1 384.7 481.4 386.3 C478.8 387.9 477 390.5 476.7 392.6 C476.5 394.7 478.3 397 479.9 398.9 C481.4 400.7 485.4 401.8 486.2 403.6 C486.9 405.4 486.4 408.4 484.6 409.9 C482.8 411.3 477.6 410.9 475.2 412.2 C472.7 413.5 470.8 415.8 469.7 417.7 C468.5 419.7 466.9 421.9 468.1 424 C469.3 426.1 474.5 427.9 476.7 430.3 C479 432.7 480.8 436.2 481.4 438.2 C482.1 440.1 482.5 441.3 480.7 442.1 C478.8 442.9 473.7 441.8 470.4 442.9 C467.2 443.9 463.9 446 461 448.4 C458.1 450.7 456.6 454.3 453.2 457 C449.7 459.8 445 462.5 440.6 464.9 C436.1 467.2 431.4 468.8 426.4 471.2 C421.5 473.5 414.7 476.4 410.7 479 C406.8 481.6 404.7 484 402.9 486.9 C401 489.8 400.5 494 399.7 496.3 C398.9 498.7 400 500.5 398.1 501 C396.3 501.6 390.3 499.7 388.7 499.5 M740 940 C741.9 938.6 747 934.4 751.2 931.6 C755.4 928.9 760 924.7 765.1 923.3 C770.3 921.9 776.8 921.4 781.9 923.3 C787 925.1 791.2 930.7 795.8 934.4 C800.5 938.2 805.1 942.8 809.8 945.6 C814.4 948.4 820 950.7 823.8 951.2 C827.5 951.7 830.5 950.7 832.1 948.4 C833.8 946.1 831.7 939.8 833.5 937.2 C835.4 934.7 839.3 934 843.3 933 C847.2 932.1 853.1 932.8 857.2 931.6 C861.4 930.5 864.2 926.1 868.4 926.1 C872.6 926.1 878.6 928.9 882.4 931.6 C886.1 934.4 887.9 938.2 890.7 942.8 C893.5 947.5 895.9 954.4 899.1 959.6 C902.4 964.7 906.1 969.8 910.3 973.5 C914.5 977.2 919.6 981 924.2 981.9 C928.9 982.8 934.9 981.4 938.2 979.1 C941.4 976.8 942.4 971.7 943.8 967.9 C945.2 964.2 944.2 960 946.6 956.8 C948.9 953.5 955.2 951.7 957.7 948.4 C960.3 945.1 961.2 941.4 961.9 937.2 C962.6 933 960.3 927.5 961.9 923.3 C963.5 919.1 967.3 915.4 971.7 912.1 C976.1 908.9 983.3 907 988.4 903.7 C993.5 900.5 997.3 895.8 1002.4 892.6 C1007.5 889.3 1013.7 885.8 1019.1 884.2 C1024.6 882.6 1032.4 883 1035 882.8 M762.3 956.8 C764.7 958.2 773.5 962.3 776.3 965.1 C779.1 967.9 778.6 972.1 779.1 973.5 M832.1 948.4 C831.7 951.2 831.2 960.5 829.3 965.1 C827.5 969.8 822.4 974.4 821 976.3 M1376.9 700 C1375.7 701.2 1373 706.1 1369.9 707 C1366.9 707.9 1362.3 705.2 1358.6 705.4 C1354.9 705.6 1350.9 707 1347.6 708.4 C1344.3 709.7 1341.6 711.5 1338.8 713.4 C1336 715.2 1334.5 716.6 1330.8 719.5 C1327.2 722.4 1319.9 726.5 1316.9 730.7 C1313.9 734.9 1312 740.7 1312.7 744.7 C1313.4 748.6 1320.8 750.9 1321.1 754.4 C1321.3 757.9 1318 763.3 1314.1 765.6 C1310.1 767.9 1302.9 769.3 1297.3 768.4 C1291.8 767.4 1286.2 760.9 1280.6 760 C1275 759.1 1268.4 761.5 1263.9 762.8 C1259.3 764 1256.9 766.6 1253.2 767.5 C1249.4 768.4 1245.8 766.4 1241.5 768.4 C1237.3 770.4 1231.3 775.1 1227.6 779.5 C1223.9 784 1220.8 789.3 1219.2 794.9 C1217.6 800.5 1220.1 809.8 1217.8 813 C1215.5 816.3 1209.9 814.4 1205.2 814.4 C1200.6 814.4 1193.4 811.2 1189.9 813 C1186.4 814.9 1185 821.6 1184.3 825.6 C1183.6 829.5 1187.8 834.7 1185.7 836.8 C1183.6 838.9 1174.5 836.3 1171.8 838.2 C1169 840 1167.6 844.4 1169 847.9 C1170.4 851.4 1177.8 855.4 1180.1 859.1 C1182.5 862.8 1183.9 866.5 1182.9 870.2 C1182 874 1176.4 877.7 1174.5 881.4 C1172.7 885.1 1174.5 888.9 1171.8 892.6 C1169 896.3 1162.5 900.5 1157.8 903.7 C1153.2 907 1147.6 908.9 1143.8 912.1 C1140.1 915.4 1138.7 920.5 1135.5 923.3 C1132.2 926.1 1128.5 928.9 1124.3 928.9 C1120.1 928.9 1115 926.1 1110.4 923.3 C1105.7 920.5 1100.6 915.8 1096.4 912.1 C1092.2 908.4 1088.5 904.2 1085.2 900.9 C1082 897.7 1080.6 894 1076.9 892.6 C1073.1 891.2 1067.6 893 1062.9 892.6 C1058.3 892.1 1053.6 891.4 1049 889.8 C1044.3 888.2 1037.3 884 1035 882.8 M1035 892.6 C1035.9 894 1040.1 896.3 1040.6 900.9 C1041 905.6 1038 915.3 1037.8 920.5 C1037.6 925.7 1038.4 928.2 1039.3 932 C1040.2 935.7 1041.4 939.5 1043.4 942.8 C1045.3 946.2 1048.6 948.9 1051 952.1 C1053.3 955.4 1055.3 958.7 1057.3 962.3 C1059.3 966 1060.8 970.3 1063.1 974 C1065.4 977.6 1068.7 980.7 1071 984.3 C1073.3 988 1075.2 992.2 1076.9 995.8 C1078.5 999.4 1079 1002.8 1080.8 1005.9 C1082.6 1009 1085.7 1011.4 1087.6 1014.5 C1089.5 1017.5 1090.6 1021 1092.3 1024.1 C1094 1027.3 1096.1 1030.2 1097.8 1033.4 C1099.4 1036.6 1101.7 1038.8 1102 1043.3 C1102.2 1047.7 1099.1 1055.6 1099.2 1060 C1099.2 1064.5 1101.6 1066.7 1102.3 1070.1 C1102.9 1073.5 1103 1076.9 1103 1080.3 C1102.9 1083.8 1101.4 1087.4 1102 1090.7 C1102.5 1094.1 1104.8 1097.2 1106.2 1100.5 C1107.6 1103.8 1108.5 1106.9 1110.4 1110.3 C1112.2 1113.6 1115.2 1117.2 1117.3 1120.7 C1119.5 1124.3 1121.8 1127.8 1123.4 1131.7 C1125 1135.5 1124.9 1140.2 1127.1 1143.8 C1129.3 1147.3 1133.1 1149.9 1136.4 1152.7 C1139.6 1155.5 1143.2 1158.2 1146.6 1160.5 C1150.1 1162.9 1153.6 1164.5 1156.8 1166.9 C1160.1 1169.2 1164.6 1173.2 1166.2 1174.5 M1570 928.9 C1568.3 927.9 1561.6 922.5 1559.7 923.3 C1557.8 924.1 1559.7 930.3 1558.8 933.6 C1557.9 936.8 1556.1 942.9 1554.1 942.8 C1552.2 942.7 1549.8 936 1547 933.2 C1544.2 930.4 1541.8 926.3 1537.4 926.1 C1533 925.8 1523 928.9 1520.6 931.6 C1518.3 934.4 1524.4 939.6 1523.4 942.8 C1522.5 946 1518.2 948.8 1514.9 950.6 C1511.7 952.5 1507.1 954.6 1503.9 954 C1500.7 953.3 1498.6 948.9 1495.8 946.6 C1493 944.3 1490.4 939.3 1487.1 940 C1483.8 940.8 1478.8 946.5 1476 951.2 C1473.2 955.8 1472.6 966.2 1470.4 967.9 C1468.1 969.7 1465.3 963.5 1462.5 961.6 C1459.7 959.7 1455.1 954.3 1453.6 956.8 C1452.2 959.2 1455.5 972.5 1453.6 976.3 C1451.8 980.1 1446.4 978.9 1442.7 979.4 C1439 979.9 1435.1 981 1431.3 979.1 C1427.6 977.2 1423.4 970.3 1420.2 967.9 C1416.9 965.6 1414.6 962.8 1411.8 965.1 C1409 967.5 1405.3 977.7 1403.4 981.9 C1401.5 986.1 1403.4 987.9 1400.6 990.3 C1397.8 992.6 1389.5 991.7 1386.7 995.8 C1383.9 1000 1384.6 1009.3 1383.9 1015.4 C1383.2 1021.4 1384.8 1027.5 1382.5 1032.1 C1380.1 1036.8 1374.8 1040 1369.9 1043.3 C1365 1046.5 1358.3 1051.2 1353.2 1051.7 C1348.1 1052.1 1343.4 1046.1 1339.2 1046.1 C1335 1046.1 1328.7 1049.5 1328.1 1051.7 C1327.4 1053.8 1332.6 1056.9 1335.4 1058.8 C1338.2 1060.6 1342.8 1060.8 1344.8 1062.8 C1346.8 1064.9 1348.7 1070.5 1347.6 1071.2 C1346.5 1071.9 1341.5 1067.8 1338.3 1066.8 C1335 1065.9 1331 1064.4 1328.1 1065.6 C1325.1 1066.9 1323 1071.3 1320.6 1074.3 C1318.3 1077.4 1317 1083.8 1314.1 1083.8 C1311.1 1083.7 1306.7 1075.4 1302.9 1074 C1299.2 1072.6 1295.5 1073.1 1291.8 1075.4 C1288 1077.7 1284.3 1084.5 1280.6 1087.9 C1276.9 1091.4 1273.6 1095.9 1269.4 1096.3 C1265.3 1096.8 1258.1 1090 1255.5 1090.7 C1252.9 1091.5 1254.7 1097.5 1253.8 1100.8 C1252.8 1104.1 1252.4 1107.8 1249.9 1110.3 C1247.4 1112.8 1241.1 1112.6 1238.7 1115.9 C1236.4 1119.1 1237.8 1125.2 1235.9 1129.8 C1234.1 1134.5 1230.8 1140 1227.6 1143.8 C1224.3 1147.5 1220.6 1151.2 1216.4 1152.1 C1212.2 1153.1 1206.6 1147.5 1202.5 1149.3 C1198.3 1151.2 1194.1 1159.1 1191.3 1163.3 C1188.5 1167.5 1189 1174.9 1185.7 1174.5 C1182.5 1174 1175 1160.5 1171.8 1160.5 C1168.5 1160.5 1168.5 1171.2 1166.2 1174.5 C1163.8 1177.7 1160.6 1178.2 1157.8 1180 C1155 1181.9 1152 1183.5 1149.2 1185.3 C1146.4 1187.2 1144.2 1189.9 1141.1 1191.2 C1137.9 1192.5 1133.6 1191.8 1130.3 1193.2 C1127.1 1194.6 1123.9 1197.1 1121.5 1199.6 C1119.1 1202 1115 1204.7 1115.9 1208 C1116.9 1211.2 1123.5 1216.6 1127.1 1219.1 C1130.7 1221.7 1134.4 1221.4 1137.6 1223.2 C1140.9 1225 1145.1 1228.9 1146.6 1230 M107.9 1230 C108.4 1231.4 109.1 1235.6 110.7 1238.4 C112.3 1241.2 116.8 1242.1 117.7 1246.8 C118.6 1251.5 116.8 1261.8 116.3 1266.4 C115.8 1271.1 113.7 1272 114.9 1274.8 C116.1 1277.6 121.2 1280.2 123.3 1283.3 C125.4 1286.3 127.5 1290 127.5 1293.1 C127.5 1296.1 125.4 1298.4 123.3 1301.5 C121.2 1304.5 117 1307.3 114.9 1311.3 C112.8 1315.2 111.4 1320.6 110.7 1325.3 C110 1330 109.3 1335.1 110.7 1339.3 C112.1 1343.5 118.9 1345.8 119.1 1350.5 C119.3 1355.2 114.7 1362.2 112.1 1367.3 C109.5 1372.5 106.5 1376.7 103.7 1381.3 C100.9 1386 97 1390.9 95.3 1395.4 C93.6 1399.8 93.4 1403.9 93.7 1408.1 C93.9 1412.3 96.9 1416.9 96.7 1420.6 C96.4 1424.2 93.3 1426.7 92.1 1430 C90.9 1433.3 91.5 1435.7 89.7 1440.2 C87.9 1444.7 82.7 1452.3 81.3 1457 C79.9 1461.7 80.6 1465 81.3 1468.2 C82 1471.5 86.4 1472.9 85.5 1476.6 C84.5 1480.4 79.6 1486.4 75.7 1490.7 C71.7 1494.9 66.8 1499.5 61.7 1501.9 C56.5 1504.2 49 1502.8 44.8 1504.7 C40.6 1506.5 39.2 1508.9 36.4 1513.1 C33.6 1517.3 29.9 1524.7 28 1529.9 C26.2 1535 26.4 1541.1 25.2 1543.9 C24.1 1546.7 21.7 1546.2 21 1546.7 M1035 1328.1 C1032.7 1330 1025 1335.8 1021.3 1339.3 C1017.6 1342.8 1015.8 1345.9 1013 1349.2 C1010.2 1352.5 1006.9 1355.2 1004.5 1358.9 C1002 1362.6 1000.7 1367.4 998.4 1371.4 C996 1375.3 994.6 1380.6 990.5 1382.7 C986.3 1384.9 978.8 1382.7 973.7 1384.1 C968.5 1385.5 962.1 1387.5 959.6 1391.2 C957.2 1394.8 959.2 1401 958.9 1405.9 C958.7 1410.8 960 1415.8 958.2 1420.6 C956.5 1425.4 951.3 1431 948.4 1434.6 C945.6 1438.2 944.1 1440.2 941.3 1442.1 C938.5 1443.9 934.6 1443.3 931.6 1445.8 C928.6 1448.3 923.9 1452.8 923.2 1457 C922.5 1461.2 927.9 1465.9 927.4 1471 C926.9 1476.2 923.4 1484.3 920.4 1487.8 C917.4 1491.4 913.3 1491.2 909.6 1492.2 C905.8 1493.1 902.1 1492.9 898 1493.5 C893.8 1494 888.9 1494.2 884.7 1495.6 C880.5 1497 875.7 1499 872.8 1501.9 C869.8 1504.8 869.1 1509.7 867.2 1513.1 C865.2 1516.4 863.1 1519.2 860.8 1522 C858.5 1524.8 854.9 1525.8 853.1 1529.9 C851.4 1534 850.6 1542 850.3 1546.7 C850.1 1551.4 852.7 1554.7 851.7 1557.9 C850.8 1561.2 846.2 1563 844.7 1566.2 C843.2 1569.5 844.4 1574.1 843 1577.4 C841.6 1580.7 840.2 1583.6 836.3 1585.9 C832.4 1588.3 823.5 1588.7 819.5 1591.5 C815.5 1594.3 813.4 1599.5 812.5 1602.8 C811.6 1606 815.3 1608.4 813.9 1611.2 C812.5 1614 806.9 1616.3 804.1 1619.6 C801.3 1622.8 800 1628.2 797.1 1630.8 C794.1 1633.4 789.7 1633.1 786.5 1635 C783.2 1636.9 780.8 1638.5 777.5 1642 C774.1 1645.5 770 1651.8 766.3 1656 C762.5 1660.2 756.7 1663.5 755 1667.2 C753.4 1671 757.8 1675.6 756.4 1678.4 C755 1681.2 749.7 1680.8 746.6 1684 C743.6 1687.3 740.7 1694 738.2 1698 C735.7 1702.1 734.3 1705.4 731.5 1708.2 C728.7 1711 724.8 1713 721.4 1714.9 C718.1 1716.7 714.3 1717 711.5 1719.1 C708.7 1721.2 707.6 1725.6 704.6 1727.5 C701.6 1729.3 698.1 1729.6 693.4 1730.3 C688.7 1731 680.8 1730.4 676.6 1731.7 C672.3 1733 670.6 1735.9 667.8 1738.2 C665 1740.5 662.5 1742.1 659.8 1745.7 C657 1749.3 652.7 1757.4 651.3 1759.7 M1147.1 1230 C1147.6 1230.9 1150.1 1232.8 1149.9 1235.6 C1149.7 1238.4 1147.3 1243.2 1145.9 1246.9 C1144.5 1250.6 1142.9 1255 1141.5 1258 C1140.1 1261 1138.9 1266 1137.3 1265 C1135.7 1264.1 1133.8 1255.5 1131.7 1252.4 C1129.6 1249.4 1128.2 1248.1 1124.7 1246.8 C1121.2 1245.5 1115.2 1245.5 1110.6 1244.6 C1105.9 1243.6 1100.8 1241.3 1096.7 1241.2 C1092.5 1241.1 1088.5 1241.2 1085.4 1244 C1082.4 1246.8 1078.9 1252.9 1078.4 1258 C1078 1263.2 1082.4 1270.4 1082.6 1274.8 C1082.9 1279.3 1082 1282.8 1079.8 1284.7 C1077.7 1286.5 1073.1 1285.1 1069.8 1285.8 C1066.6 1286.5 1064.2 1287.4 1060.2 1288.9 C1056.3 1290.3 1049.2 1291.2 1046.2 1294.5 C1043.2 1297.7 1041.8 1304.3 1042 1308.5 C1042.2 1312.7 1047.4 1316.4 1047.6 1319.7 C1047.8 1323 1045.5 1326 1043.4 1328.1 C1041.3 1330.2 1036.4 1331.6 1035 1332.3"/>
<path class="w" d="M387.6 498.6 C389.2 499.8 394.2 503.3 397.2 505.9 C400.3 508.6 406.2 512 406 514.3 C405.8 516.6 399.2 517.8 396.2 519.9 C393.1 522.1 388.8 524.4 387.6 527.4 C386.5 530.4 389 534.3 389.2 537.8 C389.4 541.3 390.6 545.1 388.9 548.3 C387.3 551.6 382.5 554.1 379.4 557.2 C376.4 560.2 371.9 562.9 370.6 566.7 C369.4 570.5 370 575.4 371.9 579.8 C373.9 584.1 383.3 589.6 382.4 592.9 C381.5 596.1 368.2 596.4 366.7 599.4 C365.2 602.5 372.8 607.1 373.2 611.2 C373.7 615.4 368.9 620.5 369.3 624.3 C369.7 628.2 373.7 630.8 375.4 634.3 C377.2 637.8 379.5 640.8 379.8 645.3 C380.1 649.7 379.1 658.1 377.2 661 C375.2 663.8 371.1 662 368 662.2 C365 662.5 360.2 660.4 358.8 662.3 C357.4 664.2 359 669.9 359.6 673.6 C360.3 677.3 363.1 681.4 362.8 684.5 C362.4 687.7 359.4 690.1 357.4 692.7 C355.5 695.3 352 698.8 351 700 M1570 308.8 C1567.8 308.1 1560 303.3 1556.9 304.7 C1553.8 306.1 1554.1 313.3 1551.3 317.2 C1548.5 321.2 1541.8 325.1 1540.2 328.4 C1538.5 331.6 1542.5 337.7 1541.6 336.8 C1540.6 335.8 1536.9 326.2 1534.6 322.8 C1532.2 319.4 1529.9 318.7 1527.5 316.6 C1525.2 314.5 1523.6 311.5 1520.6 310.2 C1517.6 308.9 1513.2 309.3 1509.5 308.8 C1505.7 308.4 1500.6 307 1498.3 307.5 C1496 307.9 1496.4 308.6 1495.5 311.6 C1494.6 314.7 1495.5 323.7 1492.7 325.6 C1489.9 327.5 1482.3 321.9 1478.8 322.8 C1475.3 323.7 1472.4 328.1 1471.8 331.2 C1471.2 334.2 1474 337.7 1475.1 341 C1476.3 344.2 1477.7 346.8 1478.8 350.7 C1479.8 354.7 1480.3 360.9 1481.6 364.7 C1482.8 368.5 1484.4 370.8 1486.3 373.6 C1488.1 376.4 1492.2 378.2 1492.7 381.4 C1493.2 384.6 1490.5 388.9 1489.3 392.6 C1488.1 396.3 1487 400 1485.7 403.7 C1484.4 407.5 1481.6 410.7 1481.6 414.9 C1481.6 419.1 1487.6 425.6 1485.7 428.9 C1483.9 432.1 1474.1 432.1 1470.4 434.4 C1466.7 436.8 1464 440 1463.4 442.8 C1462.8 445.6 1465.7 448.4 1466.9 451.2 C1468 454 1469.1 455.4 1470.4 459.6 C1471.7 463.7 1475.5 471.2 1474.6 476.3 C1473.6 481.4 1465.5 485.8 1464.8 490.3 C1464.1 494.7 1467.6 499.6 1470.4 502.8 C1473.2 506.1 1481.6 506.8 1481.6 509.8 C1481.6 512.8 1473.9 517.2 1470.4 521 C1466.9 524.7 1460.6 528.6 1460.6 532.1 C1460.6 535.6 1469.5 538.2 1470.4 541.9 C1471.3 545.6 1468.5 550 1466.2 554.5 C1463.9 558.9 1458.8 563.3 1456.4 568.4 C1454.1 573.5 1454.3 580.8 1452.2 585.2 C1450.2 589.5 1447 591.5 1444.4 594.8 C1441.8 598 1439.1 601.8 1436.9 604.7 C1434.7 607.6 1433.3 609.8 1431.2 612.2 C1429.1 614.5 1426.2 615.5 1424.3 618.6 C1422.5 621.8 1419.5 627 1420.2 631.2 C1420.8 635.4 1427.8 640 1428.5 643.8 C1429.2 647.5 1425.7 650.3 1424.3 653.5 C1422.9 656.8 1422.2 660.3 1420.2 663.3 C1418.1 666.3 1414.6 671.7 1411.8 671.7 C1409 671.7 1407.6 664.2 1403.4 663.3 C1399.2 662.4 1391.1 664.2 1386.7 666.1 C1382.2 668 1378.6 670.9 1376.9 674.5 C1375.2 678 1376.6 683 1376.6 687.3 C1376.6 691.6 1376.8 698 1376.9 700.1 M357.2 700 C356.3 701.6 354 707.6 351.7 709.8 C349.3 712 346.1 712 343.3 713.2 C340.5 714.4 335.1 713.8 334.9 716.7 C334.7 719.7 342.2 727.9 341.9 730.7 C341.6 733.5 336 732.3 333.2 733.5 C330.4 734.7 328 736.4 325.1 737.7 C322.3 739 318.8 739.6 315.9 741.2 C313 742.8 310.8 745.6 307.9 747.2 C305.1 748.8 301.6 749.3 298.7 750.7 C295.7 752.2 290.7 752.2 290.3 755.8 C289.8 759.5 296.4 768.9 295.8 772.6 C295.3 776.2 290 775.9 287.2 777.7 C284.4 779.6 279.3 780.4 279.1 783.7 C278.9 787.1 286.4 795.5 286.1 797.7 C285.7 799.8 280.1 796.8 277 796.6 C274 796.4 268.9 794.6 267.9 796.3 C266.9 797.9 270.2 803.1 270.9 806.6 C271.6 810.1 273.4 815 272.1 817.2 C270.9 819.5 266.5 819.5 263.5 820.2 C260.6 820.9 257.5 820.8 254.5 821.2 C251.5 821.6 248.6 820.2 245.6 822.8 C242.6 825.4 237.1 832.1 236.7 836.8 C236.2 841.4 240.6 847.4 242.8 850.7 C245.1 854 247.6 854.9 250.1 856.8 C252.7 858.6 257 859.4 258.2 861.9 C259.4 864.4 257.8 868.5 257.4 871.7 C256.9 875 256.4 877.9 255.4 881.4 C254.3 884.9 251.9 890.7 251.2 892.6 M251.2 892.6 C249.3 893.6 243.5 896.4 239.8 898.5 C236.1 900.6 232.6 903.6 228.9 905.1 C225.1 906.7 221.2 906.8 217.5 908 C213.8 909.1 209.5 910.3 206.5 912.1 C203.5 914 201.8 916.7 199.5 919.1 C197.2 921.4 194.9 923.5 192.6 926.1 C190.3 928.6 187.9 931.6 185.6 934.4 C183.3 937.2 181.1 939.1 178.6 942.8 C176.2 946.5 171.5 951.7 170.8 956.8 C170.1 961.9 174.4 968.4 174.4 973.5 C174.4 978.6 169.2 983.3 170.8 987.5 C172.4 991.7 180.6 994.4 184.2 998.6 C187.8 1002.8 191 1008.8 192.6 1012.6 C194.1 1016.4 193.5 1018.6 193.5 1021.6 C193.6 1024.7 192.5 1027.8 192.8 1030.8 C193.1 1033.8 194.7 1036.8 195.2 1039.8 C195.6 1042.8 195.7 1045.5 195.4 1048.9 C195 1052.3 193.9 1056.5 192.9 1060.3 C191.9 1064 190.6 1067.7 189.4 1071.4 C188.2 1075 185.8 1079 185.6 1082.4 C185.4 1085.7 187.3 1088.5 188 1091.6 C188.7 1094.6 189.2 1097.8 189.7 1100.9 C190.3 1104 191.7 1107 191.2 1110.3 C190.7 1113.5 188.4 1117 186.8 1120.3 C185.2 1123.5 182.1 1126.4 181.4 1129.8 C180.7 1133.3 184 1137.6 182.8 1141 C181.6 1144.3 177.4 1147.2 174.4 1150 C171.4 1152.8 167.9 1154.1 164.7 1157.7 C161.4 1161.3 159.1 1169.1 154.9 1171.7 C150.7 1174.2 143.7 1173.1 139.5 1173.1 C135.3 1173 132.9 1172.1 129.7 1171.4 C126.4 1170.7 122.1 1167.9 120 1168.9 C117.9 1169.9 118.1 1174.6 116.9 1177.4 C115.8 1180.2 113.2 1182.9 113 1185.6 C112.8 1188.4 116.8 1190.7 115.8 1194 C114.9 1197.3 108.6 1201.2 107.5 1205.2 C106.3 1209.1 108.2 1213.5 108.7 1217.6 C109.1 1221.7 110 1227.9 110.2 1230 M542.7 222.1 C545.1 223.1 552.9 225.6 556.9 228.4 C560.8 231.1 564 234.8 566.3 238.6 C568.7 242.4 570.9 247.2 571 251.1 C571.2 255.1 568.1 259 567.1 262.1 C566 265.3 564.6 267.1 564.7 270 C564.9 272.9 568.1 276.6 567.9 279.4 C567.6 282.3 564.6 285.5 563.2 287.3 C561.7 289.1 560.5 287.8 559.2 290.4 C557.9 293.1 556.7 300.5 555.3 303 C553.9 305.5 552.7 306.4 550.6 305.4 C548.5 304.3 545.1 297.6 542.7 296.7 C540.4 295.8 537.5 296.7 536.4 299.9 C535.4 303 537.2 312.3 536.4 315.6 C535.7 318.9 534.1 319.5 531.7 319.5 C529.4 319.5 525.7 315.5 522.3 315.6 C518.9 315.7 514.1 317.7 511.3 320.3 C508.6 322.9 506.1 328.9 505.8 331.3 C505.5 333.7 507.5 333.7 509.7 334.4 C512 335.2 517.6 334.7 519.2 336 C520.7 337.3 520.2 340.5 519.2 342.3 C518.1 344.1 515.5 344.9 512.9 347 C510.3 349.1 506.3 353.6 503.4 354.9 C500.6 356.2 497.9 355.4 495.6 354.9 C493.2 354.3 490.1 350.7 489.3 351.7 C488.5 352.8 489.6 358.3 490.9 361.2 C492.2 364 495.8 366.4 497.2 369 C498.5 371.6 499.5 374.5 498.7 376.9 C497.9 379.2 495.3 381.6 492.4 383.2 C489.6 384.7 484.1 384.7 481.4 386.3 C478.8 387.9 477 390.5 476.7 392.6 C476.5 394.7 478.3 397 479.9 398.9 C481.4 400.7 485.4 401.8 486.2 403.6 C486.9 405.4 486.4 408.4 484.6 409.9 C482.8 411.3 477.6 410.9 475.2 412.2 C472.7 413.5 470.8 415.8 469.7 417.7 C468.5 419.7 466.9 421.9 468.1 424 C469.3 426.1 474.5 427.9 476.7 430.3 C479 432.7 480.8 436.2 481.4 438.2 C482.1 440.1 482.5 441.3 480.7 442.1 C478.8 442.9 473.7 441.8 470.4 442.9 C467.2 443.9 463.9 446 461 448.4 C458.1 450.7 456.6 454.3 453.2 457 C449.7 459.8 445 462.5 440.6 464.9 C436.1 467.2 431.4 468.8 426.4 471.2 C421.5 473.5 414.7 476.4 410.7 479 C406.8 481.6 404.7 484 402.9 486.9 C401 489.8 400.5 494 399.7 496.3 C398.9 498.7 400 500.5 398.1 501 C396.3 501.6 390.3 499.7 388.7 499.5 M740 940 C741.9 938.6 747 934.4 751.2 931.6 C755.4 928.9 760 924.7 765.1 923.3 C770.3 921.9 776.8 921.4 781.9 923.3 C787 925.1 791.2 930.7 795.8 934.4 C800.5 938.2 805.1 942.8 809.8 945.6 C814.4 948.4 820 950.7 823.8 951.2 C827.5 951.7 830.5 950.7 832.1 948.4 C833.8 946.1 831.7 939.8 833.5 937.2 C835.4 934.7 839.3 934 843.3 933 C847.2 932.1 853.1 932.8 857.2 931.6 C861.4 930.5 864.2 926.1 868.4 926.1 C872.6 926.1 878.6 928.9 882.4 931.6 C886.1 934.4 888.6 939.6 890.7 942.8 C892.9 946 893.8 948.3 895.2 951.1 C896.6 953.8 896.6 955.8 899.1 959.6 C901.6 963.3 906.1 969.8 910.3 973.5 C914.5 977.2 919.6 981 924.2 981.9 C928.9 982.8 934.9 981.4 938.2 979.1 C941.4 976.8 942.4 971.7 943.8 967.9 C945.2 964.2 944.2 960 946.6 956.8 C948.9 953.5 955.2 951.7 957.7 948.4 C960.3 945.1 961.2 941.4 961.9 937.2 C962.6 933 960.3 927.5 961.9 923.3 C963.5 919.1 968.7 914.8 971.7 912.1 C974.6 909.5 977 908.7 979.8 907.3 C982.5 906 984.6 906.2 988.4 903.7 C992.2 901.3 998.7 895.3 1002.4 892.6 C1006 889.9 1007.6 889.1 1010.4 887.7 C1013.2 886.3 1015 885 1019.1 884.2 C1023.2 883.4 1032.4 883 1035 882.8 M762.3 956.8 C764.7 958.2 773.5 962.3 776.3 965.1 C779.1 967.9 778.6 972.1 779.1 973.5 M832.1 948.4 C831.7 951.2 831.2 960.5 829.3 965.1 C827.5 969.8 822.4 974.4 821 976.3 M1376.9 700 C1375.7 701.2 1373 705.9 1369.9 707 C1366.9 708.1 1362.4 706.3 1358.7 706.5 C1355 706.8 1350.7 707 1347.6 708.4 C1344.4 709.8 1342.6 713 1339.8 714.8 C1337 716.7 1334.7 716.9 1330.8 719.5 C1327 722.2 1319.9 726.5 1316.9 730.7 C1313.9 734.9 1312 740.7 1312.7 744.7 C1313.4 748.6 1320.8 750.9 1321.1 754.4 C1321.3 757.9 1318 763.3 1314.1 765.6 C1310.1 767.9 1301.5 768.7 1297.3 768.4 C1293.2 768.1 1292 765.1 1289.2 763.7 C1286.4 762.3 1284.8 760.2 1280.6 760 C1276.4 759.9 1268.5 761.9 1263.9 762.8 C1259.2 763.7 1256.4 764.7 1252.7 765.6 C1249 766.6 1245.7 766.1 1241.5 768.4 C1237.3 770.7 1231.3 775.1 1227.6 779.5 C1223.9 784 1220.9 790.8 1219.2 794.9 C1217.5 798.9 1217.7 800.9 1217.4 803.9 C1217.2 806.9 1219.8 811.3 1217.8 813 C1215.8 814.8 1209.9 814.4 1205.2 814.4 C1200.6 814.4 1193.4 811.2 1189.9 813 C1186.4 814.9 1185 821.6 1184.3 825.6 C1183.6 829.5 1187.8 834.7 1185.7 836.8 C1183.6 838.9 1174.5 836.3 1171.8 838.2 C1169 840 1167.6 844.4 1169 847.9 C1170.4 851.4 1177.8 855.4 1180.1 859.1 C1182.5 862.8 1183.9 866.5 1182.9 870.2 C1182 874 1176.4 877.7 1174.5 881.4 C1172.7 885.1 1174.5 888.9 1171.8 892.6 C1169 896.3 1162.5 900.5 1157.8 903.7 C1153.2 907 1147.6 908.9 1143.8 912.1 C1140.1 915.4 1138.7 920.5 1135.5 923.3 C1132.2 926.1 1128.5 928.9 1124.3 928.9 C1120.1 928.9 1115 926.1 1110.4 923.3 C1105.7 920.5 1100.6 915.8 1096.4 912.1 C1092.2 908.4 1088.5 904.2 1085.2 900.9 C1082 897.7 1080.6 894 1076.9 892.6 C1073.1 891.2 1067.6 893 1062.9 892.6 C1058.3 892.1 1053.6 891.4 1049 889.8 C1044.3 888.2 1037.3 884 1035 882.8 M1035 892.6 C1035.9 894 1039.9 897.9 1040.6 900.9 C1041.2 904 1039.4 907.4 1038.9 910.7 C1038.4 913.9 1037.7 917 1037.8 920.5 C1037.9 924 1038.7 928.2 1039.7 931.9 C1040.6 935.6 1041.6 939.4 1043.4 942.8 C1045.2 946.3 1048.1 949.3 1050.4 952.5 C1052.8 955.8 1055.4 959.3 1057.3 962.3 C1059.2 965.4 1060.3 968.1 1061.8 971 C1063.3 973.9 1064.5 976.9 1066.2 979.6 C1067.9 982.4 1070.2 984.8 1071.9 987.5 C1073.7 990.2 1075.3 992.8 1076.9 995.8 C1078.4 998.9 1079.8 1002.4 1081.4 1005.6 C1083 1008.8 1084.8 1011.9 1086.4 1015.1 C1088.1 1018.3 1089.3 1021.7 1091.2 1024.7 C1093.1 1027.7 1096.1 1030.2 1097.9 1033.3 C1099.7 1036.4 1101.8 1038.8 1102 1043.3 C1102.2 1047.7 1099.4 1055.5 1099.2 1060 C1099 1064.5 1100.8 1066.8 1100.9 1070.2 C1101 1073.6 1099.7 1077.2 1099.9 1080.6 C1100 1084 1101 1087.4 1102 1090.7 C1102.9 1094.1 1104.2 1097.5 1105.6 1100.7 C1107 1104 1108.8 1107.3 1110.4 1110.3 C1111.9 1113.2 1113.7 1115.6 1115.1 1118.4 C1116.4 1121.2 1116.8 1124.5 1118.2 1127.3 C1119.6 1130.1 1122.1 1132.3 1123.6 1135 C1125.1 1137.8 1124.9 1141 1127.1 1143.8 C1129.3 1146.6 1133.8 1149.1 1137.1 1151.9 C1140.3 1154.7 1143.4 1157.9 1146.6 1160.5 C1149.9 1163.1 1153.2 1165 1156.5 1167.4 C1159.7 1169.7 1164.6 1173.3 1166.2 1174.5 M1570 928.9 C1568.3 927.9 1562 922.6 1559.7 923.3 C1557.4 923.9 1556.9 929.5 1556 932.8 C1555 936 1555.9 942.4 1554.1 942.8 C1552.3 943.2 1547.9 937.8 1545.1 935.1 C1542.3 932.3 1541.5 926.6 1537.4 926.1 C1533.3 925.5 1523 928.9 1520.6 931.6 C1518.3 934.4 1524.6 940 1523.4 942.8 C1522.2 945.6 1516.8 946.4 1513.6 948.3 C1510.3 950.1 1506.9 954.2 1503.9 954 C1500.9 953.8 1498.3 949.4 1495.5 947 C1492.7 944.7 1490.4 939.3 1487.1 940 C1483.9 940.7 1478.8 946.5 1476 951.2 C1473.2 955.8 1472.6 966.2 1470.4 967.9 C1468.2 969.6 1465.4 963.3 1462.6 961.4 C1459.8 959.6 1455.1 955.9 1453.6 956.8 C1452.2 957.6 1453.9 963.3 1453.9 966.5 C1453.9 969.8 1455.5 974.4 1453.6 976.3 C1451.7 978.2 1446.2 977.4 1442.5 977.8 C1438.8 978.3 1435 980.7 1431.3 979.1 C1427.6 977.4 1423.4 970.3 1420.2 967.9 C1416.9 965.6 1413.9 964.2 1411.8 965.1 C1409.7 966.1 1408.8 970.6 1407.4 973.4 C1406 976.2 1404.5 979.1 1403.4 981.9 C1402.3 984.7 1403.4 987.9 1400.6 990.3 C1397.8 992.6 1389.2 993.3 1386.7 995.8 C1384.1 998.4 1386 1002.4 1385.5 1005.6 C1385.1 1008.9 1384.4 1011 1383.9 1015.4 C1383.4 1019.8 1384.8 1027.5 1382.5 1032.1 C1380.1 1036.8 1373.5 1040.9 1369.9 1043.3 C1366.4 1045.7 1363.9 1045.2 1361.1 1046.6 C1358.3 1048 1356.8 1051.7 1353.2 1051.7 C1349.5 1051.6 1343.4 1046.1 1339.2 1046.1 C1335 1046.1 1328.6 1049.7 1328.1 1051.7 C1327.5 1053.6 1333.1 1056.1 1335.9 1058 C1338.7 1059.9 1342.9 1060.6 1344.8 1062.8 C1346.7 1065 1348.7 1070.4 1347.6 1071.2 C1346.4 1072 1341.2 1068.8 1338 1067.9 C1334.7 1067 1330.7 1064.4 1328.1 1065.6 C1325.4 1066.9 1324.2 1072.3 1321.9 1075.3 C1319.6 1078.4 1317.3 1084 1314.1 1083.8 C1310.9 1083.5 1306.7 1075.4 1302.9 1074 C1299.2 1072.6 1295.5 1073.1 1291.8 1075.4 C1288 1077.7 1284.3 1084.5 1280.6 1087.9 C1276.9 1091.4 1273.6 1095.9 1269.4 1096.3 C1265.3 1096.8 1258.5 1090.1 1255.5 1090.7 C1252.5 1091.4 1252.5 1096.9 1251.6 1100.2 C1250.6 1103.4 1252 1107.7 1249.9 1110.3 C1247.8 1112.9 1241.1 1112.6 1238.7 1115.9 C1236.4 1119.1 1237.8 1125.2 1235.9 1129.8 C1234.1 1134.5 1230.8 1140 1227.6 1143.8 C1224.3 1147.5 1220.6 1151.2 1216.4 1152.1 C1212.2 1153.1 1206.6 1147.5 1202.5 1149.3 C1198.3 1151.2 1194.1 1159.1 1191.3 1163.3 C1188.5 1167.5 1187.8 1173.8 1185.7 1174.5 C1183.6 1175.1 1181.1 1169.7 1178.8 1167.4 C1176.5 1165.1 1173.9 1159.3 1171.8 1160.5 C1169.6 1161.7 1168.5 1171.2 1166.2 1174.5 C1163.8 1177.7 1160.6 1178.2 1157.8 1180 C1155 1181.9 1152.1 1183.6 1149.3 1185.4 C1146.5 1187.3 1144.1 1189.6 1141.1 1191.2 C1138 1192.9 1134.5 1193.9 1131.2 1195.3 C1128 1196.7 1124.1 1197.5 1121.5 1199.6 C1119 1201.7 1115 1204.7 1115.9 1208 C1116.9 1211.2 1123.6 1216.3 1127.1 1219.1 C1130.6 1221.9 1133.6 1222.8 1136.9 1224.6 C1140.1 1226.4 1145 1229.1 1146.6 1230 M107.9 1230 C108.4 1231.4 109.1 1235.6 110.7 1238.4 C112.3 1241.2 116.7 1243.8 117.7 1246.8 C118.7 1249.8 116.8 1253.3 116.6 1256.6 C116.3 1259.9 116.6 1263.4 116.3 1266.4 C116 1269.5 113.7 1272 114.9 1274.8 C116.1 1277.6 121.2 1280.2 123.3 1283.3 C125.4 1286.3 127.5 1290 127.5 1293.1 C127.5 1296.1 125.4 1298.4 123.3 1301.5 C121.2 1304.5 117 1307.3 114.9 1311.3 C112.8 1315.2 111.4 1320.6 110.7 1325.3 C110 1330 109.3 1335.1 110.7 1339.3 C112.1 1343.5 118.1 1347.2 119.1 1350.5 C120.1 1353.8 117.7 1356.5 116.5 1359.3 C115.3 1362.1 114.2 1363.7 112.1 1367.3 C110 1371 106.5 1376.7 103.7 1381.3 C100.9 1386 96.4 1390.9 95.3 1395.4 C94.1 1399.8 96.6 1403.7 96.8 1407.9 C97 1412.1 97.3 1416.9 96.7 1420.6 C96.1 1424.3 94.1 1427 93 1430.3 C91.8 1433.6 90.9 1437.1 89.7 1440.2 C88.5 1443.3 87.3 1446 85.9 1448.8 C84.4 1451.6 82 1453.8 81.3 1457 C80.5 1460.3 80.6 1465 81.3 1468.2 C82 1471.5 86.4 1472.9 85.5 1476.6 C84.5 1480.4 79.6 1486.4 75.7 1490.7 C71.7 1494.9 66.8 1499.5 61.7 1501.9 C56.5 1504.2 49 1502.8 44.8 1504.7 C40.6 1506.5 38.7 1510.3 36.4 1513.1 C34.2 1515.8 32.7 1518.2 31.3 1521 C29.9 1523.8 29 1526.1 28 1529.9 C27 1533.7 26.4 1541.1 25.2 1543.9 C24.1 1546.7 21.7 1546.2 21 1546.7 M1035 1328.1 C1032.7 1330 1025 1335.8 1021.3 1339.3 C1017.6 1342.8 1015.7 1345.8 1012.9 1349.1 C1010.1 1352.4 1006.6 1356 1004.5 1358.9 C1002.3 1361.9 1001.5 1364.3 999.9 1366.9 C998.3 1369.6 996.6 1372.1 995 1374.7 C993.4 1377.4 994 1381.2 990.5 1382.7 C986.9 1384.3 978.8 1382.7 973.7 1384.1 C968.5 1385.5 962 1388.3 959.6 1391.2 C957.3 1394 959.7 1397.7 959.5 1401 C959.2 1404.2 958.1 1407.5 957.9 1410.7 C957.7 1414 959.8 1416.6 958.2 1420.6 C956.7 1424.6 951.4 1431.2 948.4 1434.6 C945.5 1438 943.3 1439 940.5 1440.9 C937.7 1442.8 934.5 1443.1 931.6 1445.8 C928.7 1448.5 923.9 1452.8 923.2 1457 C922.5 1461.2 927.3 1467.3 927.4 1471 C927.5 1474.8 925.2 1476.7 924 1479.5 C922.8 1482.3 922.9 1486.1 920.4 1487.8 C917.9 1489.6 912.8 1489.1 909 1490 C905.3 1491 901.9 1492.2 898 1493.5 C894 1494.7 889.5 1496 885.3 1497.4 C881.1 1498.8 875.8 1499.3 872.8 1501.9 C869.7 1504.5 869.4 1509.9 867.2 1513.1 C864.9 1516.2 861.7 1518.1 859.4 1520.9 C857.1 1523.7 854.6 1525.6 853.1 1529.9 C851.6 1534.2 850.6 1542 850.3 1546.7 C850.1 1551.4 852.3 1554.4 851.7 1557.9 C851.2 1561.4 848.7 1564.4 847 1567.5 C845.4 1570.6 843.5 1573.7 841.8 1576.8 C840 1579.8 840 1583.5 836.3 1585.9 C832.6 1588.4 823.5 1588.7 819.5 1591.5 C815.5 1594.3 813.4 1599.5 812.5 1602.8 C811.6 1606 815.3 1608.4 813.9 1611.2 C812.5 1614 806.9 1616.3 804.1 1619.6 C801.3 1622.8 799.8 1627.9 797.1 1630.8 C794.3 1633.7 790.8 1634.9 787.5 1636.8 C784.2 1638.7 781 1638.8 777.5 1642 C773.9 1645.2 770 1651.8 766.3 1656 C762.5 1660.2 756.7 1663.5 755 1667.2 C753.4 1671 757.8 1675.6 756.4 1678.4 C755 1681.2 749.7 1680.8 746.6 1684 C743.6 1687.3 740.9 1694.2 738.2 1698 C735.5 1701.9 733.2 1704.3 730.4 1707.1 C727.6 1709.9 724.2 1712.4 721.4 1714.9 C718.6 1717.3 716.4 1719.9 713.6 1722 C710.8 1724.1 708 1726.1 704.6 1727.5 C701.2 1728.9 698.1 1729.6 693.4 1730.3 C688.7 1731 680.8 1730.3 676.6 1731.7 C672.4 1733.1 670.9 1736.3 668.1 1738.7 C665.3 1741 662.6 1742.2 659.8 1745.7 C657 1749.2 652.7 1757.4 651.3 1759.7 M1147.1 1230 C1147.6 1230.9 1150 1232.8 1149.9 1235.6 C1149.8 1238.4 1147.8 1243.3 1146.4 1247.1 C1145 1250.8 1143 1255 1141.5 1258 C1140 1261 1138.9 1266 1137.3 1265 C1135.7 1264.1 1133.8 1255.5 1131.7 1252.4 C1129.6 1249.4 1127.4 1247.9 1124.7 1246.8 C1121.9 1245.7 1118.3 1246.6 1115.2 1245.9 C1112.1 1245.2 1109.2 1243.5 1106.1 1242.7 C1103 1241.9 1100.1 1241 1096.7 1241.2 C1093.2 1241.4 1088.5 1241.2 1085.4 1244 C1082.4 1246.8 1078.9 1252.9 1078.4 1258 C1078 1263.2 1082.4 1270.4 1082.6 1274.8 C1082.9 1279.3 1082 1282.7 1079.8 1284.7 C1077.7 1286.6 1073.3 1285.9 1070 1286.6 C1066.7 1287.3 1064.2 1287.5 1060.2 1288.9 C1056.3 1290.2 1049.2 1291.2 1046.2 1294.5 C1043.2 1297.7 1041.8 1304.3 1042 1308.5 C1042.2 1312.7 1047.4 1316.4 1047.6 1319.7 C1047.8 1323 1045.5 1326 1043.4 1328.1 C1041.3 1330.2 1036.4 1331.6 1035 1332.3"/>
<path class="w" d="M535 887.9 C533.5 888.1 528.7 888.5 525.6 889 C522.5 889.4 518.9 890.9 516.3 890.7 C513.7 890.4 512.1 888.5 510 887.6 C507.8 886.7 505.4 886.1 503.2 885.3 C501 884.4 499.1 883.5 496.8 882.3 C494.5 881.1 492.1 879.2 489.6 878 C487.1 876.8 484.4 876.1 481.8 875 C479.3 873.8 477.2 871.8 474.5 871.1 C471.7 870.5 468.3 871 465.2 871.3 C462.1 871.5 459 872.7 455.9 872.6 C452.8 872.6 449.3 871.3 446.6 871.1 C443.8 871 441.6 872.1 439.3 871.7 C437 871.2 435 868.8 432.7 868.5 C430.4 868.2 427.7 870 425.4 869.8 C423 869.5 421.3 867.5 418.6 867 C416 866.4 412.4 866.5 409.3 866.6 C406.2 866.8 403.1 867.4 400 867.7 C396.9 868 393.8 868.1 390.7 868.3 C387.6 868.6 384.5 869.2 381.4 869 C378.3 868.8 375.2 867.3 372.1 867.2 C369 867.1 365.5 867.9 362.8 868.3 C360.1 868.8 358.2 869.5 355.9 869.9 C353.6 870.3 351.3 870.8 348.9 870.8 C346.6 870.9 344 869.9 341.7 870.2 C339.4 870.5 337.6 872.2 334.9 872.5 C332.2 872.9 328.7 872.3 325.6 872.2 C322.5 872 319.4 871.7 316.3 871.5 C313.2 871.4 310.2 870.7 307 871.1 C303.9 871.6 300.6 873.8 297.4 874 C294.1 874.3 290.2 872.4 287.5 872.5 C284.7 872.7 282.8 873.7 280.7 874.8 C278.6 875.9 276.9 877.9 274.8 878.9 C272.7 879.9 270.4 879.6 267.9 880.9 C265.5 882.3 263.1 885.4 260.3 887 C257.5 888.7 252.7 890.1 251.2 890.7 M535 891.7 C533.5 892.2 529.1 894.6 526 895.1 C522.9 895.5 519 895.1 516.3 894.5 C513.7 893.8 512.2 892.2 510 891.2 C507.9 890.2 505.6 889.5 503.4 888.6 C501.2 887.8 499.3 886.9 496.8 886.1 C494.3 885.3 491.2 884.9 488.6 884 C485.9 883 483.3 882 481 880.5 C478.6 879 477.1 876.2 474.5 874.9 C471.8 873.7 468.3 872.9 465.2 873 C462.1 873.1 459 875 455.9 875.3 C452.8 875.7 449.3 875 446.6 874.9 C443.8 874.8 441.8 875.2 439.4 874.8 C437.1 874.3 435 872.9 432.7 872.1 C430.5 871.3 428.2 870.1 425.9 869.9 C423.6 869.7 421.4 870.4 418.6 870.8 C415.9 871.1 412.5 872.2 409.4 872.1 C406.3 871.9 403 869.7 399.9 869.7 C396.8 869.7 393.8 871.6 390.7 872.1 C387.6 872.7 384.5 873.3 381.4 873 C378.3 872.6 375.2 870.3 372.1 870.1 C369 870 365.6 871.8 362.8 872.1 C360.1 872.5 358 871.7 355.7 872.3 C353.4 872.9 351.5 875.7 349.1 875.9 C346.8 876.1 344 873.4 341.6 873.4 C339.2 873.5 337.6 875.6 334.9 876.3 C332.2 877 328.6 877.4 325.5 877.6 C322.4 877.7 319.3 877.6 316.2 877.2 C313.1 876.8 310.2 875.3 307 874.9 C303.8 874.6 300.5 875 297.2 875.2 C294 875.5 290.3 876 287.5 876.3 C284.6 876.7 282.2 875.9 280.1 877.2 C278.1 878.5 277.3 882.6 275.3 883.9 C273.2 885.1 270.7 884 267.9 884.7 C265.1 885.4 261.4 886.2 258.6 887.9 C255.8 889.5 252.4 893.4 251.2 894.5 M500 887.9 C501.4 887.7 505.6 887 508.4 887 C511.2 887 514 887.4 516.7 887.9 C519.5 888.4 522.2 889.5 525 890 C527.8 890.4 530.9 889.3 533.5 890.7 C536.1 892.1 538 896.3 540.8 898.4 C543.6 900.4 547.6 901.8 550.2 903.2 C552.9 904.7 554.3 906.1 556.5 907 C558.8 907.9 561.5 907.8 563.7 908.8 C565.9 909.8 567.5 912 569.8 913 C572 914 574.7 914.4 577.2 915.1 C579.6 915.7 582.1 916.4 584.6 917 C587.1 917.5 589.5 918.1 592.1 918.6 C594.7 919.1 597.7 919.8 600.5 919.7 C603.3 919.7 606.1 918.7 608.8 918.5 C611.6 918.4 614.4 918.5 617.2 918.6 C620 918.6 622.8 918.6 625.6 918.8 C628.4 919 631.3 919.8 634.1 919.6 C636.9 919.3 639.6 916.8 642.3 917.2 C645.1 917.6 647.6 920.6 650.4 922 C653.2 923.4 656.6 924.2 659.1 925.6 C661.5 926.9 662.8 929.1 665 930.3 C667.2 931.5 669.9 931.8 672.2 932.9 C674.4 934 676.3 935.7 678.6 936.7 C680.9 937.8 683.5 938.4 685.9 939.3 C688.3 940.1 690.6 941.5 693.1 942 C695.6 942.5 698 942.1 700.9 942.3 C703.9 942.5 707.6 943.5 710.8 943.2 C714.1 943 717.2 941.4 720.5 940.9 C723.7 940.4 727.1 940.6 730.3 940.2 C733.6 939.7 738.4 938.5 740 938.1 M500 891.7 C501.4 891.3 505.6 889.6 508.4 889.6 C511.2 889.6 513.9 891.3 516.7 891.7 C519.6 892.1 522.5 891.5 525.3 892 C528.1 892.5 530.7 893 533.5 894.5 C536.3 895.9 539.2 898.5 542 900.6 C544.8 902.7 547.9 905.1 550.2 907 C552.5 909 553.8 910.8 555.9 912.1 C557.9 913.4 560.3 914 562.7 914.8 C565 915.5 567.4 916 569.8 916.8 C572.2 917.6 574.4 919.5 576.9 919.8 C579.5 920.1 582.6 918.1 585.2 918.5 C587.7 919 589.5 921.7 592.1 922.4 C594.7 923.1 597.7 922.8 600.5 922.7 C603.3 922.5 606.1 921.5 608.8 921.4 C611.6 921.4 614.4 922.6 617.2 922.4 C620 922.2 622.7 920.9 625.5 920.4 C628.3 920 631.1 919.5 633.9 919.6 C636.7 919.7 639.4 920.4 642.3 921 C645.3 921.6 648.9 921.9 651.6 923.3 C654.4 924.7 656.8 927.6 659.1 929.4 C661.3 931.1 662.8 933 665.1 934 C667.4 935 670.7 934.3 672.9 935.4 C675.2 936.5 676.5 939.2 678.6 940.5 C680.8 941.9 683.3 943.1 685.8 943.6 C688.3 944.2 691.1 943.4 693.6 943.9 C696.1 944.3 698.1 946.2 700.9 946.1 C703.8 946 707.3 943.7 710.6 943.5 C713.8 943.2 717.2 944.8 720.5 944.7 C723.8 944.7 727 943.6 730.2 943.2 C733.5 942.7 738.4 942.1 740 941.9 M740 938.1 C741.9 938.1 748.4 936.8 751.2 938.1 C754 939.4 755.3 943.1 756.6 945.9 C758 948.6 757.9 952.2 759.6 954.9 C761.2 957.5 764.3 959.5 766.6 961.8 C768.9 964.1 770.9 967 773.5 968.8 C776.2 970.6 779.8 970.9 782.6 972.6 C785.3 974.2 787.7 977.9 790.3 978.6 C792.8 979.3 795.3 977.7 797.6 976.8 C799.9 975.8 801.9 973.3 804.2 973 C806.5 972.7 808.9 974.1 811.3 974.8 C813.6 975.5 814.7 976.8 818.2 977.2 C821.6 977.6 827.9 978.4 832.1 977.2 C836.3 976 841.2 973 843.3 970.2 C845.4 967.4 845.2 963.1 844.7 960.4 C844.2 957.8 841.8 956.4 840.1 954.6 C838.5 952.7 836.3 950.6 834.9 949.3 C833.6 947.9 832.6 947 832.1 946.5 M740 941.9 C741.9 941.9 748.9 940.4 751.2 941.9 C753.5 943.4 752.6 948.2 753.9 951 C755.3 953.8 757.3 956.3 759.6 958.7 C761.8 961 764.9 962.6 767.2 965 C769.5 967.3 771.1 970.4 773.5 972.6 C775.9 974.8 778.6 976.7 781.4 978.3 C784.2 979.9 787.7 982.3 790.3 982.4 C792.8 982.5 794.6 979.8 796.9 978.9 C799.3 977.9 801.9 976.5 804.2 976.8 C806.5 977.1 808.3 980 810.7 980.7 C813 981.4 814.6 980.9 818.2 981 C821.7 981 827.9 982.2 832.1 981 C836.3 979.8 841.2 976.8 843.3 974 C845.4 971.2 845.2 966.9 844.7 964.2 C844.2 961.6 842 960 840.3 958.2 C838.7 956.3 836.3 954.4 834.9 953.1 C833.5 951.8 832.6 950.8 832.1 950.3"/>
<path class="w" style="stroke-width:6.8" d="M21 556.2 C21.9 555.7 24.5 553.9 26.5 553.2 C28.5 552.6 30.7 552.2 32.7 552.3 C34.8 552.3 37.1 552.4 38.7 553.6 C40.2 554.7 40.4 557.8 41.9 559.2 C43.3 560.5 45.7 561.7 47.1 561.4 C48.6 561.2 49.3 558.1 50.8 557.7 C52.2 557.3 54.4 559.1 55.9 559 C57.5 559 58.7 558.5 60.2 557.5 C61.8 556.5 63.2 554.3 65 552.9 C66.7 551.6 69.1 551 70.7 549.7 C72.3 548.3 73 545.5 74.8 544.7 C76.5 543.8 79.6 543.9 81.2 544.4 C82.8 545 82.8 547.1 84.2 547.9 C85.6 548.8 88.4 548.4 89.4 549.6 C90.4 550.7 89.5 553.7 90.4 554.9 C91.2 556.1 93 556.5 94.5 556.9 C96 557.3 98.1 556.9 99.5 557.4 C101 557.9 102.3 558.8 103.4 559.9 C104.5 561 105.2 562.8 106.3 563.9 C107.4 565.1 108.8 565.7 110 566.7 C111.3 567.7 112.2 569.8 113.8 569.9 C115.4 569.9 117.8 567 119.4 567.1 C120.9 567.3 121.4 570.3 123.1 570.6 C124.8 570.9 127.5 569 129.6 569 C131.8 569 134.6 569.6 136.2 570.6 C137.8 571.6 138.3 573.4 139.1 575 C139.9 576.7 139.9 579 141.2 580.3 C142.4 581.5 145.2 581.3 146.7 582.4 C148.1 583.5 148.6 585.7 149.8 587.1 C151 588.4 152.9 589.3 154.1 590.7 C155.4 592.1 156.1 594 157.2 595.5 C158.2 597 158.8 599.7 160.5 599.9 C162.1 600.1 165.3 596.3 166.9 596.5 C168.5 596.6 169.7 599.2 170.2 600.7 C170.8 602.3 169.2 604.5 170 605.9 C170.8 607.3 174 607.7 174.9 609 C175.8 610.3 174.5 613.1 175.5 613.8 C176.4 614.6 179 613.4 180.6 613.6 C182.2 613.8 183.7 614.3 185.1 615.2 C186.4 616.1 187 618.2 188.6 619.1 C190.1 620 192.6 619.8 194.3 620.7 C196.1 621.5 198.2 622.8 199.1 624.3 C199.9 625.8 198.3 628.2 199.3 629.6 C200.2 631 203.9 631.3 204.7 632.7 C205.6 634.2 204.1 636.6 204.5 638.2 C204.9 639.9 205.6 641.8 206.9 642.6 C208.2 643.5 210.4 643.6 212.2 643.5 C213.9 643.3 215.6 642 217.4 641.9 C219.1 641.7 221.5 641.7 222.6 642.6 C223.7 643.6 223.1 646.1 224.1 647.5 C225.1 649 228 649.8 228.6 651.3 C229.2 652.9 227 655.9 227.9 657 C228.7 658.1 232.1 657.2 233.7 657.9 C235.4 658.7 236.4 660.3 237.6 661.7 C238.8 663.1 239.7 664.9 241 666.2 C242.2 667.5 243.5 668.8 245.1 669.5 C246.6 670.2 248.6 670 250.3 670.4 C252 670.8 253.7 671.3 255.2 672.1 C256.7 672.9 258.3 673.8 259.3 675.4 C260.3 676.9 260.6 679.5 261.4 681.5 C262.3 683.4 263.1 685.6 264.5 687.2 C266 688.7 268.2 689.6 269.9 690.9 C271.7 692.2 273.4 694.2 275 695 C276.7 695.8 278.5 694.7 279.8 695.6 C281.2 696.4 281.7 699.3 283.1 700 C284.5 700.7 287.3 700 288.1 700 M279.1 700 C279.7 700.6 281.6 702.3 282.6 703.7 C283.5 705.1 283.9 706.9 284.8 708.3 C285.7 709.7 287 710.9 287.9 712.3 C288.8 713.7 289.1 715.8 290.3 716.7 C291.4 717.7 293.1 717.7 294.6 718.2 C296 718.7 297.5 719 298.8 719.7 C300.2 720.5 301.1 722.2 302.5 722.9 C303.8 723.5 305.4 723.4 307 723.7 C308.6 724.1 310.6 724 311.9 724.9 C313.2 725.8 313.4 728.7 315 729.3 C316.5 729.9 319.6 727.8 321 728.5 C322.5 729.2 323.3 732.7 323.8 733.5"/>
<path class="w" style="stroke-linejoin:miter;stroke-linecap:butt" d="M20.9 1127 L175.8 1124.2 L174.4 1141"/>
<circle cx="794" cy="989.5" r="744" fill="none" stroke="#fff" stroke-width="2.8"/>
<g fill="#fff"><circle cx="95.3" cy="349.4" r="7"/><circle cx="699.3" cy="305.5" r="7"/><circle cx="914.5" cy="357.7" r="7"/><circle cx="674.4" cy="425.2" r="7"/><circle cx="481" cy="442" r="7"/><circle cx="388.5" cy="499" r="7"/><circle cx="709.3" cy="575.4" r="7"/><circle cx="702.3" cy="665.5" r="7"/><circle cx="1305.2" cy="429.4" r="7"/><circle cx="1281.2" cy="618.6" r="7"/><circle cx="1482.4" cy="578.7" r="7"/><circle cx="1497.2" cy="307.2" r="7"/><circle cx="738.1" cy="739.6" r="7"/><circle cx="356.4" cy="773.4" r="7"/><circle cx="461.3" cy="826.7" r="7"/><circle cx="185.6" cy="940.2" r="7"/><circle cx="203.5" cy="1107.5" r="7"/><circle cx="1083.8" cy="903.2" r="7"/><circle cx="1195.5" cy="865.2" r="7"/><circle cx="1326.1" cy="945" r="7"/><circle cx="1125.1" cy="1091.3" r="7"/><circle cx="1312.7" cy="1083.8" r="7"/><circle cx="1518.4" cy="1080.1" r="7"/><circle cx="477.3" cy="1254.4" r="7"/><circle cx="230.4" cy="1320.2" r="7"/><circle cx="694.2" cy="1304.3" r="7"/><circle cx="1035.5" cy="1310" r="7"/><circle cx="423.2" cy="1526.2" r="7"/></g>
<g class="c"><text x="104.1" y="340">PIRANE</text><text x="708.1" y="296.1">PARAGUARÍ</text><text x="923.3" y="348.3">VILLARRICA</text><text x="683.2" y="415.8">QUIINDY</text><text x="489.8" y="432.6">VA. OLIVA</text><text x="397.3" y="489.6">FORMOSA</text><text x="718.1" y="566">VA. FLORIDA</text><text x="711.1" y="656.1">SAN JUAN BAUTISTA</text><text x="1314" y="420">NARANJAL</text><text x="1290" y="609.2">MARÍA AUXILIADORA</text><text x="1491.2" y="569.3">ELDORADO</text><text x="1508.9" y="297.8">PUERTO IGUAZÚ</text><text x="746.9" y="730.2">SAN IGNACIO</text><text x="365.2" y="764">ISLA UMBÚ</text><text x="470.1" y="817.3">VILLALBÍN</text><text x="194.4" y="930.8">CORRIENTES</text><text x="212.3" y="1098.1">EMPEDRADO</text><text x="852.8" y="957.1">ITUZAINGÓ</text><text x="1092.6" y="893.8">POSADAS</text><text x="1204.3" y="855.8">SAN IGNACIO</text><text x="1334.9" y="935.6">OBERÁ</text><text x="1133.9" y="1081.9">APÓSTOLES</text><text x="1321.5" y="1074.4">SAN JAVIER</text><text x="1527.2" y="1070.7">SANTA ROSA</text><text x="486.1" y="1245">CONCEPCIÓN</text><text x="239.2" y="1310.8">SAN ROQUE</text><text x="703" y="1294.9">COL. C. PELLEGRINI</text><text x="1044.3" y="1300.6">SANTO TOMÉ</text><text x="432" y="1516.8">MERCEDES</text></g>
<rect x="26.6" y="1653.2" width="332.1" height="101" fill="#696969" fill-opacity="0.8"/>
<rect x="39.8" y="1667.8" width="303.5" height="72.3" fill="none" stroke="#ffa500" stroke-width="5.6"/>
<text class="lt" x="51" y="1697.5">Avisos Meteorológicos</text>
<text class="lt" x="51" y="1724.7">a Muy Corto Plazo</text>
</g>
<g clip-path="url(#cr)">
<g shape-rendering="crispEdges" fill="none" stroke-width="2.6"><path stroke="#3a70a4" d="M1574.4 792.8h20.4M1577.8 795.1h10.2M1571 797.5h6.8M1581.2 797.5h3.4M1588 797.5h3.4M1571 799.8h6.8M1581.2 799.8h3.4M1588 799.8h3.4M1571 802h17M1571 804.3h3.4M1577.8 804.3h3.4M1584.6 804.3h3.4M1571 806.6h3.4M1581.2 806.6h3.4M1591.4 806.6h3.4M1581.2 809h13.6M1584.6 811.2h6.8M1594.8 811.2h6.8M1571 813.5h6.8M1584.6 813.5h3.4M1591.4 813.5h6.8M1571 818.1h3.4M1598.2 818.1h6.8M1581.2 820.5h3.4M1571 822.8h3.4M1584.6 822.8h3.4M1571 825h3.4M1577.8 825h3.4M1598.2 825h3.4M1605 825h3.4M1571 827.3h3.4M1581.2 827.3h3.4M1591.4 827.3h6.8M1608.4 827.3h13.6M1574.4 829.6h13.6M1591.4 829.6h3.4M1581.2 832h10.2M1571 834.2h6.8M1588 834.2h17M1574.4 836.5h6.8M1584.6 836.5h6.8M1594.8 836.5h6.8M1571 838.8h10.2M1581.2 841.1h3.4M1594.8 841.1h3.4M1571 843.5h6.8M1588 843.5h3.4M1594.8 843.5h3.4M1581.2 845.8h3.4M1577.8 848h10.2M1598.2 848h3.4M1574.4 850.3h3.4M1581.2 850.3h3.4M1588 850.3h10.2M1571 852.6h3.4M1577.8 852.6h6.8M1588 852.6h3.4M1601.6 852.6h3.4M1571 857.2h3.4M1577.8 857.2h3.4M1598.2 857.2h6.8M1571 861.8h3.4M1581.2 861.8h3.4M1601.6 864.1h3.4M1574.4 866.5h3.4M1584.6 866.5h3.4M1598.2 866.5h3.4M1581.2 868.8h3.4M1601.6 868.8h3.4M1571 871h3.4M1577.8 871h3.4M1577.8 873.3h3.4M1584.6 873.3h3.4M1594.8 873.3h3.4M1571 875.6h3.4M1577.8 875.6h6.8M1594.8 875.6h3.4M1571 878h3.4M1577.8 878h6.8M1591.4 878h3.4M1601.6 878h3.4M1571 880.2h10.2M1584.6 880.2h3.4M1594.8 880.2h3.4M1571 882.5h6.8M1581.2 882.5h3.4M1574.4 884.8h3.4M1584.6 884.8h6.8M1598.2 884.8h6.8M1571 887.1h10.2M1584.6 887.1h3.4M1598.2 887.1h3.4M1574.4 889.5h3.4M1588 889.5h13.6M1581.2 891.8h3.4M1591.4 891.8h10.2M1608.4 891.8h6.8M1577.8 894h3.4M1584.6 894h3.4M1591.4 894h3.4M1622 894h6.8M1581.2 896.3h6.8M1574.4 898.6h3.4M1584.6 898.6h3.4M1598.2 898.6h3.4M1577.8 900.9h3.4M1584.6 900.9h3.4M1594.8 900.9h3.4M1577.8 903.2h6.8M1588 903.2h13.6M1611.8 903.2h6.8M1584.6 905.5h3.4M1591.4 905.5h3.4M1598.2 905.5h6.8M1584.6 907.8h3.4M1591.4 907.8h10.2M1571 910.1h3.4M1584.6 910.1h6.8M1598.2 910.1h3.4M1574.4 912.4h3.4M1584.6 912.4h10.2M1571 914.8h6.8M1581.2 914.8h3.4M1588 914.8h3.4M1594.8 914.8h6.8M1611.8 914.8h3.4M1574.4 917h3.4M1581.2 917h6.8M1591.4 917h3.4M1598.2 917h3.4M1571 919.3h6.8M1581.2 919.3h3.4M1588 919.3h3.4M1594.8 919.3h3.4M1571 921.6h3.4M1577.8 921.6h6.8M1588 921.6h6.8M1601.6 921.6h3.4M1571 923.9h34M1571 926.2h3.4M1577.8 926.2h3.4M1594.8 926.2h10.2M1571 928.5h13.6M1588 928.5h6.8M1601.6 928.5h6.8M1574.4 930.8h6.8M1584.6 930.8h6.8M1574.4 933.1h3.4M1581.2 933.1h3.4M1588 933.1h10.2M1577.8 935.4h6.8M1588 935.4h3.4M1571 937.8h3.4M1581.2 937.8h6.8M1598.2 937.8h3.4M1574.4 940h10.2M1571 942.3h3.4M1577.8 942.3h6.8M1598.2 942.3h6.8M1588 944.6h10.2M1571 946.9h13.6M1591.4 946.9h13.6M1618.6 946.9h3.4M1581.2 949.2h10.2M1594.8 949.2h3.4M1571 951.5h3.4M1581.2 951.5h3.4M1588 951.5h6.8M1571 953.8h10.2M1594.8 953.8h3.4M1571 956.1h3.4M1577.8 956.1h13.6M1594.8 956.1h3.4M1571 958.4h6.8M1584.6 958.4h17M1571 960.8h6.8M1588 960.8h13.6M1574.4 963h6.8M1591.4 963h6.8M1571 965.3h3.4M1598.2 965.3h3.4M1574.4 967.6h3.4M1581.2 967.6h3.4M1588 967.6h6.8M1574.4 969.9h3.4M1581.2 969.9h10.2M1598.2 969.9h3.4M1571 972.2h3.4M1577.8 972.2h3.4M1588 972.2h10.2M1611.8 972.2h3.4M1571 974.5h3.4M1591.4 974.5h3.4M1601.6 974.5h10.2M1622 974.5h6.8M1571 976.8h3.4M1577.8 976.8h10.2M1591.4 976.8h6.8M1571 979.1h13.6M1594.8 979.1h6.8M1574.4 981.4h6.8M1588 981.4h13.6M1571 983.8h3.4M1584.6 983.8h13.6M1601.6 983.8h3.4M1571 986h3.4M1591.4 986h6.8M1605 986h3.4M1577.8 988.3h3.4M1601.6 988.3h3.4M1577.8 990.6h3.4M1584.6 990.6h10.2M1581.2 992.9h13.6M1601.6 992.9h3.4M1571 995.2h3.4M1581.2 995.2h3.4M1588 995.2h3.4M1571 997.5h3.4M1577.8 997.5h3.4M1588 997.5h3.4M1594.8 997.5h3.4M1577.8 999.8h6.8M1598.2 999.8h3.4M1574.4 1002.1h3.4M1581.2 1002.1h3.4M1591.4 1002.1h6.8M1618.6 1002.1h3.4M1581.2 1004.4h3.4M1588 1004.4h3.4M1598.2 1004.4h3.4M1571 1006.8h3.4M1591.4 1006.8h3.4M1611.8 1006.8h6.8M1577.8 1009h3.4M1594.8 1009h6.8M1577.8 1011.3h3.4M1588 1011.3h3.4M1594.8 1011.3h6.8M1574.4 1013.6h3.4M1591.4 1013.6h6.8M1601.6 1013.6h3.4M1577.8 1015.9h3.4M1584.6 1015.9h3.4M1594.8 1015.9h3.4M1571 1018.2h6.8M1584.6 1018.2h3.4M1594.8 1018.2h6.8M1611.8 1018.2h6.8M1571 1020.5h3.4M1577.8 1020.5h3.4M1594.8 1020.5h3.4M1571 1022.8h3.4M1581.2 1022.8h3.4M1588 1022.8h3.4M1594.8 1022.8h3.4M1577.8 1025.2h10.2M1591.4 1025.2h10.2M1611.8 1025.2h6.8M1571 1027.4h6.8M1581.2 1027.4h6.8M1591.4 1027.4h3.4M1611.8 1027.4h6.8M1577.8 1029.8h3.4M1584.6 1029.8h6.8M1598.2 1029.8h3.4M1571 1032h3.4M1577.8 1032h6.8M1588 1032h6.8M1611.8 1032h6.8M1577.8 1034.3h6.8M1588 1034.3h3.4M1598.2 1034.3h3.4M1571 1036.7h3.4M1577.8 1036.7h3.4M1591.4 1036.7h3.4M1598.2 1036.7h3.4M1581.2 1038.9h3.4M1591.4 1038.9h6.8M1577.8 1041.2h10.2M1611.8 1041.2h3.4M1571 1043.5h6.8M1581.2 1043.5h6.8M1598.2 1043.5h3.4M1581.2 1045.8h10.2M1594.8 1045.8h6.8M1605 1045.8h3.4M1577.8 1048.2h3.4M1584.6 1048.2h3.4M1591.4 1048.2h3.4M1598.2 1048.2h6.8M1571 1050.4h3.4M1577.8 1050.4h3.4M1584.6 1050.4h13.6M1601.6 1050.4h3.4M1577.8 1052.8h3.4M1584.6 1052.8h3.4M1577.8 1055h6.8M1588 1055h13.6M1584.6 1057.3h3.4M1591.4 1057.3h6.8M1577.8 1059.7h6.8M1588 1059.7h6.8M1601.6 1059.7h3.4M1577.8 1061.9h6.8M1588 1061.9h6.8M1571 1064.2h10.2M1584.6 1064.2h6.8M1594.8 1064.2h3.4M1611.8 1064.2h6.8M1577.8 1066.5h10.2M1591.4 1066.5h6.8M1601.6 1066.5h3.4M1571 1068.8h10.2M1584.6 1068.8h6.8M1598.2 1068.8h3.4M1574.4 1071.2h6.8M1584.6 1071.2h3.4M1594.8 1071.2h6.8M1574.4 1073.4h10.2M1598.2 1073.4h3.4M1571 1075.8h10.2M1588 1075.8h3.4M1598.2 1075.8h3.4M1574.4 1078h3.4M1581.2 1078h6.8M1598.2 1078h3.4M1577.8 1080.3h3.4M1588 1080.3h6.8M1598.2 1080.3h3.4M1574.4 1082.7h10.2M1588 1082.7h3.4M1598.2 1082.7h3.4M1577.8 1084.9h6.8M1594.8 1084.9h3.4M1571 1087.2h6.8M1591.4 1087.2h3.4M1598.2 1087.2h3.4M1608.4 1087.2h6.8M1571 1089.5h3.4M1577.8 1089.5h3.4M1584.6 1089.5h6.8M1594.8 1089.5h3.4M1581.2 1091.8h3.4M1591.4 1091.8h3.4M1598.2 1091.8h6.8M1622 1091.8h3.4M1571 1094.2h23.8M1598.2 1094.2h6.8M1611.8 1094.2h6.8M1571 1096.4h3.4M1577.8 1096.4h6.8M1598.2 1096.4h3.4M1611.8 1096.4h6.8M1571 1098.8h3.4M1584.6 1098.8h6.8M1594.8 1098.8h3.4M1571 1101h6.8M1588 1101h3.4M1594.8 1101h3.4M1574.4 1103.3h3.4M1584.6 1103.3h6.8M1571 1105.7h6.8M1581.2 1105.7h6.8M1591.4 1105.7h3.4M1574.4 1107.9h3.4M1581.2 1107.9h10.2M1584.6 1110.2h3.4M1594.8 1110.2h3.4M1571 1112.5h3.4M1577.8 1112.5h3.4M1584.6 1112.5h3.4M1571 1114.8h3.4M1584.6 1114.8h6.8M1571 1117.2h6.8M1581.2 1117.2h10.2M1598.2 1117.2h3.4M1574.4 1119.4h6.8M1584.6 1119.4h3.4M1571 1121.8h3.4M1577.8 1121.8h3.4M1588 1121.8h6.8M1574.4 1124h3.4M1581.2 1124h10.2M1574.4 1126.3h3.4M1591.4 1126.3h3.4M1577.8 1128.7h6.8M1571 1130.9h3.4M1577.8 1130.9h6.8M1588 1130.9h3.4M1571 1133.2h6.8M1581.2 1133.2h3.4M1574.4 1135.5h3.4M1584.6 1135.5h3.4M1584.6 1137.8h3.4M1581.2 1140.2h3.4M1574.4 1142.4h13.6M1574.4 1144.8h3.4M1588 1144.8h3.4M1571 1147h3.4M1577.8 1147h3.4M1574.4 1149.3h6.8M1571 1151.7h6.8M1581.2 1151.7h6.8M1571 1153.9h10.2M1584.6 1153.9h6.8M1577.8 1156.2h6.8M1588 1156.2h6.8M1571 1158.5h3.4M1581.2 1158.5h6.8M1571 1160.8h10.2M1584.6 1160.8h10.2M1577.8 1163.2h3.4M1571 1165.4h6.8M1571 1167.8h3.4M1577.8 1167.8h6.8"/><path stroke="#3c6496" d="M1571 792.8h3.4M1571 795.1h3.4M1577.8 797.5h3.4M1584.6 797.5h3.4M1584.6 799.8h3.4M1588 802h6.8M1574.4 804.3h3.4M1581.2 804.3h3.4M1591.4 804.3h10.2M1577.8 806.6h3.4M1584.6 806.6h3.4M1577.8 809h3.4M1577.8 811.2h6.8M1577.8 813.5h3.4M1574.4 815.8h10.2M1588 815.8h10.2M1584.6 818.1h3.4M1574.4 820.5h3.4M1591.4 822.8h3.4M1601.6 825h3.4M1577.8 827.3h3.4M1571 829.6h3.4M1571 832h10.2M1594.8 832h3.4M1577.8 834.2h6.8M1571 836.5h3.4M1581.2 836.5h3.4M1581.2 838.8h17M1574.4 841.1h3.4M1584.6 841.1h3.4M1577.8 843.5h10.2M1584.6 845.8h3.4M1591.4 845.8h6.8M1591.4 848h3.4M1571 850.3h3.4M1577.8 850.3h3.4M1594.8 852.6h6.8M1571 855h6.8M1581.2 855h17M1591.4 859.5h3.4M1577.8 861.8h3.4M1598.2 861.8h3.4M1577.8 864.1h3.4M1598.2 864.1h3.4M1577.8 868.8h3.4M1584.6 868.8h3.4M1591.4 868.8h6.8M1574.4 871h3.4M1581.2 871h6.8M1591.4 871h6.8M1571 873.3h6.8M1581.2 873.3h3.4M1591.4 873.3h3.4M1598.2 873.3h6.8M1574.4 875.6h3.4M1588 875.6h3.4M1598.2 875.6h3.4M1574.4 878h3.4M1584.6 878h6.8M1588 880.2h6.8M1598.2 880.2h3.4M1577.8 882.5h3.4M1591.4 882.5h3.4M1581.2 884.8h3.4M1591.4 884.8h6.8M1605 884.8h3.4M1581.2 887.1h3.4M1591.4 887.1h3.4M1584.6 889.5h3.4M1571 891.8h3.4M1577.8 891.8h3.4M1584.6 891.8h3.4M1571 894h3.4M1605 894h3.4M1591.4 896.3h3.4M1598.2 896.3h3.4M1588 898.6h3.4M1594.8 898.6h3.4M1574.4 900.9h3.4M1581.2 900.9h3.4M1588 900.9h3.4M1574.4 903.2h3.4M1581.2 905.5h3.4M1588 905.5h3.4M1594.8 905.5h3.4M1574.4 907.8h3.4M1581.2 907.8h3.4M1601.6 907.8h3.4M1577.8 910.1h3.4M1591.4 910.1h3.4M1571 912.4h3.4M1577.8 912.4h6.8M1594.8 912.4h3.4M1601.6 912.4h6.8M1577.8 914.8h3.4M1571 917h3.4M1577.8 917h3.4M1588 917h3.4M1594.8 917h3.4M1577.8 919.3h3.4M1584.6 919.3h3.4M1591.4 919.3h3.4M1601.6 919.3h6.8M1594.8 921.6h6.8M1605 923.9h3.4M1588 926.2h6.8M1584.6 928.5h3.4M1594.8 928.5h6.8M1571 930.8h3.4M1591.4 930.8h6.8M1571 933.1h3.4M1577.8 933.1h3.4M1591.4 935.4h3.4M1588 937.8h10.2M1588 940h3.4M1594.8 940h6.8M1588 942.3h10.2M1605 942.3h3.4M1571 944.6h10.2M1598.2 944.6h3.4M1571 949.2h6.8M1591.4 949.2h3.4M1598.2 949.2h3.4M1577.8 951.5h3.4M1598.2 951.5h3.4M1591.4 953.8h3.4M1574.4 956.1h3.4M1591.4 956.1h3.4M1601.6 956.1h3.4M1601.6 958.4h3.4M1577.8 960.8h10.2M1571 963h3.4M1588 963h3.4M1574.4 965.3h3.4M1581.2 965.3h6.8M1591.4 965.3h6.8M1601.6 965.3h6.8M1571 967.6h3.4M1584.6 967.6h3.4M1594.8 967.6h10.2M1571 969.9h3.4M1594.8 969.9h3.4M1601.6 969.9h3.4M1584.6 972.2h3.4M1577.8 974.5h6.8M1598.2 974.5h3.4M1598.2 976.8h3.4M1591.4 979.1h3.4M1601.6 979.1h3.4M1601.6 981.4h3.4M1581.2 983.8h3.4M1598.2 983.8h3.4M1577.8 986h10.2M1598.2 986h3.4M1581.2 988.3h6.8M1594.8 988.3h3.4M1571 990.6h6.8M1581.2 990.6h3.4M1594.8 990.6h3.4M1574.4 992.9h6.8M1598.2 992.9h3.4M1577.8 995.2h3.4M1591.4 995.2h6.8M1581.2 997.5h6.8M1598.2 997.5h3.4M1571 999.8h6.8M1591.4 999.8h6.8M1577.8 1002.1h3.4M1584.6 1002.1h3.4M1598.2 1002.1h3.4M1605 1002.1h3.4M1571 1004.4h3.4M1594.8 1004.4h3.4M1577.8 1006.8h3.4M1584.6 1006.8h3.4M1594.8 1006.8h3.4M1571 1009h3.4M1588 1009h6.8M1605 1009h3.4M1571 1011.3h3.4M1581.2 1011.3h6.8M1591.4 1011.3h3.4M1577.8 1013.6h6.8M1598.2 1013.6h3.4M1571 1015.9h6.8M1581.2 1015.9h3.4M1588 1015.9h3.4M1598.2 1015.9h3.4M1588 1018.2h6.8M1584.6 1020.5h3.4M1591.4 1020.5h3.4M1598.2 1020.5h3.4M1591.4 1022.8h3.4M1571 1025.2h3.4M1588 1027.4h3.4M1594.8 1027.4h6.8M1571 1029.8h3.4M1591.4 1029.8h6.8M1574.4 1032h3.4M1584.6 1032h3.4M1574.4 1034.3h3.4M1584.6 1034.3h3.4M1591.4 1034.3h3.4M1601.6 1034.3h6.8M1574.4 1036.7h3.4M1584.6 1036.7h3.4M1594.8 1036.7h3.4M1601.6 1036.7h3.4M1571 1038.9h6.8M1588 1038.9h3.4M1577.8 1043.5h3.4M1588 1043.5h10.2M1571 1045.8h3.4M1577.8 1045.8h3.4M1601.6 1045.8h3.4M1574.4 1048.2h3.4M1581.2 1048.2h3.4M1574.4 1050.4h3.4M1598.2 1050.4h3.4M1571 1052.8h6.8M1588 1052.8h3.4M1594.8 1052.8h6.8M1605 1055h3.4M1571 1057.3h3.4M1577.8 1057.3h3.4M1598.2 1057.3h6.8M1574.4 1059.7h3.4M1584.6 1059.7h3.4M1594.8 1059.7h6.8M1571 1061.9h6.8M1584.6 1061.9h3.4M1581.2 1064.2h3.4M1574.4 1066.5h3.4M1588 1066.5h3.4M1598.2 1066.5h3.4M1581.2 1068.8h3.4M1591.4 1068.8h6.8M1581.2 1071.2h3.4M1591.4 1071.2h3.4M1601.6 1071.2h3.4M1591.4 1073.4h3.4M1581.2 1075.8h6.8M1591.4 1075.8h6.8M1594.8 1078h3.4M1574.4 1080.3h3.4M1581.2 1080.3h6.8M1594.8 1080.3h3.4M1601.6 1080.3h3.4M1571 1082.7h3.4M1584.6 1082.7h3.4M1591.4 1082.7h6.8M1574.4 1084.9h3.4M1588 1084.9h3.4M1598.2 1084.9h3.4M1581.2 1087.2h10.2M1574.4 1089.5h3.4M1571 1091.8h6.8M1588 1091.8h3.4M1594.8 1094.2h3.4M1588 1096.4h10.2M1574.4 1098.8h3.4M1581.2 1098.8h3.4M1581.2 1101h6.8M1591.4 1101h3.4M1598.2 1101h3.4M1571 1103.3h3.4M1577.8 1103.3h3.4M1591.4 1103.3h3.4M1577.8 1105.7h3.4M1588 1105.7h3.4M1594.8 1105.7h3.4M1571 1107.9h3.4M1591.4 1107.9h3.4M1571 1110.2h3.4M1581.2 1110.2h3.4M1574.4 1112.5h3.4M1588 1112.5h3.4M1581.2 1114.8h3.4M1591.4 1114.8h3.4M1594.8 1117.2h3.4M1571 1119.4h3.4M1581.2 1119.4h3.4M1574.4 1121.8h3.4M1581.2 1121.8h6.8M1577.8 1124h3.4M1571 1126.3h3.4M1581.2 1126.3h10.2M1574.4 1128.7h3.4M1584.6 1128.7h10.2M1577.8 1133.2h3.4M1584.6 1133.2h3.4M1581.2 1135.5h3.4M1588 1135.5h3.4M1571 1137.8h3.4M1577.8 1137.8h6.8M1588 1137.8h3.4M1588 1140.2h3.4M1577.8 1144.8h6.8M1591.4 1144.8h3.4M1584.6 1147h3.4M1571 1149.3h3.4M1581.2 1149.3h10.2M1581.2 1153.9h3.4M1584.6 1156.2h3.4M1574.4 1158.5h6.8M1581.2 1160.8h3.4M1594.8 1160.8h3.4M1571 1163.2h3.4M1581.2 1163.2h6.8M1577.8 1165.4h6.8M1574.4 1167.8h3.4M1584.6 1167.8h3.4"/><path stroke="#367cb0" d="M1574.4 742.2h20.4M1574.4 744.5h20.4M1574.4 746.8h20.4M1588 795.1h3.4M1591.4 797.5h3.4M1591.4 799.8h3.4M1594.8 802h6.8M1588 804.3h3.4M1588 806.6h3.4M1594.8 809h3.4M1591.4 811.2h3.4M1581.2 813.5h3.4M1588 813.5h3.4M1598.2 813.5h3.4M1584.6 815.8h3.4M1598.2 820.5h3.4M1584.6 827.3h6.8M1588 829.6h3.4M1594.8 829.6h6.8M1591.4 832h3.4M1598.2 832h3.4M1584.6 834.2h3.4M1591.4 836.5h3.4M1588 841.1h6.8M1591.4 843.5h3.4M1588 845.8h3.4M1588 848h3.4M1594.8 848h3.4M1584.6 850.3h3.4M1598.2 850.3h3.4M1584.6 852.6h3.4M1591.4 852.6h3.4M1594.8 861.8h3.4M1594.8 864.1h3.4M1601.6 866.5h3.4M1588 868.8h3.4M1598.2 868.8h3.4M1588 871h3.4M1598.2 871h3.4M1588 873.3h3.4M1584.6 875.6h3.4M1591.4 875.6h3.4M1594.8 878h6.8M1581.2 880.2h3.4M1584.6 882.5h6.8M1594.8 882.5h3.4M1588 887.1h3.4M1594.8 887.1h3.4M1601.6 887.1h3.4M1581.2 889.5h3.4M1601.6 889.5h3.4M1588 891.8h3.4M1581.2 894h3.4M1588 894h3.4M1594.8 894h10.2M1588 896.3h3.4M1594.8 896.3h3.4M1601.6 896.3h3.4M1581.2 898.6h3.4M1591.4 898.6h3.4M1591.4 900.9h3.4M1584.6 903.2h3.4M1588 907.8h3.4M1581.2 910.1h3.4M1594.8 910.1h3.4M1598.2 912.4h3.4M1584.6 914.8h3.4M1591.4 914.8h3.4M1601.6 917h3.4M1598.2 919.3h3.4M1584.6 921.6h3.4M1581.2 926.2h6.8M1581.2 930.8h3.4M1598.2 930.8h3.4M1584.6 933.1h3.4M1584.6 935.4h3.4M1594.8 935.4h10.2M1601.6 937.8h3.4M1584.6 940h3.4M1591.4 940h3.4M1601.6 940h3.4M1584.6 942.3h3.4M1608.4 942.3h3.4M1581.2 944.6h6.8M1584.6 946.9h6.8M1584.6 951.5h3.4M1594.8 951.5h3.4M1581.2 953.8h10.2M1598.2 953.8h6.8M1598.2 956.1h3.4M1581.2 958.4h3.4M1581.2 963h6.8M1588 965.3h3.4M1591.4 969.9h3.4M1581.2 972.2h3.4M1598.2 972.2h3.4M1584.6 974.5h6.8M1594.8 974.5h3.4M1588 976.8h3.4M1584.6 979.1h6.8M1605 979.1h3.4M1581.2 981.4h6.8M1605 981.4h3.4M1605 983.8h3.4M1588 986h3.4M1601.6 986h3.4M1588 988.3h6.8M1598.2 988.3h3.4M1598.2 990.6h6.8M1594.8 992.9h3.4M1584.6 995.2h3.4M1591.4 997.5h3.4M1584.6 999.8h6.8M1588 1002.1h3.4M1601.6 1002.1h3.4M1584.6 1004.4h3.4M1591.4 1004.4h3.4M1581.2 1006.8h3.4M1588 1006.8h3.4M1581.2 1009h6.8M1601.6 1009h3.4M1601.6 1011.3h6.8M1584.6 1013.6h6.8M1605 1013.6h3.4M1591.4 1015.9h3.4M1581.2 1018.2h3.4M1581.2 1020.5h3.4M1588 1020.5h3.4M1601.6 1020.5h3.4M1584.6 1022.8h3.4M1598.2 1022.8h3.4M1588 1025.2h3.4M1601.6 1025.2h3.4M1581.2 1029.8h3.4M1594.8 1032h3.4M1594.8 1034.3h3.4M1581.2 1036.7h3.4M1588 1036.7h3.4M1584.6 1038.9h3.4M1598.2 1038.9h3.4M1588 1041.2h6.8M1591.4 1045.8h3.4M1588 1048.2h3.4M1594.8 1048.2h3.4M1581.2 1050.4h3.4M1581.2 1052.8h3.4M1591.4 1052.8h3.4M1584.6 1055h3.4M1601.6 1055h3.4M1581.2 1057.3h3.4M1588 1057.3h3.4M1594.8 1061.9h6.8M1591.4 1064.2h3.4M1605 1066.5h3.4M1588 1071.2h3.4M1584.6 1073.4h6.8M1594.8 1073.4h3.4M1588 1078h6.8M1584.6 1084.9h3.4M1591.4 1084.9h3.4M1594.8 1087.2h3.4M1581.2 1089.5h3.4M1591.4 1089.5h3.4M1598.2 1089.5h3.4M1584.6 1091.8h3.4M1594.8 1091.8h3.4M1584.6 1096.4h3.4M1591.4 1098.8h3.4M1598.2 1098.8h3.4M1581.2 1103.3h3.4M1598.2 1105.7h3.4M1588 1110.2h6.8M1581.2 1112.5h3.4M1591.4 1117.2h3.4M1591.4 1124h3.4M1584.6 1130.9h3.4M1588 1133.2h6.8M1584.6 1140.2h3.4M1584.6 1144.8h3.4M1581.2 1147h3.4M1588 1147h3.4M1588 1167.8h3.4M1618.6 1278.2h30.6M1608.4 1280.4h20.4M1645.8 1280.4h10.2M1605 1282.8h17M1645.8 1282.8h6.8M1611.8 1285h13.6M1645.8 1285h6.8M1622 1287.3h30.6M1622 1289.7h23.8"/><path stroke="#2e88bc" d="M1605 401.9h17M1601.6 404.1h34M1601.6 406.4h23.8M1632.2 406.4h20.4M1594.8 408.8h17M1635.6 408.8h23.8M1591.4 411.1h20.4M1642.4 411.1h17M1591.4 413.4h20.4M1639 413.4h17M1591.4 415.6h20.4M1635.6 415.6h23.8M1594.8 417.9h20.4M1635.6 417.9h20.4M1598.2 420.2h20.4M1622 420.2h3.4M1635.6 420.2h10.2M1601.6 422.6h20.4M1673 436.4h10.2M1669.6 438.6h20.4M1669.6 440.9h20.4M1669.6 443.2h17M1669.6 445.6h10.2M1611.8 457.1h17M1608.4 459.4h27.2M1598.2 461.6h37.4M1598.2 463.9h54.4M1598.2 466.2h54.4M1594.8 468.6h61.2M1584.6 470.9h13.6M1625.4 470.9h30.6M1581.2 473.1h20.4M1628.8 473.1h30.6M1581.2 475.4h10.2M1639 475.4h20.4M1584.6 477.8h6.8M1642.4 477.8h17M1645.8 480.1h13.6M1642.4 482.4h17M1645.8 484.6h10.2M1598.2 512.2h23.8M1625.4 512.2h6.8M1635.6 512.2h3.4M1591.4 514.5h71.4M1591.4 516.9h71.4M1591.4 519.1h74.8M1608.4 521.5h34M1588 569.8h6.8M1581.2 572h17M1581.2 574.4h17M1584.6 576.6h13.6M1574.4 795.1h3.4M1577.8 799.8h3.4M1574.4 806.6h3.4M1571 809h6.8M1571 811.2h6.8M1571 815.8h3.4M1574.4 818.1h10.2M1588 818.1h10.2M1571 820.5h3.4M1577.8 820.5h3.4M1584.6 820.5h13.6M1574.4 822.8h10.2M1588 822.8h3.4M1594.8 822.8h3.4M1574.4 825h3.4M1581.2 825h17M1574.4 827.3h3.4M1571 841.1h3.4M1577.8 841.1h3.4M1571 845.8h10.2M1571 848h6.8M1574.4 852.6h3.4M1577.8 855h3.4M1574.4 857.2h3.4M1581.2 857.2h17M1571 859.5h20.4M1594.8 859.5h3.4M1574.4 861.8h3.4M1584.6 861.8h10.2M1571 864.1h6.8M1581.2 864.1h13.6M1571 866.5h3.4M1577.8 866.5h6.8M1588 866.5h10.2M1571 868.8h6.8M1571 884.8h3.4M1577.8 884.8h3.4M1571 889.5h3.4M1577.8 889.5h3.4M1574.4 891.8h3.4M1574.4 894h3.4M1571 896.3h10.2M1571 898.6h3.4M1577.8 898.6h3.4M1571 900.9h3.4M1571 903.2h3.4M1571 905.5h10.2M1571 907.8h3.4M1577.8 907.8h3.4M1574.4 910.1h3.4M1574.4 921.6h3.4M1574.4 926.2h3.4M1571 935.4h6.8M1574.4 937.8h6.8M1571 940h3.4M1577.8 949.2h3.4M1577.8 958.4h3.4M1577.8 965.3h3.4M1577.8 967.6h3.4M1577.8 969.9h3.4M1574.4 972.2h3.4M1571 981.4h3.4M1577.8 983.8h3.4M1571 988.3h3.4M1571 992.9h3.4M1574.4 995.2h3.4M1571 1002.1h3.4M1577.8 1004.4h3.4M1571 1013.6h3.4M1577.8 1018.2h3.4M1577.8 1022.8h3.4M1577.8 1027.4h3.4M1571 1034.3h3.4M1577.8 1038.9h3.4M1571 1041.2h6.8M1574.4 1045.8h3.4M1571 1048.2h3.4M1571 1055h6.8M1574.4 1057.3h3.4M1571 1059.7h3.4M1571 1066.5h3.4M1571 1071.2h3.4M1571 1073.4h3.4M1571 1078h3.4M1577.8 1078h3.4M1571 1080.3h3.4M1571 1084.9h3.4M1577.8 1087.2h3.4M1577.8 1091.8h3.4M1574.4 1096.4h3.4M1577.8 1098.8h3.4M1577.8 1101h3.4M1577.8 1107.9h3.4M1574.4 1110.2h6.8M1574.4 1114.8h6.8M1577.8 1117.2h3.4M1571 1124h3.4M1577.8 1126.3h3.4M1571 1128.7h3.4M1574.4 1130.9h3.4M1571 1135.5h3.4M1577.8 1135.5h3.4M1574.4 1137.8h3.4M1571 1140.2h10.2M1571 1142.4h3.4M1571 1144.8h3.4M1574.4 1147h3.4M1577.8 1151.7h3.4M1571 1156.2h6.8M1574.4 1163.2h3.4M1669.6 1170h6.8M1673 1172.3h6.8M1676.4 1174.7h6.8M1628.8 1280.4h17M1622 1282.8h23.8M1625.4 1285h20.4"/><path stroke="#54f038" d="M1574.4 942.3h3.4M1574.4 951.5h3.4M1574.4 974.5h3.4M1574.4 976.8h3.4M1574.4 983.8h3.4M1574.4 986h3.4M1574.4 988.3h3.4M1574.4 997.5h3.4M1574.4 1004.4h3.4M1574.4 1006.8h3.4M1574.4 1009h3.4M1574.4 1011.3h3.4M1574.4 1020.5h3.4M1574.4 1022.8h3.4M1574.4 1025.2h3.4M1574.4 1029.8h3.4"/><path stroke="#2a94c4" d="M1625.4 406.4h6.8M1611.8 408.8h23.8M1611.8 411.1h30.6M1611.8 413.4h27.2M1611.8 415.6h23.8M1615.2 417.9h20.4M1618.6 420.2h3.4M1625.4 420.2h10.2M1608.4 427.1h3.4M1622 427.1h3.4M1628.8 427.1h10.2M1601.6 429.4h68M1598.2 431.8h64.6M1666.2 431.8h6.8M1598.2 434.1h6.8M1618.6 434.1h6.8M1639 434.1h10.2M1669.6 434.1h3.4M1584.6 436.4h6.8M1642.4 436.4h3.4M1581.2 438.6h10.2M1584.6 440.9h10.2M1591.4 443.2h6.8M1642.4 447.9h13.6M1635.6 450.1h20.4M1659.4 450.1h3.4M1608.4 452.4h3.4M1635.6 452.4h27.2M1611.8 454.8h30.6M1649.2 454.8h6.8M1628.8 457.1h3.4M1591.4 475.4h47.6M1591.4 477.8h51M1588 480.1h57.8M1588 482.4h54.4M1591.4 484.6h54.4M1584.6 486.9h17M1642.4 486.9h6.8M1652.6 486.9h3.4M1584.6 489.2h13.6M1645.8 489.2h6.8M1656 489.2h10.2M1584.6 491.6h3.4M1656 491.6h17M1669.6 493.9h3.4M1669.6 496.1h3.4M1673 500.8h3.4M1666.2 505.4h6.8M1649.2 507.6h3.4M1656 507.6h13.6M1584.6 509.9h6.8M1649.2 509.9h13.6M1581.2 512.2h17M1632.2 512.2h3.4M1645.8 512.2h10.2M1584.6 514.5h6.8M1588 516.9h3.4M1601.6 521.5h6.8M1642.4 521.5h3.4M1605 556h3.4M1611.8 556h17M1601.6 558.2h30.6M1598.2 560.5h37.4M1594.8 562.9h34M1642.4 562.9h10.2M1594.8 565.1h30.6M1649.2 565.1h3.4M1584.6 567.5h20.4M1577.8 569.8h10.2M1594.8 569.8h6.8M1577.8 572h3.4M1598.2 572h3.4M1598.2 574.4h10.2M1652.6 574.4h6.8M1598.2 576.6h10.2M1652.6 576.6h6.8M1584.6 579h44.2M1652.6 579h3.4M1588 581.2h3.4M1594.8 581.2h61.2M1601.6 583.5h20.4M1642.4 583.5h6.8M1642.4 1167.8h6.8M1683.2 1190.8h3.4M1679.8 1193h6.8M1679.8 1195.3h3.4"/><path stroke="#2aaed8" d="M1696.8 404.1h3.4M1690 406.4h23.8M1679.8 408.8h37.4M1676.4 411.1h44.2M1673 413.4h3.4M1683.2 413.4h34M1686.6 415.6h27.2M1686.6 417.9h30.6M1690 420.2h27.2M1676.4 1199.9h3.4M1676.4 1202.2h3.4M1676.4 1204.5h6.8M1669.6 1206.8h13.6M1666.2 1209.2h13.6M1662.8 1211.4h20.4M1659.4 1213.8h23.8M1659.4 1216h20.4M1588 1218.3h17M1611.8 1218.3h10.2M1632.2 1218.3h3.4M1652.6 1218.3h27.2M1584.6 1220.7h54.4M1642.4 1220.7h3.4M1649.2 1220.7h20.4M1584.6 1222.9h74.8M1588 1225.2h71.4M1591.4 1227.5h64.6M1598.2 1229.8h57.8M1605 1232.2h47.6M1608.4 1234.4h17M1642.4 1234.4h6.8"/><path stroke="#26a0ce" d="M1676.4 413.4h6.8M1666.2 415.6h20.4M1656 417.9h30.6M1652.6 420.2h37.4M1645.8 422.6h37.4M1645.8 424.9h34M1649.2 427.1h3.4M1662.8 427.1h6.8M1662.8 431.8h3.4M1649.2 434.1h20.4M1645.8 436.4h23.8M1649.2 438.6h20.4M1656 440.9h13.6M1659.4 443.2h10.2M1652.6 445.6h17M1656 447.9h6.8M1656 450.1h3.4"/><path stroke="#48d430" d="M1605 434.1h13.6M1625.4 434.1h13.6M1591.4 436.4h37.4M1639 436.4h3.4M1591.4 438.6h27.2M1642.4 438.6h6.8M1594.8 440.9h17M1642.4 440.9h13.6M1598.2 443.2h13.6M1642.4 443.2h17M1591.4 445.6h20.4M1645.8 445.6h6.8M1591.4 447.9h30.6M1639 447.9h3.4M1598.2 450.1h37.4M1605 452.4h3.4M1611.8 452.4h23.8M1598.2 470.9h27.2M1601.6 473.1h27.2M1601.6 486.9h40.8M1598.2 489.2h27.2M1639 489.2h6.8M1588 491.6h13.6M1611.8 491.6h3.4M1645.8 491.6h3.4M1584.6 493.9h3.4M1662.8 493.9h6.8M1662.8 496.1h6.8M1669.6 498.4h3.4M1666.2 500.8h6.8M1666.2 503.1h6.8M1584.6 507.6h20.4M1645.8 507.6h3.4M1591.4 509.9h57.8M1622 512.2h3.4M1639 512.2h6.8M1628.8 562.9h13.6M1625.4 565.1h23.8M1605 567.5h10.2M1632.2 567.5h20.4M1601.6 569.8h13.6M1635.6 569.8h23.8M1601.6 572h10.2M1639 572h20.4M1608.4 574.4h3.4M1632.2 574.4h20.4M1608.4 576.6h17M1628.8 576.6h23.8M1628.8 579h23.8M1652.6 1167.8h17M1639 1170h30.6M1618.6 1172.3h3.4M1635.6 1172.3h37.4M1588 1174.7h3.4M1594.8 1174.7h6.8M1649.2 1174.7h27.2M1652.6 1176.9h30.6M1584.6 1179.2h3.4M1652.6 1179.2h30.6M1656 1181.5h27.2M1656 1183.8h30.6M1659.4 1186.2h27.2M1662.8 1188.4h23.8M1662.8 1190.8h20.4M1659.4 1193h20.4M1577.8 1195.3h6.8M1652.6 1195.3h27.2M1581.2 1197.7h27.2M1649.2 1197.7h30.6M1584.6 1199.9h10.2M1632.2 1199.9h44.2M1588 1202.2h3.4M1632.2 1202.2h44.2M1642.4 1204.5h34M1649.2 1206.8h20.4M1649.2 1209.2h17M1652.6 1211.4h10.2M1645.8 1213.8h13.6M1635.6 1216h23.8M1635.6 1218.3h17M1639 1220.7h3.4M1645.8 1220.7h3.4"/><path stroke="#3aae28" d="M1628.8 436.4h10.2M1618.6 438.6h6.8M1635.6 438.6h6.8M1611.8 440.9h10.2M1639 440.9h3.4M1611.8 443.2h10.2M1639 443.2h3.4M1611.8 445.6h13.6M1635.6 445.6h10.2M1622 447.9h17M1615.2 567.5h17M1615.2 569.8h3.4M1628.8 569.8h6.8M1611.8 572h6.8M1632.2 572h6.8M1611.8 574.4h10.2M1628.8 574.4h3.4M1625.4 576.6h3.4"/><path stroke="#34a024" d="M1625.4 438.6h10.2M1622 440.9h17M1622 443.2h17M1625.4 445.6h10.2M1625.4 489.2h13.6M1601.6 491.6h10.2M1615.2 491.6h30.6M1628.8 493.9h20.4M1581.2 496.1h6.8M1639 496.1h10.2M1581.2 498.4h6.8M1645.8 498.4h6.8M1656 500.8h3.4M1577.8 503.1h6.8M1649.2 503.1h6.8M1635.6 505.4h13.6M1622 507.6h23.8M1618.6 569.8h10.2M1618.6 572h13.6M1622 574.4h6.8M1594.8 1199.9h13.6M1591.4 1202.2h27.2M1622 1202.2h10.2M1588 1204.5h54.4M1588 1206.8h6.8M1618.6 1206.8h30.6M1625.4 1209.2h23.8M1584.6 1211.4h3.4M1625.4 1211.4h27.2M1581.2 1213.8h13.6M1618.6 1213.8h27.2M1588 1216h6.8M1618.6 1216h17M1622 1218.3h10.2"/><path stroke="#2c8620" d="M1652.6 489.2h3.4M1649.2 491.6h6.8M1649.2 493.9h13.6M1649.2 496.1h13.6M1652.6 498.4h17M1659.4 500.8h6.8M1656 503.1h10.2M1649.2 505.4h17M1652.6 507.6h3.4M1594.8 1206.8h23.8M1588 1209.2h37.4M1588 1211.4h37.4M1594.8 1213.8h23.8M1594.8 1216h23.8M1605 1218.3h6.8"/><path stroke="#e4e43c" d="M1588 493.9h40.8M1588 496.1h20.4M1588 498.4h3.4M1594.8 498.4h10.2M1639 498.4h6.8M1598.2 500.8h13.6M1635.6 500.8h20.4M1601.6 503.1h17M1625.4 503.1h23.8M1581.2 505.4h6.8M1598.2 505.4h37.4M1605 507.6h17M1622 1172.3h13.6M1601.6 1174.7h47.6M1598.2 1176.9h6.8M1635.6 1176.9h17M1577.8 1186.2h3.4M1574.4 1188.4h10.2M1659.4 1188.4h3.4M1581.2 1190.8h3.4M1652.6 1190.8h10.2M1581.2 1193h6.8M1591.4 1193h3.4M1642.4 1193h3.4M1649.2 1193h10.2M1584.6 1195.3h23.8M1632.2 1195.3h20.4M1608.4 1197.7h6.8M1628.8 1197.7h20.4M1608.4 1199.9h23.8M1618.6 1202.2h3.4"/><path stroke="#f0ee3e" d="M1591.4 498.4h3.4M1584.6 500.8h13.6M1584.6 503.1h17M1588 505.4h10.2M1588 1176.9h10.2M1588 1179.2h13.6M1584.6 1181.5h17M1581.2 1183.8h17M1581.2 1186.2h13.6M1584.6 1188.4h13.6M1584.6 1190.8h17M1588 1193h3.4M1594.8 1193h6.8"/><path stroke="#ccae24" d="M1608.4 496.1h30.6M1605 498.4h13.6M1628.8 498.4h10.2M1611.8 500.8h3.4M1632.2 500.8h3.4M1618.6 503.1h6.8"/><path stroke="#d59a1a" d="M1618.6 498.4h10.2M1615.2 500.8h17M1605 1176.9h13.6M1628.8 1176.9h3.4M1601.6 1179.2h3.4M1639 1179.2h3.4M1649.2 1179.2h3.4M1601.6 1181.5h3.4M1598.2 1183.8h10.2M1594.8 1186.2h6.8M1656 1186.2h3.4M1598.2 1188.4h3.4M1649.2 1188.4h10.2M1601.6 1190.8h3.4M1649.2 1190.8h3.4M1601.6 1193h17M1628.8 1193h13.6M1645.8 1193h3.4M1608.4 1195.3h23.8M1615.2 1197.7h13.6"/><path stroke="#de8214" d="M1635.6 1179.2h3.4M1642.4 1179.2h6.8M1635.6 1181.5h20.4M1642.4 1183.8h13.6M1645.8 1186.2h10.2M1642.4 1188.4h6.8M1639 1190.8h10.2"/><path stroke="#ee0c2e" d="M1618.6 1176.9h10.2M1632.2 1176.9h3.4M1605 1179.2h30.6M1605 1181.5h30.6M1632.2 1183.8h10.2M1601.6 1186.2h6.8M1635.6 1186.2h10.2M1601.6 1188.4h10.2M1632.2 1188.4h10.2M1605 1190.8h6.8M1625.4 1190.8h13.6M1618.6 1193h10.2"/><path stroke="#cc001c" d="M1608.4 1183.8h23.8M1608.4 1186.2h10.2M1622 1186.2h13.6M1611.8 1188.4h20.4M1611.8 1190.8h13.6"/><path stroke="#c00060" d="M1618.6 1186.2h3.4"/></g>
<path d="M1620.6 219.5V1759.5 M1670.7 219.5V1759.5" stroke="#fff" stroke-width="1.5" fill="none"/>
</g>
<text class="km" transform="translate(1598,223.5) rotate(90)">5 km</text>
<text class="km" transform="translate(1648,223.5) rotate(90)">10 km</text>
<text class="km" transform="translate(1697.5,223.5) rotate(90)">15 km</text>
<rect x="1721" y="219.50" width="37.2" height="120.61" fill="#88dfc0"/>
<rect x="1721" y="339.81" width="37.2" height="48.42" fill="#94e4c8"/>
<rect x="1721" y="387.94" width="37.2" height="24.36" fill="#a6ead0"/>
<rect x="1721" y="412.00" width="37.2" height="24.36" fill="#b2eed8"/>
<rect x="1721" y="436.06" width="37.2" height="24.36" fill="#c2f2e2"/>
<rect x="1721" y="460.12" width="37.2" height="24.36" fill="#def6ec"/>
<rect x="1721" y="484.19" width="37.2" height="24.36" fill="#ffffff"/>
<rect x="1721" y="508.25" width="37.2" height="24.36" fill="#9a0099"/>
<rect x="1721" y="532.31" width="37.2" height="24.36" fill="#b400b4"/>
<rect x="1721" y="556.38" width="37.2" height="24.36" fill="#cc00cc"/>
<rect x="1721" y="580.44" width="37.2" height="24.36" fill="#ea00ea"/>
<rect x="1721" y="604.50" width="37.2" height="24.36" fill="#d8009a"/>
<rect x="1721" y="628.56" width="37.2" height="24.36" fill="#c00060"/>
<rect x="1721" y="652.62" width="37.2" height="24.36" fill="#9c0000"/>
<rect x="1721" y="676.69" width="37.2" height="24.36" fill="#b00008"/>
<rect x="1721" y="700.75" width="37.2" height="24.36" fill="#c00014"/>
<rect x="1721" y="724.81" width="37.2" height="24.36" fill="#cc001c"/>
<rect x="1721" y="748.88" width="37.2" height="24.36" fill="#ee0c2e"/>
<rect x="1721" y="772.94" width="37.2" height="24.36" fill="#de8214"/>
<rect x="1721" y="797.00" width="37.2" height="24.36" fill="#d59a1a"/>
<rect x="1721" y="821.06" width="37.2" height="24.36" fill="#ccae24"/>
<rect x="1721" y="845.12" width="37.2" height="24.36" fill="#c2c42c"/>
<rect x="1721" y="869.19" width="37.2" height="24.36" fill="#cfd232"/>
<rect x="1721" y="893.25" width="37.2" height="24.36" fill="#d6da38"/>
<rect x="1721" y="917.31" width="37.2" height="24.36" fill="#e4e43c"/>
<rect x="1721" y="941.38" width="37.2" height="24.36" fill="#f0ee3e"/>
<rect x="1721" y="965.44" width="37.2" height="24.36" fill="#24701a"/>
<rect x="1721" y="989.50" width="37.2" height="24.36" fill="#2c8620"/>
<rect x="1721" y="1013.56" width="37.2" height="24.36" fill="#34a024"/>
<rect x="1721" y="1037.62" width="37.2" height="24.36" fill="#3aae28"/>
<rect x="1721" y="1061.69" width="37.2" height="24.36" fill="#40c02c"/>
<rect x="1721" y="1085.75" width="37.2" height="24.36" fill="#48d430"/>
<rect x="1721" y="1109.81" width="37.2" height="24.36" fill="#4cdc34"/>
<rect x="1721" y="1133.88" width="37.2" height="24.36" fill="#54f038"/>
<rect x="1721" y="1157.94" width="37.2" height="24.36" fill="#2aaed8"/>
<rect x="1721" y="1182.00" width="37.2" height="24.36" fill="#26a0ce"/>
<rect x="1721" y="1206.06" width="37.2" height="48.42" fill="#2a94c4"/>
<rect x="1721" y="1254.19" width="37.2" height="48.42" fill="#2e88bc"/>
<rect x="1721" y="1302.31" width="37.2" height="48.42" fill="#367cb0"/>
<rect x="1721" y="1350.44" width="37.2" height="72.49" fill="#3a70a4"/>
<rect x="1721" y="1422.62" width="37.2" height="72.49" fill="#3c6496"/>
<rect x="1721" y="1494.81" width="37.2" height="72.49" fill="#3c5a8a"/>
<rect x="1721" y="1567.00" width="37.2" height="72.49" fill="#3c4e7a"/>
<rect x="1721" y="1639.19" width="37.2" height="120.61" fill="#3c406c"/>
<path d="M1758.5 1687.31h9.7M1758.5 1607.10h9.7M1758.5 1526.90h9.7M1758.5 1446.69h9.7M1758.5 1366.48h9.7M1758.5 1286.27h9.7M1758.5 1206.06h9.7M1758.5 1125.85h9.7M1758.5 1045.65h9.7M1758.5 965.44h9.7M1758.5 885.23h9.7M1758.5 805.02h9.7M1758.5 724.81h9.7M1758.5 644.60h9.7M1758.5 564.40h9.7M1758.5 484.19h9.7M1758.5 403.98h9.7M1758.5 323.77h9.7M1758.5 243.56h9.7" stroke="#000" stroke-width="2.2" fill="none"/>
<g class="tk"><text x="1778.3" y="1699.5">−15</text><text x="1778.3" y="1619.3">−10</text><text x="1778.3" y="1539.1">−5</text><text x="1778.3" y="1458.9">0</text><text x="1778.3" y="1378.7">5</text><text x="1778.3" y="1298.5">10</text><text x="1778.3" y="1218.3">15</text><text x="1778.3" y="1138.1">20</text><text x="1778.3" y="1057.8">25</text><text x="1778.3" y="977.6">30</text><text x="1778.3" y="897.4">35</text><text x="1778.3" y="817.2">40</text><text x="1778.3" y="737.0">45</text><text x="1778.3" y="656.8">50</text><text x="1778.3" y="576.6">55</text><text x="1778.3" y="496.4">60</text><text x="1778.3" y="416.2">65</text><text x="1778.3" y="336.0">70</text><text x="1778.3" y="255.8">75</text></g>
<g fill="none" stroke="#000" stroke-width="2.6">
<rect x="19.5" y="63.5" width="1550" height="156"/>
<rect x="19.5" y="219.5" width="1550" height="1540"/>
<rect x="1569.5" y="219.5" width="151" height="1540"/>
<rect x="1721" y="219.5" width="37.2" height="1540" stroke-width="2.2"/>
<path d="M18.2 219H1570.8" stroke-width="4.4"/>
</g>
<style>.s1{font-family:"Liberation Sans","DejaVu Sans",sans-serif;font-size:28px;fill:#231f20;stroke:#231f20;stroke-width:0.5px}.s2{font-family:"Liberation Sans","DejaVu Sans",sans-serif;font-size:17.5px;fill:#231f20;stroke:#231f20;stroke-width:0.55px}.m1{font-family:"Liberation Serif","DejaVu Serif",serif;font-size:28px;font-weight:bold;fill:#242c4f}.m2{font-family:"Liberation Serif","DejaVu Serif",serif;font-size:16.6px;fill:#2e3966;stroke:#2e3966;stroke-width:0.35px}</style><path d="M138.6 1820.2A37.1 37.1 0 1 0 137.7 1849.5" fill="none" stroke="#ffb30a" stroke-width="20.2"/><path d="M99.3 1820.5 C113.5 1812.2 128.1 1813.2 142.7 1819.5 C153.1 1823.2 160.4 1820.9 166.7 1813.8 L166.7 1827.8 C160.4 1833.4 153.1 1834.7 142.7 1831.6 C128.1 1825.7 113.5 1825.1 99.3 1833Z" fill="#0091d4"/><path d="M99.3 1840.8 C113.5 1832.4 128.1 1833.4 142.7 1839.7 C153.1 1843.5 160.4 1841.2 166.7 1834.1 L166.7 1848.1 C160.4 1853.7 153.1 1854.9 142.7 1851.8 C128.1 1846 113.5 1845.3 99.3 1853.3Z" fill="#0091d4"/><text class="s1" x="178.2" y="1807" textLength="113" lengthAdjust="spacingAndGlyphs">Servicio</text><text class="s1" x="178.6" y="1833.5" textLength="202" lengthAdjust="spacingAndGlyphs">Meteorológico</text><text class="s1" x="178.6" y="1860.2" textLength="120" lengthAdjust="spacingAndGlyphs">Nacional</text><text class="s2" x="180.3" y="1880.6" textLength="93" lengthAdjust="spacingAndGlyphs">Argentina</text><g fill="none" stroke="#2f3a66" stroke-linecap="round"><path d="M523.1 1797.7L508.8 1800.3M522.9 1796.3L511.4 1796.6M523 1794.8L508.6 1793.2M523.2 1793.4L512.1 1790.4M523.7 1792L510.4 1786.3M524.4 1790.8L514.6 1784.7M525.2 1789.6L514.1 1780.3M526.3 1788.5L518.6 1779.9M527.4 1787.6L519.4 1775.5M528.7 1786.9L523.8 1776.5M530 1786.4L525.9 1772.5M531.5 1786.1L529.8 1774.7M532.9 1786L532.9 1771.5M534.3 1786.1L536 1774.7M535.8 1786.4L539.9 1772.5M537.1 1786.9L542 1776.5M538.4 1787.6L546.4 1775.5M539.5 1788.5L547.2 1779.9M540.6 1789.6L551.7 1780.3M541.4 1790.8L551.2 1784.7M542.1 1792L555.4 1786.3M542.6 1793.4L553.7 1790.4M542.8 1794.8L557.2 1793.2M542.9 1796.3L554.4 1796.6M542.7 1797.7L557 1800.3" stroke-width="1.1"/><path d="M523.9 1799A9 9 0 0 1 541.9 1799" stroke-width="1.2"/><path d="M527.9 1793.5h3M534.9 1793.5h3M532.9 1795v2.5" stroke-width="1.3"/><ellipse cx="532.9" cy="1842.5" rx="34.6" ry="42.9" stroke-width="5" stroke-dasharray="3.4 2.4" stroke-opacity="0.6"/><ellipse cx="532.9" cy="1842.5" rx="37" ry="45.2" stroke-width="1" stroke-dasharray="1.8 3" stroke-opacity="0.7"/><ellipse cx="532.9" cy="1840.6" rx="28.6" ry="39.4" stroke-width="1.5" fill="#e6e6e6"/><path d="M516.8 1809H549M513.6 1812.9H552.2M511.1 1816.8H554.7M509.2 1820.7H556.6M507.8 1824.6H558M506.7 1828.5H559.1M505.9 1832.4H559.9M505.5 1836.3H560.3M505.3 1840.2H560.5" stroke-width="0.7" stroke-opacity="0.75"/><path d="M505.9 1852 Q522.9 1843 532.9 1846 Q544.9 1849 559.9 1853" stroke-width="0.9" stroke-opacity="0.8"/><path d="M510.9 1861 L532.9 1853.5 L554.9 1861" stroke-width="1" stroke-opacity="0.85"/><path d="M528.4 1853 q4 -4 9 0 q-3 5 -9 0z M525.9 1855 l8 3 M539.9 1855 l-8 3" stroke-width="1"/><path d="M532.9 1826V1872" stroke-width="2"/><path d="M524.9 1828 q-2 -13 6 -15 q10 -1 11 9 q1 5 -2 7 q-6 -3 -15 -1z" stroke-width="1.3" fill="#e6e6e6"/><path d="M528.4 1884 h9 v5 h-9z" stroke-width="1.4" fill="#2f3a66" fill-opacity="0.85"/><path d="M529.4 1888 l-8 7 l5 0.5 l6 -5 M536.4 1888 l8 7 l-5 0.5 l-6 -5" stroke-width="1.6"/></g><g fill="none" stroke="#2f3a66" stroke-linecap="round"><path d="M884.1 1797.7L869.8 1800.3M883.9 1796.3L872.4 1796.6M884 1794.8L869.6 1793.2M884.2 1793.4L873.1 1790.4M884.7 1792L871.4 1786.3M885.4 1790.8L875.6 1784.7M886.2 1789.6L875.1 1780.3M887.3 1788.5L879.6 1779.9M888.4 1787.6L880.4 1775.5M889.7 1786.9L884.8 1776.5M891 1786.4L886.9 1772.5M892.5 1786.1L890.8 1774.7M893.9 1786L893.9 1771.5M895.3 1786.1L897 1774.7M896.8 1786.4L900.9 1772.5M898.1 1786.9L903 1776.5M899.4 1787.6L907.4 1775.5M900.5 1788.5L908.2 1779.9M901.6 1789.6L912.7 1780.3M902.4 1790.8L912.2 1784.7M903.1 1792L916.4 1786.3M903.6 1793.4L914.7 1790.4M903.8 1794.8L918.2 1793.2M903.9 1796.3L915.4 1796.6M903.7 1797.7L918 1800.3" stroke-width="1.1"/><path d="M884.9 1799A9 9 0 0 1 902.9 1799" stroke-width="1.2"/><path d="M888.9 1793.5h3M895.9 1793.5h3M893.9 1795v2.5" stroke-width="1.3"/><ellipse cx="893.9" cy="1842.5" rx="34.6" ry="42.9" stroke-width="5" stroke-dasharray="3.4 2.4" stroke-opacity="0.6"/><ellipse cx="893.9" cy="1842.5" rx="37" ry="45.2" stroke-width="1" stroke-dasharray="1.8 3" stroke-opacity="0.7"/><ellipse cx="893.9" cy="1840.6" rx="28.6" ry="39.4" stroke-width="1.5" fill="#e6e6e6"/><path d="M877.8 1809H910M874.6 1812.9H913.2M872.1 1816.8H915.7M870.2 1820.7H917.6M868.8 1824.6H919M867.7 1828.5H920.1M866.9 1832.4H920.9M866.5 1836.3H921.3M866.3 1840.2H921.5" stroke-width="0.7" stroke-opacity="0.75"/><path d="M866.9 1852 Q883.9 1843 893.9 1846 Q905.9 1849 920.9 1853" stroke-width="0.9" stroke-opacity="0.8"/><path d="M871.9 1861 L893.9 1853.5 L915.9 1861" stroke-width="1" stroke-opacity="0.85"/><path d="M889.4 1853 q4 -4 9 0 q-3 5 -9 0z M886.9 1855 l8 3 M900.9 1855 l-8 3" stroke-width="1"/><path d="M893.9 1826V1872" stroke-width="2"/><path d="M885.9 1828 q-2 -13 6 -15 q10 -1 11 9 q1 5 -2 7 q-6 -3 -15 -1z" stroke-width="1.3" fill="#e6e6e6"/><path d="M889.4 1884 h9 v5 h-9z" stroke-width="1.4" fill="#2f3a66" fill-opacity="0.85"/><path d="M890.4 1888 l-8 7 l5 0.5 l6 -5 M897.4 1888 l8 7 l-5 0.5 l-6 -5" stroke-width="1.6"/></g><text class="m1" x="583.3" y="1827.6" textLength="131.8" lengthAdjust="spacingAndGlyphs">Ministerio</text><text class="m1" x="583.3" y="1852.7" textLength="133" lengthAdjust="spacingAndGlyphs">de Defensa</text><text class="m2" x="583.5" y="1873.4" textLength="150.3" lengthAdjust="spacingAndGlyphs">República Argentina</text><text class="m1" x="946.7" y="1827.6" textLength="134.6" lengthAdjust="spacingAndGlyphs">Ministerio</text><text class="m1" x="946.7" y="1852.7" textLength="161.3" lengthAdjust="spacingAndGlyphs">de Economía</text><text class="m2" x="946.2" y="1873.4" textLength="152.8" lengthAdjust="spacingAndGlyphs">República Argentina</text>
</svg></body></html>
